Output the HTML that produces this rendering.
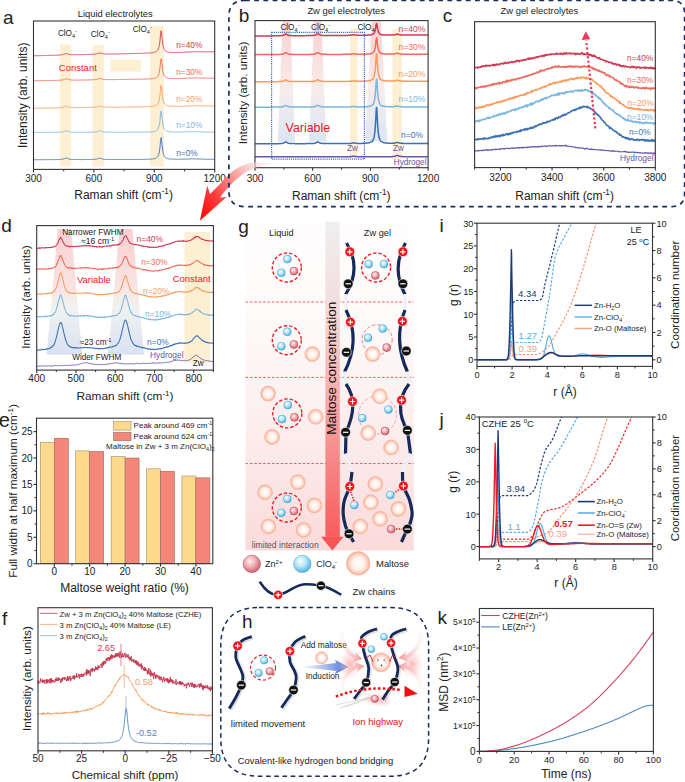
<!DOCTYPE html><html><head><meta charset="utf-8"><style>html,body{margin:0;padding:0;background:#fff;}svg{display:block;}text{font-family:"Liberation Sans",sans-serif;}</style></head><body><svg width="685" height="782" viewBox="0 0 685 782" font-family='"Liberation Sans", sans-serif'><defs><linearGradient id="bandB" x1="0" y1="0" x2="0" y2="1"><stop offset="0" stop-color="#fbd0d0"/><stop offset="0.55" stop-color="#f7ecea"/><stop offset="1" stop-color="#dde6f3"/></linearGradient><linearGradient id="bigar" gradientUnits="userSpaceOnUse" x1="272" y1="162" x2="205" y2="215"><stop offset="0" stop-color="#fde4e4" stop-opacity="0.3"/><stop offset="0.35" stop-color="#f9b8b8"/><stop offset="0.75" stop-color="#ff4040"/><stop offset="1" stop-color="#ff1010"/></linearGradient><linearGradient id="bandD" x1="0" y1="0" x2="0" y2="1"><stop offset="0" stop-color="#fbcfd0"/><stop offset="0.45" stop-color="#f9e3e2"/><stop offset="0.62" stop-color="#f1f2f0"/><stop offset="1" stop-color="#d9e2f2"/></linearGradient><radialGradient id="gB" cx="0.4" cy="0.35" r="0.7"><stop offset="0" stop-color="#ffffff"/><stop offset="0.45" stop-color="#b4e6f8"/><stop offset="1" stop-color="#44a8dc"/></radialGradient><radialGradient id="gR" cx="0.4" cy="0.35" r="0.7"><stop offset="0" stop-color="#fff0f0"/><stop offset="0.45" stop-color="#eeb0b6"/><stop offset="1" stop-color="#cc5866"/></radialGradient><radialGradient id="gM" cx="0.5" cy="0.5" r="0.5"><stop offset="0" stop-color="#ffffff"/><stop offset="0.55" stop-color="#fff0ea"/><stop offset="0.85" stop-color="#fcc6b2"/><stop offset="1" stop-color="#f6ac92"/></radialGradient><linearGradient id="gbg" x1="0" y1="0" x2="0" y2="1"><stop offset="0" stop-color="#fffdfd"/><stop offset="0.3" stop-color="#fefafa"/><stop offset="0.5" stop-color="#fdf3f3"/><stop offset="0.72" stop-color="#fce9e9"/><stop offset="1" stop-color="#fbdada"/></linearGradient><linearGradient id="garr" x1="0" y1="0" x2="0" y2="1"><stop offset="0" stop-color="#efefef"/><stop offset="0.25" stop-color="#f3dede"/><stop offset="0.5" stop-color="#f7b4b4"/><stop offset="1" stop-color="#f85c5c"/></linearGradient><linearGradient id="gblue" x1="0" y1="0" x2="1" y2="0"><stop offset="0" stop-color="#c8d8f4" stop-opacity="0.4"/><stop offset="1" stop-color="#3a68d0"/></linearGradient><radialGradient id="gglow" cx="0.5" cy="0.5" r="0.5"><stop offset="0" stop-color="#f8b0b0" stop-opacity="0.9"/><stop offset="1" stop-color="#fde0e0" stop-opacity="0"/></radialGradient><linearGradient id="gpkL" x1="0" y1="0" x2="1" y2="0"><stop offset="0" stop-color="#fbd4d4" stop-opacity="0"/><stop offset="1" stop-color="#f49494"/></linearGradient><linearGradient id="gpkR" x1="1" y1="0" x2="0" y2="0"><stop offset="0" stop-color="#fbd4d4" stop-opacity="0"/><stop offset="1" stop-color="#f49494"/></linearGradient><clipPath id="clipI"><rect x="477.0" y="223.2" width="175.5" height="143.2"/></clipPath><clipPath id="clipJ"><rect x="479.4" y="417.0" width="173.30000000000007" height="141.89999999999998"/></clipPath></defs><rect x="60" y="44.5" width="11.2" height="122" fill="#fdf0d2" stroke="none" stroke-width="1"/>
<rect x="92.6" y="45" width="11.2" height="121.5" fill="#fdf0d2" stroke="none" stroke-width="1"/>
<rect x="150" y="26" width="14" height="140.5" fill="#fdf0d2" stroke="none" stroke-width="1"/>
<rect x="110.4" y="60" width="30.6" height="11.6" fill="#fdf0d2" stroke="none" stroke-width="1"/>
<path d="M33.5,55.8 L33.9,55.8 L34.2,55.8 L34.6,55.8 L35.0,55.8 L35.3,55.7 L35.7,55.7 L36.0,55.7 L36.4,55.7 L36.8,55.7 L37.1,55.7 L37.5,55.7 L37.9,55.7 L38.2,55.7 L38.6,55.7 L38.9,55.7 L39.3,55.7 L39.7,55.6 L40.0,55.6 L40.4,55.6 L40.8,55.6 L41.1,55.6 L41.5,55.6 L41.9,55.6 L42.2,55.6 L42.6,55.6 L42.9,55.6 L43.3,55.6 L43.7,55.6 L44.0,55.5 L44.4,55.5 L44.8,55.5 L45.1,55.5 L45.5,55.5 L45.8,55.5 L46.2,55.5 L46.6,55.5 L46.9,55.5 L47.3,55.5 L47.7,55.5 L48.0,55.4 L48.4,55.4 L48.8,55.4 L49.1,55.4 L49.5,55.4 L49.8,55.4 L50.2,55.4 L50.6,55.4 L50.9,55.4 L51.3,55.4 L51.7,55.3 L52.0,55.3 L52.4,55.3 L52.7,55.3 L53.1,55.3 L53.5,55.3 L53.8,55.3 L54.2,55.3 L54.6,55.3 L54.9,55.2 L55.3,55.2 L55.7,55.2 L56.0,55.2 L56.4,55.2 L56.7,55.2 L57.1,55.2 L57.5,55.1 L57.8,55.1 L58.2,55.1 L58.6,55.1 L58.9,55.1 L59.3,55.0 L59.6,55.0 L60.0,55.0 L60.4,55.0 L60.7,54.9 L61.1,54.9 L61.5,54.8 L61.8,54.8 L62.2,54.7 L62.6,54.6 L62.9,54.6 L63.3,54.5 L63.6,54.3 L64.0,54.2 L64.4,54.1 L64.7,53.9 L65.1,53.7 L65.5,53.6 L65.8,53.5 L66.2,53.5 L66.5,53.5 L66.9,53.6 L67.3,53.7 L67.6,53.9 L68.0,54.0 L68.4,54.2 L68.7,54.3 L69.1,54.4 L69.4,54.4 L69.8,54.5 L70.2,54.6 L70.5,54.6 L70.9,54.6 L71.3,54.7 L71.6,54.7 L72.0,54.7 L72.4,54.7 L72.7,54.7 L73.1,54.7 L73.4,54.7 L73.8,54.7 L74.2,54.8 L74.5,54.8 L74.9,54.8 L75.3,54.8 L75.6,54.8 L76.0,54.8 L76.3,54.7 L76.7,54.7 L77.1,54.7 L77.4,54.7 L77.8,54.7 L78.2,54.7 L78.5,54.7 L78.9,54.7 L79.3,54.7 L79.6,54.7 L80.0,54.7 L80.3,54.7 L80.7,54.7 L81.1,54.7 L81.4,54.7 L81.8,54.7 L82.2,54.7 L82.5,54.6 L82.9,54.6 L83.2,54.6 L83.6,54.6 L84.0,54.6 L84.3,54.6 L84.7,54.6 L85.1,54.6 L85.4,54.6 L85.8,54.6 L86.2,54.6 L86.5,54.6 L86.9,54.5 L87.2,54.5 L87.6,54.5 L88.0,54.5 L88.3,54.5 L88.7,54.5 L89.1,54.5 L89.4,54.5 L89.8,54.5 L90.1,54.4 L90.5,54.4 L90.9,54.4 L91.2,54.4 L91.6,54.4 L92.0,54.4 L92.3,54.3 L92.7,54.3 L93.1,54.3 L93.4,54.3 L93.8,54.2 L94.1,54.2 L94.5,54.2 L94.9,54.1 L95.2,54.1 L95.6,54.0 L96.0,54.0 L96.3,53.9 L96.7,53.8 L97.0,53.7 L97.4,53.6 L97.8,53.4 L98.1,53.3 L98.5,53.2 L98.9,53.0 L99.2,53.0 L99.6,52.9 L100.0,53.0 L100.3,53.0 L100.7,53.2 L101.0,53.3 L101.4,53.4 L101.8,53.5 L102.1,53.6 L102.5,53.7 L102.9,53.8 L103.2,53.8 L103.6,53.9 L103.9,53.9 L104.3,53.9 L104.7,54.0 L105.0,54.0 L105.4,54.0 L105.8,54.0 L106.1,54.0 L106.5,54.0 L106.9,54.0 L107.2,54.0 L107.6,54.0 L107.9,54.0 L108.3,54.0 L108.7,54.0 L109.0,54.0 L109.4,54.0 L109.8,54.0 L110.1,54.0 L110.5,54.0 L110.8,54.0 L111.2,54.0 L111.6,54.0 L111.9,54.0 L112.3,54.0 L112.7,54.0 L113.0,54.0 L113.4,54.0 L113.8,54.0 L114.1,54.0 L114.5,54.0 L114.8,53.9 L115.2,53.9 L115.6,53.9 L115.9,53.9 L116.3,53.9 L116.7,53.9 L117.0,53.9 L117.4,53.9 L117.7,53.9 L118.1,53.9 L118.5,53.9 L118.8,53.9 L119.2,53.9 L119.6,53.9 L119.9,53.8 L120.3,53.8 L120.7,53.8 L121.0,53.8 L121.4,53.8 L121.7,53.8 L122.1,53.8 L122.5,53.8 L122.8,53.8 L123.2,53.8 L123.6,53.8 L123.9,53.8 L124.3,53.8 L124.6,53.7 L125.0,53.7 L125.4,53.7 L125.7,53.7 L126.1,53.7 L126.5,53.7 L126.8,53.7 L127.2,53.7 L127.5,53.7 L127.9,53.7 L128.3,53.7 L128.6,53.7 L129.0,53.6 L129.4,53.6 L129.7,53.6 L130.1,53.6 L130.5,53.6 L130.8,53.6 L131.2,53.6 L131.5,53.6 L131.9,53.6 L132.3,53.6 L132.6,53.6 L133.0,53.5 L133.4,53.5 L133.7,53.5 L134.1,53.5 L134.4,53.5 L134.8,53.5 L135.2,53.5 L135.5,53.5 L135.9,53.5 L136.3,53.5 L136.6,53.5 L137.0,53.4 L137.4,53.4 L137.7,53.4 L138.1,53.4 L138.4,53.4 L138.8,53.4 L139.2,53.4 L139.5,53.4 L139.9,53.4 L140.3,53.3 L140.6,53.3 L141.0,53.3 L141.3,53.3 L141.7,53.3 L142.1,53.3 L142.4,53.3 L142.8,53.3 L143.2,53.3 L143.5,53.2 L143.9,53.2 L144.3,53.2 L144.6,53.2 L145.0,53.2 L145.3,53.2 L145.7,53.2 L146.1,53.1 L146.4,53.1 L146.8,53.1 L147.2,53.1 L147.5,53.1 L147.9,53.1 L148.2,53.0 L148.6,53.0 L149.0,53.0 L149.3,53.0 L149.7,52.9 L150.1,52.9 L150.4,52.9 L150.8,52.9 L151.2,52.8 L151.5,52.8 L151.9,52.7 L152.2,52.7 L152.6,52.7 L153.0,52.6 L153.3,52.5 L153.7,52.5 L154.1,52.4 L154.4,52.3 L154.8,52.2 L155.1,52.1 L155.5,52.0 L155.9,51.8 L156.2,51.6 L156.6,51.4 L157.0,51.1 L157.3,50.7 L157.7,50.2 L158.1,49.6 L158.4,48.8 L158.8,47.8 L159.1,46.3 L159.5,44.3 L159.9,41.5 L160.2,37.9 L160.6,33.9 L161.0,30.9 L161.3,30.9 L161.7,33.7 L162.0,37.7 L162.4,41.3 L162.8,44.1 L163.1,46.1 L163.5,47.6 L163.9,48.7 L164.2,49.5 L164.6,50.1 L165.0,50.5 L165.3,50.9 L165.7,51.1 L166.0,51.4 L166.4,51.6 L166.8,51.7 L167.1,51.8 L167.5,51.9 L167.9,52.0 L168.2,52.1 L168.6,52.1 L168.9,52.2 L169.3,52.2 L169.7,52.3 L170.0,52.3 L170.4,52.3 L170.8,52.4 L171.1,52.4 L171.5,52.4 L171.9,52.4 L172.2,52.4 L172.6,52.4 L172.9,52.4 L173.3,52.4 L173.7,52.4 L174.0,52.4 L174.4,52.4 L174.8,52.4 L175.1,52.4 L175.5,52.4 L175.8,52.4 L176.2,52.4 L176.6,52.4 L176.9,52.4 L177.3,52.4 L177.7,52.4 L178.0,52.4 L178.4,52.4 L178.8,52.4 L179.1,52.4 L179.5,52.4 L179.8,52.4 L180.2,52.4 L180.6,52.3 L180.9,52.3 L181.3,52.3 L181.7,52.3 L182.0,52.3 L182.4,52.3 L182.7,52.3 L183.1,52.2 L183.5,52.2 L183.8,52.2 L184.2,52.2 L184.6,52.2 L184.9,52.1 L185.3,52.1 L185.6,52.1 L186.0,52.1 L186.4,52.1 L186.7,52.0 L187.1,52.0 L187.5,52.0 L187.8,52.0 L188.2,52.0 L188.6,51.9 L188.9,51.9 L189.3,51.9 L189.6,51.9 L190.0,51.9 L190.4,51.9 L190.7,51.8 L191.1,51.8 L191.5,51.8 L191.8,51.8 L192.2,51.8 L192.5,51.8 L192.9,51.8 L193.3,51.7 L193.6,51.7 L194.0,51.7 L194.4,51.7 L194.7,51.7 L195.1,51.7 L195.5,51.7 L195.8,51.7 L196.2,51.7 L196.5,51.7 L196.9,51.7 L197.3,51.7 L197.6,51.7 L198.0,51.7 L198.4,51.7 L198.7,51.7 L199.1,51.7 L199.4,51.7 L199.8,51.7 L200.2,51.7 L200.5,51.7 L200.9,51.7 L201.3,51.7 L201.6,51.7 L202.0,51.7 L202.4,51.7 L202.7,51.7 L203.1,51.7 L203.4,51.8 L203.8,51.8 L204.2,51.8 L204.5,51.8 L204.9,51.8 L205.3,51.8 L205.6,51.8 L206.0,51.8 L206.3,51.8 L206.7,51.8 L207.1,51.8 L207.4,51.8 L207.8,51.8 L208.2,51.8 L208.5,51.8 L208.9,51.8 L209.3,51.8 L209.6,51.8 L210.0,51.8 L210.3,51.8 L210.7,51.8 L211.1,51.8 L211.4,51.8 L211.8,51.8 L212.2,51.8 L212.5,51.8 L212.9,51.8 L213.2,51.8 L213.6,51.8 L214.0,51.8 L214.3,51.8 L214.7,51.8" stroke="#d03a55" stroke-width="0.9" fill="none" stroke-linejoin="round"/>
<path d="M33.5,80.8 L33.9,80.8 L34.2,80.8 L34.6,80.8 L35.0,80.8 L35.3,80.8 L35.7,80.8 L36.0,80.7 L36.4,80.7 L36.8,80.7 L37.1,80.7 L37.5,80.7 L37.9,80.7 L38.2,80.7 L38.6,80.7 L38.9,80.7 L39.3,80.7 L39.7,80.7 L40.0,80.7 L40.4,80.7 L40.8,80.7 L41.1,80.7 L41.5,80.7 L41.9,80.7 L42.2,80.7 L42.6,80.6 L42.9,80.6 L43.3,80.6 L43.7,80.6 L44.0,80.6 L44.4,80.6 L44.8,80.6 L45.1,80.6 L45.5,80.6 L45.8,80.6 L46.2,80.6 L46.6,80.6 L46.9,80.6 L47.3,80.6 L47.7,80.6 L48.0,80.6 L48.4,80.6 L48.8,80.5 L49.1,80.5 L49.5,80.5 L49.8,80.5 L50.2,80.5 L50.6,80.5 L50.9,80.5 L51.3,80.5 L51.7,80.5 L52.0,80.5 L52.4,80.5 L52.7,80.5 L53.1,80.5 L53.5,80.5 L53.8,80.4 L54.2,80.4 L54.6,80.4 L54.9,80.4 L55.3,80.4 L55.7,80.4 L56.0,80.4 L56.4,80.4 L56.7,80.4 L57.1,80.3 L57.5,80.3 L57.8,80.3 L58.2,80.3 L58.6,80.3 L58.9,80.3 L59.3,80.2 L59.6,80.2 L60.0,80.2 L60.4,80.2 L60.7,80.1 L61.1,80.1 L61.5,80.1 L61.8,80.0 L62.2,79.9 L62.6,79.9 L62.9,79.8 L63.3,79.7 L63.6,79.6 L64.0,79.4 L64.4,79.3 L64.7,79.1 L65.1,79.0 L65.5,78.8 L65.8,78.7 L66.2,78.7 L66.5,78.8 L66.9,78.9 L67.3,79.0 L67.6,79.2 L68.0,79.3 L68.4,79.4 L68.7,79.5 L69.1,79.6 L69.4,79.7 L69.8,79.8 L70.2,79.8 L70.5,79.9 L70.9,79.9 L71.3,80.0 L71.6,80.0 L72.0,80.0 L72.4,80.0 L72.7,80.0 L73.1,80.0 L73.4,80.1 L73.8,80.1 L74.2,80.1 L74.5,80.1 L74.9,80.1 L75.3,80.1 L75.6,80.1 L76.0,80.1 L76.3,80.1 L76.7,80.1 L77.1,80.1 L77.4,80.1 L77.8,80.1 L78.2,80.1 L78.5,80.1 L78.9,80.1 L79.3,80.1 L79.6,80.1 L80.0,80.1 L80.3,80.1 L80.7,80.1 L81.1,80.0 L81.4,80.0 L81.8,80.0 L82.2,80.0 L82.5,80.0 L82.9,80.0 L83.2,80.0 L83.6,80.0 L84.0,80.0 L84.3,80.0 L84.7,80.0 L85.1,80.0 L85.4,80.0 L85.8,80.0 L86.2,80.0 L86.5,80.0 L86.9,80.0 L87.2,79.9 L87.6,79.9 L88.0,79.9 L88.3,79.9 L88.7,79.9 L89.1,79.9 L89.4,79.9 L89.8,79.9 L90.1,79.9 L90.5,79.9 L90.9,79.9 L91.2,79.8 L91.6,79.8 L92.0,79.8 L92.3,79.8 L92.7,79.8 L93.1,79.8 L93.4,79.7 L93.8,79.7 L94.1,79.7 L94.5,79.6 L94.9,79.6 L95.2,79.6 L95.6,79.5 L96.0,79.4 L96.3,79.4 L96.7,79.3 L97.0,79.2 L97.4,79.1 L97.8,78.9 L98.1,78.8 L98.5,78.7 L98.9,78.5 L99.2,78.5 L99.6,78.4 L100.0,78.5 L100.3,78.6 L100.7,78.7 L101.0,78.8 L101.4,78.9 L101.8,79.0 L102.1,79.1 L102.5,79.2 L102.9,79.3 L103.2,79.4 L103.6,79.4 L103.9,79.4 L104.3,79.5 L104.7,79.5 L105.0,79.5 L105.4,79.5 L105.8,79.6 L106.1,79.6 L106.5,79.6 L106.9,79.6 L107.2,79.6 L107.6,79.6 L107.9,79.6 L108.3,79.6 L108.7,79.6 L109.0,79.6 L109.4,79.6 L109.8,79.6 L110.1,79.6 L110.5,79.6 L110.8,79.6 L111.2,79.6 L111.6,79.6 L111.9,79.6 L112.3,79.6 L112.7,79.6 L113.0,79.6 L113.4,79.6 L113.8,79.6 L114.1,79.6 L114.5,79.6 L114.8,79.6 L115.2,79.6 L115.6,79.6 L115.9,79.6 L116.3,79.6 L116.7,79.6 L117.0,79.6 L117.4,79.5 L117.7,79.5 L118.1,79.5 L118.5,79.5 L118.8,79.5 L119.2,79.5 L119.6,79.5 L119.9,79.5 L120.3,79.5 L120.7,79.5 L121.0,79.5 L121.4,79.5 L121.7,79.5 L122.1,79.5 L122.5,79.5 L122.8,79.5 L123.2,79.5 L123.6,79.5 L123.9,79.5 L124.3,79.5 L124.6,79.5 L125.0,79.4 L125.4,79.4 L125.7,79.4 L126.1,79.4 L126.5,79.4 L126.8,79.4 L127.2,79.4 L127.5,79.4 L127.9,79.4 L128.3,79.4 L128.6,79.4 L129.0,79.4 L129.4,79.4 L129.7,79.4 L130.1,79.4 L130.5,79.4 L130.8,79.4 L131.2,79.3 L131.5,79.3 L131.9,79.3 L132.3,79.3 L132.6,79.3 L133.0,79.3 L133.4,79.3 L133.7,79.3 L134.1,79.3 L134.4,79.3 L134.8,79.3 L135.2,79.3 L135.5,79.3 L135.9,79.3 L136.3,79.3 L136.6,79.3 L137.0,79.2 L137.4,79.2 L137.7,79.2 L138.1,79.2 L138.4,79.2 L138.8,79.2 L139.2,79.2 L139.5,79.2 L139.9,79.2 L140.3,79.2 L140.6,79.2 L141.0,79.2 L141.3,79.2 L141.7,79.1 L142.1,79.1 L142.4,79.1 L142.8,79.1 L143.2,79.1 L143.5,79.1 L143.9,79.1 L144.3,79.1 L144.6,79.1 L145.0,79.1 L145.3,79.1 L145.7,79.0 L146.1,79.0 L146.4,79.0 L146.8,79.0 L147.2,79.0 L147.5,79.0 L147.9,79.0 L148.2,78.9 L148.6,78.9 L149.0,78.9 L149.3,78.9 L149.7,78.9 L150.1,78.8 L150.4,78.8 L150.8,78.8 L151.2,78.8 L151.5,78.7 L151.9,78.7 L152.2,78.7 L152.6,78.6 L153.0,78.6 L153.3,78.5 L153.7,78.5 L154.1,78.4 L154.4,78.3 L154.8,78.2 L155.1,78.1 L155.5,78.0 L155.9,77.9 L156.2,77.7 L156.6,77.5 L157.0,77.2 L157.3,76.9 L157.7,76.4 L158.1,75.9 L158.4,75.2 L158.8,74.2 L159.1,72.9 L159.5,71.0 L159.9,68.5 L160.2,65.2 L160.6,61.6 L161.0,58.9 L161.3,58.8 L161.7,61.4 L162.0,65.0 L162.4,68.3 L162.8,70.9 L163.1,72.8 L163.5,74.1 L163.9,75.1 L164.2,75.8 L164.6,76.3 L165.0,76.7 L165.3,77.1 L165.7,77.3 L166.0,77.5 L166.4,77.7 L166.8,77.8 L167.1,77.9 L167.5,78.0 L167.9,78.1 L168.2,78.2 L168.6,78.2 L168.9,78.3 L169.3,78.3 L169.7,78.4 L170.0,78.4 L170.4,78.4 L170.8,78.4 L171.1,78.5 L171.5,78.5 L171.9,78.5 L172.2,78.5 L172.6,78.5 L172.9,78.5 L173.3,78.5 L173.7,78.5 L174.0,78.6 L174.4,78.6 L174.8,78.6 L175.1,78.6 L175.5,78.6 L175.8,78.6 L176.2,78.6 L176.6,78.6 L176.9,78.6 L177.3,78.6 L177.7,78.5 L178.0,78.5 L178.4,78.5 L178.8,78.5 L179.1,78.5 L179.5,78.5 L179.8,78.5 L180.2,78.5 L180.6,78.5 L180.9,78.5 L181.3,78.5 L181.7,78.5 L182.0,78.4 L182.4,78.4 L182.7,78.4 L183.1,78.4 L183.5,78.4 L183.8,78.4 L184.2,78.4 L184.6,78.3 L184.9,78.3 L185.3,78.3 L185.6,78.3 L186.0,78.3 L186.4,78.3 L186.7,78.2 L187.1,78.2 L187.5,78.2 L187.8,78.2 L188.2,78.2 L188.6,78.1 L188.9,78.1 L189.3,78.1 L189.6,78.1 L190.0,78.1 L190.4,78.1 L190.7,78.1 L191.1,78.0 L191.5,78.0 L191.8,78.0 L192.2,78.0 L192.5,78.0 L192.9,78.0 L193.3,78.0 L193.6,78.0 L194.0,78.0 L194.4,78.0 L194.7,78.0 L195.1,78.0 L195.5,77.9 L195.8,77.9 L196.2,77.9 L196.5,77.9 L196.9,77.9 L197.3,77.9 L197.6,78.0 L198.0,78.0 L198.4,78.0 L198.7,78.0 L199.1,78.0 L199.4,78.0 L199.8,78.0 L200.2,78.0 L200.5,78.0 L200.9,78.0 L201.3,78.0 L201.6,78.0 L202.0,78.0 L202.4,78.0 L202.7,78.1 L203.1,78.1 L203.4,78.1 L203.8,78.1 L204.2,78.1 L204.5,78.1 L204.9,78.1 L205.3,78.1 L205.6,78.1 L206.0,78.1 L206.3,78.1 L206.7,78.1 L207.1,78.1 L207.4,78.1 L207.8,78.2 L208.2,78.2 L208.5,78.2 L208.9,78.2 L209.3,78.2 L209.6,78.2 L210.0,78.2 L210.3,78.2 L210.7,78.2 L211.1,78.2 L211.4,78.2 L211.8,78.2 L212.2,78.2 L212.5,78.2 L212.9,78.2 L213.2,78.2 L213.6,78.2 L214.0,78.2 L214.3,78.2 L214.7,78.2" stroke="#ee6a5a" stroke-width="0.9" fill="none" stroke-linejoin="round"/>
<path d="M33.5,108.3 L33.9,108.3 L34.2,108.3 L34.6,108.3 L35.0,108.3 L35.3,108.3 L35.7,108.3 L36.0,108.3 L36.4,108.2 L36.8,108.2 L37.1,108.2 L37.5,108.2 L37.9,108.2 L38.2,108.2 L38.6,108.2 L38.9,108.2 L39.3,108.2 L39.7,108.2 L40.0,108.2 L40.4,108.2 L40.8,108.2 L41.1,108.2 L41.5,108.2 L41.9,108.2 L42.2,108.2 L42.6,108.2 L42.9,108.2 L43.3,108.2 L43.7,108.1 L44.0,108.1 L44.4,108.1 L44.8,108.1 L45.1,108.1 L45.5,108.1 L45.8,108.1 L46.2,108.1 L46.6,108.1 L46.9,108.1 L47.3,108.1 L47.7,108.1 L48.0,108.1 L48.4,108.1 L48.8,108.1 L49.1,108.1 L49.5,108.1 L49.8,108.1 L50.2,108.0 L50.6,108.0 L50.9,108.0 L51.3,108.0 L51.7,108.0 L52.0,108.0 L52.4,108.0 L52.7,108.0 L53.1,108.0 L53.5,108.0 L53.8,108.0 L54.2,108.0 L54.6,108.0 L54.9,107.9 L55.3,107.9 L55.7,107.9 L56.0,107.9 L56.4,107.9 L56.7,107.9 L57.1,107.9 L57.5,107.9 L57.8,107.9 L58.2,107.8 L58.6,107.8 L58.9,107.8 L59.3,107.8 L59.6,107.8 L60.0,107.7 L60.4,107.7 L60.7,107.7 L61.1,107.6 L61.5,107.6 L61.8,107.5 L62.2,107.5 L62.6,107.4 L62.9,107.3 L63.3,107.2 L63.6,107.1 L64.0,107.0 L64.4,106.8 L64.7,106.7 L65.1,106.5 L65.5,106.4 L65.8,106.3 L66.2,106.3 L66.5,106.3 L66.9,106.4 L67.3,106.6 L67.6,106.7 L68.0,106.9 L68.4,107.0 L68.7,107.1 L69.1,107.2 L69.4,107.3 L69.8,107.3 L70.2,107.4 L70.5,107.4 L70.9,107.5 L71.3,107.5 L71.6,107.5 L72.0,107.6 L72.4,107.6 L72.7,107.6 L73.1,107.6 L73.4,107.6 L73.8,107.6 L74.2,107.6 L74.5,107.6 L74.9,107.6 L75.3,107.6 L75.6,107.6 L76.0,107.7 L76.3,107.7 L76.7,107.7 L77.1,107.7 L77.4,107.7 L77.8,107.6 L78.2,107.6 L78.5,107.6 L78.9,107.6 L79.3,107.6 L79.6,107.6 L80.0,107.6 L80.3,107.6 L80.7,107.6 L81.1,107.6 L81.4,107.6 L81.8,107.6 L82.2,107.6 L82.5,107.6 L82.9,107.6 L83.2,107.6 L83.6,107.6 L84.0,107.6 L84.3,107.6 L84.7,107.6 L85.1,107.6 L85.4,107.6 L85.8,107.6 L86.2,107.6 L86.5,107.6 L86.9,107.5 L87.2,107.5 L87.6,107.5 L88.0,107.5 L88.3,107.5 L88.7,107.5 L89.1,107.5 L89.4,107.5 L89.8,107.5 L90.1,107.5 L90.5,107.5 L90.9,107.4 L91.2,107.4 L91.6,107.4 L92.0,107.4 L92.3,107.4 L92.7,107.4 L93.1,107.4 L93.4,107.3 L93.8,107.3 L94.1,107.3 L94.5,107.2 L94.9,107.2 L95.2,107.2 L95.6,107.1 L96.0,107.0 L96.3,107.0 L96.7,106.9 L97.0,106.8 L97.4,106.7 L97.8,106.6 L98.1,106.4 L98.5,106.3 L98.9,106.2 L99.2,106.1 L99.6,106.0 L100.0,106.1 L100.3,106.2 L100.7,106.3 L101.0,106.4 L101.4,106.5 L101.8,106.7 L102.1,106.8 L102.5,106.8 L102.9,106.9 L103.2,107.0 L103.6,107.0 L103.9,107.1 L104.3,107.1 L104.7,107.1 L105.0,107.1 L105.4,107.2 L105.8,107.2 L106.1,107.2 L106.5,107.2 L106.9,107.2 L107.2,107.2 L107.6,107.2 L107.9,107.2 L108.3,107.2 L108.7,107.2 L109.0,107.2 L109.4,107.2 L109.8,107.2 L110.1,107.2 L110.5,107.2 L110.8,107.2 L111.2,107.2 L111.6,107.2 L111.9,107.2 L112.3,107.2 L112.7,107.2 L113.0,107.2 L113.4,107.2 L113.8,107.2 L114.1,107.2 L114.5,107.2 L114.8,107.2 L115.2,107.2 L115.6,107.2 L115.9,107.2 L116.3,107.2 L116.7,107.2 L117.0,107.2 L117.4,107.2 L117.7,107.2 L118.1,107.2 L118.5,107.2 L118.8,107.2 L119.2,107.2 L119.6,107.2 L119.9,107.2 L120.3,107.2 L120.7,107.2 L121.0,107.1 L121.4,107.1 L121.7,107.1 L122.1,107.1 L122.5,107.1 L122.8,107.1 L123.2,107.1 L123.6,107.1 L123.9,107.1 L124.3,107.1 L124.6,107.1 L125.0,107.1 L125.4,107.1 L125.7,107.1 L126.1,107.1 L126.5,107.1 L126.8,107.1 L127.2,107.1 L127.5,107.1 L127.9,107.1 L128.3,107.1 L128.6,107.0 L129.0,107.0 L129.4,107.0 L129.7,107.0 L130.1,107.0 L130.5,107.0 L130.8,107.0 L131.2,107.0 L131.5,107.0 L131.9,107.0 L132.3,107.0 L132.6,107.0 L133.0,107.0 L133.4,107.0 L133.7,107.0 L134.1,107.0 L134.4,107.0 L134.8,107.0 L135.2,106.9 L135.5,106.9 L135.9,106.9 L136.3,106.9 L136.6,106.9 L137.0,106.9 L137.4,106.9 L137.7,106.9 L138.1,106.9 L138.4,106.9 L138.8,106.9 L139.2,106.9 L139.5,106.9 L139.9,106.9 L140.3,106.9 L140.6,106.8 L141.0,106.8 L141.3,106.8 L141.7,106.8 L142.1,106.8 L142.4,106.8 L142.8,106.8 L143.2,106.8 L143.5,106.8 L143.9,106.8 L144.3,106.8 L144.6,106.8 L145.0,106.7 L145.3,106.7 L145.7,106.7 L146.1,106.7 L146.4,106.7 L146.8,106.7 L147.2,106.7 L147.5,106.7 L147.9,106.6 L148.2,106.6 L148.6,106.6 L149.0,106.6 L149.3,106.6 L149.7,106.5 L150.1,106.5 L150.4,106.5 L150.8,106.5 L151.2,106.4 L151.5,106.4 L151.9,106.4 L152.2,106.3 L152.6,106.3 L153.0,106.2 L153.3,106.2 L153.7,106.1 L154.1,106.1 L154.4,106.0 L154.8,105.9 L155.1,105.8 L155.5,105.6 L155.9,105.5 L156.2,105.3 L156.6,105.1 L157.0,104.8 L157.3,104.5 L157.7,104.0 L158.1,103.5 L158.4,102.7 L158.8,101.7 L159.1,100.3 L159.5,98.3 L159.9,95.7 L160.2,92.2 L160.6,88.4 L161.0,85.6 L161.3,85.6 L161.7,88.3 L162.0,92.1 L162.4,95.5 L162.8,98.2 L163.1,100.2 L163.5,101.6 L163.9,102.6 L164.2,103.3 L164.6,103.9 L165.0,104.4 L165.3,104.7 L165.7,105.0 L166.0,105.2 L166.4,105.4 L166.8,105.5 L167.1,105.6 L167.5,105.7 L167.9,105.8 L168.2,105.9 L168.6,105.9 L168.9,106.0 L169.3,106.0 L169.7,106.1 L170.0,106.1 L170.4,106.1 L170.8,106.2 L171.1,106.2 L171.5,106.2 L171.9,106.2 L172.2,106.2 L172.6,106.2 L172.9,106.3 L173.3,106.3 L173.7,106.3 L174.0,106.3 L174.4,106.3 L174.8,106.3 L175.1,106.3 L175.5,106.3 L175.8,106.3 L176.2,106.3 L176.6,106.3 L176.9,106.3 L177.3,106.3 L177.7,106.3 L178.0,106.3 L178.4,106.3 L178.8,106.3 L179.1,106.3 L179.5,106.2 L179.8,106.2 L180.2,106.2 L180.6,106.2 L180.9,106.2 L181.3,106.2 L181.7,106.2 L182.0,106.2 L182.4,106.2 L182.7,106.2 L183.1,106.1 L183.5,106.1 L183.8,106.1 L184.2,106.1 L184.6,106.1 L184.9,106.1 L185.3,106.1 L185.6,106.0 L186.0,106.0 L186.4,106.0 L186.7,106.0 L187.1,106.0 L187.5,106.0 L187.8,105.9 L188.2,105.9 L188.6,105.9 L188.9,105.9 L189.3,105.9 L189.6,105.9 L190.0,105.8 L190.4,105.8 L190.7,105.8 L191.1,105.8 L191.5,105.8 L191.8,105.8 L192.2,105.8 L192.5,105.8 L192.9,105.7 L193.3,105.7 L193.6,105.7 L194.0,105.7 L194.4,105.7 L194.7,105.7 L195.1,105.7 L195.5,105.7 L195.8,105.7 L196.2,105.7 L196.5,105.7 L196.9,105.7 L197.3,105.7 L197.6,105.7 L198.0,105.7 L198.4,105.7 L198.7,105.7 L199.1,105.7 L199.4,105.8 L199.8,105.8 L200.2,105.8 L200.5,105.8 L200.9,105.8 L201.3,105.8 L201.6,105.8 L202.0,105.8 L202.4,105.8 L202.7,105.8 L203.1,105.8 L203.4,105.8 L203.8,105.9 L204.2,105.9 L204.5,105.9 L204.9,105.9 L205.3,105.9 L205.6,105.9 L206.0,105.9 L206.3,105.9 L206.7,105.9 L207.1,105.9 L207.4,105.9 L207.8,105.9 L208.2,105.9 L208.5,105.9 L208.9,106.0 L209.3,106.0 L209.6,106.0 L210.0,106.0 L210.3,106.0 L210.7,106.0 L211.1,106.0 L211.4,106.0 L211.8,106.0 L212.2,106.0 L212.5,106.0 L212.9,106.0 L213.2,106.0 L213.6,106.0 L214.0,106.0 L214.3,106.0 L214.7,106.0" stroke="#f89c5e" stroke-width="0.9" fill="none" stroke-linejoin="round"/>
<path d="M33.5,132.4 L33.9,132.4 L34.2,132.4 L34.6,132.4 L35.0,132.4 L35.3,132.4 L35.7,132.4 L36.0,132.4 L36.4,132.4 L36.8,132.4 L37.1,132.4 L37.5,132.4 L37.9,132.4 L38.2,132.4 L38.6,132.4 L38.9,132.4 L39.3,132.4 L39.7,132.4 L40.0,132.4 L40.4,132.4 L40.8,132.4 L41.1,132.4 L41.5,132.4 L41.9,132.4 L42.2,132.4 L42.6,132.4 L42.9,132.4 L43.3,132.4 L43.7,132.4 L44.0,132.4 L44.4,132.4 L44.8,132.4 L45.1,132.4 L45.5,132.4 L45.8,132.4 L46.2,132.4 L46.6,132.4 L46.9,132.4 L47.3,132.4 L47.7,132.4 L48.0,132.3 L48.4,132.3 L48.8,132.3 L49.1,132.3 L49.5,132.3 L49.8,132.3 L50.2,132.3 L50.6,132.3 L50.9,132.3 L51.3,132.3 L51.7,132.3 L52.0,132.3 L52.4,132.3 L52.7,132.3 L53.1,132.3 L53.5,132.3 L53.8,132.3 L54.2,132.3 L54.6,132.3 L54.9,132.3 L55.3,132.3 L55.7,132.3 L56.0,132.3 L56.4,132.3 L56.7,132.3 L57.1,132.3 L57.5,132.2 L57.8,132.2 L58.2,132.2 L58.6,132.2 L58.9,132.2 L59.3,132.2 L59.6,132.2 L60.0,132.1 L60.4,132.1 L60.7,132.1 L61.1,132.1 L61.5,132.0 L61.8,132.0 L62.2,131.9 L62.6,131.9 L62.9,131.8 L63.3,131.7 L63.6,131.6 L64.0,131.4 L64.4,131.3 L64.7,131.2 L65.1,131.0 L65.5,130.9 L65.8,130.8 L66.2,130.8 L66.5,130.8 L66.9,130.9 L67.3,131.0 L67.6,131.2 L68.0,131.4 L68.4,131.5 L68.7,131.6 L69.1,131.7 L69.4,131.8 L69.8,131.9 L70.2,131.9 L70.5,132.0 L70.9,132.0 L71.3,132.1 L71.6,132.1 L72.0,132.1 L72.4,132.1 L72.7,132.2 L73.1,132.2 L73.4,132.2 L73.8,132.2 L74.2,132.2 L74.5,132.2 L74.9,132.2 L75.3,132.2 L75.6,132.2 L76.0,132.2 L76.3,132.2 L76.7,132.3 L77.1,132.3 L77.4,132.3 L77.8,132.3 L78.2,132.3 L78.5,132.3 L78.9,132.3 L79.3,132.3 L79.6,132.3 L80.0,132.3 L80.3,132.3 L80.7,132.3 L81.1,132.3 L81.4,132.3 L81.8,132.3 L82.2,132.3 L82.5,132.3 L82.9,132.3 L83.2,132.3 L83.6,132.3 L84.0,132.3 L84.3,132.3 L84.7,132.3 L85.1,132.3 L85.4,132.3 L85.8,132.3 L86.2,132.3 L86.5,132.3 L86.9,132.3 L87.2,132.3 L87.6,132.3 L88.0,132.3 L88.3,132.3 L88.7,132.2 L89.1,132.2 L89.4,132.2 L89.8,132.2 L90.1,132.2 L90.5,132.2 L90.9,132.2 L91.2,132.2 L91.6,132.2 L92.0,132.2 L92.3,132.2 L92.7,132.2 L93.1,132.1 L93.4,132.1 L93.8,132.1 L94.1,132.1 L94.5,132.1 L94.9,132.0 L95.2,132.0 L95.6,131.9 L96.0,131.9 L96.3,131.8 L96.7,131.7 L97.0,131.6 L97.4,131.5 L97.8,131.4 L98.1,131.3 L98.5,131.1 L98.9,131.0 L99.2,130.9 L99.6,130.9 L100.0,130.9 L100.3,131.0 L100.7,131.2 L101.0,131.3 L101.4,131.4 L101.8,131.6 L102.1,131.7 L102.5,131.7 L102.9,131.8 L103.2,131.9 L103.6,131.9 L103.9,132.0 L104.3,132.0 L104.7,132.0 L105.0,132.1 L105.4,132.1 L105.8,132.1 L106.1,132.1 L106.5,132.2 L106.9,132.2 L107.2,132.2 L107.6,132.2 L107.9,132.2 L108.3,132.2 L108.7,132.2 L109.0,132.2 L109.4,132.2 L109.8,132.2 L110.1,132.2 L110.5,132.2 L110.8,132.2 L111.2,132.2 L111.6,132.2 L111.9,132.2 L112.3,132.2 L112.7,132.2 L113.0,132.2 L113.4,132.3 L113.8,132.3 L114.1,132.3 L114.5,132.3 L114.8,132.3 L115.2,132.3 L115.6,132.3 L115.9,132.3 L116.3,132.3 L116.7,132.3 L117.0,132.3 L117.4,132.3 L117.7,132.3 L118.1,132.3 L118.5,132.3 L118.8,132.3 L119.2,132.3 L119.6,132.3 L119.9,132.3 L120.3,132.3 L120.7,132.3 L121.0,132.3 L121.4,132.3 L121.7,132.3 L122.1,132.3 L122.5,132.3 L122.8,132.3 L123.2,132.3 L123.6,132.3 L123.9,132.3 L124.3,132.3 L124.6,132.3 L125.0,132.3 L125.4,132.3 L125.7,132.3 L126.1,132.3 L126.5,132.3 L126.8,132.3 L127.2,132.3 L127.5,132.3 L127.9,132.3 L128.3,132.2 L128.6,132.2 L129.0,132.2 L129.4,132.2 L129.7,132.2 L130.1,132.2 L130.5,132.2 L130.8,132.2 L131.2,132.2 L131.5,132.2 L131.9,132.2 L132.3,132.2 L132.6,132.2 L133.0,132.2 L133.4,132.2 L133.7,132.2 L134.1,132.2 L134.4,132.2 L134.8,132.2 L135.2,132.2 L135.5,132.2 L135.9,132.2 L136.3,132.2 L136.6,132.2 L137.0,132.2 L137.4,132.2 L137.7,132.2 L138.1,132.2 L138.4,132.2 L138.8,132.2 L139.2,132.2 L139.5,132.2 L139.9,132.2 L140.3,132.2 L140.6,132.2 L141.0,132.2 L141.3,132.2 L141.7,132.2 L142.1,132.2 L142.4,132.2 L142.8,132.2 L143.2,132.2 L143.5,132.2 L143.9,132.2 L144.3,132.1 L144.6,132.1 L145.0,132.1 L145.3,132.1 L145.7,132.1 L146.1,132.1 L146.4,132.1 L146.8,132.1 L147.2,132.1 L147.5,132.1 L147.9,132.1 L148.2,132.1 L148.6,132.0 L149.0,132.0 L149.3,132.0 L149.7,132.0 L150.1,132.0 L150.4,132.0 L150.8,131.9 L151.2,131.9 L151.5,131.9 L151.9,131.8 L152.2,131.8 L152.6,131.8 L153.0,131.7 L153.3,131.7 L153.7,131.6 L154.1,131.6 L154.4,131.5 L154.8,131.4 L155.1,131.3 L155.5,131.2 L155.9,131.0 L156.2,130.8 L156.6,130.6 L157.0,130.4 L157.3,130.0 L157.7,129.6 L158.1,129.0 L158.4,128.3 L158.8,127.2 L159.1,125.9 L159.5,123.9 L159.9,121.3 L160.2,117.9 L160.6,114.1 L161.0,111.3 L161.3,111.2 L161.7,114.0 L162.0,117.7 L162.4,121.2 L162.8,123.9 L163.1,125.8 L163.5,127.2 L163.9,128.2 L164.2,129.0 L164.6,129.6 L165.0,130.0 L165.3,130.3 L165.7,130.6 L166.0,130.8 L166.4,131.0 L166.8,131.1 L167.1,131.3 L167.5,131.4 L167.9,131.5 L168.2,131.5 L168.6,131.6 L168.9,131.7 L169.3,131.7 L169.7,131.8 L170.0,131.8 L170.4,131.8 L170.8,131.9 L171.1,131.9 L171.5,131.9 L171.9,131.9 L172.2,131.9 L172.6,132.0 L172.9,132.0 L173.3,132.0 L173.7,132.0 L174.0,132.0 L174.4,132.0 L174.8,132.0 L175.1,132.0 L175.5,132.0 L175.8,132.0 L176.2,132.0 L176.6,132.0 L176.9,132.0 L177.3,132.0 L177.7,132.1 L178.0,132.0 L178.4,132.0 L178.8,132.0 L179.1,132.0 L179.5,132.0 L179.8,132.0 L180.2,132.0 L180.6,132.0 L180.9,132.0 L181.3,132.0 L181.7,132.0 L182.0,132.0 L182.4,132.0 L182.7,132.0 L183.1,132.0 L183.5,132.0 L183.8,132.0 L184.2,131.9 L184.6,131.9 L184.9,131.9 L185.3,131.9 L185.6,131.9 L186.0,131.9 L186.4,131.9 L186.7,131.9 L187.1,131.8 L187.5,131.8 L187.8,131.8 L188.2,131.8 L188.6,131.8 L188.9,131.8 L189.3,131.8 L189.6,131.8 L190.0,131.8 L190.4,131.7 L190.7,131.7 L191.1,131.7 L191.5,131.7 L191.8,131.7 L192.2,131.7 L192.5,131.7 L192.9,131.7 L193.3,131.7 L193.6,131.7 L194.0,131.7 L194.4,131.7 L194.7,131.7 L195.1,131.7 L195.5,131.7 L195.8,131.7 L196.2,131.7 L196.5,131.7 L196.9,131.7 L197.3,131.7 L197.6,131.7 L198.0,131.7 L198.4,131.7 L198.7,131.8 L199.1,131.8 L199.4,131.8 L199.8,131.8 L200.2,131.8 L200.5,131.8 L200.9,131.8 L201.3,131.8 L201.6,131.9 L202.0,131.9 L202.4,131.9 L202.7,131.9 L203.1,131.9 L203.4,131.9 L203.8,131.9 L204.2,131.9 L204.5,132.0 L204.9,132.0 L205.3,132.0 L205.6,132.0 L206.0,132.0 L206.3,132.0 L206.7,132.0 L207.1,132.0 L207.4,132.1 L207.8,132.1 L208.2,132.1 L208.5,132.1 L208.9,132.1 L209.3,132.1 L209.6,132.1 L210.0,132.1 L210.3,132.1 L210.7,132.1 L211.1,132.1 L211.4,132.1 L211.8,132.1 L212.2,132.1 L212.5,132.1 L212.9,132.1 L213.2,132.2 L213.6,132.2 L214.0,132.2 L214.3,132.2 L214.7,132.2" stroke="#7ab6de" stroke-width="0.9" fill="none" stroke-linejoin="round"/>
<path d="M33.5,159.7 L33.9,159.7 L34.2,159.7 L34.6,159.7 L35.0,159.7 L35.3,159.7 L35.7,159.7 L36.0,159.7 L36.4,159.7 L36.8,159.7 L37.1,159.7 L37.5,159.7 L37.9,159.7 L38.2,159.7 L38.6,159.7 L38.9,159.7 L39.3,159.7 L39.7,159.7 L40.0,159.7 L40.4,159.7 L40.8,159.7 L41.1,159.7 L41.5,159.7 L41.9,159.7 L42.2,159.7 L42.6,159.7 L42.9,159.7 L43.3,159.7 L43.7,159.7 L44.0,159.7 L44.4,159.7 L44.8,159.7 L45.1,159.7 L45.5,159.7 L45.8,159.7 L46.2,159.6 L46.6,159.6 L46.9,159.6 L47.3,159.6 L47.7,159.6 L48.0,159.6 L48.4,159.6 L48.8,159.6 L49.1,159.6 L49.5,159.6 L49.8,159.6 L50.2,159.6 L50.6,159.6 L50.9,159.6 L51.3,159.6 L51.7,159.6 L52.0,159.6 L52.4,159.6 L52.7,159.6 L53.1,159.6 L53.5,159.6 L53.8,159.6 L54.2,159.6 L54.6,159.6 L54.9,159.6 L55.3,159.6 L55.7,159.6 L56.0,159.6 L56.4,159.6 L56.7,159.6 L57.1,159.5 L57.5,159.5 L57.8,159.5 L58.2,159.5 L58.6,159.5 L58.9,159.5 L59.3,159.5 L59.6,159.5 L60.0,159.4 L60.4,159.4 L60.7,159.4 L61.1,159.3 L61.5,159.3 L61.8,159.3 L62.2,159.2 L62.6,159.1 L62.9,159.1 L63.3,159.0 L63.6,158.9 L64.0,158.7 L64.4,158.6 L64.7,158.4 L65.1,158.3 L65.5,158.1 L65.8,158.1 L66.2,158.0 L66.5,158.1 L66.9,158.2 L67.3,158.3 L67.6,158.5 L68.0,158.6 L68.4,158.8 L68.7,158.9 L69.1,159.0 L69.4,159.1 L69.8,159.1 L70.2,159.2 L70.5,159.3 L70.9,159.3 L71.3,159.3 L71.6,159.4 L72.0,159.4 L72.4,159.4 L72.7,159.4 L73.1,159.4 L73.4,159.5 L73.8,159.5 L74.2,159.5 L74.5,159.5 L74.9,159.5 L75.3,159.5 L75.6,159.5 L76.0,159.5 L76.3,159.5 L76.7,159.5 L77.1,159.5 L77.4,159.5 L77.8,159.5 L78.2,159.5 L78.5,159.5 L78.9,159.5 L79.3,159.5 L79.6,159.5 L80.0,159.5 L80.3,159.5 L80.7,159.6 L81.1,159.6 L81.4,159.6 L81.8,159.6 L82.2,159.6 L82.5,159.6 L82.9,159.6 L83.2,159.6 L83.6,159.5 L84.0,159.5 L84.3,159.5 L84.7,159.5 L85.1,159.5 L85.4,159.5 L85.8,159.5 L86.2,159.5 L86.5,159.5 L86.9,159.5 L87.2,159.5 L87.6,159.5 L88.0,159.5 L88.3,159.5 L88.7,159.5 L89.1,159.5 L89.4,159.5 L89.8,159.5 L90.1,159.5 L90.5,159.5 L90.9,159.5 L91.2,159.5 L91.6,159.5 L92.0,159.5 L92.3,159.4 L92.7,159.4 L93.1,159.4 L93.4,159.4 L93.8,159.4 L94.1,159.3 L94.5,159.3 L94.9,159.3 L95.2,159.2 L95.6,159.2 L96.0,159.1 L96.3,159.1 L96.7,159.0 L97.0,158.9 L97.4,158.8 L97.8,158.7 L98.1,158.5 L98.5,158.4 L98.9,158.3 L99.2,158.2 L99.6,158.2 L100.0,158.2 L100.3,158.3 L100.7,158.4 L101.0,158.6 L101.4,158.7 L101.8,158.8 L102.1,158.9 L102.5,159.0 L102.9,159.1 L103.2,159.1 L103.6,159.2 L103.9,159.2 L104.3,159.3 L104.7,159.3 L105.0,159.3 L105.4,159.4 L105.8,159.4 L106.1,159.4 L106.5,159.4 L106.9,159.4 L107.2,159.4 L107.6,159.4 L107.9,159.5 L108.3,159.5 L108.7,159.5 L109.0,159.5 L109.4,159.5 L109.8,159.5 L110.1,159.5 L110.5,159.5 L110.8,159.5 L111.2,159.5 L111.6,159.5 L111.9,159.5 L112.3,159.5 L112.7,159.5 L113.0,159.5 L113.4,159.5 L113.8,159.5 L114.1,159.5 L114.5,159.5 L114.8,159.5 L115.2,159.5 L115.6,159.5 L115.9,159.5 L116.3,159.5 L116.7,159.5 L117.0,159.5 L117.4,159.5 L117.7,159.5 L118.1,159.5 L118.5,159.5 L118.8,159.5 L119.2,159.5 L119.6,159.5 L119.9,159.5 L120.3,159.5 L120.7,159.5 L121.0,159.5 L121.4,159.5 L121.7,159.5 L122.1,159.5 L122.5,159.5 L122.8,159.5 L123.2,159.5 L123.6,159.5 L123.9,159.5 L124.3,159.5 L124.6,159.5 L125.0,159.5 L125.4,159.5 L125.7,159.5 L126.1,159.5 L126.5,159.5 L126.8,159.5 L127.2,159.5 L127.5,159.5 L127.9,159.5 L128.3,159.5 L128.6,159.5 L129.0,159.5 L129.4,159.5 L129.7,159.5 L130.1,159.5 L130.5,159.5 L130.8,159.5 L131.2,159.5 L131.5,159.5 L131.9,159.5 L132.3,159.5 L132.6,159.5 L133.0,159.5 L133.4,159.5 L133.7,159.5 L134.1,159.5 L134.4,159.5 L134.8,159.5 L135.2,159.5 L135.5,159.5 L135.9,159.5 L136.3,159.5 L136.6,159.5 L137.0,159.5 L137.4,159.5 L137.7,159.5 L138.1,159.4 L138.4,159.4 L138.8,159.4 L139.2,159.4 L139.5,159.4 L139.9,159.4 L140.3,159.4 L140.6,159.4 L141.0,159.4 L141.3,159.4 L141.7,159.4 L142.1,159.4 L142.4,159.4 L142.8,159.4 L143.2,159.4 L143.5,159.4 L143.9,159.4 L144.3,159.4 L144.6,159.4 L145.0,159.4 L145.3,159.4 L145.7,159.4 L146.1,159.3 L146.4,159.3 L146.8,159.3 L147.2,159.3 L147.5,159.3 L147.9,159.3 L148.2,159.3 L148.6,159.3 L149.0,159.3 L149.3,159.2 L149.7,159.2 L150.1,159.2 L150.4,159.2 L150.8,159.2 L151.2,159.1 L151.5,159.1 L151.9,159.1 L152.2,159.0 L152.6,159.0 L153.0,158.9 L153.3,158.9 L153.7,158.8 L154.1,158.8 L154.4,158.7 L154.8,158.6 L155.1,158.5 L155.5,158.4 L155.9,158.2 L156.2,158.0 L156.6,157.8 L157.0,157.5 L157.3,157.2 L157.7,156.7 L158.1,156.1 L158.4,155.3 L158.8,154.3 L159.1,152.9 L159.5,150.9 L159.9,148.1 L160.2,144.6 L160.6,140.6 L161.0,137.7 L161.3,137.7 L161.7,140.5 L162.0,144.4 L162.4,148.0 L162.8,150.8 L163.1,152.8 L163.5,154.2 L163.9,155.3 L164.2,156.1 L164.6,156.7 L165.0,157.1 L165.3,157.5 L165.7,157.8 L166.0,158.0 L166.4,158.2 L166.8,158.3 L167.1,158.5 L167.5,158.6 L167.9,158.7 L168.2,158.7 L168.6,158.8 L168.9,158.9 L169.3,158.9 L169.7,159.0 L170.0,159.0 L170.4,159.0 L170.8,159.1 L171.1,159.1 L171.5,159.1 L171.9,159.1 L172.2,159.2 L172.6,159.2 L172.9,159.2 L173.3,159.2 L173.7,159.2 L174.0,159.2 L174.4,159.2 L174.8,159.2 L175.1,159.2 L175.5,159.2 L175.8,159.3 L176.2,159.3 L176.6,159.3 L176.9,159.3 L177.3,159.3 L177.7,159.3 L178.0,159.3 L178.4,159.3 L178.8,159.3 L179.1,159.3 L179.5,159.3 L179.8,159.3 L180.2,159.2 L180.6,159.2 L180.9,159.2 L181.3,159.2 L181.7,159.2 L182.0,159.2 L182.4,159.2 L182.7,159.2 L183.1,159.2 L183.5,159.2 L183.8,159.2 L184.2,159.2 L184.6,159.1 L184.9,159.1 L185.3,159.1 L185.6,159.1 L186.0,159.1 L186.4,159.1 L186.7,159.1 L187.1,159.1 L187.5,159.0 L187.8,159.0 L188.2,159.0 L188.6,159.0 L188.9,159.0 L189.3,159.0 L189.6,159.0 L190.0,159.0 L190.4,159.0 L190.7,158.9 L191.1,158.9 L191.5,158.9 L191.8,158.9 L192.2,158.9 L192.5,158.9 L192.9,158.9 L193.3,158.9 L193.6,158.9 L194.0,158.9 L194.4,158.9 L194.7,158.9 L195.1,158.9 L195.5,158.9 L195.8,158.9 L196.2,158.9 L196.5,158.9 L196.9,158.9 L197.3,158.9 L197.6,158.9 L198.0,158.9 L198.4,159.0 L198.7,159.0 L199.1,159.0 L199.4,159.0 L199.8,159.0 L200.2,159.0 L200.5,159.0 L200.9,159.0 L201.3,159.0 L201.6,159.1 L202.0,159.1 L202.4,159.1 L202.7,159.1 L203.1,159.1 L203.4,159.1 L203.8,159.1 L204.2,159.2 L204.5,159.2 L204.9,159.2 L205.3,159.2 L205.6,159.2 L206.0,159.2 L206.3,159.2 L206.7,159.2 L207.1,159.2 L207.4,159.3 L207.8,159.3 L208.2,159.3 L208.5,159.3 L208.9,159.3 L209.3,159.3 L209.6,159.3 L210.0,159.3 L210.3,159.3 L210.7,159.3 L211.1,159.3 L211.4,159.3 L211.8,159.3 L212.2,159.3 L212.5,159.3 L212.9,159.4 L213.2,159.4 L213.6,159.4 L214.0,159.4 L214.3,159.4 L214.7,159.4" stroke="#3a70b4" stroke-width="0.9" fill="none" stroke-linejoin="round"/>
<rect x="33.5" y="21.0" width="181.2" height="148.4" fill="none" stroke="#333" stroke-width="1.1"/>
<line x1="33.5" y1="169.4" x2="33.5" y2="172.4" stroke="#333" stroke-width="1.1"/>
<text x="33.5" y="182" font-size="10" text-anchor="middle" fill="#222" font-weight="normal">300</text>
<line x1="93.9" y1="169.4" x2="93.9" y2="172.4" stroke="#333" stroke-width="1.1"/>
<text x="93.9" y="182" font-size="10" text-anchor="middle" fill="#222" font-weight="normal">600</text>
<line x1="154.3" y1="169.4" x2="154.3" y2="172.4" stroke="#333" stroke-width="1.1"/>
<text x="154.3" y="182" font-size="10" text-anchor="middle" fill="#222" font-weight="normal">900</text>
<line x1="214.7" y1="169.4" x2="214.7" y2="172.4" stroke="#333" stroke-width="1.1"/>
<text x="214.7" y="182" font-size="10" text-anchor="middle" fill="#222" font-weight="normal">1200</text>
<line x1="63.7" y1="169.4" x2="63.7" y2="171.4" stroke="#333" stroke-width="1"/>
<line x1="124.1" y1="169.4" x2="124.1" y2="171.4" stroke="#333" stroke-width="1"/>
<line x1="184.5" y1="169.4" x2="184.5" y2="171.4" stroke="#333" stroke-width="1"/>
<text x="2.9" y="23.6" font-size="19" text-anchor="start" fill="#222" font-weight="normal">a</text>
<text x="115.2" y="16.6" font-size="9.4" text-anchor="middle" fill="#222" font-weight="normal">Liquid electrolytes</text>
<text x="57.9" y="36.2" font-size="8.2" text-anchor="start" fill="#222" font-weight="normal">ClO<tspan font-size="5.6" baseline-shift="-1.80">4</tspan><tspan font-size="5.6" baseline-shift="3.12">-</tspan></text>
<text x="90.7" y="36.8" font-size="8.2" text-anchor="start" fill="#222" font-weight="normal">ClO<tspan font-size="5.6" baseline-shift="-1.80">4</tspan><tspan font-size="5.6" baseline-shift="3.12">-</tspan></text>
<text x="132.7" y="32.4" font-size="8.2" text-anchor="start" fill="#222" font-weight="normal">ClO<tspan font-size="5.6" baseline-shift="-1.80">4</tspan><tspan font-size="5.6" baseline-shift="3.12">-</tspan></text>
<text x="58.8" y="71.4" font-size="9.5" text-anchor="start" fill="#f0141e" font-weight="normal">Constant</text>
<text x="176.2" y="48" font-size="8.3" text-anchor="start" fill="#d03a55" font-weight="normal">n=40%</text>
<text x="176.2" y="74.6" font-size="8.3" text-anchor="start" fill="#ee6a5a" font-weight="normal">n=30%</text>
<text x="176.2" y="101.8" font-size="8.3" text-anchor="start" fill="#f89c5e" font-weight="normal">n=20%</text>
<text x="176.2" y="128" font-size="8.3" text-anchor="start" fill="#7ab6de" font-weight="normal">n=10%</text>
<text x="176.2" y="156.4" font-size="8.3" text-anchor="start" fill="#3a70b4" font-weight="normal">n=0%</text>
<text x="123.6" y="198.8" font-size="12" text-anchor="middle" fill="#222" font-weight="normal">Raman shift (cm<tspan font-size="8.2" baseline-shift="4.56">-1</tspan>)</text>
<text x="27.0" y="95.3" font-size="12" text-anchor="middle" fill="#222" font-weight="normal" transform="rotate(-90 27.0 95.3)">Intensity (arb. units)</text>
<path d="M282.59999999999997,21.5 L290.2,21.5 L295.09999999999997,141.6 L277.7,141.6 Z" stroke="none" stroke-width="1" fill="url(#bandB)"/>
<path d="M314.09999999999997,21.5 L321.3,21.5 L326.4,141.6 L309.0,141.6 Z" stroke="none" stroke-width="1" fill="url(#bandB)"/>
<path d="M371.7,21.5 L380.7,21.5 L387.4,141.6 L365.0,141.6 Z" stroke="none" stroke-width="1" fill="url(#bandB)"/>
<rect x="350" y="29" width="7.6" height="130" fill="#fdf0d2" stroke="none" stroke-width="1"/>
<rect x="392.4" y="29" width="9.3" height="130" fill="#fdf0d2" stroke="none" stroke-width="1"/>
<path d="M255.0,36.0 L255.3,36.0 L255.6,36.0 L255.9,36.0 L256.2,36.0 L256.4,36.0 L256.7,36.0 L257.0,36.0 L257.3,36.0 L257.6,36.0 L257.9,36.0 L258.2,36.0 L258.5,36.0 L258.8,36.0 L259.0,36.0 L259.3,36.0 L259.6,36.0 L259.9,36.0 L260.2,36.0 L260.5,36.0 L260.8,36.0 L261.1,36.0 L261.4,36.0 L261.6,35.9 L261.9,35.9 L262.2,35.9 L262.5,35.9 L262.8,35.9 L263.1,35.9 L263.4,35.9 L263.7,35.9 L264.0,35.9 L264.2,35.9 L264.5,35.9 L264.8,35.9 L265.1,35.9 L265.4,35.9 L265.7,35.9 L266.0,35.9 L266.3,35.9 L266.6,35.9 L266.8,35.9 L267.1,35.9 L267.4,35.9 L267.7,35.9 L268.0,35.9 L268.3,35.9 L268.6,35.9 L268.9,35.9 L269.2,35.9 L269.4,35.9 L269.7,35.9 L270.0,35.9 L270.3,35.9 L270.6,35.9 L270.9,35.9 L271.2,35.9 L271.5,35.9 L271.8,35.9 L272.0,35.9 L272.3,35.9 L272.6,35.9 L272.9,35.9 L273.2,35.9 L273.5,35.9 L273.8,35.8 L274.1,35.8 L274.4,35.8 L274.7,35.8 L274.9,35.8 L275.2,35.8 L275.5,35.8 L275.8,35.8 L276.1,35.8 L276.4,35.8 L276.7,35.8 L277.0,35.8 L277.3,35.8 L277.5,35.8 L277.8,35.8 L278.1,35.8 L278.4,35.8 L278.7,35.8 L279.0,35.7 L279.3,35.7 L279.6,35.7 L279.9,35.7 L280.1,35.7 L280.4,35.7 L280.7,35.7 L281.0,35.6 L281.3,35.6 L281.6,35.6 L281.9,35.5 L282.2,35.5 L282.5,35.4 L282.7,35.4 L283.0,35.3 L283.3,35.2 L283.6,35.1 L283.9,35.0 L284.2,34.8 L284.5,34.7 L284.8,34.5 L285.1,34.3 L285.3,34.1 L285.6,34.0 L285.9,34.0 L286.2,34.1 L286.5,34.3 L286.8,34.5 L287.1,34.7 L287.4,34.8 L287.7,35.0 L287.9,35.1 L288.2,35.2 L288.5,35.3 L288.8,35.4 L289.1,35.4 L289.4,35.5 L289.7,35.5 L290.0,35.5 L290.3,35.6 L290.5,35.6 L290.8,35.6 L291.1,35.6 L291.4,35.6 L291.7,35.6 L292.0,35.6 L292.3,35.7 L292.6,35.7 L292.9,35.7 L293.1,35.7 L293.4,35.7 L293.7,35.7 L294.0,35.7 L294.3,35.7 L294.6,35.7 L294.9,35.7 L295.2,35.7 L295.5,35.7 L295.7,35.7 L296.0,35.7 L296.3,35.7 L296.6,35.7 L296.9,35.7 L297.2,35.7 L297.5,35.7 L297.8,35.7 L298.1,35.7 L298.3,35.7 L298.6,35.7 L298.9,35.7 L299.2,35.7 L299.5,35.7 L299.8,35.7 L300.1,35.7 L300.4,35.7 L300.7,35.7 L300.9,35.7 L301.2,35.7 L301.5,35.7 L301.8,35.7 L302.1,35.7 L302.4,35.7 L302.7,35.7 L303.0,35.7 L303.3,35.7 L303.5,35.7 L303.8,35.7 L304.1,35.7 L304.4,35.7 L304.7,35.7 L305.0,35.7 L305.3,35.7 L305.6,35.7 L305.9,35.7 L306.1,35.6 L306.4,35.6 L306.7,35.6 L307.0,35.6 L307.3,35.6 L307.6,35.6 L307.9,35.6 L308.2,35.6 L308.5,35.6 L308.8,35.6 L309.0,35.6 L309.3,35.6 L309.6,35.6 L309.9,35.6 L310.2,35.6 L310.5,35.6 L310.8,35.6 L311.1,35.5 L311.4,35.5 L311.6,35.5 L311.9,35.5 L312.2,35.5 L312.5,35.5 L312.8,35.5 L313.1,35.4 L313.4,35.4 L313.7,35.4 L314.0,35.3 L314.2,35.3 L314.5,35.2 L314.8,35.2 L315.1,35.1 L315.4,35.0 L315.7,34.9 L316.0,34.7 L316.3,34.6 L316.6,34.4 L316.8,34.2 L317.1,34.0 L317.4,33.9 L317.7,33.8 L318.0,33.9 L318.3,34.0 L318.6,34.2 L318.9,34.4 L319.2,34.6 L319.4,34.7 L319.7,34.9 L320.0,35.0 L320.3,35.1 L320.6,35.1 L320.9,35.2 L321.2,35.2 L321.5,35.3 L321.8,35.3 L322.0,35.4 L322.3,35.4 L322.6,35.4 L322.9,35.4 L323.2,35.4 L323.5,35.4 L323.8,35.5 L324.1,35.5 L324.4,35.5 L324.6,35.5 L324.9,35.5 L325.2,35.5 L325.5,35.5 L325.8,35.5 L326.1,35.5 L326.4,35.5 L326.7,35.5 L327.0,35.5 L327.2,35.5 L327.5,35.5 L327.8,35.5 L328.1,35.5 L328.4,35.5 L328.7,35.5 L329.0,35.5 L329.3,35.5 L329.6,35.5 L329.8,35.5 L330.1,35.5 L330.4,35.5 L330.7,35.5 L331.0,35.5 L331.3,35.5 L331.6,35.5 L331.9,35.5 L332.2,35.5 L332.4,35.5 L332.7,35.5 L333.0,35.5 L333.3,35.5 L333.6,35.5 L333.9,35.5 L334.2,35.5 L334.5,35.5 L334.8,35.5 L335.0,35.5 L335.3,35.5 L335.6,35.5 L335.9,35.5 L336.2,35.5 L336.5,35.5 L336.8,35.5 L337.1,35.5 L337.4,35.5 L337.6,35.5 L337.9,35.5 L338.2,35.5 L338.5,35.5 L338.8,35.5 L339.1,35.5 L339.4,35.5 L339.7,35.5 L340.0,35.5 L340.2,35.5 L340.5,35.5 L340.8,35.5 L341.1,35.5 L341.4,35.5 L341.7,35.5 L342.0,35.5 L342.3,35.5 L342.6,35.5 L342.9,35.4 L343.1,35.4 L343.4,35.4 L343.7,35.4 L344.0,35.4 L344.3,35.4 L344.6,35.4 L344.9,35.4 L345.2,35.4 L345.5,35.4 L345.7,35.4 L346.0,35.4 L346.3,35.4 L346.6,35.4 L346.9,35.4 L347.2,35.4 L347.5,35.4 L347.8,35.4 L348.1,35.4 L348.3,35.4 L348.6,35.3 L348.9,35.3 L349.2,35.3 L349.5,35.3 L349.8,35.3 L350.1,35.3 L350.4,35.3 L350.7,35.2 L350.9,35.2 L351.2,35.2 L351.5,35.1 L351.8,35.1 L352.1,35.0 L352.4,34.9 L352.7,34.9 L353.0,34.8 L353.3,34.8 L353.5,34.8 L353.8,34.8 L354.1,34.8 L354.4,34.9 L354.7,35.0 L355.0,35.0 L355.3,35.1 L355.6,35.1 L355.9,35.1 L356.1,35.2 L356.4,35.2 L356.7,35.2 L357.0,35.2 L357.3,35.2 L357.6,35.2 L357.9,35.3 L358.2,35.3 L358.5,35.3 L358.7,35.3 L359.0,35.3 L359.3,35.3 L359.6,35.3 L359.9,35.3 L360.2,35.3 L360.5,35.3 L360.8,35.3 L361.1,35.3 L361.3,35.3 L361.6,35.3 L361.9,35.3 L362.2,35.3 L362.5,35.3 L362.8,35.3 L363.1,35.3 L363.4,35.3 L363.7,35.3 L363.9,35.2 L364.2,35.2 L364.5,35.2 L364.8,35.2 L365.1,35.2 L365.4,35.2 L365.7,35.2 L366.0,35.2 L366.3,35.2 L366.5,35.2 L366.8,35.2 L367.1,35.2 L367.4,35.1 L367.7,35.1 L368.0,35.1 L368.3,35.1 L368.6,35.1 L368.9,35.1 L369.1,35.0 L369.4,35.0 L369.7,35.0 L370.0,35.0 L370.3,34.9 L370.6,34.9 L370.9,34.8 L371.2,34.8 L371.5,34.7 L371.7,34.7 L372.0,34.6 L372.3,34.5 L372.6,34.4 L372.9,34.2 L373.2,34.1 L373.5,33.8 L373.8,33.6 L374.1,33.2 L374.3,32.8 L374.6,32.2 L374.9,31.3 L375.2,30.3 L375.5,28.8 L375.8,27.1 L376.1,25.2 L376.4,23.8 L376.7,23.6 L377.0,24.7 L377.2,26.6 L377.5,28.4 L377.8,29.9 L378.1,31.1 L378.4,31.9 L378.7,32.6 L379.0,33.1 L379.3,33.5 L379.6,33.7 L379.8,34.0 L380.1,34.1 L380.4,34.3 L380.7,34.4 L381.0,34.5 L381.3,34.6 L381.6,34.7 L381.9,34.7 L382.2,34.8 L382.4,34.8 L382.7,34.8 L383.0,34.9 L383.3,34.9 L383.6,34.9 L383.9,34.9 L384.2,35.0 L384.5,35.0 L384.8,35.0 L385.0,35.0 L385.3,35.0 L385.6,35.0 L385.9,35.0 L386.2,35.0 L386.5,35.0 L386.8,35.1 L387.1,35.1 L387.4,35.1 L387.6,35.1 L387.9,35.1 L388.2,35.1 L388.5,35.1 L388.8,35.1 L389.1,35.1 L389.4,35.1 L389.7,35.1 L390.0,35.1 L390.2,35.1 L390.5,35.1 L390.8,35.1 L391.1,35.0 L391.4,35.0 L391.7,35.0 L392.0,35.0 L392.3,35.0 L392.6,35.0 L392.8,35.0 L393.1,35.0 L393.4,34.9 L393.7,34.9 L394.0,34.9 L394.3,34.9 L394.6,34.8 L394.9,34.8 L395.2,34.7 L395.4,34.6 L395.7,34.5 L396.0,34.5 L396.3,34.4 L396.6,34.3 L396.9,34.2 L397.2,34.1 L397.5,34.1 L397.8,34.2 L398.0,34.3 L398.3,34.4 L398.6,34.4 L398.9,34.5 L399.2,34.6 L399.5,34.7 L399.8,34.8 L400.1,34.8 L400.4,34.8 L400.6,34.9 L400.9,34.9 L401.2,34.9 L401.5,35.0 L401.8,35.0 L402.1,35.0 L402.4,35.0 L402.7,35.0 L403.0,35.0 L403.2,35.0 L403.5,35.0 L403.8,35.0 L404.1,35.0 L404.4,35.0 L404.7,35.0 L405.0,35.1 L405.3,35.1 L405.6,35.1 L405.8,35.1 L406.1,35.1 L406.4,35.1 L406.7,35.1 L407.0,35.1 L407.3,35.1 L407.6,35.1 L407.9,35.1 L408.2,35.1 L408.4,35.1 L408.7,35.1 L409.0,35.1 L409.3,35.1 L409.6,35.1 L409.9,35.1 L410.2,35.1 L410.5,35.1 L410.8,35.1 L411.1,35.1 L411.3,35.1 L411.6,35.1 L411.9,35.1 L412.2,35.1 L412.5,35.1 L412.8,35.1 L413.1,35.1 L413.4,35.1 L413.7,35.1 L413.9,35.1 L414.2,35.1 L414.5,35.1 L414.8,35.1 L415.1,35.1 L415.4,35.1 L415.7,35.0 L416.0,35.0 L416.3,35.0 L416.5,35.0 L416.8,35.0 L417.1,35.0 L417.4,35.0 L417.7,35.0 L418.0,35.0 L418.3,35.0 L418.6,35.0 L418.9,35.0 L419.1,35.0 L419.4,35.0 L419.7,35.0 L420.0,35.0 L420.3,35.0 L420.6,35.0 L420.9,35.0 L421.2,35.0 L421.5,35.0 L421.7,35.0 L422.0,35.0 L422.3,35.0 L422.6,35.0 L422.9,35.0 L423.2,35.0 L423.5,35.0 L423.8,35.0 L424.1,35.0 L424.3,35.0 L424.6,35.0 L424.9,35.0 L425.2,35.0 L425.5,35.0 L425.8,35.0 L426.1,35.0 L426.4,35.0 L426.7,35.0 L426.9,35.0 L427.2,35.0 L427.5,35.0 L427.8,35.0 L428.1,35.0" stroke="#d03a55" stroke-width="1.5" fill="none" stroke-linejoin="round"/>
<path d="M255.0,54.6 L255.3,54.6 L255.6,54.6 L255.9,54.6 L256.2,54.6 L256.4,54.6 L256.7,54.6 L257.0,54.6 L257.3,54.6 L257.6,54.6 L257.9,54.6 L258.2,54.6 L258.5,54.6 L258.8,54.6 L259.0,54.6 L259.3,54.6 L259.6,54.6 L259.9,54.6 L260.2,54.6 L260.5,54.6 L260.8,54.6 L261.1,54.6 L261.4,54.6 L261.6,54.6 L261.9,54.6 L262.2,54.6 L262.5,54.6 L262.8,54.6 L263.1,54.6 L263.4,54.6 L263.7,54.6 L264.0,54.6 L264.2,54.6 L264.5,54.6 L264.8,54.6 L265.1,54.6 L265.4,54.6 L265.7,54.6 L266.0,54.6 L266.3,54.6 L266.6,54.6 L266.8,54.6 L267.1,54.6 L267.4,54.6 L267.7,54.5 L268.0,54.5 L268.3,54.5 L268.6,54.5 L268.9,54.5 L269.2,54.5 L269.4,54.5 L269.7,54.5 L270.0,54.5 L270.3,54.5 L270.6,54.5 L270.9,54.5 L271.2,54.5 L271.5,54.5 L271.8,54.5 L272.0,54.5 L272.3,54.5 L272.6,54.5 L272.9,54.5 L273.2,54.5 L273.5,54.5 L273.8,54.5 L274.1,54.5 L274.4,54.5 L274.7,54.5 L274.9,54.5 L275.2,54.5 L275.5,54.5 L275.8,54.5 L276.1,54.5 L276.4,54.5 L276.7,54.5 L277.0,54.5 L277.3,54.5 L277.5,54.5 L277.8,54.5 L278.1,54.5 L278.4,54.4 L278.7,54.4 L279.0,54.4 L279.3,54.4 L279.6,54.4 L279.9,54.4 L280.1,54.4 L280.4,54.4 L280.7,54.3 L281.0,54.3 L281.3,54.3 L281.6,54.3 L281.9,54.2 L282.2,54.2 L282.5,54.1 L282.7,54.1 L283.0,54.0 L283.3,53.9 L283.6,53.8 L283.9,53.7 L284.2,53.5 L284.5,53.4 L284.8,53.2 L285.1,53.0 L285.3,52.8 L285.6,52.7 L285.9,52.7 L286.2,52.8 L286.5,53.0 L286.8,53.2 L287.1,53.4 L287.4,53.5 L287.7,53.7 L287.9,53.8 L288.2,53.9 L288.5,54.0 L288.8,54.1 L289.1,54.1 L289.4,54.2 L289.7,54.2 L290.0,54.2 L290.3,54.3 L290.5,54.3 L290.8,54.3 L291.1,54.3 L291.4,54.3 L291.7,54.4 L292.0,54.4 L292.3,54.4 L292.6,54.4 L292.9,54.4 L293.1,54.4 L293.4,54.4 L293.7,54.4 L294.0,54.4 L294.3,54.4 L294.6,54.4 L294.9,54.4 L295.2,54.4 L295.5,54.4 L295.7,54.4 L296.0,54.4 L296.3,54.4 L296.6,54.4 L296.9,54.4 L297.2,54.4 L297.5,54.4 L297.8,54.4 L298.1,54.4 L298.3,54.4 L298.6,54.4 L298.9,54.4 L299.2,54.4 L299.5,54.4 L299.8,54.4 L300.1,54.4 L300.4,54.4 L300.7,54.4 L300.9,54.4 L301.2,54.4 L301.5,54.4 L301.8,54.4 L302.1,54.4 L302.4,54.4 L302.7,54.4 L303.0,54.4 L303.3,54.4 L303.5,54.4 L303.8,54.4 L304.1,54.4 L304.4,54.4 L304.7,54.4 L305.0,54.4 L305.3,54.4 L305.6,54.4 L305.9,54.4 L306.1,54.4 L306.4,54.4 L306.7,54.4 L307.0,54.4 L307.3,54.4 L307.6,54.4 L307.9,54.4 L308.2,54.4 L308.5,54.4 L308.8,54.4 L309.0,54.4 L309.3,54.4 L309.6,54.4 L309.9,54.4 L310.2,54.4 L310.5,54.4 L310.8,54.3 L311.1,54.3 L311.4,54.3 L311.6,54.3 L311.9,54.3 L312.2,54.3 L312.5,54.3 L312.8,54.3 L313.1,54.2 L313.4,54.2 L313.7,54.2 L314.0,54.1 L314.2,54.1 L314.5,54.0 L314.8,54.0 L315.1,53.9 L315.4,53.8 L315.7,53.7 L316.0,53.5 L316.3,53.4 L316.6,53.2 L316.8,53.0 L317.1,52.8 L317.4,52.7 L317.7,52.6 L318.0,52.7 L318.3,52.8 L318.6,53.0 L318.9,53.2 L319.2,53.4 L319.4,53.5 L319.7,53.7 L320.0,53.8 L320.3,53.9 L320.6,54.0 L320.9,54.0 L321.2,54.1 L321.5,54.1 L321.8,54.2 L322.0,54.2 L322.3,54.2 L322.6,54.2 L322.9,54.2 L323.2,54.3 L323.5,54.3 L323.8,54.3 L324.1,54.3 L324.4,54.3 L324.6,54.3 L324.9,54.3 L325.2,54.3 L325.5,54.3 L325.8,54.3 L326.1,54.3 L326.4,54.4 L326.7,54.4 L327.0,54.4 L327.2,54.4 L327.5,54.4 L327.8,54.4 L328.1,54.4 L328.4,54.4 L328.7,54.4 L329.0,54.4 L329.3,54.4 L329.6,54.4 L329.8,54.4 L330.1,54.4 L330.4,54.4 L330.7,54.4 L331.0,54.4 L331.3,54.4 L331.6,54.4 L331.9,54.4 L332.2,54.4 L332.4,54.4 L332.7,54.4 L333.0,54.4 L333.3,54.4 L333.6,54.4 L333.9,54.4 L334.2,54.4 L334.5,54.4 L334.8,54.4 L335.0,54.4 L335.3,54.4 L335.6,54.4 L335.9,54.4 L336.2,54.4 L336.5,54.4 L336.8,54.4 L337.1,54.4 L337.4,54.4 L337.6,54.4 L337.9,54.4 L338.2,54.4 L338.5,54.4 L338.8,54.4 L339.1,54.4 L339.4,54.4 L339.7,54.4 L340.0,54.4 L340.2,54.4 L340.5,54.4 L340.8,54.4 L341.1,54.4 L341.4,54.4 L341.7,54.4 L342.0,54.4 L342.3,54.4 L342.6,54.3 L342.9,54.3 L343.1,54.3 L343.4,54.3 L343.7,54.3 L344.0,54.3 L344.3,54.3 L344.6,54.3 L344.9,54.3 L345.2,54.3 L345.5,54.3 L345.7,54.3 L346.0,54.3 L346.3,54.3 L346.6,54.3 L346.9,54.3 L347.2,54.3 L347.5,54.3 L347.8,54.3 L348.1,54.3 L348.3,54.3 L348.6,54.3 L348.9,54.3 L349.2,54.2 L349.5,54.2 L349.8,54.2 L350.1,54.2 L350.4,54.2 L350.7,54.1 L350.9,54.1 L351.2,54.1 L351.5,54.0 L351.8,54.0 L352.1,53.9 L352.4,53.9 L352.7,53.8 L353.0,53.8 L353.3,53.7 L353.5,53.7 L353.8,53.7 L354.1,53.8 L354.4,53.8 L354.7,53.9 L355.0,53.9 L355.3,54.0 L355.6,54.0 L355.9,54.1 L356.1,54.1 L356.4,54.1 L356.7,54.1 L357.0,54.2 L357.3,54.2 L357.6,54.2 L357.9,54.2 L358.2,54.2 L358.5,54.2 L358.7,54.2 L359.0,54.2 L359.3,54.2 L359.6,54.2 L359.9,54.2 L360.2,54.2 L360.5,54.2 L360.8,54.2 L361.1,54.2 L361.3,54.2 L361.6,54.2 L361.9,54.2 L362.2,54.2 L362.5,54.2 L362.8,54.2 L363.1,54.2 L363.4,54.2 L363.7,54.2 L363.9,54.2 L364.2,54.2 L364.5,54.2 L364.8,54.2 L365.1,54.2 L365.4,54.1 L365.7,54.1 L366.0,54.1 L366.3,54.1 L366.5,54.1 L366.8,54.1 L367.1,54.1 L367.4,54.1 L367.7,54.0 L368.0,54.0 L368.3,54.0 L368.6,54.0 L368.9,54.0 L369.1,53.9 L369.4,53.9 L369.7,53.9 L370.0,53.8 L370.3,53.8 L370.6,53.7 L370.9,53.7 L371.2,53.6 L371.5,53.5 L371.7,53.4 L372.0,53.3 L372.3,53.2 L372.6,53.0 L372.9,52.8 L373.2,52.6 L373.5,52.3 L373.8,51.9 L374.1,51.4 L374.3,50.8 L374.6,49.9 L374.9,48.8 L375.2,47.3 L375.5,45.3 L375.8,42.8 L376.1,40.2 L376.4,38.2 L376.7,37.9 L377.0,39.5 L377.2,42.1 L377.5,44.7 L377.8,46.8 L378.1,48.4 L378.4,49.6 L378.7,50.6 L379.0,51.2 L379.3,51.8 L379.6,52.2 L379.8,52.5 L380.1,52.7 L380.4,52.9 L380.7,53.1 L381.0,53.2 L381.3,53.4 L381.6,53.5 L381.9,53.5 L382.2,53.6 L382.4,53.7 L382.7,53.7 L383.0,53.8 L383.3,53.8 L383.6,53.8 L383.9,53.9 L384.2,53.9 L384.5,53.9 L384.8,54.0 L385.0,54.0 L385.3,54.0 L385.6,54.0 L385.9,54.0 L386.2,54.0 L386.5,54.0 L386.8,54.1 L387.1,54.1 L387.4,54.1 L387.6,54.1 L387.9,54.1 L388.2,54.1 L388.5,54.1 L388.8,54.1 L389.1,54.1 L389.4,54.1 L389.7,54.1 L390.0,54.1 L390.2,54.1 L390.5,54.1 L390.8,54.1 L391.1,54.1 L391.4,54.1 L391.7,54.1 L392.0,54.1 L392.3,54.1 L392.6,54.1 L392.8,54.0 L393.1,54.0 L393.4,54.0 L393.7,54.0 L394.0,54.0 L394.3,53.9 L394.6,53.9 L394.9,53.8 L395.2,53.8 L395.4,53.7 L395.7,53.6 L396.0,53.5 L396.3,53.4 L396.6,53.3 L396.9,53.3 L397.2,53.2 L397.5,53.2 L397.8,53.3 L398.0,53.3 L398.3,53.4 L398.6,53.5 L398.9,53.6 L399.2,53.7 L399.5,53.8 L399.8,53.8 L400.1,53.9 L400.4,53.9 L400.6,54.0 L400.9,54.0 L401.2,54.0 L401.5,54.0 L401.8,54.1 L402.1,54.1 L402.4,54.1 L402.7,54.1 L403.0,54.1 L403.2,54.1 L403.5,54.1 L403.8,54.1 L404.1,54.2 L404.4,54.2 L404.7,54.2 L405.0,54.2 L405.3,54.2 L405.6,54.2 L405.8,54.2 L406.1,54.2 L406.4,54.2 L406.7,54.2 L407.0,54.2 L407.3,54.2 L407.6,54.2 L407.9,54.2 L408.2,54.2 L408.4,54.2 L408.7,54.2 L409.0,54.2 L409.3,54.2 L409.6,54.2 L409.9,54.2 L410.2,54.2 L410.5,54.2 L410.8,54.2 L411.1,54.2 L411.3,54.2 L411.6,54.2 L411.9,54.2 L412.2,54.2 L412.5,54.2 L412.8,54.2 L413.1,54.2 L413.4,54.2 L413.7,54.2 L413.9,54.2 L414.2,54.2 L414.5,54.2 L414.8,54.2 L415.1,54.2 L415.4,54.2 L415.7,54.2 L416.0,54.2 L416.3,54.2 L416.5,54.2 L416.8,54.2 L417.1,54.2 L417.4,54.2 L417.7,54.2 L418.0,54.2 L418.3,54.2 L418.6,54.2 L418.9,54.2 L419.1,54.2 L419.4,54.2 L419.7,54.2 L420.0,54.2 L420.3,54.2 L420.6,54.2 L420.9,54.2 L421.2,54.2 L421.5,54.2 L421.7,54.2 L422.0,54.2 L422.3,54.2 L422.6,54.2 L422.9,54.2 L423.2,54.2 L423.5,54.2 L423.8,54.2 L424.1,54.2 L424.3,54.2 L424.6,54.2 L424.9,54.2 L425.2,54.2 L425.5,54.2 L425.8,54.2 L426.1,54.2 L426.4,54.2 L426.7,54.2 L426.9,54.2 L427.2,54.2 L427.5,54.2 L427.8,54.2 L428.1,54.2" stroke="#ee6a5a" stroke-width="1.5" fill="none" stroke-linejoin="round"/>
<path d="M255.0,81.8 L255.3,81.8 L255.6,81.8 L255.9,81.8 L256.2,81.8 L256.4,81.8 L256.7,81.8 L257.0,81.8 L257.3,81.8 L257.6,81.8 L257.9,81.8 L258.2,81.8 L258.5,81.8 L258.8,81.8 L259.0,81.8 L259.3,81.8 L259.6,81.8 L259.9,81.8 L260.2,81.8 L260.5,81.8 L260.8,81.8 L261.1,81.8 L261.4,81.8 L261.6,81.8 L261.9,81.8 L262.2,81.8 L262.5,81.8 L262.8,81.8 L263.1,81.8 L263.4,81.8 L263.7,81.8 L264.0,81.8 L264.2,81.8 L264.5,81.7 L264.8,81.7 L265.1,81.7 L265.4,81.7 L265.7,81.7 L266.0,81.7 L266.3,81.7 L266.6,81.7 L266.8,81.7 L267.1,81.7 L267.4,81.7 L267.7,81.7 L268.0,81.7 L268.3,81.7 L268.6,81.7 L268.9,81.7 L269.2,81.7 L269.4,81.7 L269.7,81.7 L270.0,81.7 L270.3,81.7 L270.6,81.7 L270.9,81.7 L271.2,81.7 L271.5,81.7 L271.8,81.7 L272.0,81.7 L272.3,81.7 L272.6,81.7 L272.9,81.7 L273.2,81.7 L273.5,81.7 L273.8,81.7 L274.1,81.7 L274.4,81.7 L274.7,81.7 L274.9,81.7 L275.2,81.7 L275.5,81.7 L275.8,81.7 L276.1,81.7 L276.4,81.7 L276.7,81.7 L277.0,81.6 L277.3,81.6 L277.5,81.6 L277.8,81.6 L278.1,81.6 L278.4,81.6 L278.7,81.6 L279.0,81.6 L279.3,81.6 L279.6,81.6 L279.9,81.6 L280.1,81.5 L280.4,81.5 L280.7,81.5 L281.0,81.5 L281.3,81.5 L281.6,81.4 L281.9,81.4 L282.2,81.4 L282.5,81.3 L282.7,81.3 L283.0,81.2 L283.3,81.1 L283.6,81.0 L283.9,80.9 L284.2,80.7 L284.5,80.5 L284.8,80.3 L285.1,80.2 L285.3,80.0 L285.6,79.9 L285.9,79.9 L286.2,80.0 L286.5,80.1 L286.8,80.3 L287.1,80.5 L287.4,80.7 L287.7,80.9 L287.9,81.0 L288.2,81.1 L288.5,81.2 L288.8,81.2 L289.1,81.3 L289.4,81.3 L289.7,81.4 L290.0,81.4 L290.3,81.4 L290.5,81.5 L290.8,81.5 L291.1,81.5 L291.4,81.5 L291.7,81.5 L292.0,81.5 L292.3,81.5 L292.6,81.5 L292.9,81.6 L293.1,81.6 L293.4,81.6 L293.7,81.6 L294.0,81.6 L294.3,81.6 L294.6,81.6 L294.9,81.6 L295.2,81.6 L295.5,81.6 L295.7,81.6 L296.0,81.6 L296.3,81.6 L296.6,81.6 L296.9,81.6 L297.2,81.6 L297.5,81.6 L297.8,81.6 L298.1,81.6 L298.3,81.6 L298.6,81.6 L298.9,81.6 L299.2,81.6 L299.5,81.6 L299.8,81.6 L300.1,81.6 L300.4,81.6 L300.7,81.6 L300.9,81.6 L301.2,81.6 L301.5,81.6 L301.8,81.6 L302.1,81.6 L302.4,81.6 L302.7,81.6 L303.0,81.6 L303.3,81.6 L303.5,81.6 L303.8,81.6 L304.1,81.6 L304.4,81.6 L304.7,81.6 L305.0,81.6 L305.3,81.6 L305.6,81.6 L305.9,81.6 L306.1,81.6 L306.4,81.6 L306.7,81.6 L307.0,81.6 L307.3,81.5 L307.6,81.5 L307.9,81.5 L308.2,81.5 L308.5,81.5 L308.8,81.5 L309.0,81.5 L309.3,81.5 L309.6,81.5 L309.9,81.5 L310.2,81.5 L310.5,81.5 L310.8,81.5 L311.1,81.5 L311.4,81.5 L311.6,81.4 L311.9,81.4 L312.2,81.4 L312.5,81.4 L312.8,81.4 L313.1,81.4 L313.4,81.3 L313.7,81.3 L314.0,81.3 L314.2,81.2 L314.5,81.2 L314.8,81.1 L315.1,81.0 L315.4,80.9 L315.7,80.8 L316.0,80.7 L316.3,80.5 L316.6,80.3 L316.8,80.1 L317.1,79.9 L317.4,79.8 L317.7,79.8 L318.0,79.8 L318.3,79.9 L318.6,80.1 L318.9,80.3 L319.2,80.5 L319.4,80.7 L319.7,80.8 L320.0,80.9 L320.3,81.0 L320.6,81.1 L320.9,81.1 L321.2,81.2 L321.5,81.2 L321.8,81.3 L322.0,81.3 L322.3,81.3 L322.6,81.3 L322.9,81.4 L323.2,81.4 L323.5,81.4 L323.8,81.4 L324.1,81.4 L324.4,81.4 L324.6,81.4 L324.9,81.4 L325.2,81.4 L325.5,81.5 L325.8,81.5 L326.1,81.5 L326.4,81.5 L326.7,81.5 L327.0,81.5 L327.2,81.5 L327.5,81.5 L327.8,81.5 L328.1,81.5 L328.4,81.5 L328.7,81.5 L329.0,81.5 L329.3,81.5 L329.6,81.5 L329.8,81.5 L330.1,81.5 L330.4,81.5 L330.7,81.5 L331.0,81.5 L331.3,81.5 L331.6,81.5 L331.9,81.5 L332.2,81.5 L332.4,81.5 L332.7,81.5 L333.0,81.5 L333.3,81.5 L333.6,81.5 L333.9,81.5 L334.2,81.5 L334.5,81.5 L334.8,81.5 L335.0,81.5 L335.3,81.5 L335.6,81.5 L335.9,81.5 L336.2,81.5 L336.5,81.5 L336.8,81.5 L337.1,81.5 L337.4,81.5 L337.6,81.5 L337.9,81.5 L338.2,81.5 L338.5,81.5 L338.8,81.5 L339.1,81.5 L339.4,81.5 L339.7,81.5 L340.0,81.5 L340.2,81.5 L340.5,81.4 L340.8,81.4 L341.1,81.4 L341.4,81.4 L341.7,81.4 L342.0,81.4 L342.3,81.4 L342.6,81.4 L342.9,81.4 L343.1,81.4 L343.4,81.4 L343.7,81.4 L344.0,81.4 L344.3,81.4 L344.6,81.4 L344.9,81.4 L345.2,81.4 L345.5,81.4 L345.7,81.4 L346.0,81.4 L346.3,81.4 L346.6,81.4 L346.9,81.4 L347.2,81.4 L347.5,81.4 L347.8,81.4 L348.1,81.4 L348.3,81.3 L348.6,81.3 L348.9,81.3 L349.2,81.3 L349.5,81.3 L349.8,81.3 L350.1,81.3 L350.4,81.2 L350.7,81.2 L350.9,81.2 L351.2,81.1 L351.5,81.1 L351.8,81.1 L352.1,81.0 L352.4,80.9 L352.7,80.9 L353.0,80.8 L353.3,80.8 L353.5,80.8 L353.8,80.8 L354.1,80.8 L354.4,80.9 L354.7,80.9 L355.0,81.0 L355.3,81.0 L355.6,81.1 L355.9,81.1 L356.1,81.1 L356.4,81.2 L356.7,81.2 L357.0,81.2 L357.3,81.2 L357.6,81.2 L357.9,81.2 L358.2,81.2 L358.5,81.2 L358.7,81.2 L359.0,81.2 L359.3,81.2 L359.6,81.2 L359.9,81.2 L360.2,81.2 L360.5,81.2 L360.8,81.2 L361.1,81.2 L361.3,81.2 L361.6,81.2 L361.9,81.2 L362.2,81.2 L362.5,81.2 L362.8,81.2 L363.1,81.2 L363.4,81.2 L363.7,81.2 L363.9,81.2 L364.2,81.2 L364.5,81.1 L364.8,81.1 L365.1,81.1 L365.4,81.1 L365.7,81.1 L366.0,81.1 L366.3,81.0 L366.5,81.0 L366.8,81.0 L367.1,81.0 L367.4,81.0 L367.7,80.9 L368.0,80.9 L368.3,80.9 L368.6,80.8 L368.9,80.8 L369.1,80.7 L369.4,80.7 L369.7,80.6 L370.0,80.5 L370.3,80.5 L370.6,80.4 L370.9,80.3 L371.2,80.2 L371.5,80.0 L371.7,79.9 L372.0,79.7 L372.3,79.5 L372.6,79.2 L372.9,78.9 L373.2,78.4 L373.5,77.9 L373.8,77.3 L374.1,76.5 L374.3,75.4 L374.6,74.0 L374.9,72.1 L375.2,69.5 L375.5,66.2 L375.8,62.0 L376.1,57.5 L376.4,54.2 L376.7,53.8 L377.0,56.5 L377.2,60.8 L377.5,65.1 L377.8,68.7 L378.1,71.5 L378.4,73.5 L378.7,75.0 L379.0,76.2 L379.3,77.1 L379.6,77.8 L379.8,78.3 L380.1,78.7 L380.4,79.1 L380.7,79.4 L381.0,79.6 L381.3,79.8 L381.6,79.9 L381.9,80.1 L382.2,80.2 L382.4,80.3 L382.7,80.4 L383.0,80.5 L383.3,80.5 L383.6,80.6 L383.9,80.7 L384.2,80.7 L384.5,80.7 L384.8,80.8 L385.0,80.8 L385.3,80.8 L385.6,80.9 L385.9,80.9 L386.2,80.9 L386.5,80.9 L386.8,81.0 L387.1,81.0 L387.4,81.0 L387.6,81.0 L387.9,81.0 L388.2,81.0 L388.5,81.0 L388.8,81.0 L389.1,81.0 L389.4,81.1 L389.7,81.1 L390.0,81.1 L390.2,81.1 L390.5,81.1 L390.8,81.1 L391.1,81.1 L391.4,81.1 L391.7,81.1 L392.0,81.1 L392.3,81.0 L392.6,81.0 L392.8,81.0 L393.1,81.0 L393.4,81.0 L393.7,81.0 L394.0,80.9 L394.3,80.9 L394.6,80.9 L394.9,80.8 L395.2,80.8 L395.4,80.7 L395.7,80.6 L396.0,80.5 L396.3,80.4 L396.6,80.3 L396.9,80.3 L397.2,80.2 L397.5,80.2 L397.8,80.3 L398.0,80.3 L398.3,80.4 L398.6,80.5 L398.9,80.6 L399.2,80.7 L399.5,80.8 L399.8,80.8 L400.1,80.9 L400.4,80.9 L400.6,81.0 L400.9,81.0 L401.2,81.0 L401.5,81.1 L401.8,81.1 L402.1,81.1 L402.4,81.1 L402.7,81.1 L403.0,81.1 L403.2,81.1 L403.5,81.1 L403.8,81.2 L404.1,81.2 L404.4,81.2 L404.7,81.2 L405.0,81.2 L405.3,81.2 L405.6,81.2 L405.8,81.2 L406.1,81.2 L406.4,81.2 L406.7,81.2 L407.0,81.2 L407.3,81.2 L407.6,81.2 L407.9,81.2 L408.2,81.2 L408.4,81.2 L408.7,81.2 L409.0,81.2 L409.3,81.2 L409.6,81.2 L409.9,81.2 L410.2,81.2 L410.5,81.2 L410.8,81.2 L411.1,81.2 L411.3,81.2 L411.6,81.2 L411.9,81.2 L412.2,81.2 L412.5,81.2 L412.8,81.2 L413.1,81.2 L413.4,81.2 L413.7,81.2 L413.9,81.2 L414.2,81.2 L414.5,81.2 L414.8,81.2 L415.1,81.2 L415.4,81.2 L415.7,81.2 L416.0,81.2 L416.3,81.2 L416.5,81.2 L416.8,81.2 L417.1,81.2 L417.4,81.2 L417.7,81.2 L418.0,81.2 L418.3,81.2 L418.6,81.2 L418.9,81.2 L419.1,81.2 L419.4,81.2 L419.7,81.2 L420.0,81.2 L420.3,81.2 L420.6,81.2 L420.9,81.2 L421.2,81.2 L421.5,81.2 L421.7,81.2 L422.0,81.2 L422.3,81.2 L422.6,81.2 L422.9,81.2 L423.2,81.2 L423.5,81.2 L423.8,81.2 L424.1,81.2 L424.3,81.2 L424.6,81.2 L424.9,81.2 L425.2,81.2 L425.5,81.2 L425.8,81.2 L426.1,81.2 L426.4,81.2 L426.7,81.2 L426.9,81.2 L427.2,81.2 L427.5,81.2 L427.8,81.2 L428.1,81.2" stroke="#f89c5e" stroke-width="1.5" fill="none" stroke-linejoin="round"/>
<path d="M255.0,107.2 L255.3,107.2 L255.6,107.2 L255.9,107.2 L256.2,107.2 L256.4,107.2 L256.7,107.2 L257.0,107.2 L257.3,107.2 L257.6,107.2 L257.9,107.2 L258.2,107.2 L258.5,107.2 L258.8,107.2 L259.0,107.2 L259.3,107.2 L259.6,107.2 L259.9,107.2 L260.2,107.2 L260.5,107.2 L260.8,107.2 L261.1,107.2 L261.4,107.2 L261.6,107.2 L261.9,107.2 L262.2,107.2 L262.5,107.2 L262.8,107.2 L263.1,107.2 L263.4,107.2 L263.7,107.2 L264.0,107.2 L264.2,107.2 L264.5,107.2 L264.8,107.2 L265.1,107.2 L265.4,107.2 L265.7,107.2 L266.0,107.2 L266.3,107.2 L266.6,107.2 L266.8,107.2 L267.1,107.2 L267.4,107.2 L267.7,107.2 L268.0,107.2 L268.3,107.2 L268.6,107.2 L268.9,107.2 L269.2,107.2 L269.4,107.2 L269.7,107.2 L270.0,107.2 L270.3,107.2 L270.6,107.2 L270.9,107.2 L271.2,107.1 L271.5,107.1 L271.8,107.1 L272.0,107.1 L272.3,107.1 L272.6,107.1 L272.9,107.1 L273.2,107.1 L273.5,107.1 L273.8,107.1 L274.1,107.1 L274.4,107.1 L274.7,107.1 L274.9,107.1 L275.2,107.1 L275.5,107.1 L275.8,107.1 L276.1,107.1 L276.4,107.1 L276.7,107.1 L277.0,107.1 L277.3,107.1 L277.5,107.1 L277.8,107.1 L278.1,107.1 L278.4,107.1 L278.7,107.1 L279.0,107.1 L279.3,107.0 L279.6,107.0 L279.9,107.0 L280.1,107.0 L280.4,107.0 L280.7,107.0 L281.0,107.0 L281.3,106.9 L281.6,106.9 L281.9,106.9 L282.2,106.8 L282.5,106.8 L282.7,106.7 L283.0,106.6 L283.3,106.6 L283.6,106.5 L283.9,106.3 L284.2,106.2 L284.5,106.0 L284.8,105.8 L285.1,105.6 L285.3,105.5 L285.6,105.4 L285.9,105.4 L286.2,105.5 L286.5,105.6 L286.8,105.8 L287.1,106.0 L287.4,106.2 L287.7,106.3 L287.9,106.5 L288.2,106.6 L288.5,106.6 L288.8,106.7 L289.1,106.8 L289.4,106.8 L289.7,106.9 L290.0,106.9 L290.3,106.9 L290.5,106.9 L290.8,107.0 L291.1,107.0 L291.4,107.0 L291.7,107.0 L292.0,107.0 L292.3,107.0 L292.6,107.0 L292.9,107.0 L293.1,107.0 L293.4,107.1 L293.7,107.1 L294.0,107.1 L294.3,107.1 L294.6,107.1 L294.9,107.1 L295.2,107.1 L295.5,107.1 L295.7,107.1 L296.0,107.1 L296.3,107.1 L296.6,107.1 L296.9,107.1 L297.2,107.1 L297.5,107.1 L297.8,107.1 L298.1,107.1 L298.3,107.1 L298.6,107.1 L298.9,107.1 L299.2,107.1 L299.5,107.1 L299.8,107.1 L300.1,107.1 L300.4,107.1 L300.7,107.1 L300.9,107.1 L301.2,107.1 L301.5,107.1 L301.8,107.1 L302.1,107.1 L302.4,107.1 L302.7,107.1 L303.0,107.1 L303.3,107.1 L303.5,107.1 L303.8,107.1 L304.1,107.1 L304.4,107.1 L304.7,107.1 L305.0,107.1 L305.3,107.1 L305.6,107.1 L305.9,107.1 L306.1,107.1 L306.4,107.1 L306.7,107.1 L307.0,107.1 L307.3,107.1 L307.6,107.1 L307.9,107.1 L308.2,107.1 L308.5,107.1 L308.8,107.1 L309.0,107.0 L309.3,107.0 L309.6,107.0 L309.9,107.0 L310.2,107.0 L310.5,107.0 L310.8,107.0 L311.1,107.0 L311.4,107.0 L311.6,107.0 L311.9,107.0 L312.2,107.0 L312.5,106.9 L312.8,106.9 L313.1,106.9 L313.4,106.9 L313.7,106.8 L314.0,106.8 L314.2,106.8 L314.5,106.7 L314.8,106.6 L315.1,106.6 L315.4,106.5 L315.7,106.3 L316.0,106.2 L316.3,106.0 L316.6,105.9 L316.8,105.7 L317.1,105.5 L317.4,105.4 L317.7,105.3 L318.0,105.4 L318.3,105.5 L318.6,105.7 L318.9,105.9 L319.2,106.1 L319.4,106.2 L319.7,106.3 L320.0,106.5 L320.3,106.6 L320.6,106.6 L320.9,106.7 L321.2,106.7 L321.5,106.8 L321.8,106.8 L322.0,106.9 L322.3,106.9 L322.6,106.9 L322.9,106.9 L323.2,106.9 L323.5,107.0 L323.8,107.0 L324.1,107.0 L324.4,107.0 L324.6,107.0 L324.9,107.0 L325.2,107.0 L325.5,107.0 L325.8,107.0 L326.1,107.0 L326.4,107.0 L326.7,107.0 L327.0,107.0 L327.2,107.0 L327.5,107.0 L327.8,107.0 L328.1,107.0 L328.4,107.0 L328.7,107.0 L329.0,107.0 L329.3,107.1 L329.6,107.1 L329.8,107.1 L330.1,107.1 L330.4,107.1 L330.7,107.1 L331.0,107.1 L331.3,107.1 L331.6,107.1 L331.9,107.1 L332.2,107.1 L332.4,107.1 L332.7,107.1 L333.0,107.1 L333.3,107.1 L333.6,107.1 L333.9,107.1 L334.2,107.1 L334.5,107.1 L334.8,107.1 L335.0,107.1 L335.3,107.1 L335.6,107.1 L335.9,107.1 L336.2,107.1 L336.5,107.1 L336.8,107.1 L337.1,107.1 L337.4,107.1 L337.6,107.1 L337.9,107.1 L338.2,107.1 L338.5,107.1 L338.8,107.1 L339.1,107.1 L339.4,107.1 L339.7,107.0 L340.0,107.0 L340.2,107.0 L340.5,107.0 L340.8,107.0 L341.1,107.0 L341.4,107.0 L341.7,107.0 L342.0,107.0 L342.3,107.0 L342.6,107.0 L342.9,107.0 L343.1,107.0 L343.4,107.0 L343.7,107.0 L344.0,107.0 L344.3,107.0 L344.6,107.0 L344.9,107.0 L345.2,107.0 L345.5,107.0 L345.7,107.0 L346.0,107.0 L346.3,107.0 L346.6,107.0 L346.9,107.0 L347.2,107.0 L347.5,107.0 L347.8,107.0 L348.1,107.0 L348.3,107.0 L348.6,107.0 L348.9,106.9 L349.2,106.9 L349.5,106.9 L349.8,106.9 L350.1,106.9 L350.4,106.9 L350.7,106.8 L350.9,106.8 L351.2,106.8 L351.5,106.7 L351.8,106.7 L352.1,106.6 L352.4,106.6 L352.7,106.5 L353.0,106.5 L353.3,106.4 L353.5,106.4 L353.8,106.4 L354.1,106.5 L354.4,106.5 L354.7,106.6 L355.0,106.6 L355.3,106.7 L355.6,106.7 L355.9,106.8 L356.1,106.8 L356.4,106.8 L356.7,106.8 L357.0,106.8 L357.3,106.9 L357.6,106.9 L357.9,106.9 L358.2,106.9 L358.5,106.9 L358.7,106.9 L359.0,106.9 L359.3,106.9 L359.6,106.9 L359.9,106.9 L360.2,106.9 L360.5,106.9 L360.8,106.9 L361.1,106.9 L361.3,106.9 L361.6,106.9 L361.9,106.9 L362.2,106.9 L362.5,106.9 L362.8,106.8 L363.1,106.8 L363.4,106.8 L363.7,106.8 L363.9,106.8 L364.2,106.8 L364.5,106.8 L364.8,106.8 L365.1,106.8 L365.4,106.8 L365.7,106.7 L366.0,106.7 L366.3,106.7 L366.5,106.7 L366.8,106.7 L367.1,106.6 L367.4,106.6 L367.7,106.6 L368.0,106.5 L368.3,106.5 L368.6,106.5 L368.9,106.4 L369.1,106.4 L369.4,106.3 L369.7,106.3 L370.0,106.2 L370.3,106.1 L370.6,106.0 L370.9,105.9 L371.2,105.8 L371.5,105.7 L371.7,105.5 L372.0,105.3 L372.3,105.1 L372.6,104.8 L372.9,104.5 L373.2,104.1 L373.5,103.6 L373.8,102.9 L374.1,102.1 L374.3,101.0 L374.6,99.5 L374.9,97.6 L375.2,95.0 L375.5,91.6 L375.8,87.4 L376.1,82.9 L376.4,79.5 L376.7,79.1 L377.0,81.8 L377.2,86.2 L377.5,90.6 L377.8,94.2 L378.1,97.0 L378.4,99.1 L378.7,100.6 L379.0,101.8 L379.3,102.7 L379.6,103.4 L379.8,103.9 L380.1,104.4 L380.4,104.7 L380.7,105.0 L381.0,105.3 L381.3,105.5 L381.6,105.6 L381.9,105.8 L382.2,105.9 L382.4,106.0 L382.7,106.1 L383.0,106.2 L383.3,106.2 L383.6,106.3 L383.9,106.3 L384.2,106.4 L384.5,106.4 L384.8,106.5 L385.0,106.5 L385.3,106.5 L385.6,106.6 L385.9,106.6 L386.2,106.6 L386.5,106.6 L386.8,106.7 L387.1,106.7 L387.4,106.7 L387.6,106.7 L387.9,106.7 L388.2,106.7 L388.5,106.7 L388.8,106.7 L389.1,106.8 L389.4,106.8 L389.7,106.8 L390.0,106.8 L390.2,106.8 L390.5,106.8 L390.8,106.8 L391.1,106.8 L391.4,106.8 L391.7,106.8 L392.0,106.8 L392.3,106.8 L392.6,106.8 L392.8,106.7 L393.1,106.7 L393.4,106.7 L393.7,106.7 L394.0,106.7 L394.3,106.6 L394.6,106.6 L394.9,106.5 L395.2,106.5 L395.4,106.4 L395.7,106.3 L396.0,106.3 L396.3,106.2 L396.6,106.1 L396.9,106.0 L397.2,106.0 L397.5,106.0 L397.8,106.0 L398.0,106.1 L398.3,106.2 L398.6,106.3 L398.9,106.4 L399.2,106.4 L399.5,106.5 L399.8,106.6 L400.1,106.6 L400.4,106.7 L400.6,106.7 L400.9,106.7 L401.2,106.8 L401.5,106.8 L401.8,106.8 L402.1,106.8 L402.4,106.8 L402.7,106.9 L403.0,106.9 L403.2,106.9 L403.5,106.9 L403.8,106.9 L404.1,106.9 L404.4,106.9 L404.7,106.9 L405.0,106.9 L405.3,106.9 L405.6,106.9 L405.8,106.9 L406.1,106.9 L406.4,106.9 L406.7,106.9 L407.0,106.9 L407.3,106.9 L407.6,106.9 L407.9,107.0 L408.2,107.0 L408.4,107.0 L408.7,107.0 L409.0,107.0 L409.3,107.0 L409.6,107.0 L409.9,107.0 L410.2,107.0 L410.5,107.0 L410.8,107.0 L411.1,107.0 L411.3,107.0 L411.6,107.0 L411.9,107.0 L412.2,107.0 L412.5,107.0 L412.8,107.0 L413.1,107.0 L413.4,107.0 L413.7,107.0 L413.9,107.0 L414.2,107.0 L414.5,107.0 L414.8,107.0 L415.1,107.0 L415.4,107.0 L415.7,107.0 L416.0,107.0 L416.3,107.0 L416.5,107.0 L416.8,107.0 L417.1,107.0 L417.4,107.0 L417.7,107.0 L418.0,107.0 L418.3,107.0 L418.6,107.0 L418.9,107.0 L419.1,107.0 L419.4,107.0 L419.7,107.0 L420.0,107.0 L420.3,107.0 L420.6,107.0 L420.9,107.0 L421.2,107.0 L421.5,107.0 L421.7,107.0 L422.0,107.0 L422.3,107.0 L422.6,107.0 L422.9,107.0 L423.2,107.0 L423.5,107.0 L423.8,107.0 L424.1,107.0 L424.3,107.0 L424.6,107.0 L424.9,107.0 L425.2,107.0 L425.5,107.0 L425.8,107.0 L426.1,107.0 L426.4,107.0 L426.7,107.0 L426.9,107.0 L427.2,107.0 L427.5,107.0 L427.8,107.0 L428.1,107.0" stroke="#7ab6de" stroke-width="1.5" fill="none" stroke-linejoin="round"/>
<path d="M255.0,143.8 L255.3,143.8 L255.6,143.8 L255.9,143.8 L256.2,143.8 L256.4,143.8 L256.7,143.8 L257.0,143.8 L257.3,143.8 L257.6,143.8 L257.9,143.8 L258.2,143.8 L258.5,143.8 L258.8,143.8 L259.0,143.8 L259.3,143.8 L259.6,143.8 L259.9,143.8 L260.2,143.8 L260.5,143.8 L260.8,143.8 L261.1,143.8 L261.4,143.8 L261.6,143.8 L261.9,143.8 L262.2,143.8 L262.5,143.8 L262.8,143.8 L263.1,143.8 L263.4,143.8 L263.7,143.8 L264.0,143.8 L264.2,143.8 L264.5,143.8 L264.8,143.8 L265.1,143.8 L265.4,143.8 L265.7,143.8 L266.0,143.8 L266.3,143.8 L266.6,143.8 L266.8,143.8 L267.1,143.8 L267.4,143.8 L267.7,143.8 L268.0,143.8 L268.3,143.8 L268.6,143.8 L268.9,143.8 L269.2,143.7 L269.4,143.7 L269.7,143.7 L270.0,143.7 L270.3,143.7 L270.6,143.7 L270.9,143.7 L271.2,143.7 L271.5,143.7 L271.8,143.7 L272.0,143.7 L272.3,143.7 L272.6,143.7 L272.9,143.7 L273.2,143.7 L273.5,143.7 L273.8,143.7 L274.1,143.7 L274.4,143.7 L274.7,143.7 L274.9,143.7 L275.2,143.7 L275.5,143.7 L275.8,143.7 L276.1,143.7 L276.4,143.7 L276.7,143.7 L277.0,143.7 L277.3,143.7 L277.5,143.7 L277.8,143.7 L278.1,143.7 L278.4,143.7 L278.7,143.6 L279.0,143.6 L279.3,143.6 L279.6,143.6 L279.9,143.6 L280.1,143.6 L280.4,143.6 L280.7,143.6 L281.0,143.5 L281.3,143.5 L281.6,143.5 L281.9,143.4 L282.2,143.4 L282.5,143.4 L282.7,143.3 L283.0,143.2 L283.3,143.1 L283.6,143.0 L283.9,142.9 L284.2,142.8 L284.5,142.6 L284.8,142.4 L285.1,142.2 L285.3,142.0 L285.6,141.9 L285.9,141.9 L286.2,142.0 L286.5,142.2 L286.8,142.4 L287.1,142.6 L287.4,142.8 L287.7,142.9 L287.9,143.0 L288.2,143.1 L288.5,143.2 L288.8,143.3 L289.1,143.3 L289.4,143.4 L289.7,143.4 L290.0,143.5 L290.3,143.5 L290.5,143.5 L290.8,143.5 L291.1,143.6 L291.4,143.6 L291.7,143.6 L292.0,143.6 L292.3,143.6 L292.6,143.6 L292.9,143.6 L293.1,143.6 L293.4,143.6 L293.7,143.6 L294.0,143.6 L294.3,143.6 L294.6,143.6 L294.9,143.6 L295.2,143.7 L295.5,143.7 L295.7,143.7 L296.0,143.7 L296.3,143.7 L296.6,143.7 L296.9,143.7 L297.2,143.7 L297.5,143.7 L297.8,143.7 L298.1,143.7 L298.3,143.7 L298.6,143.7 L298.9,143.7 L299.2,143.7 L299.5,143.7 L299.8,143.7 L300.1,143.7 L300.4,143.7 L300.7,143.7 L300.9,143.7 L301.2,143.7 L301.5,143.7 L301.8,143.7 L302.1,143.7 L302.4,143.7 L302.7,143.7 L303.0,143.7 L303.3,143.7 L303.5,143.7 L303.8,143.7 L304.1,143.7 L304.4,143.7 L304.7,143.7 L305.0,143.7 L305.3,143.7 L305.6,143.7 L305.9,143.6 L306.1,143.6 L306.4,143.6 L306.7,143.6 L307.0,143.6 L307.3,143.6 L307.6,143.6 L307.9,143.6 L308.2,143.6 L308.5,143.6 L308.8,143.6 L309.0,143.6 L309.3,143.6 L309.6,143.6 L309.9,143.6 L310.2,143.6 L310.5,143.6 L310.8,143.6 L311.1,143.6 L311.4,143.6 L311.6,143.5 L311.9,143.5 L312.2,143.5 L312.5,143.5 L312.8,143.5 L313.1,143.5 L313.4,143.4 L313.7,143.4 L314.0,143.4 L314.2,143.3 L314.5,143.3 L314.8,143.2 L315.1,143.1 L315.4,143.0 L315.7,142.9 L316.0,142.8 L316.3,142.6 L316.6,142.4 L316.8,142.2 L317.1,142.0 L317.4,141.9 L317.7,141.9 L318.0,141.9 L318.3,142.1 L318.6,142.2 L318.9,142.4 L319.2,142.6 L319.4,142.8 L319.7,142.9 L320.0,143.0 L320.3,143.1 L320.6,143.2 L320.9,143.3 L321.2,143.3 L321.5,143.3 L321.8,143.4 L322.0,143.4 L322.3,143.4 L322.6,143.5 L322.9,143.5 L323.2,143.5 L323.5,143.5 L323.8,143.5 L324.1,143.5 L324.4,143.5 L324.6,143.5 L324.9,143.6 L325.2,143.6 L325.5,143.6 L325.8,143.6 L326.1,143.6 L326.4,143.6 L326.7,143.6 L327.0,143.6 L327.2,143.6 L327.5,143.6 L327.8,143.6 L328.1,143.6 L328.4,143.6 L328.7,143.6 L329.0,143.6 L329.3,143.6 L329.6,143.6 L329.8,143.6 L330.1,143.6 L330.4,143.6 L330.7,143.6 L331.0,143.6 L331.3,143.6 L331.6,143.6 L331.9,143.6 L332.2,143.6 L332.4,143.6 L332.7,143.6 L333.0,143.6 L333.3,143.6 L333.6,143.6 L333.9,143.6 L334.2,143.6 L334.5,143.6 L334.8,143.6 L335.0,143.6 L335.3,143.6 L335.6,143.6 L335.9,143.6 L336.2,143.6 L336.5,143.6 L336.8,143.6 L337.1,143.6 L337.4,143.6 L337.6,143.6 L337.9,143.6 L338.2,143.6 L338.5,143.6 L338.8,143.6 L339.1,143.6 L339.4,143.6 L339.7,143.6 L340.0,143.6 L340.2,143.6 L340.5,143.6 L340.8,143.6 L341.1,143.6 L341.4,143.6 L341.7,143.6 L342.0,143.6 L342.3,143.6 L342.6,143.6 L342.9,143.6 L343.1,143.6 L343.4,143.6 L343.7,143.6 L344.0,143.6 L344.3,143.6 L344.6,143.6 L344.9,143.6 L345.2,143.6 L345.5,143.6 L345.7,143.5 L346.0,143.5 L346.3,143.5 L346.6,143.5 L346.9,143.5 L347.2,143.5 L347.5,143.5 L347.8,143.5 L348.1,143.5 L348.3,143.5 L348.6,143.5 L348.9,143.5 L349.2,143.5 L349.5,143.4 L349.8,143.4 L350.1,143.4 L350.4,143.4 L350.7,143.4 L350.9,143.3 L351.2,143.3 L351.5,143.3 L351.8,143.2 L352.1,143.1 L352.4,143.1 L352.7,143.0 L353.0,143.0 L353.3,142.9 L353.5,142.9 L353.8,142.9 L354.1,143.0 L354.4,143.0 L354.7,143.1 L355.0,143.1 L355.3,143.2 L355.6,143.2 L355.9,143.3 L356.1,143.3 L356.4,143.3 L356.7,143.3 L357.0,143.4 L357.3,143.4 L357.6,143.4 L357.9,143.4 L358.2,143.4 L358.5,143.4 L358.7,143.4 L359.0,143.4 L359.3,143.4 L359.6,143.4 L359.9,143.4 L360.2,143.4 L360.5,143.4 L360.8,143.4 L361.1,143.4 L361.3,143.4 L361.6,143.4 L361.9,143.4 L362.2,143.3 L362.5,143.3 L362.8,143.3 L363.1,143.3 L363.4,143.3 L363.7,143.3 L363.9,143.3 L364.2,143.3 L364.5,143.3 L364.8,143.2 L365.1,143.2 L365.4,143.2 L365.7,143.2 L366.0,143.2 L366.3,143.1 L366.5,143.1 L366.8,143.1 L367.1,143.0 L367.4,143.0 L367.7,143.0 L368.0,142.9 L368.3,142.9 L368.6,142.8 L368.9,142.8 L369.1,142.7 L369.4,142.7 L369.7,142.6 L370.0,142.5 L370.3,142.4 L370.6,142.3 L370.9,142.1 L371.2,142.0 L371.5,141.8 L371.7,141.6 L372.0,141.4 L372.3,141.1 L372.6,140.7 L372.9,140.3 L373.2,139.7 L373.5,139.1 L373.8,138.2 L374.1,137.2 L374.3,135.8 L374.6,133.9 L374.9,131.4 L375.2,128.1 L375.5,123.7 L375.8,118.2 L376.1,112.4 L376.4,108.1 L376.7,107.5 L377.0,111.0 L377.2,116.6 L377.5,122.3 L377.8,127.0 L378.1,130.6 L378.4,133.3 L378.7,135.3 L379.0,136.8 L379.3,138.0 L379.6,138.9 L379.8,139.6 L380.1,140.1 L380.4,140.6 L380.7,141.0 L381.0,141.3 L381.3,141.5 L381.6,141.7 L381.9,141.9 L382.2,142.1 L382.4,142.2 L382.7,142.3 L383.0,142.4 L383.3,142.5 L383.6,142.6 L383.9,142.7 L384.2,142.7 L384.5,142.8 L384.8,142.8 L385.0,142.9 L385.3,142.9 L385.6,143.0 L385.9,143.0 L386.2,143.0 L386.5,143.1 L386.8,143.1 L387.1,143.1 L387.4,143.1 L387.6,143.1 L387.9,143.2 L388.2,143.2 L388.5,143.2 L388.8,143.2 L389.1,143.2 L389.4,143.2 L389.7,143.2 L390.0,143.2 L390.2,143.2 L390.5,143.2 L390.8,143.2 L391.1,143.2 L391.4,143.2 L391.7,143.2 L392.0,143.2 L392.3,143.2 L392.6,143.2 L392.8,143.2 L393.1,143.2 L393.4,143.2 L393.7,143.2 L394.0,143.1 L394.3,143.1 L394.6,143.1 L394.9,143.0 L395.2,143.0 L395.4,142.9 L395.7,142.8 L396.0,142.7 L396.3,142.6 L396.6,142.6 L396.9,142.5 L397.2,142.4 L397.5,142.4 L397.8,142.5 L398.0,142.6 L398.3,142.7 L398.6,142.8 L398.9,142.9 L399.2,142.9 L399.5,143.0 L399.8,143.1 L400.1,143.1 L400.4,143.2 L400.6,143.2 L400.9,143.2 L401.2,143.3 L401.5,143.3 L401.8,143.3 L402.1,143.3 L402.4,143.3 L402.7,143.4 L403.0,143.4 L403.2,143.4 L403.5,143.4 L403.8,143.4 L404.1,143.4 L404.4,143.4 L404.7,143.4 L405.0,143.4 L405.3,143.4 L405.6,143.4 L405.8,143.4 L406.1,143.4 L406.4,143.4 L406.7,143.4 L407.0,143.4 L407.3,143.4 L407.6,143.4 L407.9,143.5 L408.2,143.5 L408.4,143.5 L408.7,143.5 L409.0,143.5 L409.3,143.5 L409.6,143.5 L409.9,143.5 L410.2,143.5 L410.5,143.5 L410.8,143.5 L411.1,143.5 L411.3,143.5 L411.6,143.5 L411.9,143.5 L412.2,143.5 L412.5,143.5 L412.8,143.5 L413.1,143.5 L413.4,143.5 L413.7,143.5 L413.9,143.5 L414.2,143.5 L414.5,143.5 L414.8,143.5 L415.1,143.5 L415.4,143.5 L415.7,143.5 L416.0,143.5 L416.3,143.5 L416.5,143.5 L416.8,143.5 L417.1,143.5 L417.4,143.5 L417.7,143.5 L418.0,143.5 L418.3,143.5 L418.6,143.5 L418.9,143.5 L419.1,143.5 L419.4,143.5 L419.7,143.5 L420.0,143.5 L420.3,143.5 L420.6,143.5 L420.9,143.5 L421.2,143.5 L421.5,143.5 L421.7,143.5 L422.0,143.5 L422.3,143.5 L422.6,143.5 L422.9,143.5 L423.2,143.5 L423.5,143.5 L423.8,143.5 L424.1,143.5 L424.3,143.5 L424.6,143.5 L424.9,143.5 L425.2,143.5 L425.5,143.5 L425.8,143.5 L426.1,143.5 L426.4,143.5 L426.7,143.5 L426.9,143.5 L427.2,143.5 L427.5,143.5 L427.8,143.5 L428.1,143.5" stroke="#3a70b4" stroke-width="1.5" fill="none" stroke-linejoin="round"/>
<path d="M255.0,156.8 L255.3,156.8 L255.6,156.8 L255.9,156.8 L256.2,156.8 L256.4,156.8 L256.7,156.8 L257.0,156.8 L257.3,156.8 L257.6,156.8 L257.9,156.8 L258.2,156.8 L258.5,156.8 L258.8,156.8 L259.0,156.8 L259.3,156.8 L259.6,156.8 L259.9,156.8 L260.2,156.8 L260.5,156.8 L260.8,156.8 L261.1,156.8 L261.4,156.8 L261.6,156.8 L261.9,156.8 L262.2,156.8 L262.5,156.8 L262.8,156.8 L263.1,156.8 L263.4,156.8 L263.7,156.8 L264.0,156.8 L264.2,156.8 L264.5,156.8 L264.8,156.8 L265.1,156.8 L265.4,156.8 L265.7,156.8 L266.0,156.8 L266.3,156.8 L266.6,156.8 L266.8,156.8 L267.1,156.8 L267.4,156.8 L267.7,156.8 L268.0,156.8 L268.3,156.8 L268.6,156.8 L268.9,156.8 L269.2,156.8 L269.4,156.8 L269.7,156.8 L270.0,156.8 L270.3,156.8 L270.6,156.8 L270.9,156.8 L271.2,156.8 L271.5,156.8 L271.8,156.8 L272.0,156.8 L272.3,156.8 L272.6,156.8 L272.9,156.8 L273.2,156.8 L273.5,156.8 L273.8,156.8 L274.1,156.8 L274.4,156.8 L274.7,156.8 L274.9,156.8 L275.2,156.8 L275.5,156.8 L275.8,156.8 L276.1,156.8 L276.4,156.8 L276.7,156.8 L277.0,156.8 L277.3,156.8 L277.5,156.8 L277.8,156.8 L278.1,156.8 L278.4,156.8 L278.7,156.8 L279.0,156.8 L279.3,156.8 L279.6,156.8 L279.9,156.8 L280.1,156.8 L280.4,156.8 L280.7,156.8 L281.0,156.8 L281.3,156.8 L281.6,156.8 L281.9,156.8 L282.2,156.8 L282.5,156.8 L282.7,156.8 L283.0,156.8 L283.3,156.8 L283.6,156.8 L283.9,156.8 L284.2,156.8 L284.5,156.8 L284.8,156.8 L285.1,156.8 L285.3,156.8 L285.6,156.8 L285.9,156.8 L286.2,156.8 L286.5,156.8 L286.8,156.8 L287.1,156.8 L287.4,156.8 L287.7,156.8 L287.9,156.8 L288.2,156.8 L288.5,156.8 L288.8,156.8 L289.1,156.8 L289.4,156.8 L289.7,156.8 L290.0,156.8 L290.3,156.8 L290.5,156.8 L290.8,156.8 L291.1,156.8 L291.4,156.8 L291.7,156.8 L292.0,156.8 L292.3,156.8 L292.6,156.8 L292.9,156.8 L293.1,156.8 L293.4,156.8 L293.7,156.8 L294.0,156.8 L294.3,156.8 L294.6,156.8 L294.9,156.8 L295.2,156.8 L295.5,156.8 L295.7,156.8 L296.0,156.8 L296.3,156.8 L296.6,156.8 L296.9,156.8 L297.2,156.8 L297.5,156.8 L297.8,156.8 L298.1,156.8 L298.3,156.8 L298.6,156.8 L298.9,156.8 L299.2,156.8 L299.5,156.8 L299.8,156.8 L300.1,156.8 L300.4,156.8 L300.7,156.8 L300.9,156.8 L301.2,156.8 L301.5,156.8 L301.8,156.8 L302.1,156.8 L302.4,156.8 L302.7,156.8 L303.0,156.8 L303.3,156.8 L303.5,156.8 L303.8,156.8 L304.1,156.8 L304.4,156.8 L304.7,156.8 L305.0,156.8 L305.3,156.8 L305.6,156.8 L305.9,156.8 L306.1,156.8 L306.4,156.8 L306.7,156.8 L307.0,156.8 L307.3,156.8 L307.6,156.8 L307.9,156.8 L308.2,156.8 L308.5,156.8 L308.8,156.8 L309.0,156.8 L309.3,156.8 L309.6,156.8 L309.9,156.8 L310.2,156.8 L310.5,156.8 L310.8,156.8 L311.1,156.8 L311.4,156.8 L311.6,156.8 L311.9,156.8 L312.2,156.8 L312.5,156.8 L312.8,156.8 L313.1,156.8 L313.4,156.8 L313.7,156.8 L314.0,156.8 L314.2,156.8 L314.5,156.8 L314.8,156.8 L315.1,156.8 L315.4,156.8 L315.7,156.8 L316.0,156.8 L316.3,156.8 L316.6,156.8 L316.8,156.8 L317.1,156.8 L317.4,156.8 L317.7,156.8 L318.0,156.8 L318.3,156.8 L318.6,156.8 L318.9,156.8 L319.2,156.8 L319.4,156.8 L319.7,156.8 L320.0,156.8 L320.3,156.8 L320.6,156.8 L320.9,156.8 L321.2,156.8 L321.5,156.8 L321.8,156.8 L322.0,156.8 L322.3,156.8 L322.6,156.8 L322.9,156.8 L323.2,156.8 L323.5,156.8 L323.8,156.8 L324.1,156.8 L324.4,156.8 L324.6,156.8 L324.9,156.8 L325.2,156.8 L325.5,156.8 L325.8,156.8 L326.1,156.8 L326.4,156.8 L326.7,156.8 L327.0,156.8 L327.2,156.8 L327.5,156.8 L327.8,156.8 L328.1,156.8 L328.4,156.8 L328.7,156.8 L329.0,156.8 L329.3,156.8 L329.6,156.8 L329.8,156.8 L330.1,156.8 L330.4,156.8 L330.7,156.8 L331.0,156.8 L331.3,156.8 L331.6,156.8 L331.9,156.8 L332.2,156.8 L332.4,156.8 L332.7,156.8 L333.0,156.8 L333.3,156.8 L333.6,156.8 L333.9,156.8 L334.2,156.8 L334.5,156.8 L334.8,156.8 L335.0,156.8 L335.3,156.8 L335.6,156.8 L335.9,156.8 L336.2,156.8 L336.5,156.8 L336.8,156.8 L337.1,156.8 L337.4,156.8 L337.6,156.8 L337.9,156.8 L338.2,156.8 L338.5,156.8 L338.8,156.8 L339.1,156.8 L339.4,156.8 L339.7,156.8 L340.0,156.8 L340.2,156.8 L340.5,156.8 L340.8,156.8 L341.1,156.8 L341.4,156.8 L341.7,156.8 L342.0,156.8 L342.3,156.8 L342.6,156.8 L342.9,156.8 L343.1,156.8 L343.4,156.8 L343.7,156.8 L344.0,156.8 L344.3,156.8 L344.6,156.8 L344.9,156.8 L345.2,156.8 L345.5,156.8 L345.7,156.8 L346.0,156.8 L346.3,156.8 L346.6,156.8 L346.9,156.8 L347.2,156.7 L347.5,156.7 L347.8,156.7 L348.1,156.7 L348.3,156.7 L348.6,156.7 L348.9,156.7 L349.2,156.7 L349.5,156.7 L349.8,156.7 L350.1,156.7 L350.4,156.6 L350.7,156.6 L350.9,156.6 L351.2,156.5 L351.5,156.5 L351.8,156.5 L352.1,156.4 L352.4,156.3 L352.7,156.3 L353.0,156.2 L353.3,156.2 L353.5,156.2 L353.8,156.2 L354.1,156.3 L354.4,156.3 L354.7,156.4 L355.0,156.4 L355.3,156.5 L355.6,156.5 L355.9,156.6 L356.1,156.6 L356.4,156.6 L356.7,156.6 L357.0,156.7 L357.3,156.7 L357.6,156.7 L357.9,156.7 L358.2,156.7 L358.5,156.7 L358.7,156.7 L359.0,156.7 L359.3,156.7 L359.6,156.7 L359.9,156.7 L360.2,156.8 L360.5,156.8 L360.8,156.8 L361.1,156.8 L361.3,156.8 L361.6,156.8 L361.9,156.8 L362.2,156.8 L362.5,156.8 L362.8,156.8 L363.1,156.8 L363.4,156.8 L363.7,156.8 L363.9,156.8 L364.2,156.8 L364.5,156.8 L364.8,156.8 L365.1,156.8 L365.4,156.8 L365.7,156.8 L366.0,156.8 L366.3,156.8 L366.5,156.8 L366.8,156.8 L367.1,156.8 L367.4,156.8 L367.7,156.8 L368.0,156.8 L368.3,156.8 L368.6,156.8 L368.9,156.8 L369.1,156.8 L369.4,156.8 L369.7,156.8 L370.0,156.8 L370.3,156.8 L370.6,156.8 L370.9,156.8 L371.2,156.8 L371.5,156.8 L371.7,156.8 L372.0,156.8 L372.3,156.8 L372.6,156.8 L372.9,156.8 L373.2,156.8 L373.5,156.8 L373.8,156.8 L374.1,156.8 L374.3,156.8 L374.6,156.8 L374.9,156.8 L375.2,156.8 L375.5,156.8 L375.8,156.8 L376.1,156.8 L376.4,156.8 L376.7,156.8 L377.0,156.8 L377.2,156.8 L377.5,156.8 L377.8,156.8 L378.1,156.8 L378.4,156.8 L378.7,156.8 L379.0,156.8 L379.3,156.8 L379.6,156.8 L379.8,156.8 L380.1,156.8 L380.4,156.8 L380.7,156.8 L381.0,156.8 L381.3,156.8 L381.6,156.8 L381.9,156.8 L382.2,156.8 L382.4,156.8 L382.7,156.8 L383.0,156.8 L383.3,156.8 L383.6,156.8 L383.9,156.8 L384.2,156.8 L384.5,156.8 L384.8,156.8 L385.0,156.8 L385.3,156.8 L385.6,156.8 L385.9,156.8 L386.2,156.8 L386.5,156.8 L386.8,156.8 L387.1,156.8 L387.4,156.7 L387.6,156.7 L387.9,156.7 L388.2,156.7 L388.5,156.7 L388.8,156.7 L389.1,156.7 L389.4,156.7 L389.7,156.7 L390.0,156.7 L390.2,156.7 L390.5,156.7 L390.8,156.7 L391.1,156.7 L391.4,156.7 L391.7,156.7 L392.0,156.6 L392.3,156.6 L392.6,156.6 L392.8,156.6 L393.1,156.6 L393.4,156.5 L393.7,156.5 L394.0,156.4 L394.3,156.4 L394.6,156.3 L394.9,156.3 L395.2,156.2 L395.4,156.1 L395.7,156.0 L396.0,155.8 L396.3,155.7 L396.6,155.6 L396.9,155.5 L397.2,155.4 L397.5,155.4 L397.8,155.5 L398.0,155.6 L398.3,155.7 L398.6,155.8 L398.9,156.0 L399.2,156.1 L399.5,156.2 L399.8,156.3 L400.1,156.3 L400.4,156.4 L400.6,156.4 L400.9,156.5 L401.2,156.5 L401.5,156.6 L401.8,156.6 L402.1,156.6 L402.4,156.6 L402.7,156.6 L403.0,156.7 L403.2,156.7 L403.5,156.7 L403.8,156.7 L404.1,156.7 L404.4,156.7 L404.7,156.7 L405.0,156.7 L405.3,156.7 L405.6,156.7 L405.8,156.7 L406.1,156.7 L406.4,156.7 L406.7,156.7 L407.0,156.7 L407.3,156.7 L407.6,156.8 L407.9,156.8 L408.2,156.8 L408.4,156.8 L408.7,156.8 L409.0,156.8 L409.3,156.8 L409.6,156.8 L409.9,156.8 L410.2,156.8 L410.5,156.8 L410.8,156.8 L411.1,156.8 L411.3,156.8 L411.6,156.8 L411.9,156.8 L412.2,156.8 L412.5,156.8 L412.8,156.8 L413.1,156.8 L413.4,156.8 L413.7,156.8 L413.9,156.8 L414.2,156.8 L414.5,156.8 L414.8,156.8 L415.1,156.8 L415.4,156.8 L415.7,156.8 L416.0,156.8 L416.3,156.8 L416.5,156.8 L416.8,156.8 L417.1,156.8 L417.4,156.8 L417.7,156.8 L418.0,156.8 L418.3,156.8 L418.6,156.8 L418.9,156.8 L419.1,156.8 L419.4,156.8 L419.7,156.8 L420.0,156.8 L420.3,156.8 L420.6,156.8 L420.9,156.8 L421.2,156.8 L421.5,156.8 L421.7,156.8 L422.0,156.8 L422.3,156.8 L422.6,156.8 L422.9,156.8 L423.2,156.8 L423.5,156.8 L423.8,156.8 L424.1,156.8 L424.3,156.8 L424.6,156.8 L424.9,156.8 L425.2,156.8 L425.5,156.8 L425.8,156.8 L426.1,156.8 L426.4,156.8 L426.7,156.8 L426.9,156.8 L427.2,156.8 L427.5,156.8 L427.8,156.8 L428.1,156.8" stroke="#6a54aa" stroke-width="1.5" fill="none" stroke-linejoin="round"/>
<rect x="271.6" y="32.4" width="92.8" height="126.8" fill="none" stroke="#2f5fd8" stroke-width="1.2" stroke-dasharray="1.1 1"/>
<rect x="255.0" y="20.6" width="173.10000000000002" height="147.1" fill="none" stroke="#333" stroke-width="1.1"/>
<line x1="255.0" y1="167.7" x2="255.0" y2="170.7" stroke="#333" stroke-width="1.1"/>
<text x="255.0" y="181.5" font-size="10" text-anchor="middle" fill="#222" font-weight="normal">300</text>
<line x1="312.7" y1="167.7" x2="312.7" y2="170.7" stroke="#333" stroke-width="1.1"/>
<text x="312.7" y="181.5" font-size="10" text-anchor="middle" fill="#222" font-weight="normal">600</text>
<line x1="370.40000000000003" y1="167.7" x2="370.40000000000003" y2="170.7" stroke="#333" stroke-width="1.1"/>
<text x="370.40000000000003" y="181.5" font-size="10" text-anchor="middle" fill="#222" font-weight="normal">900</text>
<line x1="428.1" y1="167.7" x2="428.1" y2="170.7" stroke="#333" stroke-width="1.1"/>
<text x="428.1" y="181.5" font-size="10" text-anchor="middle" fill="#222" font-weight="normal">1200</text>
<line x1="283.85" y1="167.7" x2="283.85" y2="169.7" stroke="#333" stroke-width="1"/>
<line x1="341.55" y1="167.7" x2="341.55" y2="169.7" stroke="#333" stroke-width="1"/>
<line x1="399.25" y1="167.7" x2="399.25" y2="169.7" stroke="#333" stroke-width="1"/>
<text x="238.7" y="21.9" font-size="19" text-anchor="start" fill="#222" font-weight="normal">b</text>
<text x="346.2" y="14" font-size="9.4" text-anchor="middle" fill="#222" font-weight="normal">Zw gel electrolytes</text>
<text x="280.4" y="29.8" font-size="8.2" text-anchor="start" fill="#222" font-weight="normal">ClO<tspan font-size="5.6" baseline-shift="-1.80">4</tspan><tspan font-size="5.6" baseline-shift="3.12">-</tspan></text>
<text x="311" y="29.8" font-size="8.2" text-anchor="start" fill="#222" font-weight="normal">ClO<tspan font-size="5.6" baseline-shift="-1.80">4</tspan><tspan font-size="5.6" baseline-shift="3.12">-</tspan></text>
<text x="357.4" y="29.8" font-size="8.2" text-anchor="start" fill="#222" font-weight="normal">ClO<tspan font-size="5.6" baseline-shift="-1.80">4</tspan><tspan font-size="5.6" baseline-shift="3.12">-</tspan></text>
<text x="425.3" y="32" font-size="8.5" text-anchor="end" fill="#d03a55" font-weight="normal">n=40%</text>
<text x="425.3" y="49.6" font-size="8.5" text-anchor="end" fill="#ee6a5a" font-weight="normal">n=30%</text>
<text x="425.3" y="77" font-size="8.5" text-anchor="end" fill="#f89c5e" font-weight="normal">n=20%</text>
<text x="425.3" y="102.4" font-size="8.5" text-anchor="end" fill="#7ab6de" font-weight="normal">n=10%</text>
<text x="423.0" y="137.7" font-size="8.5" text-anchor="end" fill="#3a70b4" font-weight="normal">n=0%</text>
<text x="426.5" y="164.5" font-size="8.2" text-anchor="end" fill="#6a54aa" font-weight="normal">Hydrogel</text>
<text x="347" y="151" font-size="8.2" text-anchor="start" fill="#6a54aa" font-weight="normal">Zw</text>
<text x="392.9" y="151" font-size="8.2" text-anchor="start" fill="#6a54aa" font-weight="normal">Zw</text>
<text x="285.6" y="132" font-size="12.4" text-anchor="start" fill="#f0141e" font-weight="normal">Variable</text>
<text x="341.3" y="199.8" font-size="12" text-anchor="middle" fill="#222" font-weight="normal">Raman shift (cm<tspan font-size="8.2" baseline-shift="4.56">-1</tspan>)</text>
<text x="246.6" y="93" font-size="11.7" text-anchor="middle" fill="#222" font-weight="normal" transform="rotate(-90 246.6 93)">Intensity (arb. units)</text>
<path d="M474.6,68.0 L475.0,68.1 L475.5,67.7 L475.9,67.4 L476.3,67.5 L476.8,67.2 L477.2,67.6 L477.6,68.1 L478.1,67.2 L478.5,67.1 L478.9,67.6 L479.3,67.4 L479.8,67.2 L480.2,66.7 L480.6,67.1 L481.1,67.3 L481.5,66.3 L481.9,66.7 L482.4,65.9 L482.8,66.1 L483.2,65.8 L483.7,66.5 L484.1,66.0 L484.5,66.6 L485.0,66.5 L485.4,66.2 L485.8,65.1 L486.2,65.9 L486.7,66.1 L487.1,66.1 L487.5,65.3 L488.0,65.7 L488.4,65.4 L488.8,65.4 L489.3,66.2 L489.7,65.3 L490.1,65.6 L490.6,65.9 L491.0,65.2 L491.4,65.3 L491.9,65.3 L492.3,65.3 L492.7,64.6 L493.1,65.1 L493.6,65.6 L494.0,64.3 L494.4,65.3 L494.9,64.9 L495.3,64.5 L495.7,65.6 L496.2,64.9 L496.6,64.0 L497.0,64.5 L497.5,64.7 L497.9,64.2 L498.3,64.6 L498.8,64.2 L499.2,64.4 L499.6,64.7 L500.0,63.7 L500.5,64.0 L500.9,63.6 L501.3,63.8 L501.8,63.2 L502.2,63.4 L502.6,63.5 L503.1,63.9 L503.5,63.9 L503.9,62.8 L504.4,62.9 L504.8,63.5 L505.2,62.2 L505.7,62.9 L506.1,63.0 L506.5,63.5 L506.9,63.2 L507.4,62.6 L507.8,62.5 L508.2,62.5 L508.7,63.3 L509.1,62.3 L509.5,62.3 L510.0,62.5 L510.4,62.2 L510.8,62.1 L511.3,61.6 L511.7,62.1 L512.1,61.8 L512.6,62.5 L513.0,62.2 L513.4,61.8 L513.8,62.0 L514.3,61.5 L514.7,62.0 L515.1,61.5 L515.6,61.7 L516.0,60.8 L516.4,61.4 L516.9,60.5 L517.3,60.2 L517.7,60.9 L518.2,60.6 L518.6,61.0 L519.0,61.9 L519.5,60.4 L519.9,60.4 L520.3,60.7 L520.7,60.8 L521.2,60.4 L521.6,60.3 L522.0,60.7 L522.5,60.5 L522.9,59.7 L523.3,60.1 L523.8,60.1 L524.2,59.5 L524.6,60.0 L525.1,59.4 L525.5,60.2 L525.9,59.7 L526.4,59.6 L526.8,59.2 L527.2,59.3 L527.6,58.4 L528.1,58.7 L528.5,59.3 L528.9,58.1 L529.4,59.3 L529.8,58.0 L530.2,59.1 L530.7,58.3 L531.1,58.9 L531.5,58.5 L532.0,57.7 L532.4,58.8 L532.8,58.8 L533.3,58.0 L533.7,57.8 L534.1,57.8 L534.5,57.3 L535.0,58.1 L535.4,57.3 L535.8,57.4 L536.3,57.0 L536.7,57.0 L537.1,56.6 L537.6,57.6 L538.0,56.9 L538.4,57.3 L538.9,56.8 L539.3,56.3 L539.7,56.4 L540.2,56.2 L540.6,56.4 L541.0,56.1 L541.4,56.0 L541.9,55.5 L542.3,55.6 L542.7,56.6 L543.2,55.5 L543.6,55.2 L544.0,55.8 L544.5,56.2 L544.9,54.8 L545.3,55.3 L545.8,55.0 L546.2,54.4 L546.6,55.4 L547.1,55.0 L547.5,55.0 L547.9,54.5 L548.3,55.0 L548.8,54.5 L549.2,54.6 L549.6,54.1 L550.1,54.0 L550.5,55.0 L550.9,54.2 L551.4,54.5 L551.8,54.2 L552.2,54.0 L552.7,53.9 L553.1,54.4 L553.5,53.9 L554.0,53.9 L554.4,54.0 L554.8,54.4 L555.2,54.2 L555.7,54.0 L556.1,53.5 L556.5,53.1 L557.0,54.2 L557.4,54.1 L557.8,53.6 L558.3,53.9 L558.7,54.0 L559.1,54.0 L559.6,54.0 L560.0,53.4 L560.4,54.3 L560.9,53.0 L561.3,54.0 L561.7,53.8 L562.1,54.0 L562.6,54.4 L563.0,54.3 L563.4,53.1 L563.9,52.9 L564.3,54.0 L564.7,53.2 L565.2,53.6 L565.6,54.0 L566.0,52.9 L566.5,52.7 L566.9,53.8 L567.3,53.7 L567.8,53.5 L568.2,53.7 L568.6,53.3 L569.0,53.0 L569.5,53.6 L569.9,53.3 L570.3,53.0 L570.8,53.9 L571.2,53.7 L571.6,53.9 L572.1,53.3 L572.5,53.5 L572.9,53.3 L573.4,53.4 L573.8,53.9 L574.2,53.4 L574.7,54.0 L575.1,54.0 L575.5,54.7 L575.9,53.2 L576.4,54.3 L576.8,53.8 L577.2,53.9 L577.7,53.3 L578.1,53.7 L578.5,54.3 L579.0,53.9 L579.4,54.0 L579.8,53.9 L580.3,54.5 L580.7,54.0 L581.1,53.0 L581.6,53.7 L582.0,53.2 L582.4,52.6 L582.8,53.9 L583.3,54.7 L583.7,54.2 L584.1,53.6 L584.6,53.8 L585.0,54.7 L585.4,54.3 L585.9,54.3 L586.3,54.3 L586.7,54.4 L587.2,54.8 L587.6,54.7 L588.0,54.6 L588.5,54.1 L588.9,54.9 L589.3,54.5 L589.7,55.4 L590.2,54.4 L590.6,55.0 L591.0,55.2 L591.5,54.7 L591.9,56.2 L592.3,56.3 L592.8,55.5 L593.2,56.2 L593.6,56.2 L594.1,55.0 L594.5,56.4 L594.9,56.5 L595.4,56.7 L595.8,56.3 L596.2,56.9 L596.6,57.1 L597.1,57.9 L597.5,57.7 L597.9,57.7 L598.4,58.5 L598.8,57.8 L599.2,58.0 L599.7,57.6 L600.1,59.3 L600.5,59.2 L601.0,59.4 L601.4,59.5 L601.8,59.4 L602.3,59.6 L602.7,59.6 L603.1,59.8 L603.5,60.1 L604.0,60.9 L604.4,60.7 L604.8,60.6 L605.3,60.5 L605.7,60.7 L606.1,61.9 L606.6,61.5 L607.0,61.5 L607.4,61.5 L607.9,61.3 L608.3,61.9 L608.7,62.5 L609.2,62.1 L609.6,62.3 L610.0,62.5 L610.4,62.8 L610.9,62.1 L611.3,62.9 L611.7,62.7 L612.2,63.6 L612.6,63.0 L613.0,63.7 L613.5,64.2 L613.9,63.5 L614.3,63.5 L614.8,64.0 L615.2,64.0 L615.6,63.7 L616.1,64.5 L616.5,65.3 L616.9,64.4 L617.3,64.5 L617.8,64.2 L618.2,65.0 L618.6,64.4 L619.1,64.6 L619.5,65.8 L619.9,64.9 L620.4,65.9 L620.8,66.2 L621.2,65.7 L621.7,66.0 L622.1,66.7 L622.5,65.8 L623.0,65.7 L623.4,65.5 L623.8,66.2 L624.2,66.9 L624.7,66.8 L625.1,66.0 L625.5,66.1 L626.0,66.4 L626.4,66.8 L626.8,66.6 L627.3,66.9 L627.7,67.0 L628.1,66.7 L628.6,66.9 L629.0,67.1 L629.4,67.0 L629.9,67.3 L630.3,67.9 L630.7,67.4 L631.1,67.1 L631.6,66.4 L632.0,67.3 L632.4,66.3 L632.9,66.6 L633.3,67.6 L633.7,67.6 L634.2,67.2 L634.6,66.6 L635.0,67.2 L635.5,67.1 L635.9,67.7 L636.3,68.4 L636.8,67.5 L637.2,67.1 L637.6,67.0 L638.0,67.5 L638.5,67.5 L638.9,67.0 L639.3,67.6 L639.8,67.1 L640.2,68.1 L640.6,68.1 L641.1,68.2 L641.5,67.5 L641.9,67.9 L642.4,67.7 L642.8,67.6 L643.2,67.6 L643.7,67.2 L644.1,67.1 L644.5,68.2 L644.9,67.7 L645.4,67.9 L645.8,68.3 L646.2,67.1 L646.7,67.5 L647.1,68.0 L647.5,68.1 L648.0,67.7 L648.4,68.4 L648.8,68.0 L649.3,67.4 L649.7,67.5 L650.1,68.3 L650.6,68.2 L651.0,67.1 L651.4,68.6 L651.8,68.2 L652.3,68.6 L652.7,67.8 L653.1,67.9 L653.6,67.5 L654.0,69.1 L654.4,67.9 L654.9,68.7 L655.3,67.7" stroke="#d03a55" stroke-width="1.5" fill="none" stroke-linejoin="round"/>
<path d="M474.6,88.6 L475.0,87.7 L475.5,88.2 L475.9,88.7 L476.3,87.6 L476.8,88.6 L477.2,88.1 L477.6,87.4 L478.1,87.6 L478.5,87.5 L478.9,87.6 L479.3,87.3 L479.8,87.1 L480.2,87.2 L480.6,86.8 L481.1,86.6 L481.5,87.1 L481.9,87.4 L482.4,86.2 L482.8,86.8 L483.2,86.5 L483.7,86.2 L484.1,87.0 L484.5,86.2 L485.0,87.1 L485.4,85.9 L485.8,86.4 L486.2,86.0 L486.7,85.7 L487.1,86.2 L487.5,85.8 L488.0,86.0 L488.4,85.6 L488.8,85.1 L489.3,85.4 L489.7,85.4 L490.1,85.7 L490.6,84.8 L491.0,85.1 L491.4,84.2 L491.9,85.2 L492.3,84.3 L492.7,83.9 L493.1,84.6 L493.6,85.0 L494.0,83.7 L494.4,83.8 L494.9,83.9 L495.3,83.6 L495.7,84.2 L496.2,83.6 L496.6,83.5 L497.0,84.0 L497.5,83.3 L497.9,83.7 L498.3,83.0 L498.8,82.8 L499.2,82.4 L499.6,84.0 L500.0,82.9 L500.5,83.0 L500.9,82.8 L501.3,82.8 L501.8,82.7 L502.2,83.4 L502.6,82.0 L503.1,81.6 L503.5,81.8 L503.9,81.5 L504.4,82.4 L504.8,82.3 L505.2,81.4 L505.7,81.1 L506.1,81.5 L506.5,82.1 L506.9,80.1 L507.4,81.5 L507.8,80.7 L508.2,81.6 L508.7,80.5 L509.1,80.8 L509.5,80.1 L510.0,80.2 L510.4,81.2 L510.8,80.8 L511.3,80.2 L511.7,79.9 L512.1,79.3 L512.6,79.9 L513.0,79.9 L513.4,79.8 L513.8,79.7 L514.3,79.1 L514.7,79.5 L515.1,79.4 L515.6,79.9 L516.0,80.0 L516.4,79.0 L516.9,78.6 L517.3,78.8 L517.7,78.5 L518.2,78.3 L518.6,78.5 L519.0,78.0 L519.5,78.6 L519.9,78.2 L520.3,78.2 L520.7,77.9 L521.2,77.6 L521.6,77.4 L522.0,77.6 L522.5,77.3 L522.9,77.6 L523.3,77.3 L523.8,76.6 L524.2,77.1 L524.6,76.4 L525.1,76.6 L525.5,76.6 L525.9,75.7 L526.4,76.5 L526.8,76.4 L527.2,76.1 L527.6,75.8 L528.1,75.7 L528.5,75.3 L528.9,75.5 L529.4,75.2 L529.8,75.3 L530.2,74.6 L530.7,75.1 L531.1,74.9 L531.5,74.6 L532.0,74.3 L532.4,74.6 L532.8,73.4 L533.3,74.2 L533.7,74.0 L534.1,73.8 L534.5,73.7 L535.0,73.1 L535.4,73.1 L535.8,73.3 L536.3,73.1 L536.7,72.8 L537.1,71.9 L537.6,72.6 L538.0,72.7 L538.4,72.5 L538.9,72.0 L539.3,71.0 L539.7,72.0 L540.2,71.3 L540.6,70.1 L541.0,71.3 L541.4,70.3 L541.9,70.2 L542.3,70.3 L542.7,71.0 L543.2,70.1 L543.6,70.3 L544.0,70.8 L544.5,70.6 L544.9,69.7 L545.3,69.5 L545.8,68.9 L546.2,69.0 L546.6,69.3 L547.1,69.2 L547.5,68.9 L547.9,69.2 L548.3,68.3 L548.8,68.5 L549.2,68.7 L549.6,68.5 L550.1,68.6 L550.5,68.2 L550.9,67.8 L551.4,68.0 L551.8,67.3 L552.2,66.9 L552.7,67.8 L553.1,67.4 L553.5,67.5 L554.0,66.5 L554.4,67.0 L554.8,66.8 L555.2,66.7 L555.7,66.0 L556.1,66.8 L556.5,67.3 L557.0,67.0 L557.4,66.5 L557.8,66.7 L558.3,67.0 L558.7,65.4 L559.1,66.6 L559.6,66.9 L560.0,66.9 L560.4,67.4 L560.9,67.1 L561.3,66.7 L561.7,66.7 L562.1,67.0 L562.6,66.4 L563.0,66.6 L563.4,67.0 L563.9,67.5 L564.3,66.5 L564.7,66.6 L565.2,66.7 L565.6,67.2 L566.0,66.6 L566.5,67.3 L566.9,66.2 L567.3,66.5 L567.8,66.5 L568.2,67.0 L568.6,67.1 L569.0,65.9 L569.5,66.2 L569.9,66.8 L570.3,66.3 L570.8,65.9 L571.2,67.1 L571.6,66.8 L572.1,66.8 L572.5,66.4 L572.9,67.1 L573.4,66.5 L573.8,67.1 L574.2,66.2 L574.7,66.2 L575.1,66.7 L575.5,66.3 L575.9,66.9 L576.4,66.7 L576.8,66.2 L577.2,66.6 L577.7,66.4 L578.1,67.0 L578.5,66.3 L579.0,66.4 L579.4,67.1 L579.8,67.6 L580.3,67.5 L580.7,66.6 L581.1,66.7 L581.6,67.3 L582.0,66.5 L582.4,66.2 L582.8,66.7 L583.3,66.8 L583.7,66.2 L584.1,65.9 L584.6,66.0 L585.0,66.9 L585.4,66.3 L585.9,66.6 L586.3,66.7 L586.7,67.0 L587.2,66.6 L587.6,67.0 L588.0,66.4 L588.5,66.7 L588.9,66.5 L589.3,67.6 L589.7,67.1 L590.2,66.9 L590.6,67.2 L591.0,67.4 L591.5,67.9 L591.9,67.0 L592.3,67.4 L592.8,67.8 L593.2,69.3 L593.6,68.8 L594.1,68.4 L594.5,69.0 L594.9,69.8 L595.4,68.9 L595.8,69.0 L596.2,69.9 L596.6,69.8 L597.1,70.1 L597.5,69.7 L597.9,71.0 L598.4,71.1 L598.8,70.8 L599.2,71.1 L599.7,70.1 L600.1,71.5 L600.5,71.4 L601.0,71.9 L601.4,72.2 L601.8,72.0 L602.3,71.6 L602.7,72.8 L603.1,72.5 L603.5,72.9 L604.0,73.0 L604.4,73.4 L604.8,72.7 L605.3,74.6 L605.7,74.4 L606.1,75.0 L606.6,75.6 L607.0,75.0 L607.4,74.4 L607.9,75.0 L608.3,75.1 L608.7,75.6 L609.2,76.1 L609.6,75.4 L610.0,76.7 L610.4,76.1 L610.9,77.1 L611.3,77.1 L611.7,77.2 L612.2,77.6 L612.6,77.6 L613.0,77.7 L613.5,77.5 L613.9,78.5 L614.3,79.6 L614.8,79.9 L615.2,79.9 L615.6,79.9 L616.1,79.5 L616.5,80.8 L616.9,80.4 L617.3,80.7 L617.8,80.8 L618.2,81.3 L618.6,81.4 L619.1,81.8 L619.5,81.7 L619.9,82.3 L620.4,83.8 L620.8,83.0 L621.2,83.2 L621.7,83.9 L622.1,84.2 L622.5,83.7 L623.0,84.3 L623.4,85.1 L623.8,85.1 L624.2,85.2 L624.7,86.1 L625.1,85.3 L625.5,85.9 L626.0,85.8 L626.4,86.9 L626.8,85.5 L627.3,86.2 L627.7,86.4 L628.1,87.1 L628.6,87.1 L629.0,87.6 L629.4,86.3 L629.9,87.4 L630.3,87.0 L630.7,86.8 L631.1,87.4 L631.6,86.8 L632.0,86.3 L632.4,87.1 L632.9,86.7 L633.3,87.1 L633.7,87.6 L634.2,87.6 L634.6,88.2 L635.0,87.5 L635.5,86.9 L635.9,87.3 L636.3,87.3 L636.8,87.2 L637.2,87.9 L637.6,87.5 L638.0,86.9 L638.5,88.2 L638.9,87.8 L639.3,88.1 L639.8,88.0 L640.2,88.3 L640.6,88.0 L641.1,88.6 L641.5,88.2 L641.9,88.3 L642.4,88.3 L642.8,87.5 L643.2,88.1 L643.7,88.1 L644.1,88.3 L644.5,87.6 L644.9,89.0 L645.4,88.3 L645.8,87.7 L646.2,87.5 L646.7,88.2 L647.1,88.3 L647.5,88.0 L648.0,88.4 L648.4,88.1 L648.8,88.6 L649.3,88.1 L649.7,88.4 L650.1,88.9 L650.6,89.6 L651.0,88.0 L651.4,88.3 L651.8,88.1 L652.3,88.8 L652.7,88.0 L653.1,88.3 L653.6,88.5 L654.0,88.1 L654.4,88.1 L654.9,88.3 L655.3,87.6" stroke="#ee6a5a" stroke-width="1.5" fill="none" stroke-linejoin="round"/>
<path d="M474.6,108.0 L475.0,108.4 L475.5,108.5 L475.9,108.3 L476.3,107.5 L476.8,107.9 L477.2,108.4 L477.6,108.2 L478.1,107.8 L478.5,107.3 L478.9,107.9 L479.3,107.2 L479.8,106.8 L480.2,106.9 L480.6,107.8 L481.1,107.1 L481.5,107.4 L481.9,106.6 L482.4,107.1 L482.8,106.3 L483.2,106.4 L483.7,107.4 L484.1,106.5 L484.5,105.9 L485.0,105.9 L485.4,106.0 L485.8,106.3 L486.2,105.4 L486.7,104.7 L487.1,105.3 L487.5,105.3 L488.0,105.2 L488.4,105.6 L488.8,105.0 L489.3,105.1 L489.7,104.2 L490.1,104.9 L490.6,105.4 L491.0,104.6 L491.4,104.3 L491.9,104.1 L492.3,104.7 L492.7,103.4 L493.1,103.6 L493.6,103.8 L494.0,103.8 L494.4,103.1 L494.9,103.3 L495.3,103.0 L495.7,103.0 L496.2,102.8 L496.6,102.2 L497.0,102.6 L497.5,102.9 L497.9,101.9 L498.3,102.1 L498.8,102.4 L499.2,101.5 L499.6,101.9 L500.0,101.2 L500.5,102.1 L500.9,102.5 L501.3,102.2 L501.8,101.1 L502.2,101.4 L502.6,101.0 L503.1,100.9 L503.5,101.4 L503.9,100.0 L504.4,100.9 L504.8,100.3 L505.2,100.8 L505.7,100.1 L506.1,99.6 L506.5,99.9 L506.9,100.0 L507.4,99.5 L507.8,99.6 L508.2,99.0 L508.7,98.2 L509.1,99.4 L509.5,99.2 L510.0,98.8 L510.4,98.6 L510.8,99.0 L511.3,98.1 L511.7,97.9 L512.1,98.0 L512.6,98.5 L513.0,97.2 L513.4,98.2 L513.8,97.3 L514.3,96.9 L514.7,97.9 L515.1,97.1 L515.6,96.4 L516.0,96.7 L516.4,97.2 L516.9,97.2 L517.3,96.3 L517.7,96.5 L518.2,96.5 L518.6,95.8 L519.0,96.1 L519.5,95.8 L519.9,95.4 L520.3,95.3 L520.7,95.4 L521.2,95.3 L521.6,94.9 L522.0,94.8 L522.5,95.4 L522.9,94.8 L523.3,95.0 L523.8,95.0 L524.2,94.6 L524.6,95.2 L525.1,93.6 L525.5,94.2 L525.9,93.6 L526.4,94.4 L526.8,94.2 L527.2,92.4 L527.6,92.7 L528.1,93.2 L528.5,93.1 L528.9,93.0 L529.4,92.4 L529.8,92.5 L530.2,92.4 L530.7,91.9 L531.1,92.3 L531.5,90.6 L532.0,91.8 L532.4,90.9 L532.8,91.6 L533.3,90.9 L533.7,90.4 L534.1,90.8 L534.5,90.1 L535.0,89.9 L535.4,89.4 L535.8,90.0 L536.3,90.0 L536.7,90.1 L537.1,89.4 L537.6,89.8 L538.0,89.1 L538.4,88.9 L538.9,89.0 L539.3,89.1 L539.7,88.3 L540.2,88.2 L540.6,88.0 L541.0,88.0 L541.4,87.4 L541.9,88.1 L542.3,87.2 L542.7,87.5 L543.2,86.7 L543.6,87.1 L544.0,86.9 L544.5,86.4 L544.9,87.3 L545.3,86.4 L545.8,86.9 L546.2,86.4 L546.6,85.5 L547.1,85.5 L547.5,85.7 L547.9,85.3 L548.3,85.2 L548.8,84.9 L549.2,84.0 L549.6,84.6 L550.1,83.6 L550.5,84.6 L550.9,83.9 L551.4,83.8 L551.8,83.9 L552.2,84.0 L552.7,83.1 L553.1,82.8 L553.5,83.0 L554.0,82.4 L554.4,82.7 L554.8,83.8 L555.2,82.4 L555.7,83.1 L556.1,82.1 L556.5,82.7 L557.0,82.3 L557.4,82.3 L557.8,82.5 L558.3,82.9 L558.7,82.1 L559.1,81.9 L559.6,81.3 L560.0,81.9 L560.4,81.5 L560.9,81.9 L561.3,81.4 L561.7,82.1 L562.1,80.3 L562.6,81.0 L563.0,81.4 L563.4,80.8 L563.9,80.5 L564.3,80.6 L564.7,80.0 L565.2,80.6 L565.6,81.5 L566.0,80.9 L566.5,79.8 L566.9,79.8 L567.3,79.9 L567.8,80.4 L568.2,79.5 L568.6,79.5 L569.0,80.1 L569.5,80.0 L569.9,79.3 L570.3,78.9 L570.8,78.6 L571.2,78.9 L571.6,78.2 L572.1,79.4 L572.5,78.7 L572.9,79.1 L573.4,79.7 L573.8,79.3 L574.2,78.2 L574.7,79.0 L575.1,79.0 L575.5,78.1 L575.9,78.0 L576.4,78.3 L576.8,77.5 L577.2,78.9 L577.7,77.1 L578.1,77.6 L578.5,77.9 L579.0,77.9 L579.4,78.0 L579.8,78.0 L580.3,77.7 L580.7,78.3 L581.1,76.8 L581.6,77.7 L582.0,77.4 L582.4,77.7 L582.8,77.8 L583.3,77.2 L583.7,77.3 L584.1,78.0 L584.6,77.8 L585.0,77.3 L585.4,78.5 L585.9,78.7 L586.3,77.0 L586.7,77.9 L587.2,79.0 L587.6,78.3 L588.0,78.1 L588.5,78.1 L588.9,78.1 L589.3,78.4 L589.7,78.4 L590.2,79.2 L590.6,78.9 L591.0,79.1 L591.5,79.0 L591.9,79.7 L592.3,79.6 L592.8,80.2 L593.2,81.1 L593.6,81.0 L594.1,81.4 L594.5,81.7 L594.9,81.8 L595.4,82.1 L595.8,82.4 L596.2,83.2 L596.6,82.7 L597.1,84.2 L597.5,83.9 L597.9,84.0 L598.4,84.5 L598.8,84.8 L599.2,85.5 L599.7,85.5 L600.1,86.8 L600.5,86.3 L601.0,86.0 L601.4,87.1 L601.8,87.0 L602.3,88.2 L602.7,89.1 L603.1,89.4 L603.5,88.9 L604.0,89.5 L604.4,91.1 L604.8,90.8 L605.3,91.1 L605.7,92.0 L606.1,93.0 L606.6,92.9 L607.0,92.7 L607.4,93.2 L607.9,93.7 L608.3,93.5 L608.7,93.7 L609.2,94.5 L609.6,94.4 L610.0,95.2 L610.4,95.6 L610.9,96.9 L611.3,95.8 L611.7,96.4 L612.2,96.7 L612.6,97.3 L613.0,97.9 L613.5,97.5 L613.9,97.6 L614.3,97.6 L614.8,98.3 L615.2,99.3 L615.6,99.4 L616.1,99.2 L616.5,99.9 L616.9,100.4 L617.3,101.0 L617.8,100.8 L618.2,101.3 L618.6,101.0 L619.1,101.6 L619.5,103.2 L619.9,101.8 L620.4,103.0 L620.8,103.6 L621.2,103.6 L621.7,103.8 L622.1,104.4 L622.5,104.7 L623.0,105.0 L623.4,104.5 L623.8,105.5 L624.2,105.5 L624.7,105.9 L625.1,106.5 L625.5,106.9 L626.0,107.2 L626.4,106.8 L626.8,107.6 L627.3,107.9 L627.7,108.1 L628.1,108.3 L628.6,107.7 L629.0,107.8 L629.4,108.4 L629.9,107.4 L630.3,108.2 L630.7,108.0 L631.1,108.1 L631.6,107.5 L632.0,108.0 L632.4,108.4 L632.9,108.9 L633.3,109.0 L633.7,108.6 L634.2,108.6 L634.6,108.4 L635.0,109.0 L635.5,108.7 L635.9,109.2 L636.3,109.8 L636.8,109.0 L637.2,108.4 L637.6,108.7 L638.0,108.5 L638.5,108.7 L638.9,109.9 L639.3,109.4 L639.8,108.7 L640.2,109.7 L640.6,110.0 L641.1,109.3 L641.5,109.2 L641.9,109.4 L642.4,109.7 L642.8,109.9 L643.2,110.2 L643.7,110.3 L644.1,110.3 L644.5,110.4 L644.9,110.1 L645.4,109.2 L645.8,109.8 L646.2,110.0 L646.7,109.8 L647.1,110.4 L647.5,109.8 L648.0,109.6 L648.4,110.7 L648.8,110.3 L649.3,110.2 L649.7,110.5 L650.1,110.6 L650.6,110.3 L651.0,109.0 L651.4,109.8 L651.8,110.0 L652.3,109.7 L652.7,110.3 L653.1,110.7 L653.6,110.0 L654.0,109.7 L654.4,111.1 L654.9,110.0 L655.3,109.6" stroke="#f89c5e" stroke-width="1.5" fill="none" stroke-linejoin="round"/>
<path d="M474.6,121.8 L475.0,121.8 L475.5,121.1 L475.9,121.7 L476.3,121.0 L476.8,120.7 L477.2,121.1 L477.6,121.2 L478.1,120.5 L478.5,120.8 L478.9,120.5 L479.3,121.7 L479.8,120.0 L480.2,120.8 L480.6,120.0 L481.1,119.9 L481.5,120.1 L481.9,120.1 L482.4,120.1 L482.8,119.6 L483.2,119.0 L483.7,119.0 L484.1,119.3 L484.5,119.2 L485.0,119.5 L485.4,118.9 L485.8,119.1 L486.2,119.1 L486.7,118.4 L487.1,117.5 L487.5,117.6 L488.0,117.3 L488.4,118.6 L488.8,117.3 L489.3,118.1 L489.7,117.7 L490.1,118.1 L490.6,117.7 L491.0,117.0 L491.4,116.9 L491.9,116.9 L492.3,116.8 L492.7,116.3 L493.1,116.4 L493.6,117.0 L494.0,115.4 L494.4,116.2 L494.9,115.5 L495.3,115.9 L495.7,116.1 L496.2,115.5 L496.6,115.8 L497.0,114.6 L497.5,115.7 L497.9,114.8 L498.3,115.2 L498.8,114.9 L499.2,113.5 L499.6,114.2 L500.0,114.5 L500.5,114.9 L500.9,114.2 L501.3,114.1 L501.8,113.2 L502.2,114.4 L502.6,114.4 L503.1,113.5 L503.5,113.2 L503.9,112.5 L504.4,113.4 L504.8,114.1 L505.2,113.1 L505.7,113.2 L506.1,112.8 L506.5,111.9 L506.9,112.8 L507.4,111.6 L507.8,111.9 L508.2,112.0 L508.7,112.1 L509.1,111.8 L509.5,111.6 L510.0,111.0 L510.4,110.6 L510.8,111.1 L511.3,110.6 L511.7,110.2 L512.1,110.0 L512.6,110.3 L513.0,109.5 L513.4,109.6 L513.8,109.3 L514.3,110.0 L514.7,110.0 L515.1,110.6 L515.6,108.8 L516.0,109.1 L516.4,109.6 L516.9,109.0 L517.3,108.8 L517.7,109.6 L518.2,108.5 L518.6,108.0 L519.0,107.8 L519.5,108.4 L519.9,108.2 L520.3,107.4 L520.7,107.4 L521.2,107.9 L521.6,107.8 L522.0,107.1 L522.5,107.5 L522.9,107.4 L523.3,106.2 L523.8,106.7 L524.2,106.9 L524.6,106.3 L525.1,105.4 L525.5,106.1 L525.9,106.4 L526.4,106.6 L526.8,104.8 L527.2,106.8 L527.6,104.9 L528.1,105.7 L528.5,105.6 L528.9,105.4 L529.4,104.8 L529.8,104.1 L530.2,104.7 L530.7,103.9 L531.1,102.9 L531.5,105.2 L532.0,104.0 L532.4,104.4 L532.8,103.0 L533.3,103.9 L533.7,103.7 L534.1,103.6 L534.5,102.7 L535.0,102.0 L535.4,102.2 L535.8,101.2 L536.3,101.2 L536.7,101.8 L537.1,101.2 L537.6,101.4 L538.0,101.2 L538.4,101.9 L538.9,101.5 L539.3,100.7 L539.7,101.1 L540.2,100.0 L540.6,100.0 L541.0,100.4 L541.4,99.3 L541.9,99.5 L542.3,98.9 L542.7,99.4 L543.2,99.9 L543.6,98.6 L544.0,98.9 L544.5,98.2 L544.9,97.9 L545.3,97.7 L545.8,98.8 L546.2,99.0 L546.6,98.0 L547.1,97.3 L547.5,97.8 L547.9,97.2 L548.3,97.5 L548.8,97.1 L549.2,97.0 L549.6,97.0 L550.1,96.3 L550.5,96.2 L550.9,95.5 L551.4,95.9 L551.8,95.3 L552.2,95.7 L552.7,95.2 L553.1,95.6 L553.5,95.6 L554.0,94.6 L554.4,94.8 L554.8,94.6 L555.2,95.2 L555.7,95.5 L556.1,95.0 L556.5,94.4 L557.0,95.1 L557.4,93.6 L557.8,94.8 L558.3,93.8 L558.7,92.7 L559.1,95.1 L559.6,94.5 L560.0,93.2 L560.4,93.7 L560.9,93.4 L561.3,93.5 L561.7,92.7 L562.1,92.9 L562.6,93.4 L563.0,93.2 L563.4,93.5 L563.9,92.9 L564.3,93.9 L564.7,92.4 L565.2,92.7 L565.6,91.7 L566.0,91.9 L566.5,93.0 L566.9,91.8 L567.3,92.4 L567.8,92.1 L568.2,91.5 L568.6,91.8 L569.0,91.6 L569.5,91.5 L569.9,92.0 L570.3,91.9 L570.8,91.3 L571.2,91.0 L571.6,91.5 L572.1,91.3 L572.5,91.7 L572.9,92.3 L573.4,91.5 L573.8,91.0 L574.2,90.9 L574.7,90.5 L575.1,90.4 L575.5,90.3 L575.9,90.5 L576.4,90.4 L576.8,90.9 L577.2,90.3 L577.7,90.4 L578.1,89.9 L578.5,91.1 L579.0,90.6 L579.4,91.1 L579.8,90.6 L580.3,90.9 L580.7,90.1 L581.1,90.5 L581.6,91.3 L582.0,89.5 L582.4,90.6 L582.8,90.8 L583.3,90.2 L583.7,90.4 L584.1,90.6 L584.6,89.7 L585.0,90.2 L585.4,89.6 L585.9,89.7 L586.3,89.8 L586.7,90.1 L587.2,90.3 L587.6,90.6 L588.0,89.8 L588.5,91.5 L588.9,91.3 L589.3,91.3 L589.7,91.0 L590.2,91.3 L590.6,91.8 L591.0,92.0 L591.5,91.3 L591.9,92.7 L592.3,93.9 L592.8,92.0 L593.2,93.7 L593.6,93.7 L594.1,93.8 L594.5,94.8 L594.9,94.0 L595.4,94.9 L595.8,95.9 L596.2,95.5 L596.6,95.8 L597.1,96.4 L597.5,96.6 L597.9,97.9 L598.4,97.1 L598.8,98.4 L599.2,97.8 L599.7,99.1 L600.1,99.2 L600.5,98.5 L601.0,100.1 L601.4,100.0 L601.8,100.7 L602.3,102.1 L602.7,101.3 L603.1,101.7 L603.5,103.3 L604.0,103.1 L604.4,104.2 L604.8,104.1 L605.3,103.9 L605.7,104.7 L606.1,105.7 L606.6,106.0 L607.0,106.0 L607.4,106.4 L607.9,106.7 L608.3,106.9 L608.7,108.4 L609.2,107.9 L609.6,107.7 L610.0,108.4 L610.4,109.3 L610.9,109.6 L611.3,109.5 L611.7,109.6 L612.2,110.2 L612.6,109.7 L613.0,110.2 L613.5,111.5 L613.9,111.2 L614.3,111.9 L614.8,112.6 L615.2,112.7 L615.6,112.7 L616.1,114.0 L616.5,113.7 L616.9,113.5 L617.3,114.4 L617.8,114.6 L618.2,114.3 L618.6,115.1 L619.1,115.3 L619.5,114.8 L619.9,116.0 L620.4,116.2 L620.8,116.5 L621.2,116.2 L621.7,117.1 L622.1,117.6 L622.5,117.9 L623.0,117.6 L623.4,118.7 L623.8,118.1 L624.2,118.9 L624.7,119.8 L625.1,119.1 L625.5,119.4 L626.0,120.4 L626.4,119.9 L626.8,120.1 L627.3,120.5 L627.7,121.0 L628.1,119.7 L628.6,120.4 L629.0,120.4 L629.4,120.5 L629.9,120.7 L630.3,120.7 L630.7,121.3 L631.1,120.9 L631.6,121.4 L632.0,121.6 L632.4,121.1 L632.9,121.6 L633.3,122.3 L633.7,121.8 L634.2,121.4 L634.6,121.7 L635.0,121.4 L635.5,122.0 L635.9,122.3 L636.3,121.6 L636.8,122.0 L637.2,122.6 L637.6,121.9 L638.0,122.3 L638.5,121.8 L638.9,121.9 L639.3,122.1 L639.8,123.4 L640.2,122.3 L640.6,122.3 L641.1,122.3 L641.5,122.5 L641.9,122.9 L642.4,122.8 L642.8,123.6 L643.2,122.9 L643.7,123.4 L644.1,123.0 L644.5,123.1 L644.9,122.2 L645.4,122.9 L645.8,122.9 L646.2,122.9 L646.7,122.0 L647.1,123.4 L647.5,122.9 L648.0,122.9 L648.4,123.0 L648.8,123.0 L649.3,123.3 L649.7,122.6 L650.1,122.8 L650.6,123.3 L651.0,123.3 L651.4,123.1 L651.8,123.0 L652.3,122.9 L652.7,123.2 L653.1,123.8 L653.6,122.8 L654.0,124.0 L654.4,123.7 L654.9,123.1 L655.3,123.7" stroke="#7ab6de" stroke-width="1.5" fill="none" stroke-linejoin="round"/>
<path d="M474.6,139.3 L475.0,139.2 L475.5,139.3 L475.9,139.7 L476.3,139.7 L476.8,139.5 L477.2,139.7 L477.6,138.7 L478.1,139.8 L478.5,138.9 L478.9,139.2 L479.3,139.2 L479.8,138.8 L480.2,138.7 L480.6,138.8 L481.1,139.2 L481.5,139.4 L481.9,139.3 L482.4,138.5 L482.8,138.6 L483.2,138.4 L483.7,139.0 L484.1,137.8 L484.5,139.2 L485.0,138.4 L485.4,138.2 L485.8,138.6 L486.2,138.8 L486.7,138.5 L487.1,138.7 L487.5,138.2 L488.0,138.6 L488.4,138.6 L488.8,137.9 L489.3,138.5 L489.7,137.9 L490.1,137.8 L490.6,137.2 L491.0,137.4 L491.4,137.8 L491.9,136.8 L492.3,137.6 L492.7,137.4 L493.1,137.3 L493.6,136.1 L494.0,136.9 L494.4,137.2 L494.9,136.5 L495.3,136.8 L495.7,135.6 L496.2,136.9 L496.6,136.2 L497.0,136.8 L497.5,135.5 L497.9,136.5 L498.3,136.0 L498.8,136.4 L499.2,135.5 L499.6,135.6 L500.0,136.8 L500.5,135.3 L500.9,135.3 L501.3,135.4 L501.8,134.9 L502.2,135.8 L502.6,136.0 L503.1,134.8 L503.5,134.2 L503.9,135.4 L504.4,135.3 L504.8,135.1 L505.2,135.1 L505.7,134.1 L506.1,134.3 L506.5,133.7 L506.9,133.6 L507.4,134.6 L507.8,133.7 L508.2,134.9 L508.7,133.9 L509.1,133.4 L509.5,134.0 L510.0,134.3 L510.4,133.6 L510.8,132.8 L511.3,133.4 L511.7,133.7 L512.1,132.8 L512.6,132.5 L513.0,133.2 L513.4,132.7 L513.8,132.1 L514.3,132.3 L514.7,132.0 L515.1,132.4 L515.6,132.2 L516.0,132.5 L516.4,132.2 L516.9,131.1 L517.3,131.9 L517.7,132.0 L518.2,131.7 L518.6,131.8 L519.0,131.0 L519.5,130.7 L519.9,131.5 L520.3,130.5 L520.7,129.8 L521.2,131.2 L521.6,130.3 L522.0,130.3 L522.5,129.7 L522.9,129.7 L523.3,129.6 L523.8,129.9 L524.2,130.1 L524.6,128.7 L525.1,130.0 L525.5,129.0 L525.9,128.9 L526.4,129.6 L526.8,129.1 L527.2,128.3 L527.6,129.7 L528.1,128.4 L528.5,128.7 L528.9,128.6 L529.4,129.0 L529.8,128.0 L530.2,128.5 L530.7,127.6 L531.1,128.3 L531.5,127.3 L532.0,127.3 L532.4,128.2 L532.8,127.4 L533.3,127.1 L533.7,127.9 L534.1,126.9 L534.5,126.3 L535.0,126.8 L535.4,125.8 L535.8,126.7 L536.3,126.5 L536.7,125.6 L537.1,125.4 L537.6,125.6 L538.0,125.4 L538.4,124.8 L538.9,125.3 L539.3,124.0 L539.7,124.5 L540.2,124.4 L540.6,124.3 L541.0,124.4 L541.4,123.5 L541.9,124.2 L542.3,123.7 L542.7,123.3 L543.2,122.8 L543.6,122.7 L544.0,123.2 L544.5,122.5 L544.9,122.8 L545.3,123.1 L545.8,122.9 L546.2,122.9 L546.6,121.9 L547.1,121.4 L547.5,122.2 L547.9,121.7 L548.3,121.9 L548.8,121.2 L549.2,121.6 L549.6,121.3 L550.1,121.0 L550.5,120.8 L550.9,120.5 L551.4,120.3 L551.8,120.1 L552.2,120.3 L552.7,119.5 L553.1,120.3 L553.5,119.3 L554.0,119.6 L554.4,119.0 L554.8,118.7 L555.2,119.6 L555.7,118.4 L556.1,117.7 L556.5,117.8 L557.0,117.8 L557.4,118.8 L557.8,117.7 L558.3,117.9 L558.7,116.9 L559.1,117.3 L559.6,117.3 L560.0,117.6 L560.4,116.3 L560.9,116.8 L561.3,116.5 L561.7,115.7 L562.1,116.0 L562.6,115.7 L563.0,114.5 L563.4,115.7 L563.9,115.4 L564.3,114.8 L564.7,114.2 L565.2,115.2 L565.6,114.5 L566.0,114.6 L566.5,114.5 L566.9,113.4 L567.3,113.8 L567.8,113.1 L568.2,113.0 L568.6,112.7 L569.0,112.5 L569.5,112.8 L569.9,112.1 L570.3,111.8 L570.8,111.5 L571.2,111.6 L571.6,110.8 L572.1,110.7 L572.5,110.7 L572.9,110.3 L573.4,110.2 L573.8,109.8 L574.2,110.8 L574.7,110.3 L575.1,109.7 L575.5,109.2 L575.9,110.1 L576.4,109.0 L576.8,108.7 L577.2,108.7 L577.7,108.5 L578.1,108.8 L578.5,108.0 L579.0,108.8 L579.4,107.4 L579.8,107.9 L580.3,107.1 L580.7,108.2 L581.1,107.1 L581.6,107.2 L582.0,107.5 L582.4,107.6 L582.8,106.5 L583.3,106.8 L583.7,106.2 L584.1,106.9 L584.6,106.8 L585.0,106.6 L585.4,106.5 L585.9,106.7 L586.3,106.6 L586.7,107.2 L587.2,107.8 L587.6,106.3 L588.0,107.3 L588.5,107.3 L588.9,107.9 L589.3,107.5 L589.7,108.1 L590.2,107.9 L590.6,109.0 L591.0,109.0 L591.5,109.1 L591.9,109.7 L592.3,109.7 L592.8,109.5 L593.2,110.8 L593.6,111.0 L594.1,111.2 L594.5,112.1 L594.9,112.6 L595.4,112.0 L595.8,112.6 L596.2,114.0 L596.6,114.4 L597.1,113.9 L597.5,114.1 L597.9,114.8 L598.4,115.4 L598.8,115.3 L599.2,116.5 L599.7,116.4 L600.1,116.9 L600.5,118.4 L601.0,118.1 L601.4,118.9 L601.8,119.7 L602.3,120.3 L602.7,120.2 L603.1,120.9 L603.5,121.0 L604.0,122.6 L604.4,122.6 L604.8,122.3 L605.3,123.2 L605.7,124.0 L606.1,124.3 L606.6,125.4 L607.0,125.6 L607.4,125.2 L607.9,125.8 L608.3,125.7 L608.7,126.8 L609.2,127.1 L609.6,128.6 L610.0,127.8 L610.4,127.2 L610.9,128.2 L611.3,128.8 L611.7,128.5 L612.2,129.0 L612.6,129.5 L613.0,130.1 L613.5,130.2 L613.9,130.2 L614.3,131.2 L614.8,130.9 L615.2,131.2 L615.6,131.2 L616.1,131.7 L616.5,132.7 L616.9,132.0 L617.3,133.0 L617.8,133.6 L618.2,133.4 L618.6,134.0 L619.1,133.7 L619.5,135.1 L619.9,135.3 L620.4,135.2 L620.8,134.6 L621.2,135.2 L621.7,136.3 L622.1,136.9 L622.5,136.5 L623.0,137.2 L623.4,136.6 L623.8,137.0 L624.2,137.3 L624.7,137.7 L625.1,137.1 L625.5,138.3 L626.0,138.7 L626.4,137.7 L626.8,137.8 L627.3,138.7 L627.7,138.4 L628.1,137.7 L628.6,139.2 L629.0,139.0 L629.4,138.8 L629.9,140.0 L630.3,139.2 L630.7,138.8 L631.1,139.2 L631.6,138.8 L632.0,138.9 L632.4,139.5 L632.9,139.1 L633.3,139.2 L633.7,140.2 L634.2,139.9 L634.6,139.9 L635.0,139.8 L635.5,139.8 L635.9,140.3 L636.3,139.7 L636.8,140.5 L637.2,139.3 L637.6,139.7 L638.0,139.2 L638.5,139.7 L638.9,140.1 L639.3,140.6 L639.8,139.6 L640.2,140.0 L640.6,139.8 L641.1,139.7 L641.5,139.5 L641.9,140.1 L642.4,139.3 L642.8,140.2 L643.2,140.2 L643.7,139.9 L644.1,139.7 L644.5,139.6 L644.9,141.1 L645.4,139.7 L645.8,141.0 L646.2,140.6 L646.7,140.2 L647.1,139.8 L647.5,140.8 L648.0,141.1 L648.4,140.0 L648.8,140.3 L649.3,140.9 L649.7,140.6 L650.1,141.3 L650.6,140.2 L651.0,140.7 L651.4,139.9 L651.8,141.4 L652.3,140.1 L652.7,139.5 L653.1,140.4 L653.6,140.4 L654.0,141.4 L654.4,140.3 L654.9,140.5 L655.3,140.8" stroke="#3a70b4" stroke-width="1.5" fill="none" stroke-linejoin="round"/>
<path d="M474.6,151.4 L475.0,150.9 L475.5,151.2 L475.9,151.0 L476.3,150.8 L476.8,150.8 L477.2,150.8 L477.6,150.5 L478.1,151.0 L478.5,150.3 L478.9,150.9 L479.3,150.8 L479.8,150.6 L480.2,150.3 L480.6,150.4 L481.1,150.6 L481.5,150.6 L481.9,150.5 L482.4,150.6 L482.8,150.2 L483.2,150.4 L483.7,149.9 L484.1,150.4 L484.5,150.2 L485.0,150.1 L485.4,150.4 L485.8,150.3 L486.2,149.4 L486.7,150.0 L487.1,149.6 L487.5,150.2 L488.0,150.6 L488.4,149.8 L488.8,149.9 L489.3,149.8 L489.7,149.9 L490.1,149.9 L490.6,150.1 L491.0,149.5 L491.4,150.1 L491.9,149.4 L492.3,149.7 L492.7,149.9 L493.1,149.7 L493.6,149.3 L494.0,149.3 L494.4,149.3 L494.9,149.4 L495.3,149.7 L495.7,149.0 L496.2,149.4 L496.6,149.4 L497.0,149.4 L497.5,149.3 L497.9,149.6 L498.3,149.3 L498.8,149.3 L499.2,149.2 L499.6,149.5 L500.0,148.6 L500.5,149.3 L500.9,148.9 L501.3,148.9 L501.8,148.7 L502.2,148.4 L502.6,148.8 L503.1,148.7 L503.5,148.9 L503.9,148.4 L504.4,149.1 L504.8,148.8 L505.2,148.6 L505.7,148.5 L506.1,148.4 L506.5,148.3 L506.9,148.4 L507.4,148.5 L507.8,148.5 L508.2,148.1 L508.7,148.4 L509.1,148.2 L509.5,148.4 L510.0,148.8 L510.4,148.5 L510.8,148.2 L511.3,147.9 L511.7,147.9 L512.1,147.8 L512.6,148.4 L513.0,148.0 L513.4,148.2 L513.8,148.0 L514.3,148.1 L514.7,148.4 L515.1,147.9 L515.6,147.9 L516.0,147.8 L516.4,148.2 L516.9,147.7 L517.3,147.6 L517.7,147.5 L518.2,147.5 L518.6,147.9 L519.0,148.4 L519.5,147.5 L519.9,148.0 L520.3,147.8 L520.7,147.4 L521.2,147.6 L521.6,147.6 L522.0,147.4 L522.5,148.1 L522.9,147.1 L523.3,147.6 L523.8,147.6 L524.2,147.3 L524.6,147.5 L525.1,147.7 L525.5,147.4 L525.9,147.5 L526.4,147.5 L526.8,146.8 L527.2,147.7 L527.6,147.8 L528.1,147.5 L528.5,147.5 L528.9,146.8 L529.4,147.1 L529.8,146.9 L530.2,147.0 L530.7,147.3 L531.1,146.8 L531.5,147.0 L532.0,146.5 L532.4,146.9 L532.8,147.0 L533.3,146.7 L533.7,146.7 L534.1,147.3 L534.5,146.5 L535.0,146.5 L535.4,146.6 L535.8,147.0 L536.3,147.2 L536.7,146.8 L537.1,146.5 L537.6,146.5 L538.0,146.9 L538.4,146.3 L538.9,146.9 L539.3,146.9 L539.7,146.5 L540.2,146.6 L540.6,146.6 L541.0,146.8 L541.4,146.1 L541.9,146.6 L542.3,146.2 L542.7,146.1 L543.2,146.3 L543.6,146.2 L544.0,146.0 L544.5,145.8 L544.9,145.9 L545.3,146.5 L545.8,146.6 L546.2,146.3 L546.6,146.4 L547.1,145.9 L547.5,146.0 L547.9,146.1 L548.3,145.7 L548.8,145.7 L549.2,146.0 L549.6,145.9 L550.1,145.7 L550.5,146.0 L550.9,145.8 L551.4,146.1 L551.8,145.9 L552.2,145.8 L552.7,145.9 L553.1,145.8 L553.5,145.6 L554.0,145.7 L554.4,146.0 L554.8,145.9 L555.2,146.1 L555.7,145.3 L556.1,145.7 L556.5,145.6 L557.0,145.8 L557.4,145.6 L557.8,145.6 L558.3,145.9 L558.7,145.8 L559.1,145.4 L559.6,146.0 L560.0,146.0 L560.4,145.6 L560.9,145.9 L561.3,145.5 L561.7,146.0 L562.1,145.7 L562.6,145.5 L563.0,145.7 L563.4,145.6 L563.9,145.8 L564.3,145.9 L564.7,145.9 L565.2,145.7 L565.6,145.0 L566.0,146.0 L566.5,145.5 L566.9,146.1 L567.3,146.4 L567.8,146.2 L568.2,146.1 L568.6,146.2 L569.0,146.3 L569.5,146.2 L569.9,146.3 L570.3,146.2 L570.8,146.8 L571.2,146.6 L571.6,146.9 L572.1,146.6 L572.5,146.8 L572.9,146.8 L573.4,147.0 L573.8,147.2 L574.2,147.1 L574.7,146.9 L575.1,147.0 L575.5,147.7 L575.9,147.2 L576.4,147.3 L576.8,147.8 L577.2,147.8 L577.7,147.7 L578.1,147.6 L578.5,148.3 L579.0,147.9 L579.4,148.0 L579.8,147.9 L580.3,147.6 L580.7,147.7 L581.1,148.2 L581.6,148.3 L582.0,148.2 L582.4,148.0 L582.8,148.0 L583.3,148.3 L583.7,148.1 L584.1,148.7 L584.6,148.8 L585.0,149.3 L585.4,148.9 L585.9,148.5 L586.3,148.5 L586.7,147.9 L587.2,148.7 L587.6,148.8 L588.0,149.1 L588.5,149.1 L588.9,149.1 L589.3,149.1 L589.7,149.2 L590.2,149.5 L590.6,148.9 L591.0,149.1 L591.5,148.9 L591.9,149.7 L592.3,149.6 L592.8,149.6 L593.2,149.1 L593.6,149.5 L594.1,149.4 L594.5,149.5 L594.9,149.5 L595.4,149.7 L595.8,149.6 L596.2,149.9 L596.6,149.8 L597.1,149.7 L597.5,149.8 L597.9,149.7 L598.4,150.1 L598.8,149.9 L599.2,150.0 L599.7,149.9 L600.1,149.7 L600.5,150.3 L601.0,149.9 L601.4,150.3 L601.8,150.3 L602.3,149.8 L602.7,150.0 L603.1,150.2 L603.5,150.1 L604.0,150.1 L604.4,150.6 L604.8,150.4 L605.3,150.6 L605.7,150.4 L606.1,150.6 L606.6,150.4 L607.0,150.6 L607.4,150.8 L607.9,150.7 L608.3,150.6 L608.7,150.5 L609.2,150.8 L609.6,150.9 L610.0,150.8 L610.4,150.7 L610.9,151.0 L611.3,151.6 L611.7,150.9 L612.2,151.1 L612.6,151.1 L613.0,150.4 L613.5,151.1 L613.9,150.9 L614.3,151.5 L614.8,151.1 L615.2,151.0 L615.6,151.2 L616.1,151.3 L616.5,151.2 L616.9,151.3 L617.3,151.0 L617.8,151.3 L618.2,151.6 L618.6,151.9 L619.1,151.6 L619.5,151.6 L619.9,151.8 L620.4,151.8 L620.8,152.0 L621.2,151.9 L621.7,151.6 L622.1,151.7 L622.5,151.7 L623.0,151.8 L623.4,151.8 L623.8,151.6 L624.2,151.3 L624.7,151.7 L625.1,151.4 L625.5,151.9 L626.0,151.9 L626.4,151.5 L626.8,152.1 L627.3,152.2 L627.7,152.0 L628.1,152.5 L628.6,152.5 L629.0,151.8 L629.4,152.4 L629.9,152.3 L630.3,152.3 L630.7,152.4 L631.1,152.1 L631.6,152.1 L632.0,152.1 L632.4,152.1 L632.9,152.3 L633.3,152.0 L633.7,152.1 L634.2,152.6 L634.6,152.4 L635.0,152.6 L635.5,152.0 L635.9,152.3 L636.3,152.4 L636.8,152.6 L637.2,152.4 L637.6,152.8 L638.0,152.6 L638.5,152.6 L638.9,152.7 L639.3,152.9 L639.8,152.6 L640.2,153.0 L640.6,152.9 L641.1,152.8 L641.5,152.8 L641.9,153.0 L642.4,153.1 L642.8,153.1 L643.2,153.0 L643.7,153.1 L644.1,153.0 L644.5,153.3 L644.9,153.0 L645.4,152.5 L645.8,153.3 L646.2,153.1 L646.7,152.8 L647.1,153.0 L647.5,152.9 L648.0,153.6 L648.4,153.3 L648.8,152.8 L649.3,153.3 L649.7,153.1 L650.1,153.7 L650.6,153.0 L651.0,152.7 L651.4,153.3 L651.8,153.2 L652.3,153.2 L652.7,152.8 L653.1,153.4 L653.6,153.8 L654.0,152.9 L654.4,153.7 L654.9,153.2 L655.3,154.0" stroke="#6a54aa" stroke-width="1.1" fill="none" stroke-linejoin="round"/>
<rect x="474.6" y="21.7" width="180.69999999999993" height="145.9" fill="none" stroke="#333" stroke-width="1.1"/>
<line x1="500.4142857142857" y1="167.6" x2="500.4142857142857" y2="170.6" stroke="#333" stroke-width="1.1"/>
<text x="500.4142857142857" y="181.2" font-size="10" text-anchor="middle" fill="#222" font-weight="normal">3200</text>
<line x1="552.0428571428571" y1="167.6" x2="552.0428571428571" y2="170.6" stroke="#333" stroke-width="1.1"/>
<text x="552.0428571428571" y="181.2" font-size="10" text-anchor="middle" fill="#222" font-weight="normal">3400</text>
<line x1="603.6714285714286" y1="167.6" x2="603.6714285714286" y2="170.6" stroke="#333" stroke-width="1.1"/>
<text x="603.6714285714286" y="181.2" font-size="10" text-anchor="middle" fill="#222" font-weight="normal">3600</text>
<line x1="655.3" y1="167.6" x2="655.3" y2="170.6" stroke="#333" stroke-width="1.1"/>
<text x="655.3" y="181.2" font-size="10" text-anchor="middle" fill="#222" font-weight="normal">3800</text>
<line x1="474.6" y1="167.6" x2="474.6" y2="169.6" stroke="#333" stroke-width="1"/>
<line x1="526.2285714285714" y1="167.6" x2="526.2285714285714" y2="169.6" stroke="#333" stroke-width="1"/>
<line x1="577.8571428571429" y1="167.6" x2="577.8571428571429" y2="169.6" stroke="#333" stroke-width="1"/>
<line x1="629.4857142857143" y1="167.6" x2="629.4857142857143" y2="169.6" stroke="#333" stroke-width="1"/>
<text x="442.7" y="21.7" font-size="19" text-anchor="start" fill="#222" font-weight="normal">c</text>
<text x="539.4" y="14.1" font-size="9.4" text-anchor="middle" fill="#222" font-weight="normal">Zw gel electrolytes</text>
<text x="627" y="61.3" font-size="8.4" text-anchor="start" fill="#d03a55" font-weight="normal">n=40%</text>
<text x="627" y="83.3" font-size="8.4" text-anchor="start" fill="#ee6a5a" font-weight="normal">n=30%</text>
<text x="627.4" y="105.8" font-size="8.4" text-anchor="start" fill="#f89c5e" font-weight="normal">n=20%</text>
<text x="627" y="120.2" font-size="8.4" text-anchor="start" fill="#7ab6de" font-weight="normal">n=10%</text>
<text x="628.9" y="134.6" font-size="8.4" text-anchor="start" fill="#3a70b4" font-weight="normal">n=0%</text>
<text x="620" y="161" font-size="8.4" text-anchor="start" fill="#6a54aa" font-weight="normal">Hydrogel</text>
<text x="564.6" y="199.8" font-size="12" text-anchor="middle" fill="#222" font-weight="normal">Raman shift (cm<tspan font-size="8.2" baseline-shift="4.56">-1</tspan>)</text>
<line x1="595.3" y1="128.4" x2="586.2" y2="40.5" stroke="#ec3a5c" stroke-width="2.2" stroke-dasharray="2.2 2.2"/>
<path d="M585.7,31.3 L581.6,40 L590.4,39.3 Z" stroke="none" stroke-width="1" fill="#ec3a5c"/>
<path d="M272,164 C255,159 236,164 222,182 L210,194 L207.2,185.8 L199.9,220.8 L226.5,197 L219.9,197.4 C228,187 241,172 256,167.5 C262,166 268,165 272,164.6 Z" stroke="none" stroke-width="1" fill="url(#bigar)"/>
<path d="M245,0.4 L671.4,0.4 Q684.6,0.4 684.6,13.6 L684.6,193.4 Q684.6,206.6 671.4,206.6 L245,206.6 Q228.9,206.6 228.9,190.6 L228.9,16.4 Q228.9,0.4 245,0.4 Z" stroke="#1a2b5c" stroke-width="1.7" fill="none" stroke-dasharray="4.8 4.4"/>
<path d="M57.800000000000004,229 L71.0,229 L82.2,354.7 L46.60000000000001,354.7 Z" stroke="none" stroke-width="1" fill="url(#bandD)"/>
<path d="M119.6,229 L132.4,229 L144.0,354.7 L108.0,354.7 Z" stroke="none" stroke-width="1" fill="url(#bandD)"/>
<rect x="184.5" y="232" width="25.6" height="131" fill="#fdf0d2" stroke="none" stroke-width="1"/>
<path d="M36.7,248.3 L37.1,248.2 L37.5,248.4 L38.0,248.3 L38.4,248.0 L38.8,248.3 L39.2,248.0 L39.7,247.7 L40.1,248.5 L40.5,248.0 L40.9,247.9 L41.3,248.1 L41.8,247.6 L42.2,247.7 L42.6,247.8 L43.0,247.8 L43.4,247.9 L43.9,248.1 L44.3,247.8 L44.7,247.9 L45.1,247.9 L45.6,247.5 L46.0,247.8 L46.4,247.5 L46.8,247.9 L47.2,247.8 L47.7,247.7 L48.1,247.3 L48.5,247.6 L48.9,247.4 L49.4,247.7 L49.8,247.5 L50.2,247.3 L50.6,247.6 L51.0,247.5 L51.5,247.2 L51.9,247.5 L52.3,247.1 L52.7,247.1 L53.1,247.1 L53.6,246.8 L54.0,246.7 L54.4,246.6 L54.8,246.8 L55.3,246.6 L55.7,245.9 L56.1,245.9 L56.5,245.0 L56.9,244.5 L57.4,243.9 L57.8,243.0 L58.2,242.6 L58.6,241.1 L59.1,239.8 L59.5,239.5 L59.9,238.4 L60.3,237.9 L60.7,237.2 L61.2,238.3 L61.6,238.8 L62.0,239.6 L62.4,240.6 L62.8,241.7 L63.3,242.2 L63.7,243.2 L64.1,243.6 L64.5,244.3 L65.0,245.1 L65.4,245.4 L65.8,245.4 L66.2,246.0 L66.6,246.1 L67.1,246.1 L67.5,246.4 L67.9,246.3 L68.3,246.1 L68.8,246.3 L69.2,246.9 L69.6,246.2 L70.0,246.6 L70.4,246.7 L70.9,246.7 L71.3,246.3 L71.7,246.5 L72.1,246.6 L72.5,246.8 L73.0,246.4 L73.4,246.3 L73.8,246.8 L74.2,246.8 L74.7,246.6 L75.1,246.4 L75.5,246.6 L75.9,246.5 L76.3,246.6 L76.8,246.1 L77.2,246.4 L77.6,246.3 L78.0,246.1 L78.5,246.3 L78.9,246.2 L79.3,246.1 L79.7,246.2 L80.1,245.8 L80.6,246.0 L81.0,246.1 L81.4,246.0 L81.8,246.1 L82.2,245.6 L82.7,245.5 L83.1,245.8 L83.5,245.8 L83.9,246.2 L84.4,245.8 L84.8,245.4 L85.2,245.8 L85.6,245.4 L86.0,245.2 L86.5,246.1 L86.9,245.6 L87.3,245.7 L87.7,245.7 L88.1,246.0 L88.6,245.7 L89.0,245.9 L89.4,245.5 L89.8,245.4 L90.3,246.1 L90.7,246.2 L91.1,246.0 L91.5,246.0 L91.9,246.0 L92.4,245.9 L92.8,246.5 L93.2,246.3 L93.6,246.4 L94.1,246.4 L94.5,246.6 L94.9,246.6 L95.3,246.7 L95.7,246.3 L96.2,246.7 L96.6,247.1 L97.0,246.6 L97.4,246.7 L97.8,246.9 L98.3,247.0 L98.7,246.9 L99.1,246.4 L99.5,246.9 L100.0,246.5 L100.4,246.6 L100.8,246.9 L101.2,246.7 L101.6,246.9 L102.1,247.4 L102.5,246.8 L102.9,246.8 L103.3,246.4 L103.8,246.4 L104.2,246.3 L104.6,246.3 L105.0,246.2 L105.4,246.2 L105.9,246.3 L106.3,246.0 L106.7,245.9 L107.1,245.8 L107.5,246.2 L108.0,246.0 L108.4,246.2 L108.8,246.1 L109.2,245.8 L109.7,245.9 L110.1,245.4 L110.5,246.2 L110.9,245.9 L111.3,245.5 L111.8,245.2 L112.2,245.5 L112.6,245.0 L113.0,245.1 L113.5,245.4 L113.9,245.2 L114.3,245.0 L114.7,245.3 L115.1,244.8 L115.6,245.0 L116.0,244.8 L116.4,244.7 L116.8,244.9 L117.2,244.5 L117.7,245.1 L118.1,244.4 L118.5,244.9 L118.9,244.1 L119.4,244.3 L119.8,243.7 L120.2,243.4 L120.6,243.4 L121.0,243.1 L121.5,242.2 L121.9,242.1 L122.3,241.0 L122.7,240.4 L123.2,239.5 L123.6,238.7 L124.0,237.2 L124.4,237.2 L124.8,236.3 L125.3,235.8 L125.7,235.7 L126.1,235.9 L126.5,236.6 L126.9,237.8 L127.4,238.5 L127.8,239.2 L128.2,240.2 L128.6,241.4 L129.1,241.7 L129.5,242.2 L129.9,243.1 L130.3,243.3 L130.7,243.5 L131.2,243.6 L131.6,243.6 L132.0,243.8 L132.4,244.1 L132.9,244.2 L133.3,244.4 L133.7,244.6 L134.1,244.6 L134.5,244.6 L135.0,244.4 L135.4,244.2 L135.8,244.6 L136.2,244.6 L136.6,244.7 L137.1,244.9 L137.5,244.7 L137.9,244.8 L138.3,245.1 L138.8,245.2 L139.2,245.1 L139.6,245.4 L140.0,245.4 L140.4,245.2 L140.9,245.6 L141.3,246.0 L141.7,245.6 L142.1,246.0 L142.6,246.2 L143.0,246.3 L143.4,245.8 L143.8,246.6 L144.2,246.2 L144.7,246.2 L145.1,246.3 L145.5,246.6 L145.9,246.5 L146.3,246.6 L146.8,246.9 L147.2,246.6 L147.6,246.6 L148.0,247.1 L148.5,247.1 L148.9,247.2 L149.3,246.8 L149.7,247.4 L150.1,247.3 L150.6,247.6 L151.0,247.0 L151.4,247.3 L151.8,247.2 L152.3,247.0 L152.7,247.2 L153.1,247.6 L153.5,247.2 L153.9,247.2 L154.4,247.5 L154.8,247.5 L155.2,247.5 L155.6,247.1 L156.0,247.2 L156.5,247.4 L156.9,247.0 L157.3,246.9 L157.7,247.2 L158.2,247.3 L158.6,246.6 L159.0,246.2 L159.4,246.4 L159.8,246.4 L160.3,246.5 L160.7,246.6 L161.1,246.3 L161.5,246.1 L162.0,246.2 L162.4,245.8 L162.8,245.9 L163.2,245.6 L163.6,246.3 L164.1,245.7 L164.5,245.2 L164.9,245.1 L165.3,245.1 L165.7,244.7 L166.2,244.8 L166.6,244.6 L167.0,244.9 L167.4,244.5 L167.9,244.2 L168.3,244.0 L168.7,243.9 L169.1,244.0 L169.5,243.8 L170.0,244.0 L170.4,243.4 L170.8,243.6 L171.2,243.3 L171.6,243.1 L172.1,242.5 L172.5,242.5 L172.9,242.8 L173.3,242.8 L173.8,242.3 L174.2,242.3 L174.6,241.9 L175.0,241.8 L175.4,241.6 L175.9,241.8 L176.3,241.5 L176.7,241.3 L177.1,241.2 L177.6,241.3 L178.0,241.2 L178.4,240.9 L178.8,241.4 L179.2,241.1 L179.7,241.0 L180.1,241.3 L180.5,241.2 L180.9,241.0 L181.3,241.2 L181.8,240.8 L182.2,240.9 L182.6,240.6 L183.0,241.4 L183.5,240.7 L183.9,241.3 L184.3,241.0 L184.7,241.0 L185.1,241.2 L185.6,241.3 L186.0,241.3 L186.4,241.5 L186.8,241.2 L187.3,241.3 L187.7,240.9 L188.1,241.1 L188.5,240.9 L188.9,240.6 L189.4,240.6 L189.8,240.5 L190.2,240.4 L190.6,240.3 L191.0,239.9 L191.5,239.6 L191.9,239.7 L192.3,238.9 L192.7,238.9 L193.2,239.1 L193.6,237.8 L194.0,237.9 L194.4,237.9 L194.8,237.0 L195.3,237.7 L195.7,236.3 L196.1,236.9 L196.5,236.8 L197.0,236.6 L197.4,236.4 L197.8,236.7 L198.2,236.6 L198.6,237.2 L199.1,237.1 L199.5,237.5 L199.9,238.1 L200.3,238.0 L200.7,238.4 L201.2,238.8 L201.6,238.7 L202.0,239.5 L202.4,239.5 L202.9,239.3 L203.3,239.7 L203.7,239.7 L204.1,239.9 L204.5,240.1 L205.0,240.1 L205.4,240.5 L205.8,240.2 L206.2,240.7 L206.7,240.5 L207.1,240.8 L207.5,240.5 L207.9,240.5 L208.3,240.4 L208.8,240.9 L209.2,241.0 L209.6,241.2 L210.0,241.1 L210.4,240.9 L210.9,240.8 L211.3,240.9 L211.7,240.8 L212.1,241.2 L212.6,241.1 L213.0,240.7 L213.4,240.7" stroke="#d03a55" stroke-width="1.05" fill="none" stroke-linejoin="round"/>
<path d="M36.7,269.5 L37.1,269.2 L37.5,269.1 L38.0,269.4 L38.4,269.1 L38.8,269.1 L39.2,269.0 L39.7,268.7 L40.1,269.3 L40.5,268.8 L40.9,268.9 L41.3,268.9 L41.8,269.2 L42.2,269.0 L42.6,269.0 L43.0,268.6 L43.4,269.0 L43.9,268.6 L44.3,269.0 L44.7,269.0 L45.1,268.9 L45.6,269.3 L46.0,269.0 L46.4,269.0 L46.8,268.9 L47.2,268.8 L47.7,269.0 L48.1,269.0 L48.5,268.4 L48.9,268.9 L49.4,268.8 L49.8,268.8 L50.2,268.7 L50.6,268.2 L51.0,268.2 L51.5,268.8 L51.9,268.4 L52.3,268.0 L52.7,268.2 L53.1,268.0 L53.6,267.5 L54.0,267.2 L54.4,267.1 L54.8,267.2 L55.3,266.8 L55.7,266.3 L56.1,265.8 L56.5,265.2 L56.9,263.7 L57.4,263.1 L57.8,261.9 L58.2,260.6 L58.6,259.5 L59.1,258.4 L59.5,257.2 L59.9,256.1 L60.3,255.7 L60.7,256.1 L61.2,255.8 L61.6,256.3 L62.0,257.8 L62.4,259.0 L62.8,260.2 L63.3,261.1 L63.7,262.7 L64.1,263.3 L64.5,264.2 L65.0,265.1 L65.4,265.8 L65.8,266.5 L66.2,266.9 L66.6,267.1 L67.1,267.6 L67.5,267.6 L67.9,267.9 L68.3,267.5 L68.8,267.6 L69.2,268.2 L69.6,267.7 L70.0,268.0 L70.4,268.1 L70.9,268.1 L71.3,268.1 L71.7,268.5 L72.1,267.7 L72.5,268.4 L73.0,268.8 L73.4,268.3 L73.8,268.3 L74.2,268.4 L74.7,268.7 L75.1,268.0 L75.5,268.3 L75.9,268.2 L76.3,268.4 L76.8,268.3 L77.2,268.3 L77.6,268.1 L78.0,268.2 L78.5,268.0 L78.9,268.0 L79.3,268.0 L79.7,268.0 L80.1,267.7 L80.6,268.3 L81.0,267.9 L81.4,267.6 L81.8,268.1 L82.2,267.7 L82.7,267.9 L83.1,267.8 L83.5,267.8 L83.9,267.7 L84.4,267.6 L84.8,267.7 L85.2,268.1 L85.6,267.2 L86.0,267.7 L86.5,267.7 L86.9,267.4 L87.3,267.4 L87.7,268.2 L88.1,267.6 L88.6,268.2 L89.0,267.9 L89.4,267.9 L89.8,268.0 L90.3,268.1 L90.7,268.3 L91.1,268.2 L91.5,268.2 L91.9,268.3 L92.4,268.6 L92.8,268.6 L93.2,268.2 L93.6,268.4 L94.1,268.7 L94.5,268.5 L94.9,268.6 L95.3,268.6 L95.7,268.8 L96.2,269.0 L96.6,269.2 L97.0,269.0 L97.4,269.5 L97.8,269.1 L98.3,269.8 L98.7,269.4 L99.1,269.3 L99.5,269.1 L100.0,268.6 L100.4,269.1 L100.8,269.2 L101.2,269.6 L101.6,268.9 L102.1,269.6 L102.5,269.1 L102.9,269.2 L103.3,268.5 L103.8,269.1 L104.2,268.9 L104.6,269.1 L105.0,268.9 L105.4,268.6 L105.9,269.0 L106.3,268.9 L106.7,268.8 L107.1,268.9 L107.5,268.9 L108.0,268.6 L108.4,268.2 L108.8,268.1 L109.2,268.7 L109.7,268.5 L110.1,268.3 L110.5,268.1 L110.9,268.2 L111.3,268.1 L111.8,268.0 L112.2,267.9 L112.6,268.5 L113.0,268.0 L113.5,267.7 L113.9,267.5 L114.3,267.6 L114.7,267.9 L115.1,267.8 L115.6,267.6 L116.0,267.6 L116.4,267.4 L116.8,267.2 L117.2,267.6 L117.7,267.3 L118.1,267.6 L118.5,266.8 L118.9,266.7 L119.4,266.7 L119.8,266.2 L120.2,265.6 L120.6,265.2 L121.0,264.9 L121.5,264.3 L121.9,263.4 L122.3,262.7 L122.7,261.8 L123.2,260.5 L123.6,259.4 L124.0,258.3 L124.4,257.5 L124.8,256.9 L125.3,256.4 L125.7,256.5 L126.1,256.7 L126.5,257.2 L126.9,258.3 L127.4,259.7 L127.8,260.7 L128.2,262.0 L128.6,262.7 L129.1,263.7 L129.5,264.6 L129.9,265.2 L130.3,265.4 L130.7,265.9 L131.2,266.3 L131.6,266.4 L132.0,266.9 L132.4,267.2 L132.9,267.1 L133.3,267.7 L133.7,267.3 L134.1,267.5 L134.5,267.6 L135.0,267.5 L135.4,267.9 L135.8,267.9 L136.2,268.3 L136.6,268.1 L137.1,268.2 L137.5,268.1 L137.9,267.9 L138.3,268.3 L138.8,268.2 L139.2,268.7 L139.6,268.6 L140.0,269.0 L140.4,268.9 L140.9,269.0 L141.3,269.0 L141.7,269.1 L142.1,269.3 L142.6,269.4 L143.0,269.1 L143.4,269.5 L143.8,270.1 L144.2,269.6 L144.7,269.6 L145.1,269.6 L145.5,269.5 L145.9,270.2 L146.3,270.0 L146.8,270.2 L147.2,270.6 L147.6,270.8 L148.0,270.2 L148.5,270.7 L148.9,270.6 L149.3,270.7 L149.7,270.7 L150.1,270.7 L150.6,271.1 L151.0,270.9 L151.4,270.9 L151.8,271.1 L152.3,271.1 L152.7,271.0 L153.1,271.0 L153.5,271.3 L153.9,271.1 L154.4,270.9 L154.8,270.8 L155.2,270.9 L155.6,270.7 L156.0,270.9 L156.5,270.9 L156.9,270.4 L157.3,270.8 L157.7,270.9 L158.2,270.7 L158.6,270.4 L159.0,270.8 L159.4,270.3 L159.8,270.1 L160.3,270.1 L160.7,270.2 L161.1,270.3 L161.5,270.3 L162.0,270.0 L162.4,269.6 L162.8,269.6 L163.2,269.4 L163.6,269.5 L164.1,269.0 L164.5,269.3 L164.9,269.3 L165.3,269.0 L165.7,269.1 L166.2,268.6 L166.6,268.4 L167.0,268.5 L167.4,268.7 L167.9,268.6 L168.3,268.1 L168.7,268.4 L169.1,267.9 L169.5,268.2 L170.0,267.8 L170.4,267.5 L170.8,267.6 L171.2,267.1 L171.6,266.9 L172.1,266.6 L172.5,266.9 L172.9,266.6 L173.3,266.5 L173.8,266.3 L174.2,266.5 L174.6,266.0 L175.0,265.8 L175.4,266.1 L175.9,266.0 L176.3,265.7 L176.7,265.1 L177.1,265.3 L177.6,265.5 L178.0,265.3 L178.4,265.6 L178.8,264.9 L179.2,265.4 L179.7,265.1 L180.1,265.5 L180.5,265.2 L180.9,265.5 L181.3,265.1 L181.8,265.0 L182.2,265.1 L182.6,265.2 L183.0,265.2 L183.5,265.7 L183.9,265.7 L184.3,265.5 L184.7,265.3 L185.1,265.5 L185.6,265.3 L186.0,265.8 L186.4,265.5 L186.8,265.5 L187.3,265.3 L187.7,264.9 L188.1,265.1 L188.5,264.9 L188.9,265.1 L189.4,265.0 L189.8,264.6 L190.2,264.6 L190.6,264.8 L191.0,264.1 L191.5,263.9 L191.9,263.8 L192.3,263.4 L192.7,263.2 L193.2,263.1 L193.6,263.0 L194.0,261.9 L194.4,261.9 L194.8,261.6 L195.3,261.2 L195.7,260.9 L196.1,260.7 L196.5,260.8 L197.0,260.5 L197.4,260.6 L197.8,260.8 L198.2,261.0 L198.6,261.2 L199.1,261.8 L199.5,261.9 L199.9,262.3 L200.3,262.6 L200.7,262.7 L201.2,263.0 L201.6,263.2 L202.0,263.8 L202.4,263.8 L202.9,263.9 L203.3,264.4 L203.7,264.6 L204.1,264.3 L204.5,265.2 L205.0,264.9 L205.4,265.0 L205.8,265.3 L206.2,265.2 L206.7,265.1 L207.1,265.8 L207.5,265.2 L207.9,265.4 L208.3,265.7 L208.8,265.3 L209.2,265.6 L209.6,265.7 L210.0,266.2 L210.4,265.5 L210.9,265.7 L211.3,265.9 L211.7,265.8 L212.1,265.5 L212.6,265.9 L213.0,265.8 L213.4,265.9" stroke="#ee6a5a" stroke-width="1.05" fill="none" stroke-linejoin="round"/>
<path d="M36.7,294.3 L37.1,294.2 L37.5,294.1 L38.0,294.0 L38.4,293.7 L38.8,293.9 L39.2,294.0 L39.7,293.8 L40.1,293.9 L40.5,293.7 L40.9,294.2 L41.3,294.4 L41.8,293.8 L42.2,293.9 L42.6,293.8 L43.0,294.1 L43.4,293.9 L43.9,293.8 L44.3,293.7 L44.7,293.8 L45.1,293.5 L45.6,293.8 L46.0,293.5 L46.4,293.7 L46.8,293.6 L47.2,293.8 L47.7,293.5 L48.1,293.7 L48.5,293.2 L48.9,293.5 L49.4,293.3 L49.8,293.3 L50.2,293.2 L50.6,293.3 L51.0,292.6 L51.5,293.0 L51.9,292.5 L52.3,293.0 L52.7,292.1 L53.1,292.1 L53.6,291.7 L54.0,292.0 L54.4,291.0 L54.8,290.7 L55.3,289.9 L55.7,288.8 L56.1,288.1 L56.5,287.2 L56.9,285.6 L57.4,284.3 L57.8,282.3 L58.2,280.6 L58.6,278.6 L59.1,277.0 L59.5,275.7 L59.9,274.1 L60.3,273.3 L60.7,272.9 L61.2,273.3 L61.6,274.8 L62.0,275.7 L62.4,277.4 L62.8,279.4 L63.3,281.2 L63.7,283.5 L64.1,284.2 L64.5,286.3 L65.0,287.6 L65.4,288.3 L65.8,289.3 L66.2,290.3 L66.6,291.2 L67.1,291.1 L67.5,291.4 L67.9,292.2 L68.3,292.6 L68.8,292.4 L69.2,292.1 L69.6,293.1 L70.0,292.8 L70.4,293.2 L70.9,293.0 L71.3,293.0 L71.7,293.0 L72.1,293.5 L72.5,293.5 L73.0,292.8 L73.4,293.1 L73.8,293.7 L74.2,293.2 L74.7,293.0 L75.1,293.3 L75.5,293.3 L75.9,293.3 L76.3,293.2 L76.8,293.3 L77.2,293.2 L77.6,293.4 L78.0,293.1 L78.5,293.2 L78.9,293.2 L79.3,293.5 L79.7,293.3 L80.1,293.2 L80.6,293.3 L81.0,293.2 L81.4,293.4 L81.8,293.2 L82.2,293.5 L82.7,293.3 L83.1,293.0 L83.5,292.9 L83.9,293.2 L84.4,293.1 L84.8,292.9 L85.2,292.6 L85.6,292.5 L86.0,293.0 L86.5,293.1 L86.9,293.2 L87.3,292.7 L87.7,293.3 L88.1,292.9 L88.6,293.2 L89.0,293.2 L89.4,293.0 L89.8,293.1 L90.3,292.9 L90.7,293.2 L91.1,293.1 L91.5,293.6 L91.9,293.6 L92.4,293.9 L92.8,293.8 L93.2,293.7 L93.6,294.0 L94.1,293.9 L94.5,294.2 L94.9,294.2 L95.3,294.0 L95.7,294.3 L96.2,294.3 L96.6,294.3 L97.0,294.6 L97.4,294.9 L97.8,294.4 L98.3,294.5 L98.7,294.1 L99.1,294.6 L99.5,294.5 L100.0,294.2 L100.4,294.7 L100.8,294.8 L101.2,294.5 L101.6,294.5 L102.1,294.4 L102.5,294.8 L102.9,294.2 L103.3,294.5 L103.8,294.9 L104.2,294.5 L104.6,294.5 L105.0,294.4 L105.4,294.1 L105.9,294.3 L106.3,294.3 L106.7,294.0 L107.1,294.2 L107.5,294.4 L108.0,294.3 L108.4,293.6 L108.8,293.7 L109.2,293.5 L109.7,294.1 L110.1,293.9 L110.5,293.9 L110.9,293.5 L111.3,293.3 L111.8,293.6 L112.2,293.5 L112.6,293.2 L113.0,293.4 L113.5,293.4 L113.9,293.3 L114.3,292.9 L114.7,292.6 L115.1,293.0 L115.6,293.0 L116.0,292.8 L116.4,292.6 L116.8,292.5 L117.2,292.6 L117.7,292.3 L118.1,292.1 L118.5,291.6 L118.9,291.4 L119.4,291.1 L119.8,290.4 L120.2,289.7 L120.6,289.1 L121.0,288.5 L121.5,287.2 L121.9,286.3 L122.3,284.6 L122.7,283.0 L123.2,281.2 L123.6,279.8 L124.0,278.7 L124.4,277.2 L124.8,276.3 L125.3,275.8 L125.7,275.7 L126.1,276.2 L126.5,277.3 L126.9,278.8 L127.4,280.3 L127.8,281.9 L128.2,283.4 L128.6,284.7 L129.1,286.2 L129.5,287.2 L129.9,288.7 L130.3,289.0 L130.7,290.1 L131.2,291.3 L131.6,291.2 L132.0,291.5 L132.4,292.1 L132.9,292.6 L133.3,292.5 L133.7,292.9 L134.1,292.9 L134.5,293.0 L135.0,293.9 L135.4,293.3 L135.8,293.3 L136.2,293.4 L136.6,293.7 L137.1,293.8 L137.5,294.0 L137.9,294.0 L138.3,293.7 L138.8,294.3 L139.2,294.2 L139.6,294.3 L140.0,294.1 L140.4,294.4 L140.9,294.5 L141.3,294.7 L141.7,294.5 L142.1,295.0 L142.6,295.1 L143.0,294.9 L143.4,295.1 L143.8,295.2 L144.2,295.7 L144.7,295.0 L145.1,295.6 L145.5,295.4 L145.9,295.8 L146.3,296.1 L146.8,295.9 L147.2,296.2 L147.6,296.0 L148.0,296.7 L148.5,296.6 L148.9,296.7 L149.3,296.3 L149.7,296.4 L150.1,296.9 L150.6,296.7 L151.0,296.7 L151.4,296.9 L151.8,296.6 L152.3,297.1 L152.7,297.0 L153.1,297.1 L153.5,296.9 L153.9,297.1 L154.4,296.9 L154.8,297.2 L155.2,297.3 L155.6,297.2 L156.0,297.1 L156.5,297.1 L156.9,296.3 L157.3,297.0 L157.7,296.8 L158.2,296.8 L158.6,296.6 L159.0,296.3 L159.4,296.5 L159.8,296.6 L160.3,296.7 L160.7,296.2 L161.1,296.1 L161.5,296.5 L162.0,295.9 L162.4,296.4 L162.8,295.9 L163.2,295.6 L163.6,295.9 L164.1,296.0 L164.5,295.2 L164.9,295.7 L165.3,295.2 L165.7,295.5 L166.2,295.0 L166.6,294.6 L167.0,294.9 L167.4,294.9 L167.9,295.0 L168.3,294.8 L168.7,294.5 L169.1,294.2 L169.5,294.0 L170.0,293.9 L170.4,293.6 L170.8,293.6 L171.2,293.0 L171.6,293.4 L172.1,293.2 L172.5,293.7 L172.9,293.1 L173.3,292.7 L173.8,292.8 L174.2,292.2 L174.6,292.3 L175.0,291.8 L175.4,292.5 L175.9,292.2 L176.3,291.7 L176.7,291.8 L177.1,292.0 L177.6,291.8 L178.0,291.7 L178.4,291.4 L178.8,291.4 L179.2,291.6 L179.7,291.8 L180.1,291.4 L180.5,291.4 L180.9,291.9 L181.3,291.5 L181.8,291.9 L182.2,291.8 L182.6,292.0 L183.0,292.2 L183.5,292.0 L183.9,292.1 L184.3,291.7 L184.7,291.8 L185.1,292.1 L185.6,292.3 L186.0,292.3 L186.4,292.5 L186.8,292.0 L187.3,291.9 L187.7,292.1 L188.1,291.8 L188.5,291.7 L188.9,291.4 L189.4,291.7 L189.8,291.2 L190.2,291.4 L190.6,290.8 L191.0,291.2 L191.5,290.5 L191.9,290.7 L192.3,289.9 L192.7,289.9 L193.2,290.0 L193.6,289.3 L194.0,289.1 L194.4,288.7 L194.8,288.0 L195.3,288.3 L195.7,288.0 L196.1,287.5 L196.5,287.8 L197.0,287.4 L197.4,287.4 L197.8,287.8 L198.2,287.8 L198.6,288.7 L199.1,288.2 L199.5,289.0 L199.9,289.4 L200.3,289.0 L200.7,289.4 L201.2,290.2 L201.6,290.2 L202.0,290.6 L202.4,291.0 L202.9,290.8 L203.3,290.9 L203.7,290.7 L204.1,291.4 L204.5,291.3 L205.0,291.7 L205.4,291.8 L205.8,291.5 L206.2,292.3 L206.7,292.2 L207.1,292.2 L207.5,291.9 L207.9,292.1 L208.3,292.1 L208.8,292.2 L209.2,292.1 L209.6,292.4 L210.0,292.4 L210.4,292.5 L210.9,292.3 L211.3,292.7 L211.7,292.5 L212.1,291.9 L212.6,292.4 L213.0,292.5 L213.4,292.8" stroke="#f89c5e" stroke-width="1.05" fill="none" stroke-linejoin="round"/>
<path d="M36.7,316.7 L37.1,316.7 L37.5,316.6 L38.0,316.9 L38.4,316.6 L38.8,316.6 L39.2,316.5 L39.7,316.8 L40.1,316.6 L40.5,316.3 L40.9,316.8 L41.3,316.5 L41.8,316.7 L42.2,316.7 L42.6,316.8 L43.0,316.8 L43.4,316.4 L43.9,316.5 L44.3,316.2 L44.7,316.8 L45.1,316.5 L45.6,316.7 L46.0,316.3 L46.4,315.9 L46.8,316.7 L47.2,316.3 L47.7,316.3 L48.1,316.2 L48.5,316.3 L48.9,316.2 L49.4,315.7 L49.8,316.2 L50.2,315.8 L50.6,315.7 L51.0,316.1 L51.5,315.8 L51.9,315.3 L52.3,314.8 L52.7,315.1 L53.1,314.9 L53.6,314.4 L54.0,313.7 L54.4,313.3 L54.8,312.6 L55.3,312.2 L55.7,311.4 L56.1,310.3 L56.5,308.7 L56.9,307.5 L57.4,306.0 L57.8,304.1 L58.2,302.4 L58.6,301.1 L59.1,299.0 L59.5,297.6 L59.9,296.1 L60.3,295.5 L60.7,294.9 L61.2,295.7 L61.6,296.9 L62.0,298.4 L62.4,299.8 L62.8,301.5 L63.3,303.1 L63.7,304.7 L64.1,306.4 L64.5,308.1 L65.0,309.2 L65.4,310.7 L65.8,311.3 L66.2,312.0 L66.6,312.8 L67.1,313.3 L67.5,313.8 L67.9,314.7 L68.3,314.7 L68.8,315.0 L69.2,315.4 L69.6,315.6 L70.0,315.3 L70.4,315.9 L70.9,315.7 L71.3,315.7 L71.7,315.9 L72.1,315.5 L72.5,315.7 L73.0,315.9 L73.4,316.1 L73.8,315.9 L74.2,316.0 L74.7,316.2 L75.1,316.4 L75.5,316.2 L75.9,316.3 L76.3,316.0 L76.8,316.0 L77.2,316.1 L77.6,316.0 L78.0,315.9 L78.5,316.4 L78.9,316.0 L79.3,315.8 L79.7,316.1 L80.1,316.4 L80.6,315.9 L81.0,316.2 L81.4,315.8 L81.8,315.7 L82.2,315.7 L82.7,315.8 L83.1,316.2 L83.5,315.5 L83.9,316.1 L84.4,315.5 L84.8,315.7 L85.2,315.9 L85.6,315.8 L86.0,315.8 L86.5,315.4 L86.9,315.8 L87.3,315.5 L87.7,316.4 L88.1,315.8 L88.6,315.9 L89.0,315.7 L89.4,315.9 L89.8,315.7 L90.3,316.3 L90.7,316.1 L91.1,316.3 L91.5,316.1 L91.9,316.3 L92.4,316.7 L92.8,316.3 L93.2,316.2 L93.6,316.8 L94.1,316.5 L94.5,316.7 L94.9,317.1 L95.3,316.8 L95.7,317.2 L96.2,316.9 L96.6,317.5 L97.0,317.5 L97.4,317.1 L97.8,317.2 L98.3,317.1 L98.7,317.4 L99.1,317.6 L99.5,317.1 L100.0,317.6 L100.4,317.1 L100.8,317.2 L101.2,317.0 L101.6,317.8 L102.1,317.4 L102.5,317.4 L102.9,317.2 L103.3,317.5 L103.8,316.8 L104.2,317.2 L104.6,317.6 L105.0,317.0 L105.4,317.1 L105.9,317.2 L106.3,316.8 L106.7,316.9 L107.1,317.1 L107.5,316.8 L108.0,316.8 L108.4,316.6 L108.8,316.7 L109.2,316.6 L109.7,316.8 L110.1,316.6 L110.5,316.3 L110.9,315.8 L111.3,316.4 L111.8,316.4 L112.2,315.9 L112.6,315.6 L113.0,315.7 L113.5,316.1 L113.9,315.6 L114.3,315.6 L114.7,315.7 L115.1,315.8 L115.6,315.5 L116.0,315.3 L116.4,315.1 L116.8,315.4 L117.2,315.1 L117.7,314.6 L118.1,314.0 L118.5,313.8 L118.9,313.6 L119.4,312.8 L119.8,312.5 L120.2,311.6 L120.6,310.6 L121.0,309.6 L121.5,308.3 L121.9,306.5 L122.3,305.0 L122.7,303.9 L123.2,301.4 L123.6,299.9 L124.0,298.6 L124.4,296.9 L124.8,295.8 L125.3,295.2 L125.7,295.6 L126.1,296.3 L126.5,297.5 L126.9,298.6 L127.4,300.5 L127.8,301.7 L128.2,303.8 L128.6,305.3 L129.1,307.0 L129.5,308.6 L129.9,309.9 L130.3,310.6 L130.7,312.0 L131.2,312.4 L131.6,313.0 L132.0,313.7 L132.4,313.9 L132.9,314.6 L133.3,314.9 L133.7,315.1 L134.1,315.5 L134.5,315.5 L135.0,315.7 L135.4,315.5 L135.8,316.0 L136.2,315.9 L136.6,316.1 L137.1,316.3 L137.5,316.5 L137.9,316.2 L138.3,316.3 L138.8,316.7 L139.2,317.0 L139.6,317.1 L140.0,317.3 L140.4,317.5 L140.9,317.4 L141.3,317.4 L141.7,317.3 L142.1,317.4 L142.6,317.6 L143.0,317.9 L143.4,318.0 L143.8,318.1 L144.2,318.1 L144.7,318.4 L145.1,318.4 L145.5,318.6 L145.9,318.7 L146.3,318.6 L146.8,318.6 L147.2,319.0 L147.6,319.1 L148.0,319.0 L148.5,319.0 L148.9,319.7 L149.3,319.1 L149.7,319.3 L150.1,319.5 L150.6,319.2 L151.0,319.6 L151.4,320.0 L151.8,319.8 L152.3,319.8 L152.7,319.8 L153.1,319.8 L153.5,320.0 L153.9,319.7 L154.4,319.7 L154.8,319.8 L155.2,320.0 L155.6,319.8 L156.0,319.9 L156.5,319.3 L156.9,319.9 L157.3,320.1 L157.7,319.9 L158.2,319.5 L158.6,319.3 L159.0,319.5 L159.4,319.1 L159.8,319.4 L160.3,319.1 L160.7,319.3 L161.1,319.3 L161.5,318.5 L162.0,318.9 L162.4,318.6 L162.8,318.3 L163.2,318.4 L163.6,318.4 L164.1,318.6 L164.5,317.9 L164.9,318.4 L165.3,318.5 L165.7,318.0 L166.2,317.9 L166.6,317.7 L167.0,317.3 L167.4,317.6 L167.9,317.4 L168.3,317.4 L168.7,317.7 L169.1,317.1 L169.5,316.9 L170.0,317.0 L170.4,316.3 L170.8,316.2 L171.2,316.2 L171.6,316.0 L172.1,316.1 L172.5,315.8 L172.9,316.1 L173.3,315.9 L173.8,315.6 L174.2,315.2 L174.6,315.3 L175.0,315.2 L175.4,314.6 L175.9,314.8 L176.3,314.8 L176.7,314.6 L177.1,314.8 L177.6,314.7 L178.0,314.2 L178.4,314.4 L178.8,314.1 L179.2,314.4 L179.7,314.1 L180.1,314.5 L180.5,314.4 L180.9,314.6 L181.3,314.3 L181.8,314.1 L182.2,314.8 L182.6,314.4 L183.0,314.8 L183.5,314.6 L183.9,314.7 L184.3,315.0 L184.7,314.7 L185.1,314.9 L185.6,314.3 L186.0,314.8 L186.4,314.5 L186.8,314.5 L187.3,314.5 L187.7,314.5 L188.1,314.7 L188.5,313.9 L188.9,314.2 L189.4,313.9 L189.8,314.1 L190.2,313.6 L190.6,313.6 L191.0,313.2 L191.5,313.3 L191.9,313.1 L192.3,312.5 L192.7,312.3 L193.2,311.6 L193.6,311.6 L194.0,311.4 L194.4,310.7 L194.8,310.7 L195.3,309.6 L195.7,309.4 L196.1,309.3 L196.5,309.3 L197.0,309.4 L197.4,309.4 L197.8,309.6 L198.2,310.0 L198.6,310.0 L199.1,310.2 L199.5,310.6 L199.9,311.7 L200.3,311.1 L200.7,311.9 L201.2,312.6 L201.6,312.7 L202.0,312.7 L202.4,313.1 L202.9,313.5 L203.3,313.8 L203.7,313.5 L204.1,314.1 L204.5,314.1 L205.0,314.4 L205.4,314.6 L205.8,314.3 L206.2,314.2 L206.7,314.7 L207.1,315.1 L207.5,314.9 L207.9,314.9 L208.3,315.4 L208.8,314.7 L209.2,315.2 L209.6,314.9 L210.0,315.1 L210.4,315.1 L210.9,315.5 L211.3,315.0 L211.7,315.1 L212.1,314.9 L212.6,315.4 L213.0,315.2 L213.4,315.4" stroke="#7ab6de" stroke-width="1.05" fill="none" stroke-linejoin="round"/>
<path d="M36.7,349.9 L37.1,350.0 L37.5,350.3 L38.0,350.0 L38.4,350.1 L38.8,350.1 L39.2,349.9 L39.7,349.6 L40.1,350.1 L40.5,349.9 L40.9,350.0 L41.3,349.3 L41.8,349.3 L42.2,349.2 L42.6,349.4 L43.0,349.8 L43.4,349.7 L43.9,349.5 L44.3,349.5 L44.7,349.6 L45.1,349.3 L45.6,349.4 L46.0,349.2 L46.4,348.7 L46.8,349.0 L47.2,349.3 L47.7,348.8 L48.1,348.8 L48.5,348.6 L48.9,348.5 L49.4,348.7 L49.8,348.3 L50.2,348.0 L50.6,347.3 L51.0,347.6 L51.5,347.1 L51.9,346.8 L52.3,347.0 L52.7,346.5 L53.1,345.4 L53.6,345.4 L54.0,344.6 L54.4,343.4 L54.8,342.7 L55.3,341.1 L55.7,339.8 L56.1,338.3 L56.5,336.8 L56.9,335.5 L57.4,333.1 L57.8,331.3 L58.2,329.4 L58.6,327.8 L59.1,325.9 L59.5,324.7 L59.9,323.2 L60.3,322.4 L60.7,322.4 L61.2,322.9 L61.6,323.5 L62.0,325.0 L62.4,326.9 L62.8,328.2 L63.3,330.2 L63.7,332.3 L64.1,333.8 L64.5,335.5 L65.0,337.1 L65.4,339.0 L65.8,340.4 L66.2,341.4 L66.6,342.5 L67.1,343.7 L67.5,344.4 L67.9,344.6 L68.3,345.5 L68.8,345.9 L69.2,346.5 L69.6,346.6 L70.0,346.7 L70.4,347.0 L70.9,346.8 L71.3,347.4 L71.7,347.4 L72.1,347.7 L72.5,347.4 L73.0,347.6 L73.4,347.6 L73.8,347.6 L74.2,348.0 L74.7,347.8 L75.1,348.0 L75.5,347.7 L75.9,348.0 L76.3,347.6 L76.8,347.9 L77.2,347.8 L77.6,348.1 L78.0,348.0 L78.5,347.9 L78.9,348.1 L79.3,347.9 L79.7,348.0 L80.1,348.0 L80.6,347.8 L81.0,347.7 L81.4,347.8 L81.8,347.6 L82.2,347.8 L82.7,347.9 L83.1,347.8 L83.5,347.5 L83.9,347.3 L84.4,347.5 L84.8,347.5 L85.2,347.7 L85.6,347.4 L86.0,347.4 L86.5,347.6 L86.9,347.4 L87.3,347.5 L87.7,347.9 L88.1,347.9 L88.6,347.7 L89.0,347.7 L89.4,347.4 L89.8,347.8 L90.3,347.7 L90.7,347.8 L91.1,347.7 L91.5,347.9 L91.9,347.9 L92.4,348.1 L92.8,348.4 L93.2,348.2 L93.6,347.9 L94.1,348.1 L94.5,348.0 L94.9,348.2 L95.3,348.6 L95.7,348.6 L96.2,348.4 L96.6,348.6 L97.0,348.5 L97.4,348.3 L97.8,348.4 L98.3,348.5 L98.7,349.0 L99.1,348.4 L99.5,349.0 L100.0,349.0 L100.4,348.7 L100.8,348.7 L101.2,348.5 L101.6,348.6 L102.1,348.7 L102.5,348.5 L102.9,348.7 L103.3,348.7 L103.8,348.5 L104.2,348.4 L104.6,348.3 L105.0,348.3 L105.4,347.9 L105.9,348.2 L106.3,348.1 L106.7,347.7 L107.1,348.3 L107.5,347.6 L108.0,347.5 L108.4,347.7 L108.8,347.1 L109.2,347.3 L109.7,347.0 L110.1,347.0 L110.5,347.1 L110.9,347.1 L111.3,347.2 L111.8,347.0 L112.2,347.0 L112.6,346.8 L113.0,346.4 L113.5,346.6 L113.9,346.2 L114.3,346.0 L114.7,346.3 L115.1,345.9 L115.6,345.6 L116.0,345.5 L116.4,345.2 L116.8,344.4 L117.2,344.2 L117.7,343.5 L118.1,343.2 L118.5,342.4 L118.9,342.0 L119.4,340.9 L119.8,339.5 L120.2,338.5 L120.6,336.9 L121.0,335.6 L121.5,334.0 L121.9,332.2 L122.3,329.8 L122.7,328.3 L123.2,326.5 L123.6,324.7 L124.0,323.2 L124.4,321.3 L124.8,320.8 L125.3,320.0 L125.7,320.2 L126.1,320.8 L126.5,321.9 L126.9,323.0 L127.4,324.8 L127.8,326.3 L128.2,328.2 L128.6,330.5 L129.1,332.2 L129.5,333.7 L129.9,335.5 L130.3,337.1 L130.7,338.8 L131.2,339.9 L131.6,340.9 L132.0,341.2 L132.4,342.4 L132.9,343.2 L133.3,343.7 L133.7,344.2 L134.1,344.4 L134.5,345.2 L135.0,345.4 L135.4,345.3 L135.8,345.3 L136.2,346.2 L136.6,345.8 L137.1,346.3 L137.5,346.6 L137.9,346.1 L138.3,346.5 L138.8,346.5 L139.2,346.8 L139.6,346.9 L140.0,347.4 L140.4,347.2 L140.9,347.2 L141.3,347.5 L141.7,347.3 L142.1,347.4 L142.6,348.1 L143.0,347.5 L143.4,347.7 L143.8,347.9 L144.2,347.8 L144.7,347.7 L145.1,348.5 L145.5,348.2 L145.9,348.3 L146.3,348.4 L146.8,348.4 L147.2,348.5 L147.6,348.8 L148.0,349.4 L148.5,349.1 L148.9,349.2 L149.3,348.8 L149.7,349.1 L150.1,349.0 L150.6,349.4 L151.0,349.3 L151.4,349.4 L151.8,349.4 L152.3,349.3 L152.7,349.1 L153.1,349.6 L153.5,349.2 L153.9,349.2 L154.4,349.4 L154.8,349.3 L155.2,349.5 L155.6,349.6 L156.0,349.4 L156.5,349.4 L156.9,349.3 L157.3,349.4 L157.7,348.8 L158.2,349.2 L158.6,348.8 L159.0,348.7 L159.4,348.9 L159.8,348.7 L160.3,348.8 L160.7,348.9 L161.1,348.0 L161.5,348.4 L162.0,348.7 L162.4,348.4 L162.8,348.4 L163.2,348.0 L163.6,347.6 L164.1,347.5 L164.5,347.8 L164.9,347.7 L165.3,347.2 L165.7,347.2 L166.2,347.2 L166.6,346.6 L167.0,346.8 L167.4,347.1 L167.9,347.1 L168.3,346.5 L168.7,346.8 L169.1,346.1 L169.5,345.9 L170.0,345.4 L170.4,346.0 L170.8,345.5 L171.2,346.0 L171.6,345.4 L172.1,345.2 L172.5,344.6 L172.9,345.1 L173.3,344.6 L173.8,344.5 L174.2,343.9 L174.6,344.4 L175.0,344.3 L175.4,343.8 L175.9,343.8 L176.3,343.8 L176.7,343.8 L177.1,343.5 L177.6,343.8 L178.0,343.3 L178.4,343.1 L178.8,343.1 L179.2,342.6 L179.7,343.0 L180.1,343.4 L180.5,343.2 L180.9,343.0 L181.3,343.2 L181.8,342.7 L182.2,343.1 L182.6,343.3 L183.0,343.4 L183.5,343.0 L183.9,343.4 L184.3,343.6 L184.7,343.1 L185.1,343.3 L185.6,342.8 L186.0,342.7 L186.4,343.2 L186.8,343.0 L187.3,342.9 L187.7,342.6 L188.1,342.6 L188.5,342.7 L188.9,342.7 L189.4,342.1 L189.8,341.6 L190.2,342.0 L190.6,341.6 L191.0,341.4 L191.5,340.9 L191.9,341.1 L192.3,340.2 L192.7,339.9 L193.2,338.9 L193.6,338.7 L194.0,338.2 L194.4,337.8 L194.8,337.4 L195.3,336.7 L195.7,336.8 L196.1,335.9 L196.5,335.8 L197.0,335.9 L197.4,335.7 L197.8,336.2 L198.2,336.6 L198.6,336.7 L199.1,337.7 L199.5,337.7 L199.9,338.3 L200.3,338.5 L200.7,338.7 L201.2,339.4 L201.6,339.8 L202.0,340.2 L202.4,340.8 L202.9,340.3 L203.3,340.9 L203.7,340.9 L204.1,341.9 L204.5,341.6 L205.0,341.8 L205.4,341.8 L205.8,342.4 L206.2,342.2 L206.7,342.4 L207.1,342.0 L207.5,342.8 L207.9,342.7 L208.3,342.8 L208.8,343.0 L209.2,342.8 L209.6,342.8 L210.0,343.1 L210.4,343.0 L210.9,342.9 L211.3,343.0 L211.7,342.9 L212.1,343.2 L212.6,343.3 L213.0,343.1 L213.4,343.5" stroke="#3a70b4" stroke-width="1.05" fill="none" stroke-linejoin="round"/>
<path d="M36.7,365.9 L37.1,366.1 L37.5,366.5 L38.0,366.1 L38.4,365.8 L38.8,366.4 L39.2,366.2 L39.7,365.9 L40.1,366.3 L40.5,365.9 L40.9,365.8 L41.3,366.0 L41.8,366.0 L42.2,365.8 L42.6,366.0 L43.0,365.8 L43.4,366.0 L43.9,366.0 L44.3,366.1 L44.7,365.9 L45.1,365.7 L45.6,365.7 L46.0,365.9 L46.4,366.2 L46.8,366.1 L47.2,365.8 L47.7,366.1 L48.1,365.7 L48.5,366.1 L48.9,365.8 L49.4,366.0 L49.8,366.0 L50.2,365.8 L50.6,365.9 L51.0,365.6 L51.5,365.8 L51.9,366.0 L52.3,366.6 L52.7,365.9 L53.1,365.8 L53.6,365.6 L54.0,366.0 L54.4,365.4 L54.8,365.6 L55.3,365.8 L55.7,365.5 L56.1,366.0 L56.5,365.9 L56.9,365.6 L57.4,365.5 L57.8,365.4 L58.2,365.4 L58.6,365.7 L59.1,365.7 L59.5,365.7 L59.9,365.6 L60.3,365.5 L60.7,365.6 L61.2,365.3 L61.6,365.6 L62.0,365.8 L62.4,365.8 L62.8,365.4 L63.3,365.4 L63.7,365.8 L64.1,365.8 L64.5,365.2 L65.0,365.4 L65.4,365.5 L65.8,365.7 L66.2,365.3 L66.6,365.5 L67.1,365.3 L67.5,365.9 L67.9,365.5 L68.3,365.3 L68.8,365.3 L69.2,365.6 L69.6,365.5 L70.0,365.1 L70.4,365.4 L70.9,365.0 L71.3,365.1 L71.7,365.0 L72.1,365.0 L72.5,365.1 L73.0,365.0 L73.4,365.3 L73.8,365.3 L74.2,365.1 L74.7,364.9 L75.1,365.2 L75.5,364.6 L75.9,364.6 L76.3,365.0 L76.8,365.0 L77.2,365.0 L77.6,364.7 L78.0,364.4 L78.5,364.4 L78.9,364.5 L79.3,364.2 L79.7,364.1 L80.1,363.8 L80.6,363.7 L81.0,364.0 L81.4,363.8 L81.8,363.4 L82.2,363.3 L82.7,363.3 L83.1,363.4 L83.5,363.0 L83.9,363.1 L84.4,362.6 L84.8,362.7 L85.2,363.0 L85.6,363.1 L86.0,362.7 L86.5,362.8 L86.9,363.1 L87.3,362.9 L87.7,362.9 L88.1,363.2 L88.6,363.2 L89.0,363.5 L89.4,363.5 L89.8,363.3 L90.3,363.5 L90.7,363.6 L91.1,363.5 L91.5,363.6 L91.9,364.1 L92.4,363.7 L92.8,364.3 L93.2,364.2 L93.6,364.2 L94.1,364.4 L94.5,364.4 L94.9,364.6 L95.3,364.3 L95.7,364.4 L96.2,364.4 L96.6,364.9 L97.0,364.7 L97.4,364.3 L97.8,364.5 L98.3,364.4 L98.7,364.5 L99.1,364.6 L99.5,365.0 L100.0,364.2 L100.4,364.7 L100.8,364.6 L101.2,364.4 L101.6,364.5 L102.1,364.4 L102.5,364.5 L102.9,364.6 L103.3,364.1 L103.8,364.7 L104.2,364.3 L104.6,364.7 L105.0,364.4 L105.4,364.5 L105.9,364.4 L106.3,364.4 L106.7,364.2 L107.1,363.9 L107.5,364.2 L108.0,364.1 L108.4,364.3 L108.8,363.5 L109.2,363.8 L109.7,363.9 L110.1,363.4 L110.5,363.5 L110.9,363.9 L111.3,363.7 L111.8,363.2 L112.2,363.6 L112.6,363.4 L113.0,363.3 L113.5,363.2 L113.9,363.1 L114.3,362.8 L114.7,362.9 L115.1,363.1 L115.6,363.0 L116.0,363.3 L116.4,362.9 L116.8,362.5 L117.2,363.0 L117.7,363.1 L118.1,363.2 L118.5,363.2 L118.9,363.0 L119.4,363.5 L119.8,363.2 L120.2,363.5 L120.6,363.3 L121.0,363.2 L121.5,363.8 L121.9,363.1 L122.3,363.4 L122.7,363.7 L123.2,363.6 L123.6,363.9 L124.0,363.7 L124.4,363.7 L124.8,364.2 L125.3,363.7 L125.7,363.8 L126.1,363.6 L126.5,363.7 L126.9,363.9 L127.4,363.9 L127.8,363.8 L128.2,363.7 L128.6,363.9 L129.1,363.5 L129.5,363.7 L129.9,363.7 L130.3,363.6 L130.7,363.8 L131.2,363.6 L131.6,363.6 L132.0,364.1 L132.4,363.9 L132.9,363.9 L133.3,363.7 L133.7,363.9 L134.1,363.8 L134.5,363.9 L135.0,364.1 L135.4,363.6 L135.8,363.7 L136.2,363.6 L136.6,362.9 L137.1,363.3 L137.5,363.6 L137.9,363.7 L138.3,363.4 L138.8,363.8 L139.2,363.8 L139.6,363.4 L140.0,363.8 L140.4,363.9 L140.9,363.6 L141.3,363.3 L141.7,363.8 L142.1,363.4 L142.6,363.4 L143.0,363.5 L143.4,363.3 L143.8,363.6 L144.2,363.6 L144.7,363.6 L145.1,363.5 L145.5,363.2 L145.9,363.3 L146.3,363.5 L146.8,363.3 L147.2,363.9 L147.6,363.3 L148.0,363.2 L148.5,363.5 L148.9,363.4 L149.3,363.3 L149.7,363.2 L150.1,363.3 L150.6,363.4 L151.0,363.4 L151.4,363.1 L151.8,363.3 L152.3,363.3 L152.7,363.3 L153.1,362.5 L153.5,363.0 L153.9,363.0 L154.4,363.1 L154.8,363.1 L155.2,363.3 L155.6,363.2 L156.0,363.0 L156.5,363.1 L156.9,363.4 L157.3,362.9 L157.7,363.1 L158.2,363.3 L158.6,363.1 L159.0,362.6 L159.4,363.0 L159.8,362.9 L160.3,362.9 L160.7,363.1 L161.1,363.0 L161.5,362.8 L162.0,363.0 L162.4,362.9 L162.8,362.8 L163.2,362.8 L163.6,362.8 L164.1,362.6 L164.5,362.6 L164.9,362.6 L165.3,362.4 L165.7,362.3 L166.2,362.7 L166.6,362.4 L167.0,362.3 L167.4,362.3 L167.9,362.2 L168.3,362.1 L168.7,362.1 L169.1,361.8 L169.5,362.0 L170.0,361.6 L170.4,361.9 L170.8,361.2 L171.2,361.2 L171.6,361.5 L172.1,361.2 L172.5,361.0 L172.9,361.1 L173.3,360.7 L173.8,360.8 L174.2,360.2 L174.6,360.5 L175.0,360.4 L175.4,360.5 L175.9,360.5 L176.3,360.1 L176.7,360.6 L177.1,360.1 L177.6,359.8 L178.0,359.7 L178.4,360.5 L178.8,360.2 L179.2,360.1 L179.7,360.1 L180.1,360.0 L180.5,360.5 L180.9,360.3 L181.3,360.7 L181.8,360.4 L182.2,360.0 L182.6,360.6 L183.0,360.4 L183.5,360.5 L183.9,360.9 L184.3,360.5 L184.7,360.8 L185.1,360.6 L185.6,360.5 L186.0,360.7 L186.4,360.4 L186.8,360.7 L187.3,360.6 L187.7,360.4 L188.1,360.4 L188.5,360.3 L188.9,360.0 L189.4,360.0 L189.8,359.6 L190.2,359.6 L190.6,359.0 L191.0,359.0 L191.5,358.7 L191.9,358.2 L192.3,357.9 L192.7,357.5 L193.2,357.3 L193.6,356.6 L194.0,356.4 L194.4,356.3 L194.8,355.7 L195.3,355.1 L195.7,355.2 L196.1,355.3 L196.5,355.1 L197.0,355.5 L197.4,355.7 L197.8,356.0 L198.2,356.2 L198.6,356.5 L199.1,357.0 L199.5,357.4 L199.9,357.9 L200.3,358.2 L200.7,358.4 L201.2,358.8 L201.6,359.1 L202.0,358.9 L202.4,359.3 L202.9,359.5 L203.3,359.8 L203.7,359.9 L204.1,360.1 L204.5,360.1 L205.0,360.5 L205.4,360.5 L205.8,360.2 L206.2,360.6 L206.7,360.5 L207.1,361.1 L207.5,360.7 L207.9,360.8 L208.3,360.9 L208.8,360.9 L209.2,361.0 L209.6,361.3 L210.0,361.1 L210.4,361.3 L210.9,361.3 L211.3,360.9 L211.7,361.5 L212.1,361.3 L212.6,361.4 L213.0,361.0 L213.4,361.4" stroke="#6a54aa" stroke-width="0.9" fill="none" stroke-linejoin="round"/>
<rect x="36.7" y="225.6" width="176.7" height="144.50000000000003" fill="none" stroke="#333" stroke-width="1.1"/>
<line x1="36.7" y1="370.1" x2="36.7" y2="373.1" stroke="#333" stroke-width="1.1"/>
<text x="36.7" y="382.2" font-size="10" text-anchor="middle" fill="#222" font-weight="normal">400</text>
<line x1="75.96666666666667" y1="370.1" x2="75.96666666666667" y2="373.1" stroke="#333" stroke-width="1.1"/>
<text x="75.96666666666667" y="382.2" font-size="10" text-anchor="middle" fill="#222" font-weight="normal">500</text>
<line x1="115.23333333333333" y1="370.1" x2="115.23333333333333" y2="373.1" stroke="#333" stroke-width="1.1"/>
<text x="115.23333333333333" y="382.2" font-size="10" text-anchor="middle" fill="#222" font-weight="normal">600</text>
<line x1="154.5" y1="370.1" x2="154.5" y2="373.1" stroke="#333" stroke-width="1.1"/>
<text x="154.5" y="382.2" font-size="10" text-anchor="middle" fill="#222" font-weight="normal">700</text>
<line x1="193.76666666666665" y1="370.1" x2="193.76666666666665" y2="373.1" stroke="#333" stroke-width="1.1"/>
<text x="193.76666666666665" y="382.2" font-size="10" text-anchor="middle" fill="#222" font-weight="normal">800</text>
<line x1="56.333333333333336" y1="370.1" x2="56.333333333333336" y2="372.1" stroke="#333" stroke-width="1"/>
<line x1="95.6" y1="370.1" x2="95.6" y2="372.1" stroke="#333" stroke-width="1"/>
<line x1="134.86666666666667" y1="370.1" x2="134.86666666666667" y2="372.1" stroke="#333" stroke-width="1"/>
<line x1="174.13333333333333" y1="370.1" x2="174.13333333333333" y2="372.1" stroke="#333" stroke-width="1"/>
<line x1="213.39999999999998" y1="370.1" x2="213.39999999999998" y2="372.1" stroke="#333" stroke-width="1"/>
<text x="1.2" y="232.2" font-size="19" text-anchor="start" fill="#222" font-weight="normal">d</text>
<text x="62.2" y="234.6" font-size="8.2" text-anchor="start" fill="#222" font-weight="normal">Narrower FWHM</text>
<text x="81.2" y="244" font-size="8.5" text-anchor="start" fill="#222" font-weight="normal">≈16 cm<tspan font-size="5.8" baseline-shift="3.23">-1</tspan></text>
<text x="77" y="283" font-size="9.4" text-anchor="start" fill="#f0141e" font-weight="normal">Variable</text>
<text x="172.7" y="282.4" font-size="9.5" text-anchor="start" fill="#f0141e" font-weight="normal">Constant</text>
<text x="79.7" y="344.7" font-size="8.2" text-anchor="start" fill="#222" font-weight="normal">≈23 cm<tspan font-size="5.6" baseline-shift="3.12">-1</tspan></text>
<text x="72.2" y="360.4" font-size="8.2" text-anchor="start" fill="#222" font-weight="normal">Wider FWHM</text>
<text x="136.6" y="241.8" font-size="8.4" text-anchor="start" fill="#d03a55" font-weight="normal">n=40%</text>
<text x="141.2" y="265" font-size="8.4" text-anchor="start" fill="#ee6a5a" font-weight="normal">n=30%</text>
<text x="143" y="294.2" font-size="8.4" text-anchor="start" fill="#f89c5e" font-weight="normal">n=20%</text>
<text x="145" y="316.6" font-size="8.4" text-anchor="start" fill="#7ab6de" font-weight="normal">n=10%</text>
<text x="147.1" y="344.7" font-size="8.4" text-anchor="start" fill="#3a70b4" font-weight="normal">n=0%</text>
<text x="150" y="357.8" font-size="8.4" text-anchor="start" fill="#6a54aa" font-weight="normal">Hydrogel</text>
<text x="192.7" y="365.7" font-size="8.2" text-anchor="start" fill="#222" font-weight="normal">Zw</text>
<text x="125.0" y="400.4" font-size="11.8" text-anchor="middle" fill="#222" font-weight="normal">Raman shift (cm<tspan font-size="8.0" baseline-shift="4.48">-1</tspan>)</text>
<text x="30.0" y="297" font-size="11.8" text-anchor="middle" fill="#222" font-weight="normal" transform="rotate(-90 30.0 297)">Intensity (arb. units)</text>
<rect x="40.3" y="442.16800000000006" width="14" height="121.53199999999998" fill="#fdd98c" stroke="#8a7a5a" stroke-width="0.5"/>
<rect x="54.3" y="438.20500000000004" width="14" height="125.495" fill="#f4877a" stroke="#8a5a50" stroke-width="0.5"/>
<rect x="75.69999999999999" y="450.88660000000004" width="14" height="112.8134" fill="#fdd98c" stroke="#8a7a5a" stroke-width="0.5"/>
<rect x="89.69999999999999" y="451.4150000000001" width="14" height="112.28499999999997" fill="#f4877a" stroke="#8a5a50" stroke-width="0.5"/>
<rect x="111.1" y="456.43480000000005" width="14" height="107.2652" fill="#fdd98c" stroke="#8a7a5a" stroke-width="0.5"/>
<rect x="125.1" y="458.02000000000004" width="14" height="105.68" fill="#f4877a" stroke="#8a5a50" stroke-width="0.5"/>
<rect x="146.5" y="468.85220000000004" width="14" height="94.8478" fill="#fdd98c" stroke="#8a7a5a" stroke-width="0.5"/>
<rect x="160.5" y="471.23" width="14" height="92.47000000000003" fill="#f4877a" stroke="#8a5a50" stroke-width="0.5"/>
<rect x="181.89999999999998" y="475.98560000000003" width="14" height="87.71440000000001" fill="#fdd98c" stroke="#8a7a5a" stroke-width="0.5"/>
<rect x="195.89999999999998" y="477.83500000000004" width="14" height="85.86500000000001" fill="#f4877a" stroke="#8a5a50" stroke-width="0.5"/>
<rect x="36.5" y="418.2" width="176.3" height="145.50000000000006" fill="none" stroke="#333" stroke-width="1.1"/>
<line x1="33.5" y1="563.7" x2="36.5" y2="563.7" stroke="#333" stroke-width="1.1"/>
<text x="32.6" y="567.3000000000001" font-size="10" text-anchor="end" fill="#222" font-weight="normal">0</text>
<line x1="33.5" y1="537.2800000000001" x2="36.5" y2="537.2800000000001" stroke="#333" stroke-width="1.1"/>
<text x="32.6" y="540.8800000000001" font-size="10" text-anchor="end" fill="#222" font-weight="normal">5</text>
<line x1="33.5" y1="510.86000000000007" x2="36.5" y2="510.86000000000007" stroke="#333" stroke-width="1.1"/>
<text x="32.6" y="514.46" font-size="10" text-anchor="end" fill="#222" font-weight="normal">10</text>
<line x1="33.5" y1="484.44000000000005" x2="36.5" y2="484.44000000000005" stroke="#333" stroke-width="1.1"/>
<text x="32.6" y="488.0400000000001" font-size="10" text-anchor="end" fill="#222" font-weight="normal">15</text>
<line x1="33.5" y1="458.02000000000004" x2="36.5" y2="458.02000000000004" stroke="#333" stroke-width="1.1"/>
<text x="32.6" y="461.62000000000006" font-size="10" text-anchor="end" fill="#222" font-weight="normal">20</text>
<line x1="33.5" y1="431.6" x2="36.5" y2="431.6" stroke="#333" stroke-width="1.1"/>
<text x="32.6" y="435.20000000000005" font-size="10" text-anchor="end" fill="#222" font-weight="normal">25</text>
<line x1="34.5" y1="550.49" x2="36.5" y2="550.49" stroke="#333" stroke-width="1"/>
<line x1="34.5" y1="524.07" x2="36.5" y2="524.07" stroke="#333" stroke-width="1"/>
<line x1="34.5" y1="497.65000000000003" x2="36.5" y2="497.65000000000003" stroke="#333" stroke-width="1"/>
<line x1="34.5" y1="471.23" x2="36.5" y2="471.23" stroke="#333" stroke-width="1"/>
<line x1="34.5" y1="444.81000000000006" x2="36.5" y2="444.81000000000006" stroke="#333" stroke-width="1"/>
<line x1="54.3" y1="563.7" x2="54.3" y2="566.7" stroke="#333" stroke-width="1.1"/>
<text x="54.3" y="574.6" font-size="10" text-anchor="middle" fill="#222" font-weight="normal">0</text>
<line x1="89.69999999999999" y1="563.7" x2="89.69999999999999" y2="566.7" stroke="#333" stroke-width="1.1"/>
<text x="89.69999999999999" y="574.6" font-size="10" text-anchor="middle" fill="#222" font-weight="normal">10</text>
<line x1="125.1" y1="563.7" x2="125.1" y2="566.7" stroke="#333" stroke-width="1.1"/>
<text x="125.1" y="574.6" font-size="10" text-anchor="middle" fill="#222" font-weight="normal">20</text>
<line x1="160.5" y1="563.7" x2="160.5" y2="566.7" stroke="#333" stroke-width="1.1"/>
<text x="160.5" y="574.6" font-size="10" text-anchor="middle" fill="#222" font-weight="normal">30</text>
<line x1="195.89999999999998" y1="563.7" x2="195.89999999999998" y2="566.7" stroke="#333" stroke-width="1.1"/>
<text x="195.89999999999998" y="574.6" font-size="10" text-anchor="middle" fill="#222" font-weight="normal">40</text>
<line x1="72.0" y1="563.7" x2="72.0" y2="565.7" stroke="#333" stroke-width="1"/>
<line x1="107.4" y1="563.7" x2="107.4" y2="565.7" stroke="#333" stroke-width="1"/>
<line x1="142.8" y1="563.7" x2="142.8" y2="565.7" stroke="#333" stroke-width="1"/>
<line x1="178.2" y1="563.7" x2="178.2" y2="565.7" stroke="#333" stroke-width="1"/>
<rect x="113.5" y="421.7" width="17.5" height="8.4" fill="#fdd98c" stroke="#8a7a5a" stroke-width="0.5"/>
<rect x="113.5" y="432.4" width="17.5" height="8.3" fill="#f4877a" stroke="#8a5a50" stroke-width="0.5"/>
<text x="133.6" y="428.4" font-size="8" text-anchor="start" fill="#222" font-weight="normal">Peak around 469 cm<tspan font-size="5.4" baseline-shift="3.04">-1</tspan></text>
<text x="133.6" y="439.2" font-size="8" text-anchor="start" fill="#222" font-weight="normal">Peak around 624 cm<tspan font-size="5.4" baseline-shift="3.04">-1</tspan></text>
<text x="106.1" y="448.5" font-size="8" text-anchor="start" fill="#222" font-weight="normal">Maltose in Zw + 3 m Zn(ClO<tspan font-size="5.4" baseline-shift="-1.76">4</tspan>)<tspan font-size="5.4" baseline-shift="-1.76">2</tspan></text>
<text x="-1.2" y="426.8" font-size="20" text-anchor="start" fill="#222" font-weight="normal">e</text>
<text x="124.5" y="591.8" font-size="12" text-anchor="middle" fill="#222" font-weight="normal">Maltose weight ratio (%)</text>
<text x="17.4" y="491" font-size="11.8" text-anchor="middle" fill="#222" font-weight="normal" transform="rotate(-90 17.4 491)">Full width at half maximum (cm<tspan font-size="8.0" baseline-shift="4.48">-1</tspan>)</text>
<path d="M38.0,681.8 L38.2,680.4 L38.5,684.2 L38.7,683.0 L39.0,681.7 L39.2,682.2 L39.5,682.4 L39.7,682.4 L40.0,682.3 L40.2,682.7 L40.5,678.4 L40.7,679.1 L41.0,680.8 L41.2,680.6 L41.5,681.3 L41.7,681.7 L42.0,682.0 L42.2,680.2 L42.5,679.5 L42.7,682.8 L43.0,681.6 L43.2,680.5 L43.5,681.7 L43.7,679.9 L44.0,682.0 L44.2,683.4 L44.5,681.9 L44.7,680.1 L45.0,679.6 L45.2,681.4 L45.5,681.3 L45.7,680.5 L46.0,681.4 L46.2,684.0 L46.5,682.7 L46.7,679.1 L47.0,679.7 L47.2,682.8 L47.5,679.6 L47.7,682.2 L48.0,683.1 L48.2,680.9 L48.5,680.3 L48.7,680.9 L49.0,679.7 L49.2,680.4 L49.5,679.0 L49.7,683.1 L50.0,680.9 L50.2,680.5 L50.5,681.1 L50.7,678.5 L51.0,683.3 L51.2,678.0 L51.5,679.3 L51.7,681.3 L52.0,679.8 L52.2,680.9 L52.5,682.4 L52.7,680.0 L53.0,681.3 L53.2,680.2 L53.5,680.8 L53.7,681.4 L54.0,681.4 L54.2,682.3 L54.5,681.5 L54.7,682.3 L55.0,681.3 L55.2,679.0 L55.5,681.2 L55.7,680.5 L56.0,678.0 L56.2,677.5 L56.5,680.0 L56.7,681.0 L57.0,679.0 L57.2,680.8 L57.5,680.0 L57.7,679.3 L58.0,680.0 L58.2,677.2 L58.5,680.8 L58.7,678.4 L59.0,678.0 L59.2,678.9 L59.5,678.4 L59.7,680.0 L60.0,678.8 L60.2,680.7 L60.5,680.6 L60.7,682.7 L61.0,681.1 L61.2,682.3 L61.5,679.1 L61.7,680.3 L62.0,678.0 L62.2,681.3 L62.5,680.5 L62.7,677.4 L62.9,678.5 L63.2,677.8 L63.4,678.2 L63.7,679.2 L63.9,678.8 L64.2,677.4 L64.4,679.1 L64.7,680.0 L64.9,677.7 L65.2,678.6 L65.4,679.1 L65.7,678.3 L65.9,677.5 L66.2,679.6 L66.4,681.0 L66.7,679.4 L66.9,679.6 L67.2,680.9 L67.4,680.5 L67.7,676.0 L67.9,679.3 L68.2,680.6 L68.4,677.5 L68.7,680.2 L68.9,678.9 L69.2,678.0 L69.4,678.9 L69.7,676.3 L69.9,676.5 L70.2,675.9 L70.4,681.2 L70.7,680.0 L70.9,680.3 L71.2,678.1 L71.4,679.1 L71.7,679.2 L71.9,679.1 L72.2,678.8 L72.4,676.5 L72.7,677.6 L72.9,677.2 L73.2,675.8 L73.4,676.3 L73.7,678.0 L73.9,679.0 L74.2,675.2 L74.4,679.6 L74.7,679.2 L74.9,676.7 L75.2,676.1 L75.4,677.2 L75.7,677.5 L75.9,676.7 L76.2,675.7 L76.4,676.9 L76.7,673.2 L76.9,677.0 L77.2,677.6 L77.4,676.6 L77.7,676.9 L77.9,677.2 L78.2,676.4 L78.4,676.5 L78.7,674.8 L78.9,673.8 L79.2,674.5 L79.4,678.7 L79.7,678.4 L79.9,674.4 L80.2,674.5 L80.4,674.3 L80.7,675.8 L80.9,676.9 L81.2,675.5 L81.4,674.4 L81.7,673.4 L81.9,676.8 L82.2,675.2 L82.4,674.9 L82.7,675.5 L82.9,676.4 L83.2,674.1 L83.4,676.4 L83.7,676.5 L83.9,673.9 L84.2,675.0 L84.4,673.5 L84.7,673.1 L84.9,672.6 L85.2,672.4 L85.4,673.6 L85.7,673.8 L85.9,674.4 L86.2,673.5 L86.4,670.1 L86.7,675.5 L86.9,669.2 L87.2,673.1 L87.4,671.7 L87.7,672.4 L87.9,674.1 L88.1,670.3 L88.4,673.5 L88.6,672.2 L88.9,670.2 L89.1,671.0 L89.4,672.9 L89.6,671.7 L89.9,671.1 L90.1,676.2 L90.4,670.2 L90.6,669.4 L90.9,669.7 L91.1,670.1 L91.4,669.1 L91.6,671.0 L91.9,668.2 L92.1,672.2 L92.4,669.9 L92.6,668.1 L92.9,668.1 L93.1,669.6 L93.4,670.4 L93.6,669.5 L93.9,670.4 L94.1,669.2 L94.4,669.3 L94.6,671.5 L94.9,668.8 L95.1,669.5 L95.4,669.5 L95.6,666.5 L95.9,669.4 L96.1,669.6 L96.4,667.0 L96.6,667.7 L96.9,669.6 L97.1,669.6 L97.4,667.6 L97.6,667.6 L97.9,670.1 L98.1,665.2 L98.4,668.2 L98.6,668.1 L98.9,666.8 L99.1,667.4 L99.4,666.7 L99.6,666.6 L99.9,667.8 L100.1,665.3 L100.4,665.4 L100.6,664.3 L100.9,664.6 L101.1,664.6 L101.4,663.4 L101.6,664.8 L101.9,667.9 L102.1,667.1 L102.4,664.0 L102.6,662.6 L102.9,665.9 L103.1,661.7 L103.4,664.8 L103.6,665.0 L103.9,661.0 L104.1,664.4 L104.4,662.5 L104.6,661.8 L104.9,661.2 L105.1,662.3 L105.4,661.4 L105.6,663.4 L105.9,662.6 L106.1,658.9 L106.4,660.4 L106.6,660.2 L106.9,657.8 L107.1,659.4 L107.4,660.9 L107.6,659.7 L107.9,657.5 L108.1,659.0 L108.4,658.8 L108.6,657.3 L108.9,658.0 L109.1,661.1 L109.4,660.5 L109.6,657.2 L109.9,657.7 L110.1,659.7 L110.4,656.6 L110.6,658.2 L110.9,655.2 L111.1,659.1 L111.4,655.4 L111.6,654.5 L111.9,654.4 L112.1,658.8 L112.4,657.3 L112.6,655.3 L112.8,657.1 L113.1,656.9 L113.3,655.8 L113.6,655.7 L113.8,656.8 L114.1,657.9 L114.3,656.0 L114.6,657.4 L114.8,655.0 L115.1,655.3 L115.3,654.3 L115.6,656.9 L115.8,655.0 L116.1,653.2 L116.3,656.2 L116.6,654.7 L116.8,656.8 L117.1,653.2 L117.3,655.7 L117.6,653.7 L117.8,653.2 L118.1,653.7 L118.3,656.5 L118.6,656.2 L118.8,653.2 L119.1,652.6 L119.3,654.7 L119.6,654.7 L119.8,658.0 L120.1,651.3 L120.3,652.6 L120.6,654.6 L120.8,654.7 L121.1,654.7 L121.3,655.3 L121.6,657.7 L121.8,653.7 L122.1,653.4 L122.3,653.1 L122.6,656.9 L122.8,655.9 L123.1,655.7 L123.3,656.9 L123.6,655.4 L123.8,657.1 L124.1,655.1 L124.3,653.2 L124.6,654.6 L124.8,653.8 L125.1,652.9 L125.3,655.9 L125.6,657.5 L125.8,657.6 L126.1,655.7 L126.3,655.2 L126.6,654.5 L126.8,656.1 L127.1,657.1 L127.3,655.7 L127.6,657.0 L127.8,657.2 L128.1,654.2 L128.3,658.4 L128.6,657.0 L128.8,657.2 L129.1,656.7 L129.3,660.2 L129.6,660.1 L129.8,660.4 L130.1,657.1 L130.3,657.3 L130.6,660.1 L130.8,657.5 L131.1,658.2 L131.3,656.1 L131.6,661.5 L131.8,661.0 L132.1,659.7 L132.3,659.9 L132.6,659.8 L132.8,659.7 L133.1,661.6 L133.3,659.6 L133.6,662.2 L133.8,659.6 L134.1,659.7 L134.3,662.8 L134.6,662.1 L134.8,661.6 L135.1,661.3 L135.3,660.4 L135.6,663.0 L135.8,661.2 L136.1,664.1 L136.3,660.4 L136.6,661.7 L136.8,664.8 L137.1,663.6 L137.3,663.1 L137.6,661.8 L137.8,665.4 L138.0,661.6 L138.3,664.2 L138.5,663.3 L138.8,664.9 L139.0,666.6 L139.3,664.6 L139.5,665.9 L139.8,666.0 L140.0,663.7 L140.3,664.7 L140.5,666.0 L140.8,666.3 L141.0,667.7 L141.3,663.4 L141.5,668.6 L141.8,669.5 L142.0,668.4 L142.3,665.5 L142.5,667.2 L142.8,667.7 L143.0,668.6 L143.3,668.6 L143.5,669.5 L143.8,667.9 L144.0,670.8 L144.3,667.1 L144.5,668.4 L144.8,670.8 L145.0,667.5 L145.3,670.5 L145.5,668.6 L145.8,669.5 L146.0,668.7 L146.3,669.3 L146.5,670.7 L146.8,671.0 L147.0,670.0 L147.3,674.3 L147.5,672.8 L147.8,670.5 L148.0,672.7 L148.3,673.6 L148.5,673.5 L148.8,668.0 L149.0,671.0 L149.3,674.3 L149.5,674.7 L149.8,673.0 L150.0,672.8 L150.3,669.7 L150.5,672.9 L150.8,676.6 L151.0,671.4 L151.3,671.8 L151.5,674.5 L151.8,674.2 L152.0,675.6 L152.3,673.3 L152.5,675.3 L152.8,675.5 L153.0,673.1 L153.3,674.6 L153.5,678.9 L153.8,676.6 L154.0,676.1 L154.3,672.0 L154.5,674.2 L154.8,675.5 L155.0,675.9 L155.3,674.6 L155.5,678.8 L155.8,675.5 L156.0,675.7 L156.3,677.7 L156.5,674.8 L156.8,675.6 L157.0,676.3 L157.3,677.1 L157.5,676.9 L157.8,675.0 L158.0,676.5 L158.3,678.4 L158.5,677.9 L158.8,678.4 L159.0,678.9 L159.3,675.9 L159.5,678.7 L159.8,679.9 L160.0,680.4 L160.3,678.6 L160.5,679.1 L160.8,676.6 L161.0,676.5 L161.3,678.6 L161.5,677.4 L161.8,680.0 L162.0,678.8 L162.3,680.2 L162.5,682.2 L162.7,679.6 L163.0,679.5 L163.2,679.4 L163.5,679.8 L163.7,676.9 L164.0,677.1 L164.2,680.0 L164.5,682.1 L164.7,679.8 L165.0,679.3 L165.2,678.8 L165.5,679.7 L165.7,680.4 L166.0,678.3 L166.2,681.1 L166.5,680.8 L166.7,679.7 L167.0,679.2 L167.2,681.1 L167.5,678.1 L167.7,682.5 L168.0,680.9 L168.2,679.0 L168.5,683.2 L168.7,682.3 L169.0,680.8 L169.2,683.2 L169.5,679.8 L169.7,681.8 L170.0,681.7 L170.2,676.9 L170.5,681.9 L170.7,681.3 L171.0,681.3 L171.2,679.0 L171.5,682.1 L171.7,680.2 L172.0,680.7 L172.2,680.6 L172.5,679.8 L172.7,683.7 L173.0,680.5 L173.2,680.5 L173.5,681.7 L173.7,682.1 L174.0,683.4 L174.2,682.7 L174.5,682.2 L174.7,681.8 L175.0,682.7 L175.2,683.8 L175.5,683.5 L175.7,682.2 L176.0,679.3 L176.2,684.9 L176.5,684.5 L176.7,683.1 L177.0,683.8 L177.2,682.6 L177.5,681.8 L177.7,682.1 L178.0,682.5 L178.2,682.9 L178.5,682.1 L178.7,683.1 L179.0,683.7 L179.2,682.6 L179.5,684.0 L179.7,681.0 L180.0,685.1 L180.2,683.1 L180.5,682.9 L180.7,681.3 L181.0,683.8 L181.2,682.3 L181.5,684.9 L181.7,683.4 L182.0,684.6 L182.2,683.4 L182.5,681.8 L182.7,684.0 L183.0,683.2 L183.2,683.9 L183.5,683.6 L183.7,684.0 L184.0,685.4 L184.2,686.3 L184.5,684.6 L184.7,685.5 L185.0,684.7 L185.2,684.9 L185.5,685.6 L185.7,685.7 L186.0,684.8 L186.2,683.5 L186.5,688.3 L186.7,685.1 L187.0,684.6 L187.2,684.2 L187.5,684.9 L187.7,684.8 L187.9,683.7 L188.2,682.5 L188.4,684.8 L188.7,682.8 L188.9,684.6 L189.2,685.8 L189.4,686.6 L189.7,687.1 L189.9,685.1 L190.2,684.3 L190.4,683.5 L190.7,684.1 L190.9,684.7 L191.2,682.6 L191.4,685.7 L191.7,685.1 L191.9,687.0 L192.2,685.2 L192.4,682.8 L192.7,685.2 L192.9,685.0 L193.2,684.1 L193.4,685.9 L193.7,687.2 L193.9,684.3 L194.2,687.7 L194.4,684.7 L194.7,687.5 L194.9,684.4 L195.2,686.2 L195.4,686.1 L195.7,684.3 L195.9,687.3 L196.2,686.5 L196.4,687.0 L196.7,686.5 L196.9,686.7 L197.2,686.1 L197.4,686.8 L197.7,685.2 L197.9,685.8 L198.2,685.5 L198.4,684.1 L198.7,685.2 L198.9,685.7 L199.2,686.6 L199.4,687.7 L199.7,684.5 L199.9,685.9 L200.2,683.3 L200.4,686.7 L200.7,686.7 L200.9,684.3 L201.2,683.5 L201.4,686.9 L201.7,686.9 L201.9,685.6 L202.2,685.8 L202.4,689.1 L202.7,685.9 L202.9,685.3 L203.2,690.2 L203.4,688.9 L203.7,685.7 L203.9,688.1 L204.2,685.9 L204.4,687.3 L204.7,687.7 L204.9,686.0 L205.2,688.4 L205.4,686.9 L205.7,685.5 L205.9,685.8 L206.2,687.7 L206.4,687.0 L206.7,687.4 L206.9,688.2 L207.2,687.5 L207.4,685.2 L207.7,688.6 L207.9,688.8 L208.2,688.8 L208.4,689.1 L208.7,688.2 L208.9,686.6 L209.2,689.6 L209.4,688.0 L209.7,689.5 L209.9,689.7 L210.2,688.5 L210.4,691.2 L210.7,689.5 L210.9,686.6 L211.2,689.2 L211.4,687.9 L211.7,687.5 L211.9,688.8 L212.2,689.9 L212.4,688.8" stroke="#c8304c" stroke-width="0.85" fill="none" stroke-linejoin="round"/>
<path d="M38.0,713.1 L38.2,713.2 L38.5,714.3 L38.7,714.2 L39.0,714.0 L39.2,713.7 L39.5,714.0 L39.7,713.6 L40.0,713.6 L40.2,713.4 L40.5,713.9 L40.7,713.6 L41.0,714.2 L41.2,714.1 L41.5,713.4 L41.7,714.6 L42.0,713.2 L42.2,713.9 L42.5,714.2 L42.7,714.3 L43.0,712.7 L43.2,714.2 L43.5,714.3 L43.7,714.4 L44.0,712.7 L44.2,713.4 L44.5,713.7 L44.7,713.5 L45.0,714.3 L45.2,713.4 L45.5,714.2 L45.7,713.9 L46.0,713.0 L46.2,713.2 L46.5,713.4 L46.7,713.7 L47.0,714.1 L47.2,713.5 L47.5,714.0 L47.7,712.9 L48.0,712.2 L48.2,713.4 L48.5,713.8 L48.7,713.4 L49.0,713.1 L49.2,713.8 L49.5,714.4 L49.7,713.5 L50.0,713.2 L50.2,713.2 L50.5,714.4 L50.7,713.5 L51.0,713.8 L51.2,714.1 L51.5,714.0 L51.7,713.1 L52.0,713.9 L52.2,713.9 L52.5,713.7 L52.7,713.9 L53.0,713.2 L53.2,713.4 L53.5,713.2 L53.7,713.8 L54.0,713.1 L54.2,713.6 L54.5,712.9 L54.7,713.3 L55.0,713.2 L55.2,713.3 L55.5,713.4 L55.7,713.3 L56.0,713.2 L56.2,712.4 L56.5,713.8 L56.7,713.0 L57.0,713.2 L57.2,712.9 L57.5,713.7 L57.7,712.9 L58.0,713.5 L58.2,713.8 L58.5,714.0 L58.7,713.7 L59.0,713.5 L59.2,712.7 L59.5,713.8 L59.7,713.7 L60.0,713.5 L60.2,713.5 L60.5,713.2 L60.7,712.9 L61.0,713.6 L61.2,713.7 L61.5,712.6 L61.7,713.5 L62.0,713.2 L62.2,713.4 L62.5,713.1 L62.7,713.5 L62.9,713.5 L63.2,713.4 L63.4,712.3 L63.7,713.3 L63.9,713.0 L64.2,712.4 L64.4,713.2 L64.7,712.3 L64.9,713.3 L65.2,713.6 L65.4,712.6 L65.7,713.2 L65.9,713.0 L66.2,713.1 L66.4,712.2 L66.7,713.0 L66.9,712.8 L67.2,713.0 L67.4,712.7 L67.7,713.2 L67.9,712.8 L68.2,712.9 L68.4,713.2 L68.7,712.7 L68.9,713.0 L69.2,712.7 L69.4,712.8 L69.7,712.3 L69.9,712.8 L70.2,713.0 L70.4,712.4 L70.7,712.8 L70.9,712.6 L71.2,711.9 L71.4,712.5 L71.7,712.9 L71.9,712.1 L72.2,711.5 L72.4,712.4 L72.7,712.0 L72.9,713.1 L73.2,712.2 L73.4,712.2 L73.7,711.9 L73.9,712.2 L74.2,711.8 L74.4,711.6 L74.7,712.0 L74.9,711.6 L75.2,712.5 L75.4,711.4 L75.7,711.9 L75.9,711.6 L76.2,711.2 L76.4,712.5 L76.7,710.8 L76.9,712.4 L77.2,711.1 L77.4,711.7 L77.7,712.6 L77.9,710.7 L78.2,711.0 L78.4,712.1 L78.7,711.6 L78.9,711.2 L79.2,711.4 L79.4,711.0 L79.7,711.4 L79.9,712.0 L80.2,711.1 L80.4,711.3 L80.7,711.7 L80.9,712.0 L81.2,710.9 L81.4,711.2 L81.7,710.8 L81.9,710.7 L82.2,710.8 L82.4,710.6 L82.7,710.1 L82.9,709.9 L83.2,710.4 L83.4,710.8 L83.7,711.2 L83.9,710.4 L84.2,710.5 L84.4,710.8 L84.7,710.8 L84.9,710.3 L85.2,710.3 L85.4,711.1 L85.7,710.1 L85.9,709.9 L86.2,709.4 L86.4,710.2 L86.7,709.9 L86.9,710.8 L87.2,709.7 L87.4,710.2 L87.7,710.1 L87.9,710.4 L88.1,709.0 L88.4,710.2 L88.6,709.5 L88.9,709.3 L89.1,709.2 L89.4,709.1 L89.6,709.0 L89.9,708.1 L90.1,709.2 L90.4,709.0 L90.6,708.4 L90.9,708.8 L91.1,709.7 L91.4,708.8 L91.6,708.4 L91.9,709.2 L92.1,708.0 L92.4,708.2 L92.6,707.9 L92.9,708.0 L93.1,708.3 L93.4,708.1 L93.6,707.5 L93.9,707.6 L94.1,707.6 L94.4,707.3 L94.6,707.3 L94.9,706.9 L95.1,706.8 L95.4,707.0 L95.6,706.5 L95.9,707.0 L96.1,706.6 L96.4,706.1 L96.6,706.1 L96.9,706.1 L97.1,706.1 L97.4,706.1 L97.6,705.8 L97.9,705.4 L98.1,706.2 L98.4,705.9 L98.6,705.4 L98.9,705.6 L99.1,705.2 L99.4,704.7 L99.6,704.7 L99.9,705.7 L100.1,704.8 L100.4,704.7 L100.6,703.9 L100.9,704.1 L101.1,704.7 L101.4,703.7 L101.6,703.8 L101.9,703.7 L102.1,703.2 L102.4,703.4 L102.6,702.6 L102.9,702.5 L103.1,701.8 L103.4,703.0 L103.6,701.8 L103.9,701.5 L104.1,701.8 L104.4,700.8 L104.6,700.8 L104.9,700.2 L105.1,700.3 L105.4,699.8 L105.6,700.0 L105.9,699.4 L106.1,699.0 L106.4,698.8 L106.6,698.6 L106.9,698.2 L107.1,698.5 L107.4,698.1 L107.6,697.6 L107.9,696.7 L108.1,697.1 L108.4,696.0 L108.6,696.3 L108.9,696.0 L109.1,695.3 L109.4,694.9 L109.6,694.6 L109.9,695.5 L110.1,694.1 L110.4,693.8 L110.6,693.9 L110.9,693.3 L111.1,693.2 L111.4,691.8 L111.6,691.5 L111.9,693.0 L112.1,691.1 L112.4,690.6 L112.6,690.4 L112.8,690.3 L113.1,689.0 L113.3,689.2 L113.6,688.6 L113.8,688.5 L114.1,687.9 L114.3,687.1 L114.6,686.5 L114.8,685.4 L115.1,686.4 L115.3,684.9 L115.6,685.0 L115.8,685.4 L116.1,684.1 L116.3,684.1 L116.6,683.3 L116.8,683.2 L117.1,682.5 L117.3,681.8 L117.6,682.2 L117.8,681.1 L118.1,680.2 L118.3,680.2 L118.6,680.2 L118.8,679.1 L119.1,679.5 L119.3,679.1 L119.6,679.4 L119.8,677.8 L120.1,678.1 L120.3,676.7 L120.6,677.0 L120.8,676.9 L121.1,676.8 L121.3,676.3 L121.6,676.1 L121.8,675.6 L122.1,675.5 L122.3,675.6 L122.6,675.6 L122.8,675.5 L123.1,675.5 L123.3,675.5 L123.6,674.2 L123.8,674.7 L124.1,674.8 L124.3,674.6 L124.6,675.4 L124.8,675.3 L125.1,675.0 L125.3,675.2 L125.6,675.8 L125.8,675.3 L126.1,675.4 L126.3,676.1 L126.6,676.2 L126.8,676.8 L127.1,676.6 L127.3,677.0 L127.6,676.7 L127.8,676.9 L128.1,677.6 L128.3,676.8 L128.6,678.4 L128.8,679.0 L129.1,679.0 L129.3,679.2 L129.6,680.2 L129.8,680.1 L130.1,681.0 L130.3,681.9 L130.6,681.7 L130.8,682.2 L131.1,682.4 L131.3,682.8 L131.6,683.2 L131.8,683.6 L132.1,684.5 L132.3,683.8 L132.6,684.8 L132.8,685.6 L133.1,685.4 L133.3,686.2 L133.6,686.4 L133.8,687.3 L134.1,688.0 L134.3,688.7 L134.6,688.7 L134.8,688.6 L135.1,689.5 L135.3,690.0 L135.6,690.8 L135.8,689.7 L136.1,691.2 L136.3,690.7 L136.6,692.2 L136.8,692.4 L137.1,692.9 L137.3,693.4 L137.6,693.6 L137.8,693.5 L138.0,694.3 L138.3,695.1 L138.5,694.8 L138.8,695.3 L139.0,695.1 L139.3,696.4 L139.5,696.1 L139.8,696.3 L140.0,696.8 L140.3,696.9 L140.5,697.5 L140.8,698.4 L141.0,698.5 L141.3,699.1 L141.5,699.4 L141.8,698.7 L142.0,699.6 L142.3,700.3 L142.5,700.9 L142.8,699.6 L143.0,699.8 L143.3,700.9 L143.5,700.8 L143.8,700.8 L144.0,701.6 L144.3,701.3 L144.5,700.9 L144.8,702.1 L145.0,702.4 L145.3,702.8 L145.5,703.2 L145.8,703.1 L146.0,703.1 L146.3,703.1 L146.5,702.9 L146.8,703.6 L147.0,704.4 L147.3,704.5 L147.5,705.2 L147.8,704.5 L148.0,703.9 L148.3,705.2 L148.5,705.5 L148.8,704.7 L149.0,704.7 L149.3,705.6 L149.5,706.0 L149.8,705.4 L150.0,705.9 L150.3,705.8 L150.5,705.8 L150.8,705.9 L151.0,706.6 L151.3,706.6 L151.5,706.6 L151.8,705.9 L152.0,707.9 L152.3,706.8 L152.5,707.3 L152.8,707.0 L153.0,707.8 L153.3,707.1 L153.5,707.9 L153.8,707.9 L154.0,708.5 L154.3,707.7 L154.5,708.0 L154.8,708.3 L155.0,709.4 L155.3,708.0 L155.5,708.8 L155.8,708.5 L156.0,709.0 L156.3,709.3 L156.5,709.2 L156.8,709.3 L157.0,709.4 L157.3,709.1 L157.5,709.4 L157.8,708.8 L158.0,709.5 L158.3,709.4 L158.5,709.7 L158.8,710.2 L159.0,710.1 L159.3,710.2 L159.5,710.6 L159.8,709.2 L160.0,710.5 L160.3,710.3 L160.5,710.4 L160.8,709.9 L161.0,710.8 L161.3,711.1 L161.5,711.1 L161.8,710.7 L162.0,711.1 L162.3,711.3 L162.5,711.7 L162.7,711.5 L163.0,711.1 L163.2,711.2 L163.5,711.3 L163.7,711.3 L164.0,711.1 L164.2,711.7 L164.5,711.1 L164.7,711.1 L165.0,711.7 L165.2,711.3 L165.5,711.5 L165.7,710.8 L166.0,712.1 L166.2,711.8 L166.5,711.8 L166.7,712.1 L167.0,712.0 L167.2,711.7 L167.5,712.9 L167.7,711.9 L168.0,712.5 L168.2,713.0 L168.5,712.0 L168.7,712.3 L169.0,712.0 L169.2,712.8 L169.5,712.2 L169.7,712.0 L170.0,713.0 L170.2,712.9 L170.5,712.2 L170.7,713.1 L171.0,712.7 L171.2,713.8 L171.5,713.4 L171.7,712.5 L172.0,712.7 L172.2,712.4 L172.5,712.9 L172.7,712.9 L173.0,713.2 L173.2,713.0 L173.5,712.4 L173.7,712.7 L174.0,713.7 L174.2,713.6 L174.5,713.1 L174.7,713.1 L175.0,713.1 L175.2,713.2 L175.5,712.5 L175.7,713.7 L176.0,713.0 L176.2,713.4 L176.5,712.3 L176.7,713.5 L177.0,714.0 L177.2,712.5 L177.5,714.1 L177.7,713.7 L178.0,713.2 L178.2,712.9 L178.5,714.1 L178.7,713.7 L179.0,713.9 L179.2,713.6 L179.5,713.4 L179.7,714.1 L180.0,713.4 L180.2,714.2 L180.5,713.1 L180.7,713.4 L181.0,713.2 L181.2,714.4 L181.5,713.2 L181.7,713.4 L182.0,714.2 L182.2,714.1 L182.5,714.9 L182.7,714.8 L183.0,714.3 L183.2,714.4 L183.5,713.3 L183.7,713.7 L184.0,714.0 L184.2,714.1 L184.5,713.6 L184.7,713.8 L185.0,713.8 L185.2,714.7 L185.5,714.4 L185.7,714.1 L186.0,714.2 L186.2,714.4 L186.5,714.0 L186.7,714.2 L187.0,713.6 L187.2,714.7 L187.5,714.8 L187.7,714.6 L187.9,714.7 L188.2,714.6 L188.4,715.4 L188.7,714.6 L188.9,713.9 L189.2,714.1 L189.4,714.9 L189.7,715.0 L189.9,714.9 L190.2,715.0 L190.4,714.7 L190.7,714.0 L190.9,714.3 L191.2,713.9 L191.4,714.5 L191.7,714.1 L191.9,714.8 L192.2,714.7 L192.4,713.9 L192.7,715.1 L192.9,715.1 L193.2,714.2 L193.4,714.9 L193.7,715.1 L193.9,714.7 L194.2,715.2 L194.4,714.9 L194.7,715.3 L194.9,715.0 L195.2,714.8 L195.4,715.1 L195.7,715.3 L195.9,715.1 L196.2,714.8 L196.4,714.6 L196.7,714.8 L196.9,714.8 L197.2,715.1 L197.4,715.1 L197.7,715.0 L197.9,715.1 L198.2,715.1 L198.4,715.8 L198.7,715.6 L198.9,714.9 L199.2,715.3 L199.4,715.0 L199.7,715.1 L199.9,715.0 L200.2,714.9 L200.4,714.6 L200.7,714.1 L200.9,715.3 L201.2,715.7 L201.4,714.8 L201.7,715.5 L201.9,715.1 L202.2,715.4 L202.4,714.9 L202.7,715.2 L202.9,715.2 L203.2,714.3 L203.4,715.4 L203.7,715.3 L203.9,714.3 L204.2,715.6 L204.4,715.3 L204.7,715.5 L204.9,715.5 L205.2,715.2 L205.4,714.9 L205.7,715.2 L205.9,715.2 L206.2,716.4 L206.4,716.2 L206.7,715.2 L206.9,715.3 L207.2,715.6 L207.4,715.7 L207.7,715.2 L207.9,715.1 L208.2,716.3 L208.4,716.0 L208.7,714.8 L208.9,714.8 L209.2,715.2 L209.4,715.6 L209.7,715.8 L209.9,715.4 L210.2,714.9 L210.4,715.7 L210.7,715.9 L210.9,715.6 L211.2,715.4 L211.4,715.9 L211.7,715.6 L211.9,715.2 L212.2,715.7 L212.4,715.1" stroke="#f89c5e" stroke-width="0.9" fill="none" stroke-linejoin="round"/>
<path d="M38.0,743.3 L38.2,743.2 L38.5,743.0 L38.7,743.2 L39.0,743.3 L39.2,742.8 L39.5,743.1 L39.7,743.4 L40.0,742.9 L40.2,743.1 L40.5,743.0 L40.7,743.2 L41.0,742.8 L41.2,742.9 L41.5,743.1 L41.7,743.2 L42.0,743.2 L42.2,743.2 L42.5,743.3 L42.7,743.3 L43.0,743.3 L43.2,743.0 L43.5,743.2 L43.7,743.6 L44.0,743.5 L44.2,743.3 L44.5,743.3 L44.7,743.3 L45.0,743.1 L45.2,743.5 L45.5,743.1 L45.7,743.2 L46.0,743.5 L46.2,742.9 L46.5,743.2 L46.7,742.9 L47.0,743.1 L47.2,743.2 L47.5,743.1 L47.7,743.2 L48.0,743.1 L48.2,743.2 L48.5,743.0 L48.7,743.1 L49.0,743.0 L49.2,743.3 L49.5,743.0 L49.7,743.3 L50.0,743.1 L50.2,743.2 L50.5,743.4 L50.7,743.2 L51.0,742.9 L51.2,743.3 L51.5,742.8 L51.7,743.2 L52.0,743.1 L52.2,743.0 L52.5,743.2 L52.7,743.2 L53.0,743.5 L53.2,743.1 L53.5,743.5 L53.7,743.4 L54.0,743.1 L54.2,743.1 L54.5,743.4 L54.7,743.2 L55.0,743.2 L55.2,743.2 L55.5,743.0 L55.7,743.2 L56.0,743.1 L56.2,743.0 L56.5,743.2 L56.7,743.5 L57.0,743.5 L57.2,743.2 L57.5,743.2 L57.7,743.3 L58.0,743.4 L58.2,743.3 L58.5,743.2 L58.7,743.2 L59.0,743.4 L59.2,743.6 L59.5,743.1 L59.7,742.9 L60.0,743.3 L60.2,743.2 L60.5,743.2 L60.7,743.4 L61.0,743.2 L61.2,743.0 L61.5,742.9 L61.7,743.2 L62.0,743.1 L62.2,743.3 L62.5,743.0 L62.7,743.2 L62.9,743.0 L63.2,743.2 L63.4,743.2 L63.7,743.3 L63.9,743.4 L64.2,743.2 L64.4,743.1 L64.7,743.5 L64.9,743.3 L65.2,743.3 L65.4,743.3 L65.7,743.5 L65.9,743.4 L66.2,743.3 L66.4,743.4 L66.7,743.1 L66.9,743.2 L67.2,743.2 L67.4,743.3 L67.7,743.2 L67.9,743.3 L68.2,743.2 L68.4,743.2 L68.7,743.0 L68.9,743.4 L69.2,743.3 L69.4,743.1 L69.7,743.3 L69.9,743.3 L70.2,743.3 L70.4,743.0 L70.7,743.1 L70.9,743.2 L71.2,743.5 L71.4,743.1 L71.7,743.2 L71.9,743.1 L72.2,743.2 L72.4,743.3 L72.7,742.9 L72.9,742.8 L73.2,743.4 L73.4,743.3 L73.7,743.2 L73.9,743.4 L74.2,743.4 L74.4,742.9 L74.7,743.2 L74.9,743.4 L75.2,743.2 L75.4,743.2 L75.7,743.4 L75.9,743.2 L76.2,743.1 L76.4,743.1 L76.7,743.1 L76.9,743.3 L77.2,743.0 L77.4,743.4 L77.7,743.0 L77.9,743.3 L78.2,743.0 L78.4,743.2 L78.7,743.4 L78.9,743.4 L79.2,743.4 L79.4,743.2 L79.7,743.3 L79.9,743.3 L80.2,743.3 L80.4,743.2 L80.7,743.4 L80.9,743.3 L81.2,743.4 L81.4,743.3 L81.7,743.3 L81.9,743.1 L82.2,743.2 L82.4,743.1 L82.7,743.2 L82.9,743.2 L83.2,743.4 L83.4,743.1 L83.7,743.7 L83.9,743.2 L84.2,743.4 L84.4,743.4 L84.7,742.9 L84.9,743.2 L85.2,743.5 L85.4,742.9 L85.7,743.4 L85.9,743.1 L86.2,743.2 L86.4,743.3 L86.7,743.0 L86.9,743.3 L87.2,743.1 L87.4,743.1 L87.7,743.3 L87.9,743.8 L88.1,743.3 L88.4,743.3 L88.6,743.2 L88.9,743.1 L89.1,743.3 L89.4,743.4 L89.6,743.2 L89.9,743.3 L90.1,743.2 L90.4,743.6 L90.6,743.0 L90.9,743.3 L91.1,743.3 L91.4,743.2 L91.6,743.0 L91.9,743.0 L92.1,743.2 L92.4,743.2 L92.6,743.0 L92.9,743.0 L93.1,743.3 L93.4,743.3 L93.6,743.1 L93.9,743.1 L94.1,743.1 L94.4,743.5 L94.6,743.2 L94.9,743.2 L95.1,743.3 L95.4,743.5 L95.6,743.3 L95.9,742.9 L96.1,743.1 L96.4,743.1 L96.6,743.1 L96.9,743.0 L97.1,743.1 L97.4,743.0 L97.6,743.2 L97.9,743.1 L98.1,742.9 L98.4,742.9 L98.6,743.0 L98.9,743.2 L99.1,743.2 L99.4,743.1 L99.6,742.6 L99.9,743.0 L100.1,743.0 L100.4,743.0 L100.6,742.9 L100.9,743.0 L101.1,743.0 L101.4,743.5 L101.6,743.1 L101.9,743.0 L102.1,743.0 L102.4,743.0 L102.6,743.0 L102.9,742.9 L103.1,743.0 L103.4,743.1 L103.6,743.1 L103.9,743.0 L104.1,743.2 L104.4,743.0 L104.6,742.8 L104.9,742.7 L105.1,742.8 L105.4,742.9 L105.6,743.0 L105.9,743.0 L106.1,742.8 L106.4,742.7 L106.6,743.0 L106.9,743.0 L107.1,742.7 L107.4,742.9 L107.6,743.0 L107.9,742.8 L108.1,742.7 L108.4,742.4 L108.6,742.9 L108.9,742.8 L109.1,742.7 L109.4,742.6 L109.6,742.5 L109.9,742.6 L110.1,742.6 L110.4,742.7 L110.6,742.4 L110.9,742.7 L111.1,742.5 L111.4,742.6 L111.6,742.3 L111.9,742.5 L112.1,742.6 L112.4,742.4 L112.6,742.1 L112.8,742.2 L113.1,742.3 L113.3,742.0 L113.6,741.9 L113.8,742.1 L114.1,741.9 L114.3,742.1 L114.6,741.8 L114.8,741.6 L115.1,741.7 L115.3,742.0 L115.6,741.6 L115.8,741.7 L116.1,741.6 L116.3,741.4 L116.6,741.6 L116.8,741.4 L117.1,741.3 L117.3,740.9 L117.6,740.7 L117.8,740.5 L118.1,740.7 L118.3,740.6 L118.6,740.6 L118.8,740.5 L119.1,740.1 L119.3,739.9 L119.6,739.8 L119.8,739.7 L120.1,739.1 L120.3,739.0 L120.6,738.5 L120.8,738.1 L121.1,737.9 L121.3,737.2 L121.6,736.6 L121.8,736.3 L122.1,735.5 L122.3,734.7 L122.6,733.8 L122.8,732.9 L123.1,731.6 L123.3,730.4 L123.6,728.8 L123.8,727.2 L124.1,725.2 L124.3,722.9 L124.6,720.3 L124.8,717.7 L125.1,715.0 L125.3,713.0 L125.6,710.4 L125.8,709.0 L126.1,708.5 L126.3,708.5 L126.6,709.8 L126.8,711.9 L127.1,714.2 L127.3,716.8 L127.6,719.6 L127.8,722.4 L128.1,724.6 L128.3,726.5 L128.6,728.4 L128.8,729.7 L129.1,731.5 L129.3,732.6 L129.6,733.5 L129.8,734.6 L130.1,735.3 L130.3,736.0 L130.6,736.5 L130.8,737.1 L131.1,737.6 L131.3,738.2 L131.6,738.6 L131.8,738.9 L132.1,739.1 L132.3,739.4 L132.6,740.0 L132.8,739.6 L133.1,740.3 L133.3,740.4 L133.6,740.5 L133.8,740.6 L134.1,740.8 L134.3,740.8 L134.6,740.9 L134.8,741.2 L135.1,741.0 L135.3,741.5 L135.6,741.6 L135.8,741.1 L136.1,741.4 L136.3,741.8 L136.6,741.8 L136.8,741.9 L137.1,742.0 L137.3,742.1 L137.6,742.2 L137.8,742.4 L138.0,742.2 L138.3,742.3 L138.5,742.0 L138.8,742.3 L139.0,742.2 L139.3,742.6 L139.5,742.8 L139.8,742.5 L140.0,742.3 L140.3,742.5 L140.5,742.6 L140.8,742.6 L141.0,742.8 L141.3,742.8 L141.5,742.3 L141.8,742.9 L142.0,742.7 L142.3,742.7 L142.5,743.0 L142.8,742.8 L143.0,742.6 L143.3,742.7 L143.5,742.9 L143.8,743.0 L144.0,743.1 L144.3,742.9 L144.5,742.9 L144.8,743.2 L145.0,742.9 L145.3,743.2 L145.5,743.1 L145.8,743.1 L146.0,743.0 L146.3,743.1 L146.5,743.0 L146.8,743.0 L147.0,743.1 L147.3,743.0 L147.5,743.2 L147.8,743.2 L148.0,743.1 L148.3,743.1 L148.5,743.1 L148.8,743.5 L149.0,743.2 L149.3,743.1 L149.5,743.2 L149.8,743.3 L150.0,743.2 L150.3,743.2 L150.5,743.2 L150.8,743.3 L151.0,743.3 L151.3,743.4 L151.5,743.1 L151.8,743.1 L152.0,742.9 L152.3,743.4 L152.5,743.5 L152.8,743.5 L153.0,743.4 L153.3,743.5 L153.5,743.4 L153.8,743.4 L154.0,743.1 L154.3,743.3 L154.5,743.3 L154.8,743.5 L155.0,743.7 L155.3,743.3 L155.5,743.5 L155.8,743.5 L156.0,743.3 L156.3,743.2 L156.5,743.3 L156.8,743.2 L157.0,743.4 L157.3,743.4 L157.5,743.4 L157.8,743.4 L158.0,743.5 L158.3,743.3 L158.5,743.6 L158.8,743.2 L159.0,743.5 L159.3,743.6 L159.5,743.4 L159.8,743.3 L160.0,743.6 L160.3,743.4 L160.5,743.6 L160.8,743.6 L161.0,743.5 L161.3,743.5 L161.5,743.7 L161.8,743.6 L162.0,743.4 L162.3,743.6 L162.5,743.6 L162.7,743.6 L163.0,743.6 L163.2,743.5 L163.5,743.5 L163.7,743.4 L164.0,743.4 L164.2,743.7 L164.5,743.5 L164.7,743.6 L165.0,743.4 L165.2,743.6 L165.5,743.5 L165.7,744.0 L166.0,743.4 L166.2,743.5 L166.5,743.7 L166.7,743.8 L167.0,743.3 L167.2,743.7 L167.5,743.8 L167.7,743.4 L168.0,743.7 L168.2,743.6 L168.5,743.5 L168.7,743.6 L169.0,743.6 L169.2,743.4 L169.5,744.0 L169.7,743.6 L170.0,743.5 L170.2,743.8 L170.5,743.6 L170.7,743.9 L171.0,743.6 L171.2,743.7 L171.5,743.7 L171.7,743.7 L172.0,743.6 L172.2,743.7 L172.5,743.9 L172.7,743.6 L173.0,743.6 L173.2,743.6 L173.5,743.8 L173.7,743.7 L174.0,743.8 L174.2,743.5 L174.5,743.7 L174.7,743.7 L175.0,743.7 L175.2,743.7 L175.5,743.4 L175.7,743.7 L176.0,743.7 L176.2,743.5 L176.5,743.7 L176.7,743.9 L177.0,743.7 L177.2,743.8 L177.5,743.7 L177.7,743.6 L178.0,743.6 L178.2,743.7 L178.5,743.9 L178.7,743.9 L179.0,743.6 L179.2,743.9 L179.5,743.7 L179.7,743.6 L180.0,743.8 L180.2,743.6 L180.5,743.5 L180.7,743.9 L181.0,743.5 L181.2,743.8 L181.5,743.5 L181.7,743.8 L182.0,743.7 L182.2,743.7 L182.5,743.4 L182.7,743.8 L183.0,743.8 L183.2,743.6 L183.5,743.8 L183.7,743.9 L184.0,743.7 L184.2,743.8 L184.5,743.6 L184.7,743.8 L185.0,743.9 L185.2,744.2 L185.5,743.9 L185.7,743.9 L186.0,744.0 L186.2,743.6 L186.5,744.0 L186.7,743.7 L187.0,743.7 L187.2,744.0 L187.5,743.8 L187.7,744.0 L187.9,743.6 L188.2,743.8 L188.4,743.7 L188.7,743.8 L188.9,743.5 L189.2,744.0 L189.4,743.8 L189.7,743.7 L189.9,743.6 L190.2,743.7 L190.4,744.0 L190.7,743.8 L190.9,743.8 L191.2,743.9 L191.4,743.8 L191.7,743.9 L191.9,743.9 L192.2,743.9 L192.4,744.0 L192.7,743.7 L192.9,743.9 L193.2,743.8 L193.4,743.9 L193.7,743.8 L193.9,743.8 L194.2,743.8 L194.4,744.0 L194.7,743.8 L194.9,743.7 L195.2,743.9 L195.4,744.0 L195.7,743.8 L195.9,743.9 L196.2,743.7 L196.4,743.8 L196.7,744.0 L196.9,744.0 L197.2,743.9 L197.4,743.8 L197.7,743.6 L197.9,743.9 L198.2,743.9 L198.4,744.0 L198.7,744.2 L198.9,743.9 L199.2,744.0 L199.4,743.7 L199.7,744.1 L199.9,744.0 L200.2,744.1 L200.4,744.0 L200.7,744.0 L200.9,744.1 L201.2,743.8 L201.4,744.0 L201.7,744.1 L201.9,743.8 L202.2,743.7 L202.4,744.0 L202.7,743.9 L202.9,744.0 L203.2,744.0 L203.4,743.8 L203.7,744.0 L203.9,744.1 L204.2,743.9 L204.4,743.9 L204.7,743.8 L204.9,744.0 L205.2,744.2 L205.4,743.7 L205.7,744.0 L205.9,744.1 L206.2,743.8 L206.4,743.9 L206.7,743.8 L206.9,743.8 L207.2,744.0 L207.4,744.0 L207.7,744.0 L207.9,744.1 L208.2,744.0 L208.4,743.8 L208.7,744.2 L208.9,744.1 L209.2,743.8 L209.4,744.2 L209.7,744.0 L209.9,744.0 L210.2,744.2 L210.4,743.6 L210.7,743.7 L210.9,744.1 L211.2,743.9 L211.4,743.8 L211.7,744.2 L211.9,744.0 L212.2,743.8 L212.4,743.9" stroke="#4d86c8" stroke-width="0.9" fill="none" stroke-linejoin="round"/>
<line x1="121" y1="643.7" x2="121" y2="666" stroke="#d04860" stroke-width="0.8" opacity="0.8"/>
<line x1="124.2" y1="665" x2="124.2" y2="687.8" stroke="#f8b890" stroke-width="1.0" opacity="0.9"/>
<line x1="125.9" y1="695.8" x2="125.9" y2="709" stroke="#a8c8e8" stroke-width="1.0"/>
<rect x="38.0" y="607.7" width="174.4" height="143.0999999999999" fill="none" stroke="#333" stroke-width="1.1"/>
<line x1="38.0" y1="750.8" x2="38.0" y2="753.8" stroke="#333" stroke-width="1.1"/>
<text x="38.0" y="762.3" font-size="10" text-anchor="middle" fill="#222" font-weight="normal">50</text>
<line x1="81.6" y1="750.8" x2="81.6" y2="753.8" stroke="#333" stroke-width="1.1"/>
<text x="81.6" y="762.3" font-size="10" text-anchor="middle" fill="#222" font-weight="normal">25</text>
<line x1="125.2" y1="750.8" x2="125.2" y2="753.8" stroke="#333" stroke-width="1.1"/>
<text x="125.2" y="762.3" font-size="10" text-anchor="middle" fill="#222" font-weight="normal">0</text>
<line x1="168.8" y1="750.8" x2="168.8" y2="753.8" stroke="#333" stroke-width="1.1"/>
<text x="168.8" y="762.3" font-size="10" text-anchor="middle" fill="#222" font-weight="normal">−25</text>
<line x1="212.4" y1="750.8" x2="212.4" y2="753.8" stroke="#333" stroke-width="1.1"/>
<text x="212.4" y="762.3" font-size="10" text-anchor="middle" fill="#222" font-weight="normal">−50</text>
<line x1="59.8" y1="750.8" x2="59.8" y2="752.8" stroke="#333" stroke-width="1"/>
<line x1="103.4" y1="750.8" x2="103.4" y2="752.8" stroke="#333" stroke-width="1"/>
<line x1="147.0" y1="750.8" x2="147.0" y2="752.8" stroke="#333" stroke-width="1"/>
<line x1="190.6" y1="750.8" x2="190.6" y2="752.8" stroke="#333" stroke-width="1"/>
<line x1="40.1" y1="613.3" x2="57.6" y2="613.3" stroke="#d04860" stroke-width="0.9"/>
<line x1="40.1" y1="624.4" x2="57.6" y2="624.4" stroke="#f8a878" stroke-width="0.9"/>
<line x1="40.1" y1="635.7" x2="57.6" y2="635.7" stroke="#88bce4" stroke-width="0.9"/>
<text x="59.6" y="616.7" font-size="7.7" text-anchor="start" fill="#222" font-weight="normal">Zw + 3 m Zn(ClO<tspan font-size="5.2" baseline-shift="-1.69">4</tspan>)<tspan font-size="5.2" baseline-shift="-1.69">2</tspan> 40% Maltose (CZHE)</text>
<text x="59.6" y="628.4" font-size="7.7" text-anchor="start" fill="#222" font-weight="normal">3 m Zn(ClO<tspan font-size="5.2" baseline-shift="-1.69">4</tspan>)<tspan font-size="5.2" baseline-shift="-1.69">2</tspan> 40% Maltose (LE)</text>
<text x="59.6" y="639.3" font-size="7.7" text-anchor="start" fill="#222" font-weight="normal">3 m Zn(ClO<tspan font-size="5.2" baseline-shift="-1.69">4</tspan>)<tspan font-size="5.2" baseline-shift="-1.69">2</tspan></text>
<text x="97.2" y="650.7" font-size="9.2" text-anchor="start" fill="#d03a55" font-weight="normal">2.65</text>
<text x="135" y="685.2" font-size="9.2" text-anchor="start" fill="#f8a060" font-weight="normal">0.58</text>
<text x="135.9" y="735.7" font-size="9.2" text-anchor="start" fill="#4d86c8" font-weight="normal">-0.52</text>
<text x="2.0" y="625.1" font-size="19" text-anchor="start" fill="#222" font-weight="normal">f</text>
<text x="125.0" y="779.1" font-size="11.65" text-anchor="middle" fill="#222" font-weight="normal">Chemical shift (ppm)</text>
<text x="31.2" y="678.6" font-size="11.65" text-anchor="middle" fill="#222" font-weight="normal" transform="rotate(-90 31.2 678.6)">Intensitiy (arb. units)</text>
<rect x="245.5" y="221.7" width="168.2" height="328.8" fill="url(#gbg)" stroke="none" stroke-width="1"/>
<line x1="245.5" y1="302" x2="413.7" y2="302" stroke="#f03a3a" stroke-width="0.8" stroke-dasharray="2.6 1.8"/>
<line x1="245.5" y1="377.4" x2="413.7" y2="377.4" stroke="#f03a3a" stroke-width="0.8" stroke-dasharray="2.6 1.8"/>
<line x1="245.5" y1="463.5" x2="413.7" y2="463.5" stroke="#f03a3a" stroke-width="0.8" stroke-dasharray="2.6 1.8"/>
<rect x="325.4" y="221.7" width="14.4" height="315.2" fill="url(#garr)" stroke="none" stroke-width="1"/>
<path d="M321.1,536.8 L343.5,536.8 L332.4,550.4 Z" stroke="none" stroke-width="1" fill="#f85656"/>
<text x="336.2" y="368.2" font-size="13.6" text-anchor="middle" fill="#111" font-weight="normal" transform="rotate(-90 336.2 368.2)">Maltose concentration</text>
<rect x="230" y="215" width="17.9" height="23.6" fill="#fff"/>
<text x="238.2" y="233" font-size="19" text-anchor="start" fill="#222" font-weight="normal">g</text>
<text x="281.3" y="236" font-size="9.2" text-anchor="middle" fill="#222" font-weight="normal">Liquid</text>
<text x="377.4" y="236" font-size="9.2" text-anchor="middle" fill="#222" font-weight="normal">Zw gel</text>
<circle cx="286.8" cy="267.5" r="14.5" fill="none" stroke="#f01c24" stroke-width="1.4" stroke-dasharray="3.4 2" opacity="1.0"/>
<circle cx="287.3" cy="259.1" r="4.0" fill="url(#gB)" stroke="#3c9ccf" stroke-width="0.5"/>
<circle cx="281.3" cy="272.8" r="4.0" fill="url(#gB)" stroke="#3c9ccf" stroke-width="0.5"/>
<circle cx="293.9" cy="271" r="4.0" fill="url(#gR)" stroke="#a43848" stroke-width="0.5"/>
<circle cx="376.1" cy="267.5" r="14.5" fill="none" stroke="#f01c24" stroke-width="1.4" stroke-dasharray="3.4 2" opacity="1.0"/>
<circle cx="368.7" cy="264.1" r="4.0" fill="url(#gB)" stroke="#3c9ccf" stroke-width="0.5"/>
<circle cx="384" cy="264.1" r="4.0" fill="url(#gB)" stroke="#3c9ccf" stroke-width="0.5"/>
<circle cx="375.3" cy="275.4" r="4.0" fill="url(#gR)" stroke="#a43848" stroke-width="0.5"/>
<path d="M346.5,243 Q362,268 345.6,294.5" stroke="#15295a" stroke-width="3.2" fill="none"/>
<path d="M405.5,243 Q391,268 405,294.5" stroke="#15295a" stroke-width="3.2" fill="none"/>
<line x1="345.6" y1="294" x2="346" y2="310" stroke="#eef0f4" stroke-width="3.2"/>
<line x1="405" y1="294" x2="405" y2="310" stroke="#eef0f4" stroke-width="3.2"/>
<circle cx="349.8" cy="251.8" r="4.9" fill="#ee1118" stroke="#fff" stroke-width="0.6"/>
<path d="M347.105,251.8 H352.495 M349.8,249.10500000000002 V254.495" stroke="#fff" stroke-width="1.2"/>
<circle cx="348.2" cy="283.8" r="4.9" fill="#111" stroke="#fff" stroke-width="0.6"/>
<path d="M345.505,283.8 H350.895" stroke="#fff" stroke-width="1.2"/>
<circle cx="402.9" cy="251.8" r="4.9" fill="#ee1118" stroke="#fff" stroke-width="0.6"/>
<path d="M400.205,251.8 H405.59499999999997 M402.9,249.10500000000002 V254.495" stroke="#fff" stroke-width="1.2"/>
<circle cx="402.9" cy="283.8" r="4.9" fill="#111" stroke="#fff" stroke-width="0.6"/>
<path d="M400.205,283.8 H405.59499999999997" stroke="#fff" stroke-width="1.2"/>
<circle cx="286.8" cy="340.2" r="14.5" fill="none" stroke="#f01c24" stroke-width="1.4" stroke-dasharray="3.4 2" opacity="1.0"/>
<circle cx="287.3" cy="331.8" r="4.0" fill="url(#gB)" stroke="#3c9ccf" stroke-width="0.5"/>
<circle cx="281.3" cy="346.2" r="4.0" fill="url(#gB)" stroke="#3c9ccf" stroke-width="0.5"/>
<circle cx="293.9" cy="344.4" r="4.0" fill="url(#gR)" stroke="#a43848" stroke-width="0.5"/>
<circle cx="312.3" cy="354.1" r="7.5" fill="url(#gM)" stroke="#f6ad92" stroke-width="0.5"/>
<circle cx="377.2" cy="339.7" r="15" fill="none" stroke="#f01c24" stroke-width="0.8" stroke-dasharray="3.4 2" opacity="0.7"/>
<circle cx="382.7" cy="328.6" r="4.0" fill="url(#gB)" stroke="#3c9ccf" stroke-width="0.5"/>
<circle cx="368" cy="337.8" r="4.0" fill="url(#gB)" stroke="#3c9ccf" stroke-width="0.5"/>
<circle cx="386.6" cy="347.5" r="4.0" fill="url(#gR)" stroke="#a43848" stroke-width="0.5"/>
<circle cx="372.7" cy="354.1" r="7.5" fill="url(#gM)" stroke="#f6ad92" stroke-width="0.5"/>
<path d="M346,310 Q361,340 344.5,372" stroke="#15295a" stroke-width="3.2" fill="none"/>
<path d="M405,310 Q393,340 407.5,372" stroke="#15295a" stroke-width="3.2" fill="none"/>
<line x1="344.5" y1="371.5" x2="346" y2="384" stroke="#eef0f4" stroke-width="3.2"/>
<line x1="407.5" y1="371.5" x2="409" y2="384" stroke="#eef0f4" stroke-width="3.2"/>
<circle cx="350.4" cy="322.1" r="4.9" fill="#ee1118" stroke="#fff" stroke-width="0.6"/>
<path d="M347.705,322.1 H353.09499999999997 M350.4,319.40500000000003 V324.795" stroke="#fff" stroke-width="1.2"/>
<circle cx="346.4" cy="352.3" r="4.9" fill="#111" stroke="#fff" stroke-width="0.6"/>
<path d="M343.705,352.3 H349.09499999999997" stroke="#fff" stroke-width="1.2"/>
<circle cx="402.4" cy="321.3" r="4.9" fill="#ee1118" stroke="#fff" stroke-width="0.6"/>
<path d="M399.705,321.3 H405.09499999999997 M402.4,318.605 V323.995" stroke="#fff" stroke-width="1.2"/>
<circle cx="406.3" cy="351" r="4.9" fill="#111" stroke="#fff" stroke-width="0.6"/>
<path d="M403.605,351 H408.995" stroke="#fff" stroke-width="1.2"/>
<circle cx="268.1" cy="393.6" r="7.5" fill="url(#gM)" stroke="#f6ad92" stroke-width="0.5"/>
<circle cx="315.7" cy="416.8" r="7.5" fill="url(#gM)" stroke="#f6ad92" stroke-width="0.5"/>
<circle cx="272.1" cy="437" r="7.5" fill="url(#gM)" stroke="#f6ad92" stroke-width="0.5"/>
<circle cx="287.3" cy="413.4" r="14.5" fill="none" stroke="#f01c24" stroke-width="1.4" stroke-dasharray="3.4 2" opacity="1.0"/>
<circle cx="287.8" cy="405" r="4.0" fill="url(#gB)" stroke="#3c9ccf" stroke-width="0.5"/>
<circle cx="282" cy="419.1" r="4.0" fill="url(#gB)" stroke="#3c9ccf" stroke-width="0.5"/>
<circle cx="294.4" cy="417.3" r="4.0" fill="url(#gR)" stroke="#a43848" stroke-width="0.5"/>
<circle cx="377.5" cy="415" r="19" fill="none" stroke="#f01c24" stroke-width="0.8" stroke-dasharray="3.4 2" opacity="0.45"/>
<circle cx="379.8" cy="396.3" r="7.5" fill="url(#gM)" stroke="#f6ad92" stroke-width="0.5"/>
<circle cx="368.2" cy="433" r="7.5" fill="url(#gM)" stroke="#f6ad92" stroke-width="0.5"/>
<circle cx="391.1" cy="447.5" r="7.5" fill="url(#gM)" stroke="#f6ad92" stroke-width="0.5"/>
<circle cx="362.2" cy="418.1" r="4.0" fill="url(#gB)" stroke="#3c9ccf" stroke-width="0.5"/>
<circle cx="388.4" cy="409.4" r="4.0" fill="url(#gB)" stroke="#3c9ccf" stroke-width="0.5"/>
<circle cx="385" cy="431" r="4.0" fill="url(#gR)" stroke="#a43848" stroke-width="0.5"/>
<path d="M346,384 C356,398 354,415 346,432 L345.5,454" stroke="#15295a" stroke-width="3.2" fill="none"/>
<path d="M409,384 C398,398 398,415 407.4,430.4 L410.5,454" stroke="#15295a" stroke-width="3.2" fill="none"/>
<line x1="345.5" y1="453.5" x2="352" y2="472" stroke="#eef0f4" stroke-width="3.2"/>
<line x1="410.5" y1="453.5" x2="402.5" y2="472" stroke="#eef0f4" stroke-width="3.2"/>
<circle cx="352.5" cy="401.5" r="4.9" fill="#ee1118" stroke="#fff" stroke-width="0.6"/>
<path d="M349.805,401.5 H355.195 M352.5,398.805 V404.195" stroke="#fff" stroke-width="1.2"/>
<circle cx="345.6" cy="432.3" r="4.9" fill="#111" stroke="#fff" stroke-width="0.6"/>
<path d="M342.90500000000003,432.3 H348.295" stroke="#fff" stroke-width="1.2"/>
<circle cx="401.6" cy="400.2" r="4.9" fill="#ee1118" stroke="#fff" stroke-width="0.6"/>
<path d="M398.90500000000003,400.2 H404.295 M401.6,397.505 V402.895" stroke="#fff" stroke-width="1.2"/>
<circle cx="407.4" cy="430.4" r="4.9" fill="#111" stroke="#fff" stroke-width="0.6"/>
<path d="M404.705,430.4 H410.09499999999997" stroke="#fff" stroke-width="1.2"/>
<circle cx="265" cy="492.3" r="7.5" fill="url(#gM)" stroke="#f6ad92" stroke-width="0.5"/>
<circle cx="297.8" cy="482.1" r="7.5" fill="url(#gM)" stroke="#f6ad92" stroke-width="0.5"/>
<circle cx="314.4" cy="505.4" r="7.5" fill="url(#gM)" stroke="#f6ad92" stroke-width="0.5"/>
<circle cx="268.4" cy="526.5" r="7.5" fill="url(#gM)" stroke="#f6ad92" stroke-width="0.5"/>
<circle cx="303.6" cy="529.9" r="7.5" fill="url(#gM)" stroke="#f6ad92" stroke-width="0.5"/>
<circle cx="286.8" cy="507.5" r="14.5" fill="none" stroke="#f01c24" stroke-width="1.4" stroke-dasharray="3.4 2" opacity="1.0"/>
<circle cx="287.3" cy="498.9" r="4.0" fill="url(#gB)" stroke="#3c9ccf" stroke-width="0.5"/>
<circle cx="281.3" cy="512.8" r="4.0" fill="url(#gB)" stroke="#3c9ccf" stroke-width="0.5"/>
<circle cx="293.9" cy="511" r="4.0" fill="url(#gR)" stroke="#a43848" stroke-width="0.5"/>
<circle cx="375.3" cy="483.9" r="7.5" fill="url(#gM)" stroke="#f6ad92" stroke-width="0.5"/>
<circle cx="370.8" cy="502.3" r="7.5" fill="url(#gM)" stroke="#f6ad92" stroke-width="0.5"/>
<circle cx="398.4" cy="508.9" r="7.5" fill="url(#gM)" stroke="#f6ad92" stroke-width="0.5"/>
<circle cx="380" cy="518.8" r="7.5" fill="url(#gM)" stroke="#f6ad92" stroke-width="0.5"/>
<circle cx="360.3" cy="526.5" r="7.5" fill="url(#gM)" stroke="#f6ad92" stroke-width="0.5"/>
<path d="M352,472 C351.6,474.4 351.1,481.7 349.8,486.5 C348.5,491.3 345.3,496.4 344.2,501.0 C343.1,505.6 343.0,509.8 343.2,514.0 C343.4,518.2 344.5,522.7 345.5,526.0 C346.5,529.3 347.9,531.1 349.2,533.8 C350.5,536.5 352.8,540.6 353.5,542.0" stroke="#15295a" stroke-width="3.2" fill="none" stroke-linecap="butt"/>
<path d="M402.5,472 C402.6,474.3 402.2,481.3 403.4,486.0 C404.6,490.7 408.1,495.5 409.5,500.0 C410.9,504.5 411.9,509.3 412.1,513.0 C412.3,516.7 411.3,519.3 410.5,522.0 C409.7,524.7 408.7,525.8 407.2,529.1 C405.7,532.4 402.4,539.9 401.5,542.0" stroke="#15295a" stroke-width="3.2" fill="none" stroke-linecap="butt"/>
<line x1="349.8" y1="489" x2="354" y2="501" stroke="#f01010" stroke-width="1.5" stroke-dasharray="1.4 1.4"/>
<circle cx="354.3" cy="504.9" r="4.0" fill="url(#gB)" stroke="#3c9ccf" stroke-width="0.5"/>
<line x1="401" y1="488" x2="393" y2="494" stroke="#f01010" stroke-width="1.5" stroke-dasharray="1.4 1.4"/>
<circle cx="390.3" cy="495" r="4.0" fill="url(#gB)" stroke="#3c9ccf" stroke-width="0.5"/>
<line x1="403" y1="529.1" x2="395" y2="529.1" stroke="#f01010" stroke-width="1.5" stroke-dasharray="1.4 1.4"/>
<circle cx="391.1" cy="529.1" r="4.0" fill="url(#gR)" stroke="#a43848" stroke-width="0.5"/>
<circle cx="349.8" cy="486.5" r="4.9" fill="#ee1118" stroke="#fff" stroke-width="0.6"/>
<path d="M347.105,486.5 H352.495 M349.8,483.805 V489.195" stroke="#fff" stroke-width="1.2"/>
<circle cx="349" cy="533.8" r="4.9" fill="#111" stroke="#fff" stroke-width="0.6"/>
<path d="M346.305,533.8 H351.695" stroke="#fff" stroke-width="1.2"/>
<circle cx="403.4" cy="486" r="4.9" fill="#ee1118" stroke="#fff" stroke-width="0.6"/>
<path d="M400.705,486 H406.09499999999997 M403.4,483.305 V488.695" stroke="#fff" stroke-width="1.2"/>
<circle cx="407.4" cy="529.1" r="4.9" fill="#111" stroke="#fff" stroke-width="0.6"/>
<path d="M404.705,529.1 H410.09499999999997" stroke="#fff" stroke-width="1.2"/>
<text x="251.8" y="548.3" font-size="8.6" text-anchor="start" fill="#555" font-weight="normal">limited interaction</text>
<circle cx="251.8" cy="563.9" r="8.7" fill="url(#gR)" stroke="#a43848" stroke-width="0.5"/>
<circle cx="302.3" cy="563.9" r="8.7" fill="url(#gB)" stroke="#3c9ccf" stroke-width="0.5"/>
<circle cx="358.2" cy="563.4" r="11.8" fill="url(#gM)" stroke="#f6ad92" stroke-width="0.5"/>
<text x="265" y="567.3" font-size="9" text-anchor="start" fill="#222" font-weight="normal">Zn<tspan font-size="6.1" baseline-shift="3.42">2+</tspan></text>
<text x="316.2" y="567.3" font-size="9" text-anchor="start" fill="#222" font-weight="normal">ClO<tspan font-size="6.1" baseline-shift="-1.98">4</tspan><tspan font-size="6.1" baseline-shift="3.42">-</tspan></text>
<text x="376.1" y="567.3" font-size="9.4" text-anchor="start" fill="#222" font-weight="normal">Maltose</text>
<path d="M259.7,581.8 C265,590 271,595.5 278.1,594.9 C287,594 295,585 303,584.4 C310,584 315,584.8 320.9,585.7 C329,587 335,591 341.2,594.9" stroke="#15295a" stroke-width="2.5" fill="none"/>
<circle cx="278.1" cy="594.9" r="4.6" fill="#ee1118" stroke="#fff" stroke-width="0.6"/>
<path d="M275.57000000000005,594.9 H280.63 M278.1,592.37 V597.43" stroke="#fff" stroke-width="1.2"/>
<circle cx="320.9" cy="585.7" r="4.6" fill="#111" stroke="#fff" stroke-width="0.6"/>
<path d="M318.37,585.7 H323.42999999999995" stroke="#fff" stroke-width="1.2"/>
<text x="352.5" y="594.9" font-size="9.5" text-anchor="start" fill="#222" font-weight="normal">Zw chains</text>
<path d="M259,607.5 L390.6,607.5 Q428.6,607.5 428.6,645.5 L428.6,738.2 Q428.6,776.2 390.6,776.2 L259,776.2 Q220.8,776.2 220.8,738.2 L220.8,645.5 Q220.8,607.5 259,607.5 Z" stroke="#1a2b5c" stroke-width="1.5" fill="none" stroke-dasharray="4.6 3.6"/>
<text x="242.0" y="627.7" font-size="19" text-anchor="start" fill="#222" font-weight="normal">h</text>
<path d="M252.89999999999998,637.8000000000001 C251.4,638.4 246.5,639.7 244.2,641.2 C241.8,642.8 240.0,644.2 238.8,647.1 C237.6,650.0 236.5,654.6 236.9,658.3 C237.3,662.0 240.0,666.0 241.2,669.2 C242.4,672.4 243.9,674.7 244.1,677.6 C244.3,680.5 243.7,683.0 242.5,686.4 C241.3,689.8 239.2,694.3 237.2,698.2 C235.2,702.1 231.5,707.8 230.4,709.7" stroke="#000" stroke-width="3.8" fill="none" stroke-linecap="butt" opacity="0.12"/>
<path d="M251.7,636.6 C250.2,637.2 245.3,638.5 243.0,640.0 C240.7,641.5 238.8,643.0 237.6,645.9 C236.4,648.8 235.3,653.4 235.7,657.1 C236.1,660.8 238.8,664.8 240.0,668.0 C241.2,671.2 242.7,673.5 242.9,676.4 C243.1,679.3 242.5,681.8 241.3,685.2 C240.2,688.6 238.0,693.1 236.0,697.0 C234.0,700.9 230.3,706.6 229.2,708.5" stroke="#15295a" stroke-width="2.8" fill="none" stroke-linecap="butt"/>
<path d="M306.4,637.4000000000001 C304.7,638.4 298.8,640.7 296.2,643.2 C293.6,645.7 291.9,649.1 291.1,652.4 C290.3,655.7 290.4,659.9 291.2,663.2 C292.0,666.5 294.7,669.5 295.7,672.2 C296.7,674.9 297.6,676.0 297.4,679.2 C297.2,682.4 296.1,687.7 294.7,691.2 C293.2,694.7 290.7,697.2 288.7,700.2 C286.7,703.2 283.6,707.5 282.6,708.9" stroke="#000" stroke-width="3.8" fill="none" stroke-linecap="butt" opacity="0.12"/>
<path d="M305.2,636.2 C303.5,637.2 297.6,639.5 295.0,642.0 C292.4,644.5 290.7,647.9 289.9,651.2 C289.1,654.5 289.2,658.7 290.0,662.0 C290.8,665.3 293.5,668.3 294.5,671.0 C295.5,673.7 296.4,674.8 296.2,678.0 C296.0,681.2 294.9,686.5 293.5,690.0 C292.1,693.5 289.5,696.0 287.5,699.0 C285.5,702.0 282.4,706.2 281.4,707.7" stroke="#15295a" stroke-width="2.8" fill="none" stroke-linecap="butt"/>
<circle cx="237.6" cy="645.9" r="4.8" fill="#ee1118" stroke="#fff" stroke-width="0.6"/>
<path d="M234.96,645.9 H240.23999999999998 M237.6,643.26 V648.54" stroke="#fff" stroke-width="1.2"/>
<circle cx="241.3" cy="685.2" r="4.8" fill="#111" stroke="#fff" stroke-width="0.6"/>
<path d="M238.66000000000003,685.2 H243.94" stroke="#fff" stroke-width="1.2"/>
<circle cx="289.9" cy="651.2" r="4.8" fill="#ee1118" stroke="#fff" stroke-width="0.6"/>
<path d="M287.26,651.2 H292.53999999999996 M289.9,648.5600000000001 V653.84" stroke="#fff" stroke-width="1.2"/>
<circle cx="293.5" cy="690" r="4.8" fill="#111" stroke="#fff" stroke-width="0.6"/>
<path d="M290.86,690 H296.14" stroke="#fff" stroke-width="1.2"/>
<circle cx="263" cy="667.6" r="12.5" fill="none" stroke="#f01c24" stroke-width="1.1" stroke-dasharray="3.4 2" opacity="1.0"/>
<circle cx="264.1" cy="660.3" r="3.8" fill="url(#gB)" stroke="#3c9ccf" stroke-width="0.5"/>
<circle cx="258.6" cy="672.9" r="3.8" fill="url(#gB)" stroke="#3c9ccf" stroke-width="0.5"/>
<circle cx="269.7" cy="671.3" r="3.8" fill="url(#gR)" stroke="#a43848" stroke-width="0.5"/>
<text x="230.8" y="726.5" font-size="9.5" text-anchor="start" fill="#222" font-weight="normal">limited movement</text>
<text x="300.7" y="647.7" font-size="8.3" text-anchor="start" fill="#222" font-weight="normal">Add maltose</text>
<circle cx="321.6" cy="657.9" r="6.1" fill="url(#gM)" stroke="#f6ad92" stroke-width="0.5"/>
<path d="M301.5,667 L336,663 L335,659.8 L348.8,667 L335,674.2 L336,671 Z" stroke="none" stroke-width="1" fill="url(#gblue)"/>
<text x="305.8" y="679.3" font-size="8.3" text-anchor="start" fill="#222" font-weight="normal">Induction</text>
<ellipse cx="350" cy="664" rx="12" ry="16" fill="url(#gglow)"/>
<ellipse cx="412" cy="664" rx="12" ry="16" fill="url(#gglow)"/>
<ellipse cx="381" cy="700" rx="12" ry="8" fill="url(#gglow)"/>
<ellipse cx="372" cy="699" rx="10" ry="7" fill="url(#gglow)"/>
<path d="M343,632 Q346,650 356,655.5 L355,651.5 L362,659 L352.5,662 L354,658.5 Q341,652 338,634 Z" stroke="none" stroke-width="1" fill="url(#gpkL)"/>
<path d="M343,688 Q347,672 358,668 L357,672 L364.5,666 L355,662 L355.5,665.5 Q341,669 338,686 Z" stroke="none" stroke-width="1" fill="url(#gpkL)"/>
<path d="M420,632 Q417,650 405,655.5 L406,651.5 L398.6,658 L408.5,662 L407,658.5 Q421,652 425,634 Z" stroke="none" stroke-width="1" fill="url(#gpkR)"/>
<path d="M420,688 Q416,672 404,668 L405,672 L397.5,666 L407,662 L406.5,665.5 Q421,669 425,686 Z" stroke="none" stroke-width="1" fill="url(#gpkR)"/>
<line x1="336" y1="705" x2="372" y2="697" stroke="#c8c8c8" stroke-width="0.6"/>
<line x1="340" y1="708" x2="372" y2="697" stroke="#c8c8c8" stroke-width="0.6"/>
<line x1="345" y1="707" x2="372" y2="697" stroke="#c8c8c8" stroke-width="0.6"/>
<path d="M378.2,630.0 C376.7,630.5 371.8,631.8 369.2,633.2 C366.6,634.7 363.5,636.5 362.6,638.7 C361.7,640.9 363.0,643.1 363.6,646.2 C364.2,649.3 365.1,653.3 366.2,657.2 C367.2,661.1 369.7,665.0 369.9,669.4 C370.1,673.8 368.8,679.9 367.4,683.7 C365.9,687.5 363.2,689.5 361.2,692.2 C359.2,694.9 356.3,698.7 355.3,700.0" stroke="#000" stroke-width="3.8" fill="none" stroke-linecap="butt" opacity="0.12"/>
<path d="M377,628.8 C375.5,629.3 370.6,630.5 368.0,632.0 C365.4,633.5 362.3,635.3 361.4,637.5 C360.5,639.7 361.8,641.9 362.4,645.0 C363.0,648.1 363.9,652.1 365.0,656.0 C366.1,659.9 368.5,663.8 368.7,668.2 C368.9,672.6 367.6,678.7 366.2,682.5 C364.8,686.3 362.0,688.3 360.0,691.0 C358.0,693.7 355.1,697.5 354.1,698.8" stroke="#15295a" stroke-width="2.8" fill="none" stroke-linecap="butt"/>
<path d="M407.4,630.0 C405.9,630.5 400.7,632.0 398.2,633.2 C395.7,634.4 393.5,635.0 392.5,637.2 C391.5,639.4 391.8,642.9 392.2,646.2 C392.6,649.5 394.1,653.3 395.2,657.2 C396.3,661.1 399.0,665.1 399.1,669.4 C399.2,673.7 397.5,679.4 395.9,683.2 C394.2,687.0 391.2,689.3 389.2,692.2 C387.2,695.1 384.7,699.4 383.8,700.8" stroke="#000" stroke-width="3.8" fill="none" stroke-linecap="butt" opacity="0.12"/>
<path d="M406.2,628.8 C404.7,629.3 399.5,630.8 397.0,632.0 C394.5,633.2 392.3,633.8 391.3,636.0 C390.3,638.2 390.6,641.7 391.0,645.0 C391.4,648.3 392.9,652.1 394.0,656.0 C395.1,659.9 397.8,663.9 397.9,668.2 C398.0,672.5 396.3,678.2 394.7,682.0 C393.1,685.8 390.0,688.1 388.0,691.0 C386.0,693.9 383.5,698.2 382.6,699.6" stroke="#15295a" stroke-width="2.8" fill="none" stroke-linecap="butt"/>
<circle cx="384" cy="636.8" r="3.5" fill="url(#gB)" stroke="#3c9ccf" stroke-width="0.5"/>
<circle cx="371.3" cy="649.2" r="3.5" fill="url(#gB)" stroke="#3c9ccf" stroke-width="0.5"/>
<circle cx="381.1" cy="662.3" r="9.5" fill="url(#gM)" stroke="#f6ad92" stroke-width="0.5"/>
<path d="M377,659 l2,1.2 l-2,1.2 M385.5,659 l-2,1.2 l2,1.2" stroke="#444" stroke-width="0.5" fill="none"/>
<ellipse cx="381.5" cy="665.5" rx="0.8" ry="1" fill="#555"/>
<path d="M366.5,658 L370,655 L373,662" stroke="#e81010" stroke-width="0.9" fill="none"/>
<path d="M396,658 L392.5,655 L389.5,662" stroke="#e81010" stroke-width="0.9" fill="none"/>
<circle cx="362.4" cy="643.4" r="4.6" fill="#ee1118" stroke="#fff" stroke-width="0.6"/>
<path d="M359.87,643.4 H364.92999999999995 M362.4,640.87 V645.93" stroke="#fff" stroke-width="1.2"/>
<circle cx="391" cy="643.1" r="4.6" fill="#ee1118" stroke="#fff" stroke-width="0.6"/>
<path d="M388.47,643.1 H393.53 M391,640.57 V645.63" stroke="#fff" stroke-width="1.2"/>
<circle cx="366.2" cy="682.5" r="4.6" fill="#111" stroke="#fff" stroke-width="0.6"/>
<path d="M363.67,682.5 H368.72999999999996" stroke="#fff" stroke-width="1.2"/>
<circle cx="394.7" cy="682" r="4.6" fill="#111" stroke="#fff" stroke-width="0.6"/>
<path d="M392.17,682 H397.22999999999996" stroke="#fff" stroke-width="1.2"/>
<path d="M335.8,696.6 Q365,685 401.5,690" stroke="#f01010" stroke-width="2.4" fill="none" stroke-dasharray="2.6 2.2"/>
<path d="M404.5,685.7 L417.6,693.7 L404.5,697 Z" stroke="none" stroke-width="1" fill="#f01010"/>
<circle cx="374.8" cy="698.8" r="3.6" fill="url(#gR)" stroke="#a43848" stroke-width="0.5"/>
<text x="352.4" y="725.3" font-size="9.5" text-anchor="start" fill="#f01010" font-weight="normal">Ion highway</text>
<text x="237.8" y="763.8" font-size="9.4" text-anchor="start" fill="#222" font-weight="normal">Covalent-like hydrogen bond bridging</text>
<g clip-path="url(#clipI)">
<path d="M477.0,359.8 L477.3,359.8 L477.6,359.8 L477.9,359.8 L478.2,359.8 L478.5,359.8 L478.8,359.8 L479.1,359.8 L479.3,359.8 L479.6,359.8 L479.9,359.8 L480.2,359.8 L480.5,359.8 L480.8,359.8 L481.1,359.8 L481.4,359.8 L481.7,359.8 L482.0,359.8 L482.3,359.8 L482.6,359.8 L482.9,359.8 L483.2,359.8 L483.5,359.8 L483.8,359.8 L484.0,359.8 L484.3,359.8 L484.6,359.8 L484.9,359.8 L485.2,359.8 L485.5,359.8 L485.8,359.8 L486.1,359.8 L486.4,359.8 L486.7,359.8 L487.0,359.8 L487.3,359.8 L487.6,359.8 L487.9,359.8 L488.2,359.8 L488.4,359.8 L488.7,359.8 L489.0,359.8 L489.3,359.8 L489.6,359.8 L489.9,359.8 L490.2,359.8 L490.5,359.8 L490.8,359.8 L491.1,359.8 L491.4,359.8 L491.7,359.8 L492.0,359.8 L492.3,359.8 L492.6,359.8 L492.8,359.8 L493.1,359.8 L493.4,359.8 L493.7,359.8 L494.0,359.8 L494.3,359.8 L494.6,359.8 L494.9,359.8 L495.2,359.8 L495.5,359.8 L495.8,359.8 L496.1,359.8 L496.4,359.8 L496.7,359.8 L497.0,359.8 L497.2,359.8 L497.5,359.8 L497.8,359.8 L498.1,359.8 L498.4,359.8 L498.7,359.8 L499.0,359.8 L499.3,359.8 L499.6,359.8 L499.9,359.8 L500.2,359.8 L500.5,359.8 L500.8,359.8 L501.1,359.8 L501.4,359.8 L501.7,359.8 L501.9,359.8 L502.2,359.8 L502.5,359.8 L502.8,359.8 L503.1,359.8 L503.4,359.8 L503.7,359.8 L504.0,359.8 L504.3,359.8 L504.6,359.8 L504.9,359.8 L505.2,359.8 L505.5,359.8 L505.8,359.8 L506.1,359.8 L506.3,359.8 L506.6,359.8 L506.9,359.8 L507.2,359.8 L507.5,359.8 L507.8,359.8 L508.1,359.4 L508.4,358.8 L508.7,357.8 L509.0,356.6 L509.3,355.3 L509.6,353.6 L509.9,350.5 L510.2,345.9 L510.5,340.6 L510.8,335.0 L511.0,329.8 L511.3,325.3 L511.6,320.6 L511.9,315.6 L512.2,311.0 L512.5,307.1 L512.8,304.5 L513.1,303.5 L513.4,302.9 L513.7,302.3 L514.0,301.8 L514.3,301.4 L514.6,301.1 L514.9,300.8 L515.2,300.6 L515.4,300.5 L515.7,300.5 L516.0,300.5 L516.3,300.5 L516.6,300.5 L516.9,300.5 L517.2,300.5 L517.5,300.5 L517.8,300.5 L518.1,300.5 L518.4,300.5 L518.7,300.5 L519.0,300.5 L519.3,300.5 L519.6,300.5 L519.8,300.5 L520.1,300.5 L520.4,300.5 L520.7,300.5 L521.0,300.5 L521.3,300.5 L521.6,300.5 L521.9,300.5 L522.2,300.5 L522.5,300.5 L522.8,300.5 L523.1,300.5 L523.4,300.5 L523.7,300.5 L524.0,300.5 L524.2,300.5 L524.5,300.5 L524.8,300.5 L525.1,300.5 L525.4,300.5 L525.7,300.5 L526.0,300.5 L526.3,300.5 L526.6,300.5 L526.9,300.5 L527.2,300.5 L527.5,300.5 L527.8,300.5 L528.1,300.5 L528.4,300.5 L528.7,300.5 L528.9,300.5 L529.2,300.5 L529.5,300.5 L529.8,300.5 L530.1,300.5 L530.4,300.5 L530.7,300.5 L531.0,300.5 L531.3,300.5 L531.6,300.5 L531.9,300.5 L532.2,300.5 L532.5,300.5 L532.8,300.5 L533.1,300.5 L533.3,300.5 L533.6,300.5 L533.9,300.5 L534.2,300.5 L534.5,300.5 L534.8,300.5 L535.1,300.5 L535.4,300.5 L535.7,300.5 L536.0,300.5 L536.3,300.5 L536.6,300.5 L536.9,300.5 L537.2,300.5 L537.5,300.5 L537.8,300.5 L538.0,300.5 L538.3,300.5 L538.6,300.5 L538.9,300.5 L539.2,300.4 L539.5,300.3 L539.8,300.1 L540.1,300.0 L540.4,299.8 L540.7,299.5 L541.0,299.3 L541.3,299.0 L541.6,298.7 L541.9,298.4 L542.2,298.0 L542.4,297.2 L542.7,296.1 L543.0,294.7 L543.3,293.1 L543.6,291.5 L543.9,289.7 L544.2,288.0 L544.5,286.3 L544.8,284.7 L545.1,283.3 L545.4,282.1 L545.7,280.9 L546.0,279.7 L546.3,278.6 L546.6,277.4 L546.8,276.3 L547.1,275.2 L547.4,274.1 L547.7,273.0 L548.0,271.9 L548.3,270.8 L548.6,269.6 L548.9,268.5 L549.2,267.3 L549.5,266.1 L549.8,265.0 L550.1,263.8 L550.4,262.6 L550.7,261.4 L551.0,260.3 L551.2,259.1 L551.5,257.9 L551.8,256.7 L552.1,255.5 L552.4,254.3 L552.7,253.1 L553.0,251.9 L553.3,250.7 L553.6,249.5 L553.9,248.2 L554.2,247.0 L554.5,245.7 L554.8,244.4 L555.1,243.2 L555.4,241.9 L555.7,240.6 L555.9,239.3 L556.2,238.0 L556.5,236.8 L556.8,235.5 L557.1,234.2 L557.4,232.9 L557.7,231.6 L558.0,230.3 L558.3,229.1 L558.6,227.8 L558.9,226.6 L559.2,225.3 L559.5,224.1 L559.8,222.9 L560.1,221.7 L560.3,220.4 L560.6,219.2 L560.9,218.0 L561.2,216.8 L561.5,215.6 L561.8,214.4 L562.1,213.2 L562.4,212.1 L562.7,210.9 L563.0,209.7 L563.3,208.5 L563.6,207.3 L563.9,206.2 L564.2,205.0 L564.5,203.9 L564.8,202.7" stroke="#1f3f80" stroke-width="1.2" fill="none" stroke-dasharray="2.4 1.6"/>
<path d="M477.0,359.8 L477.3,359.8 L477.7,359.8 L478.0,359.8 L478.4,359.8 L478.7,359.8 L479.0,359.8 L479.4,359.8 L479.7,359.8 L480.1,359.8 L480.4,359.8 L480.7,359.8 L481.1,359.8 L481.4,359.8 L481.8,359.8 L482.1,359.8 L482.4,359.8 L482.8,359.8 L483.1,359.8 L483.5,359.8 L483.8,359.8 L484.1,359.8 L484.5,359.8 L484.8,359.8 L485.2,359.8 L485.5,359.8 L485.9,359.8 L486.2,359.8 L486.5,359.8 L486.9,359.8 L487.2,359.8 L487.6,359.8 L487.9,359.8 L488.2,359.8 L488.6,359.8 L488.9,359.8 L489.3,359.8 L489.6,359.8 L489.9,359.8 L490.3,359.8 L490.6,359.8 L491.0,359.8 L491.3,359.8 L491.6,359.8 L492.0,359.8 L492.3,359.8 L492.7,359.8 L493.0,359.8 L493.3,359.8 L493.7,359.8 L494.0,359.8 L494.4,359.8 L494.7,359.8 L495.0,359.8 L495.4,359.8 L495.7,359.8 L496.1,359.8 L496.4,359.8 L496.7,359.8 L497.1,359.8 L497.4,359.8 L497.8,359.8 L498.1,359.8 L498.4,359.8 L498.8,359.8 L499.1,359.8 L499.5,359.8 L499.8,359.8 L500.1,359.8 L500.5,359.8 L500.8,359.8 L501.2,359.8 L501.5,359.8 L501.9,359.8 L502.2,359.8 L502.5,359.8 L502.9,359.8 L503.2,359.8 L503.6,359.8 L503.9,359.8 L504.2,359.8 L504.6,359.8 L504.9,359.8 L505.3,359.8 L505.6,359.8 L505.9,359.8 L506.3,359.8 L506.6,359.8 L507.0,359.8 L507.3,359.8 L507.6,359.8 L508.0,359.8 L508.3,359.8 L508.7,359.8 L509.0,359.2 L509.3,358.1 L509.7,356.5 L510.0,354.7 L510.4,352.8 L510.7,351.0 L511.0,349.5 L511.4,348.4 L511.7,347.3 L512.1,346.3 L512.4,345.3 L512.7,344.5 L513.1,343.7 L513.4,343.2 L513.8,342.9 L514.1,342.8 L514.4,342.7 L514.8,342.7 L515.1,342.6 L515.5,342.6 L515.8,342.5 L516.1,342.5 L516.5,342.5 L516.8,342.5 L517.2,342.5 L517.5,342.5 L517.9,342.5 L518.2,342.5 L518.5,342.5 L518.9,342.5 L519.2,342.5 L519.6,342.5 L519.9,342.5 L520.2,342.5 L520.6,342.5 L520.9,342.5 L521.3,342.5 L521.6,342.5 L521.9,342.5 L522.3,342.5 L522.6,342.5 L523.0,342.5 L523.3,342.5 L523.6,342.5 L524.0,342.5 L524.3,342.5 L524.7,342.5 L525.0,342.5 L525.3,342.5 L525.7,342.5 L526.0,342.5 L526.4,342.5 L526.7,342.5 L527.0,342.5 L527.4,342.5 L527.7,342.5 L528.1,342.5 L528.4,342.5 L528.7,342.5 L529.1,342.5 L529.4,342.5 L529.8,342.5 L530.1,342.5 L530.4,342.5 L530.8,342.5 L531.1,342.5 L531.5,342.5 L531.8,342.5 L532.2,342.5 L532.5,342.5 L532.8,342.5 L533.2,342.5 L533.5,342.5 L533.9,342.5 L534.2,342.5 L534.5,342.5 L534.9,342.5 L535.2,342.5 L535.6,342.5 L535.9,342.5 L536.2,342.5 L536.6,342.5 L536.9,342.5 L537.3,342.5 L537.6,342.5 L537.9,342.5 L538.3,342.5 L538.6,342.4 L539.0,342.3 L539.3,342.0 L539.6,341.6 L540.0,341.1 L540.3,340.6 L540.7,340.0 L541.0,339.4 L541.3,338.7 L541.7,337.7 L542.0,336.4 L542.4,335.0 L542.7,333.4 L543.0,331.6 L543.4,329.7 L543.7,327.8 L544.1,325.9 L544.4,323.9 L544.7,322.0 L545.1,320.2 L545.4,318.5 L545.8,316.7 L546.1,314.8 L546.4,313.0 L546.8,311.1 L547.1,309.3 L547.5,307.3 L547.8,305.4 L548.2,303.4 L548.5,301.5 L548.8,299.5 L549.2,297.4 L549.5,295.4 L549.9,293.3 L550.2,291.2 L550.5,289.0 L550.9,286.7 L551.2,284.2 L551.6,281.5 L551.9,278.8 L552.2,276.1 L552.6,273.3 L552.9,270.6 L553.3,268.0 L553.6,265.6 L553.9,263.3 L554.3,261.2 L554.6,259.4 L555.0,257.9 L555.3,256.6 L555.6,255.5 L556.0,254.4 L556.3,253.4 L556.7,252.5 L557.0,251.6 L557.3,250.7 L557.7,249.9 L558.0,249.1 L558.4,248.4 L558.7,247.7 L559.0,247.0 L559.4,246.3 L559.7,245.7 L560.1,245.1 L560.4,244.4 L560.7,243.8 L561.1,243.2 L561.4,242.6 L561.8,242.0 L562.1,241.3 L562.4,240.7 L562.8,240.0 L563.1,239.3 L563.5,238.6 L563.8,238.0 L564.2,237.3 L564.5,236.6 L564.8,236.0 L565.2,235.3 L565.5,234.7 L565.9,234.0 L566.2,233.4 L566.5,232.8 L566.9,232.2 L567.2,231.6 L567.6,230.9 L567.9,230.3 L568.2,229.7 L568.6,229.1 L568.9,228.5 L569.3,227.9 L569.6,227.2 L569.9,226.6 L570.3,226.0 L570.6,225.4 L571.0,224.7 L571.3,224.1 L571.6,223.4 L572.0,222.8 L572.3,222.1 L572.7,221.5 L573.0,220.8 L573.3,220.2 L573.7,219.5 L574.0,218.9 L574.4,218.2 L574.7,217.6 L575.0,216.9 L575.4,216.2 L575.7,215.6 L576.1,214.9 L576.4,214.2 L576.7,213.6 L577.1,212.9 L577.4,212.2 L577.8,211.6 L578.1,210.9 L578.4,210.2 L578.8,209.5" stroke="#5aaae2" stroke-width="1.2" fill="none" stroke-dasharray="2.4 1.6"/>
<path d="M477.0,359.8 L477.4,359.8 L477.8,359.8 L478.3,359.8 L478.7,359.8 L479.1,359.8 L479.5,359.8 L480.0,359.8 L480.4,359.8 L480.8,359.8 L481.2,359.8 L481.6,359.8 L482.1,359.8 L482.5,359.8 L482.9,359.8 L483.3,359.8 L483.8,359.8 L484.2,359.8 L484.6,359.8 L485.0,359.8 L485.5,359.8 L485.9,359.8 L486.3,359.8 L486.7,359.8 L487.1,359.8 L487.6,359.8 L488.0,359.8 L488.4,359.8 L488.8,359.8 L489.3,359.8 L489.7,359.8 L490.1,359.8 L490.5,359.8 L490.9,359.8 L491.4,359.8 L491.8,359.8 L492.2,359.8 L492.6,359.8 L493.1,359.8 L493.5,359.8 L493.9,359.8 L494.3,359.8 L494.7,359.8 L495.2,359.8 L495.6,359.8 L496.0,359.8 L496.4,359.8 L496.9,359.8 L497.3,359.8 L497.7,359.8 L498.1,359.8 L498.6,359.8 L499.0,359.8 L499.4,359.8 L499.8,359.8 L500.2,359.8 L500.7,359.8 L501.1,359.8 L501.5,359.8 L501.9,359.8 L502.4,359.8 L502.8,359.8 L503.2,359.8 L503.6,359.8 L504.0,359.8 L504.5,359.8 L504.9,359.8 L505.3,359.8 L505.7,359.8 L506.2,359.8 L506.6,359.8 L507.0,359.8 L507.4,359.8 L507.9,359.8 L508.3,359.8 L508.7,359.8 L509.1,359.6 L509.5,359.2 L510.0,358.7 L510.4,358.1 L510.8,357.5 L511.2,357.1 L511.7,356.6 L512.1,356.1 L512.5,355.7 L512.9,355.3 L513.3,354.9 L513.8,354.8 L514.2,354.7 L514.6,354.6 L515.0,354.6 L515.5,354.6 L515.9,354.5 L516.3,354.5 L516.7,354.5 L517.1,354.5 L517.6,354.5 L518.0,354.5 L518.4,354.5 L518.8,354.5 L519.3,354.5 L519.7,354.5 L520.1,354.5 L520.5,354.5 L521.0,354.5 L521.4,354.5 L521.8,354.5 L522.2,354.5 L522.6,354.5 L523.1,354.5 L523.5,354.5 L523.9,354.5 L524.3,354.5 L524.8,354.5 L525.2,354.5 L525.6,354.5 L526.0,354.5 L526.4,354.5 L526.9,354.5 L527.3,354.5 L527.7,354.5 L528.1,354.5 L528.6,354.5 L529.0,354.5 L529.4,354.5 L529.8,354.5 L530.2,354.5 L530.7,354.5 L531.1,354.5 L531.5,354.5 L531.9,354.5 L532.4,354.5 L532.8,354.5 L533.2,354.5 L533.6,354.5 L534.1,354.5 L534.5,354.5 L534.9,354.5 L535.3,354.5 L535.7,354.5 L536.2,354.5 L536.6,354.5 L537.0,354.5 L537.4,354.4 L537.9,354.3 L538.3,354.2 L538.7,354.1 L539.1,353.9 L539.5,353.7 L540.0,353.5 L540.4,353.3 L540.8,353.0 L541.2,352.7 L541.7,352.4 L542.1,352.1 L542.5,351.8 L542.9,351.4 L543.3,351.1 L543.8,350.7 L544.2,350.3 L544.6,349.9 L545.0,349.5 L545.5,349.2 L545.9,348.8 L546.3,348.4 L546.7,347.9 L547.2,347.6 L547.6,347.1 L548.0,346.7 L548.4,346.2 L548.8,345.7 L549.3,345.1 L549.7,344.5 L550.1,343.9 L550.5,343.2 L551.0,342.6 L551.4,341.9 L551.8,341.2 L552.2,340.4 L552.6,339.7 L553.1,339.0 L553.5,338.2 L553.9,337.5 L554.3,336.7 L554.8,336.0 L555.2,335.2 L555.6,334.5 L556.0,333.8 L556.5,333.0 L556.9,332.3 L557.3,331.6 L557.7,330.9 L558.1,330.1 L558.6,329.4 L559.0,328.7 L559.4,327.9 L559.8,327.2 L560.3,326.4 L560.7,325.7 L561.1,324.9 L561.5,324.1 L561.9,323.3 L562.4,322.6 L562.8,321.8 L563.2,321.0 L563.6,320.2 L564.1,319.4 L564.5,318.5 L564.9,317.7 L565.3,316.9 L565.7,316.0 L566.2,315.1 L566.6,314.2 L567.0,313.4 L567.4,312.5 L567.9,311.5 L568.3,310.6 L568.7,309.7 L569.1,308.7 L569.6,307.7 L570.0,306.8 L570.4,305.7 L570.8,304.7 L571.2,303.6 L571.7,302.6 L572.1,301.5 L572.5,300.3 L572.9,299.2 L573.4,298.0 L573.8,296.9 L574.2,295.7 L574.6,294.5 L575.0,293.3 L575.5,292.0 L575.9,290.8 L576.3,289.5 L576.7,288.3 L577.2,287.0 L577.6,285.7 L578.0,284.4 L578.4,283.1 L578.8,281.8 L579.3,280.5 L579.7,279.2 L580.1,277.9 L580.5,276.5 L581.0,275.2 L581.4,273.9 L581.8,272.6 L582.2,271.2 L582.7,269.9 L583.1,268.5 L583.5,267.2 L583.9,265.8 L584.3,264.3 L584.8,262.9 L585.2,261.4 L585.6,260.0 L586.0,258.5 L586.5,257.0 L586.9,255.5 L587.3,254.0 L587.7,252.5 L588.1,251.0 L588.6,249.4 L589.0,247.9 L589.4,246.4 L589.8,244.8 L590.3,243.3 L590.7,241.8 L591.1,240.3 L591.5,238.8 L591.9,237.3 L592.4,235.8 L592.8,234.3 L593.2,232.9 L593.6,231.4 L594.1,230.0 L594.5,228.6 L594.9,227.2 L595.3,225.8 L595.8,224.5 L596.2,223.2 L596.6,221.9 L597.0,220.6 L597.4,219.3 L597.9,218.1 L598.3,216.8 L598.7,215.6 L599.1,214.4 L599.6,213.1 L600.0,211.9 L600.4,210.8 L600.8,209.6 L601.2,208.4 L601.7,207.2 L602.1,206.1 L602.5,205.0 L602.9,203.8 L603.4,202.7" stroke="#f8906e" stroke-width="1.2" fill="none" stroke-dasharray="2.4 1.6"/>
<path d="M477.0,359.8 L477.2,359.8 L477.4,359.8 L477.6,359.8 L477.8,359.8 L478.0,359.8 L478.2,359.8 L478.4,359.8 L478.6,359.8 L478.8,359.8 L479.0,359.8 L479.1,359.8 L479.3,359.8 L479.5,359.8 L479.7,359.8 L479.9,359.8 L480.1,359.8 L480.3,359.8 L480.5,359.8 L480.7,359.8 L480.9,359.8 L481.1,359.8 L481.3,359.8 L481.5,359.8 L481.7,359.8 L481.9,359.8 L482.1,359.8 L482.3,359.8 L482.5,359.8 L482.7,359.8 L482.9,359.8 L483.1,359.8 L483.2,359.8 L483.4,359.8 L483.6,359.8 L483.8,359.8 L484.0,359.8 L484.2,359.8 L484.4,359.8 L484.6,359.8 L484.8,359.8 L485.0,359.8 L485.2,359.8 L485.4,359.8 L485.6,359.8 L485.8,359.8 L486.0,359.8 L486.2,359.8 L486.4,359.8 L486.6,359.8 L486.8,359.8 L487.0,359.8 L487.2,359.8 L487.3,359.8 L487.5,359.8 L487.7,359.8 L487.9,359.8 L488.1,359.8 L488.3,359.8 L488.5,359.8 L488.7,359.8 L488.9,359.8 L489.1,359.8 L489.3,359.8 L489.5,359.8 L489.7,359.8 L489.9,359.8 L490.1,359.8 L490.3,359.8 L490.5,359.8 L490.7,359.8 L490.9,359.8 L491.1,359.8 L491.3,359.8 L491.4,359.8 L491.6,359.8 L491.8,359.8 L492.0,359.8 L492.2,359.8 L492.4,359.8 L492.6,359.8 L492.8,359.8 L493.0,359.8 L493.2,359.8 L493.4,359.8 L493.6,359.8 L493.8,359.8 L494.0,359.8 L494.2,359.8 L494.4,359.8 L494.6,359.8 L494.8,359.8 L495.0,359.8 L495.2,359.8 L495.4,359.8 L495.5,359.8 L495.7,359.8 L495.9,359.8 L496.1,359.8 L496.3,359.8 L496.5,359.8 L496.7,359.8 L496.9,359.8 L497.1,359.8 L497.3,359.8 L497.5,359.8 L497.7,359.8 L497.9,359.8 L498.1,359.8 L498.3,359.8 L498.5,359.8 L498.7,359.8 L498.9,359.8 L499.1,359.8 L499.3,359.8 L499.4,359.8 L499.6,359.8 L499.8,359.8 L500.0,359.8 L500.2,359.8 L500.4,359.8 L500.6,359.8 L500.8,359.8 L501.0,359.8 L501.2,359.8 L501.4,359.8 L501.6,359.8 L501.8,359.8 L502.0,359.8 L502.2,359.8 L502.4,359.8 L502.6,359.8 L502.8,359.8 L503.0,359.8 L503.2,359.8 L503.4,359.8 L503.5,359.8 L503.7,359.8 L503.9,359.8 L504.1,359.8 L504.3,359.8 L504.5,359.8 L504.7,359.8 L504.9,359.8 L505.1,359.8 L505.3,359.8 L505.5,359.8 L505.7,359.8 L505.9,359.8 L506.1,359.8 L506.3,359.8 L506.5,359.8 L506.7,359.7 L506.9,359.7 L507.1,359.7 L507.3,359.7 L507.5,359.7 L507.6,359.6 L507.8,359.5 L508.0,359.4 L508.2,359.3 L508.4,359.1 L508.6,358.9 L508.8,358.5 L509.0,358.1 L509.2,357.6 L509.4,356.9 L509.6,356.0 L509.8,355.1 L510.0,353.9 L510.2,352.6 L510.4,351.2 L510.6,349.7 L510.8,348.1 L511.0,346.4 L511.2,344.6 L511.4,342.8 L511.6,340.9 L511.7,342.4 L511.9,344.3 L512.1,346.0 L512.3,347.7 L512.5,349.3 L512.7,350.9 L512.9,352.3 L513.1,353.7 L513.3,354.8 L513.5,355.8 L513.7,356.7 L513.9,357.4 L514.1,358.0 L514.3,358.5 L514.5,358.8 L514.7,359.1 L514.9,359.3 L515.1,359.4 L515.3,359.5 L515.5,359.6 L515.7,359.6 L515.8,359.7 L516.0,359.7 L516.2,359.7 L516.4,359.7 L516.6,359.8 L516.8,359.8 L517.0,359.8 L517.2,359.8 L517.4,359.8 L517.6,359.8 L517.8,359.8 L518.0,359.8 L518.2,359.8 L518.4,359.8 L518.6,359.8 L518.8,359.8 L519.0,359.8 L519.2,359.8 L519.4,359.8 L519.6,359.8 L519.8,359.8 L519.9,359.8 L520.1,359.8 L520.3,359.8 L520.5,359.8 L520.7,359.8 L520.9,359.8 L521.1,359.8 L521.3,359.8 L521.5,359.8 L521.7,359.8 L521.9,359.8 L522.1,359.8 L522.3,359.8 L522.5,359.8 L522.7,359.8 L522.9,359.8 L523.1,359.8 L523.3,359.8 L523.5,359.8 L523.7,359.8 L523.9,359.8 L524.0,359.8 L524.2,359.8 L524.4,359.8 L524.6,359.8 L524.8,359.8 L525.0,359.8 L525.2,359.8 L525.4,359.8 L525.6,359.8 L525.8,359.8 L526.0,359.8 L526.2,359.8 L526.4,359.8 L526.6,359.8 L526.8,359.8 L527.0,359.8 L527.2,359.8 L527.4,359.8 L527.6,359.8 L527.8,359.8 L528.0,359.8 L528.1,359.8 L528.3,359.8 L528.5,359.8 L528.7,359.8 L528.9,359.8 L529.1,359.8 L529.3,359.8 L529.5,359.8 L529.7,359.8 L529.9,359.8 L530.1,359.8 L530.3,359.8 L530.5,359.8 L530.7,359.8 L530.9,359.8 L531.1,359.8 L531.3,359.8 L531.5,359.8 L531.7,359.8 L531.9,359.8 L532.1,359.8 L532.2,359.8 L532.4,359.8 L532.6,359.8 L532.8,359.8 L533.0,359.8 L533.2,359.8 L533.4,359.8 L533.6,359.8 L533.8,359.8 L534.0,359.7 L534.2,359.7 L534.4,359.7 L534.6,359.7 L534.8,359.7 L535.0,359.7 L535.2,359.7 L535.4,359.7 L535.6,359.7 L535.8,359.7 L536.0,359.7 L536.2,359.6 L536.3,359.6 L536.5,359.6 L536.7,359.6 L536.9,359.6 L537.1,359.5 L537.3,359.5 L537.5,359.5 L537.7,359.5 L537.9,359.5 L538.1,359.4 L538.3,359.4 L538.5,359.4 L538.7,359.3 L538.9,359.3 L539.1,359.2 L539.3,359.2 L539.5,359.2 L539.7,359.1 L539.9,359.1 L540.1,359.0 L540.3,359.0 L540.4,358.8 L540.6,358.7 L540.8,358.6 L541.0,358.5 L541.2,358.4 L541.4,358.3 L541.6,358.2 L541.8,358.0 L542.0,357.9 L542.2,357.8 L542.4,357.6 L542.6,357.5 L542.8,357.4 L543.0,357.3 L543.2,357.1 L543.4,357.0 L543.6,356.9 L543.8,356.7 L544.0,356.6 L544.2,356.4 L544.3,356.3 L544.5,356.2 L544.7,356.0 L544.9,355.9 L545.1,355.8 L545.3,355.6 L545.5,355.5 L545.7,355.4 L545.9,355.3 L546.1,355.1 L546.3,355.0 L546.5,354.9 L546.7,354.8 L546.9,354.7 L547.1,354.6 L547.3,354.5 L547.5,354.4 L547.7,354.3 L547.9,354.2 L548.1,354.1 L548.3,354.0 L548.4,353.9 L548.6,353.9 L548.8,353.8 L549.0,353.7 L549.2,353.7 L549.4,353.6 L549.6,353.6 L549.8,353.5 L550.0,353.5 L550.2,353.4 L550.4,353.4 L550.6,353.4 L550.8,353.4 L551.0,353.4 L551.2,353.3 L551.4,353.3 L551.6,353.3 L551.8,353.3 L552.0,353.3 L552.2,353.4 L552.4,353.4 L552.5,353.4 L552.7,353.4 L552.9,353.4 L553.1,353.4 L553.3,353.5 L553.5,353.5 L553.7,353.5 L553.9,353.5 L554.1,353.6 L554.3,353.6 L554.5,353.7 L554.7,353.8 L554.9,353.9 L555.1,353.9 L555.3,354.0 L555.5,354.1 L555.7,354.2 L555.9,354.3 L556.1,354.3 L556.3,354.4 L556.5,354.5 L556.6,354.6 L556.8,354.6 L557.0,354.7 L557.2,354.8 L557.4,354.8 L557.6,354.9 L557.8,354.9 L558.0,355.0 L558.2,355.1 L558.4,355.1 L558.6,355.2 L558.8,355.2 L559.0,355.3 L559.2,355.3 L559.4,355.3 L559.6,355.4 L559.8,355.4 L560.0,355.5 L560.2,355.5 L560.4,355.5 L560.6,355.6 L560.7,355.6 L560.9,355.6 L561.1,355.6 L561.3,355.7 L561.5,355.7 L561.7,355.7 L561.9,355.7 L562.1,355.7 L562.3,355.8 L562.5,355.8 L562.7,355.8 L562.9,355.8 L563.1,355.8 L563.3,355.8 L563.5,355.8 L563.7,355.8 L563.9,355.8 L564.1,355.9 L564.3,355.9 L564.5,355.9 L564.7,355.9 L564.8,355.9 L565.0,355.9 L565.2,355.9 L565.4,355.9 L565.6,355.9 L565.8,355.9 L566.0,355.9 L566.2,355.9 L566.4,355.9 L566.6,355.9 L566.8,355.9 L567.0,355.9 L567.2,355.9 L567.4,355.9 L567.6,355.9 L567.8,355.9 L568.0,355.9 L568.2,355.9 L568.4,355.9 L568.6,355.9 L568.8,355.9 L568.9,355.9 L569.1,355.9 L569.3,355.9 L569.5,355.9 L569.7,355.9 L569.9,355.9 L570.1,355.9 L570.3,355.9 L570.5,355.9 L570.7,355.9 L570.9,355.9 L571.1,355.9 L571.3,355.9 L571.5,355.9 L571.7,355.9 L571.9,355.9 L572.1,355.9 L572.3,355.9 L572.5,355.9 L572.7,355.9 L572.9,355.9 L573.0,355.9 L573.2,355.9 L573.4,355.9 L573.6,355.9 L573.8,355.9 L574.0,355.9 L574.2,355.9 L574.4,355.9 L574.6,355.9 L574.8,355.9 L575.0,355.9 L575.2,355.9 L575.4,355.9 L575.6,355.9 L575.8,355.9 L576.0,355.9 L576.2,355.8 L576.4,355.8 L576.6,355.8 L576.8,355.8 L577.0,355.8 L577.1,355.8 L577.3,355.8 L577.5,355.8 L577.7,355.8 L577.9,355.8 L578.1,355.8 L578.3,355.8 L578.5,355.8 L578.7,355.8 L578.9,355.8 L579.1,355.8 L579.3,355.8 L579.5,355.7 L579.7,355.7 L579.9,355.7 L580.1,355.7 L580.3,355.7 L580.5,355.7 L580.7,355.7 L580.9,355.7 L581.1,355.7 L581.2,355.7 L581.4,355.7 L581.6,355.7 L581.8,355.6 L582.0,355.6 L582.2,355.6 L582.4,355.6 L582.6,355.6 L582.8,355.6 L583.0,355.6 L583.2,355.6 L583.4,355.5 L583.6,355.5 L583.8,355.5 L584.0,355.5 L584.2,355.5 L584.4,355.5 L584.6,355.5 L584.8,355.5 L585.0,355.4 L585.2,355.4 L585.3,355.4 L585.5,355.4 L585.7,355.4 L585.9,355.4 L586.1,355.4 L586.3,355.3 L586.5,355.3 L586.7,355.3 L586.9,355.3 L587.1,355.3 L587.3,355.3 L587.5,355.2 L587.7,355.2 L587.9,355.2 L588.1,355.2 L588.3,355.2 L588.5,355.2 L588.7,355.2 L588.9,355.1 L589.1,355.1 L589.2,355.1 L589.4,355.1 L589.6,355.1 L589.8,355.1 L590.0,355.1 L590.2,355.0 L590.4,355.0 L590.6,355.0 L590.8,355.0 L591.0,355.0 L591.2,355.0 L591.4,355.0 L591.6,354.9 L591.8,354.9 L592.0,354.9 L592.2,354.9 L592.4,354.9 L592.6,354.9 L592.8,354.9 L593.0,354.9 L593.2,354.9 L593.3,354.9 L593.5,354.8 L593.7,354.8 L593.9,354.8 L594.1,354.8 L594.3,354.8 L594.5,354.8 L594.7,354.8 L594.9,354.8 L595.1,354.8 L595.3,354.8 L595.5,354.8 L595.7,354.8 L595.9,354.8 L596.1,354.8 L596.3,354.8 L596.5,354.8 L596.7,354.8 L596.9,354.8 L597.1,354.8 L597.3,354.8 L597.4,354.8 L597.6,354.8 L597.8,354.8 L598.0,354.8 L598.2,354.8 L598.4,354.8 L598.6,354.8 L598.8,354.8 L599.0,354.8 L599.2,354.9 L599.4,354.9 L599.6,354.9 L599.8,354.9 L600.0,354.9 L600.2,354.9 L600.4,354.9 L600.6,354.9 L600.8,354.9 L601.0,354.9 L601.2,355.0 L601.4,355.0 L601.5,355.0 L601.7,355.0 L601.9,355.0 L602.1,355.0 L602.3,355.0 L602.5,355.0 L602.7,355.1 L602.9,355.1 L603.1,355.1 L603.3,355.1 L603.5,355.1 L603.7,355.1 L603.9,355.1 L604.1,355.2 L604.3,355.2 L604.5,355.2 L604.7,355.2 L604.9,355.2 L605.1,355.2 L605.3,355.3 L605.5,355.3 L605.6,355.3 L605.8,355.3 L606.0,355.3 L606.2,355.3 L606.4,355.3 L606.6,355.4 L606.8,355.4 L607.0,355.4 L607.2,355.4 L607.4,355.4 L607.6,355.4 L607.8,355.4 L608.0,355.5 L608.2,355.5 L608.4,355.5 L608.6,355.5 L608.8,355.5 L609.0,355.5 L609.2,355.5 L609.4,355.6 L609.6,355.6 L609.7,355.6 L609.9,355.6 L610.1,355.6 L610.3,355.6 L610.5,355.6 L610.7,355.6 L610.9,355.6 L611.1,355.7 L611.3,355.7 L611.5,355.7 L611.7,355.7 L611.9,355.7 L612.1,355.7 L612.3,355.7 L612.5,355.7 L612.7,355.7 L612.9,355.7 L613.1,355.7 L613.3,355.8 L613.5,355.8 L613.7,355.8 L613.8,355.8 L614.0,355.8 L614.2,355.8 L614.4,355.8 L614.6,355.8 L614.8,355.8 L615.0,355.8 L615.2,355.8 L615.4,355.8 L615.6,355.8 L615.8,355.8 L616.0,355.8 L616.2,355.8 L616.4,355.8 L616.6,355.9 L616.8,355.9 L617.0,355.9 L617.2,355.9 L617.4,355.9 L617.6,355.9 L617.8,355.9 L617.9,355.9 L618.1,355.9 L618.3,355.9 L618.5,355.9 L618.7,355.9 L618.9,355.9 L619.1,355.9 L619.3,355.9 L619.5,355.9 L619.7,355.9 L619.9,355.9 L620.1,355.9 L620.3,355.9 L620.5,355.9 L620.7,355.9 L620.9,355.9 L621.1,355.9 L621.3,355.9 L621.5,355.9 L621.7,355.9 L621.9,355.9 L622.0,355.9 L622.2,355.9 L622.4,355.9 L622.6,355.9 L622.8,355.9 L623.0,355.9 L623.2,355.9 L623.4,355.9 L623.6,355.9 L623.8,355.9 L624.0,355.9 L624.2,355.9 L624.4,355.9 L624.6,355.9 L624.8,355.9 L625.0,355.9 L625.2,355.9 L625.4,355.9 L625.6,355.9 L625.8,355.9 L626.0,355.9 L626.1,355.9 L626.3,355.9 L626.5,355.9 L626.7,355.9 L626.9,355.9 L627.1,355.9 L627.3,355.9 L627.5,355.9 L627.7,355.9 L627.9,355.9 L628.1,355.9 L628.3,355.9 L628.5,355.9 L628.7,355.9 L628.9,355.9 L629.1,355.9 L629.3,355.9 L629.5,355.9 L629.7,355.9 L629.9,355.9 L630.1,355.9 L630.2,355.9 L630.4,355.9 L630.6,355.9 L630.8,355.9 L631.0,355.9 L631.2,355.9 L631.4,355.9 L631.6,355.9 L631.8,355.9 L632.0,355.9 L632.2,355.9 L632.4,355.9 L632.6,355.9 L632.8,355.9 L633.0,355.9 L633.2,355.9 L633.4,355.9 L633.6,355.9 L633.8,355.9 L634.0,355.9 L634.1,355.9 L634.3,355.9 L634.5,355.9 L634.7,355.9 L634.9,355.9 L635.1,355.9 L635.3,355.9 L635.5,355.9 L635.7,355.9 L635.9,355.9 L636.1,355.9 L636.3,355.9 L636.5,355.9 L636.7,355.9 L636.9,355.9 L637.1,355.9 L637.3,355.9 L637.5,355.9 L637.7,355.9 L637.9,355.9 L638.1,355.9 L638.2,355.9 L638.4,355.9 L638.6,355.9 L638.8,355.9 L639.0,355.9 L639.2,355.9 L639.4,355.9 L639.6,355.9 L639.8,355.9 L640.0,355.9 L640.2,355.9 L640.4,355.9 L640.6,355.9 L640.8,355.9 L641.0,355.9 L641.2,355.9 L641.4,355.9 L641.6,355.9 L641.8,355.9 L642.0,355.9 L642.2,355.9 L642.3,355.9 L642.5,355.9 L642.7,355.9 L642.9,355.9 L643.1,355.9 L643.3,355.9 L643.5,355.9 L643.7,355.9 L643.9,355.9 L644.1,355.9 L644.3,355.9 L644.5,355.9 L644.7,355.9 L644.9,355.9 L645.1,355.9 L645.3,355.9 L645.5,355.9 L645.7,355.9 L645.9,355.9 L646.1,355.9 L646.3,355.9 L646.4,355.9 L646.6,355.9 L646.8,355.9 L647.0,355.9 L647.2,355.9 L647.4,355.9 L647.6,355.9 L647.8,355.9 L648.0,355.9 L648.2,355.9 L648.4,355.9 L648.6,355.9 L648.8,355.9 L649.0,355.9 L649.2,355.9 L649.4,355.9 L649.6,355.9 L649.8,355.9 L650.0,355.9 L650.2,355.9 L650.4,355.9 L650.5,355.9 L650.7,355.9 L650.9,355.9 L651.1,355.9 L651.3,355.9 L651.5,355.9 L651.7,355.9 L651.9,355.9 L652.1,355.9 L652.3,355.9 L652.5,355.9" stroke="#f6a088" stroke-width="1.2" fill="none" stroke-linejoin="round"/>
<path d="M477.0,359.8 L477.2,359.8 L477.4,359.8 L477.6,359.8 L477.8,359.8 L478.0,359.8 L478.2,359.8 L478.4,359.8 L478.6,359.8 L478.8,359.8 L479.0,359.8 L479.1,359.8 L479.3,359.8 L479.5,359.8 L479.7,359.8 L479.9,359.8 L480.1,359.8 L480.3,359.8 L480.5,359.8 L480.7,359.8 L480.9,359.8 L481.1,359.8 L481.3,359.8 L481.5,359.8 L481.7,359.8 L481.9,359.8 L482.1,359.8 L482.3,359.8 L482.5,359.8 L482.7,359.8 L482.9,359.8 L483.1,359.8 L483.2,359.8 L483.4,359.8 L483.6,359.8 L483.8,359.8 L484.0,359.8 L484.2,359.8 L484.4,359.8 L484.6,359.8 L484.8,359.8 L485.0,359.8 L485.2,359.8 L485.4,359.8 L485.6,359.8 L485.8,359.8 L486.0,359.8 L486.2,359.8 L486.4,359.8 L486.6,359.8 L486.8,359.8 L487.0,359.8 L487.2,359.8 L487.3,359.8 L487.5,359.8 L487.7,359.8 L487.9,359.8 L488.1,359.8 L488.3,359.8 L488.5,359.8 L488.7,359.8 L488.9,359.8 L489.1,359.8 L489.3,359.8 L489.5,359.8 L489.7,359.8 L489.9,359.8 L490.1,359.8 L490.3,359.8 L490.5,359.8 L490.7,359.8 L490.9,359.8 L491.1,359.8 L491.3,359.8 L491.4,359.8 L491.6,359.8 L491.8,359.8 L492.0,359.8 L492.2,359.8 L492.4,359.8 L492.6,359.8 L492.8,359.8 L493.0,359.8 L493.2,359.8 L493.4,359.8 L493.6,359.8 L493.8,359.8 L494.0,359.8 L494.2,359.8 L494.4,359.8 L494.6,359.8 L494.8,359.8 L495.0,359.8 L495.2,359.8 L495.4,359.8 L495.5,359.8 L495.7,359.8 L495.9,359.8 L496.1,359.8 L496.3,359.8 L496.5,359.8 L496.7,359.8 L496.9,359.8 L497.1,359.8 L497.3,359.8 L497.5,359.8 L497.7,359.8 L497.9,359.8 L498.1,359.8 L498.3,359.8 L498.5,359.8 L498.7,359.8 L498.9,359.8 L499.1,359.8 L499.3,359.8 L499.4,359.8 L499.6,359.8 L499.8,359.8 L500.0,359.8 L500.2,359.8 L500.4,359.8 L500.6,359.8 L500.8,359.8 L501.0,359.8 L501.2,359.8 L501.4,359.8 L501.6,359.8 L501.8,359.8 L502.0,359.8 L502.2,359.8 L502.4,359.8 L502.6,359.8 L502.8,359.8 L503.0,359.8 L503.2,359.8 L503.4,359.8 L503.5,359.8 L503.7,359.8 L503.9,359.8 L504.1,359.8 L504.3,359.8 L504.5,359.8 L504.7,359.8 L504.9,359.8 L505.1,359.8 L505.3,359.8 L505.5,359.8 L505.7,359.8 L505.9,359.8 L506.1,359.8 L506.3,359.8 L506.5,359.7 L506.7,359.7 L506.9,359.7 L507.1,359.7 L507.3,359.6 L507.5,359.6 L507.6,359.5 L507.8,359.4 L508.0,359.3 L508.2,359.0 L508.4,358.7 L508.6,358.2 L508.8,357.5 L509.0,356.5 L509.2,355.0 L509.4,353.1 L509.6,350.5 L509.8,347.2 L510.0,343.1 L510.2,338.2 L510.4,332.5 L510.6,326.2 L510.8,319.3 L511.0,312.0 L511.2,304.4 L511.4,296.4 L511.6,287.9 L511.7,294.7 L511.9,302.8 L512.1,310.5 L512.3,317.8 L512.5,324.8 L512.7,331.3 L512.9,337.1 L513.1,342.2 L513.3,346.4 L513.5,349.9 L513.7,352.6 L513.9,354.7 L514.1,356.2 L514.3,357.3 L514.5,358.1 L514.7,358.6 L514.9,359.0 L515.1,359.2 L515.3,359.4 L515.5,359.5 L515.7,359.6 L515.8,359.6 L516.0,359.7 L516.2,359.7 L516.4,359.7 L516.6,359.7 L516.8,359.8 L517.0,359.8 L517.2,359.8 L517.4,359.8 L517.6,359.8 L517.8,359.8 L518.0,359.8 L518.2,359.8 L518.4,359.8 L518.6,359.8 L518.8,359.8 L519.0,359.8 L519.2,359.8 L519.4,359.8 L519.6,359.8 L519.8,359.8 L519.9,359.8 L520.1,359.8 L520.3,359.8 L520.5,359.8 L520.7,359.8 L520.9,359.8 L521.1,359.8 L521.3,359.8 L521.5,359.8 L521.7,359.8 L521.9,359.8 L522.1,359.8 L522.3,359.8 L522.5,359.8 L522.7,359.8 L522.9,359.8 L523.1,359.8 L523.3,359.8 L523.5,359.8 L523.7,359.8 L523.9,359.8 L524.0,359.8 L524.2,359.8 L524.4,359.8 L524.6,359.8 L524.8,359.8 L525.0,359.8 L525.2,359.8 L525.4,359.8 L525.6,359.8 L525.8,359.8 L526.0,359.8 L526.2,359.8 L526.4,359.8 L526.6,359.8 L526.8,359.8 L527.0,359.8 L527.2,359.8 L527.4,359.8 L527.6,359.8 L527.8,359.8 L528.0,359.8 L528.1,359.8 L528.3,359.8 L528.5,359.8 L528.7,359.8 L528.9,359.8 L529.1,359.8 L529.3,359.8 L529.5,359.8 L529.7,359.8 L529.9,359.8 L530.1,359.8 L530.3,359.8 L530.5,359.8 L530.7,359.8 L530.9,359.8 L531.1,359.8 L531.3,359.8 L531.5,359.8 L531.7,359.8 L531.9,359.8 L532.1,359.8 L532.2,359.8 L532.4,359.8 L532.6,359.8 L532.8,359.8 L533.0,359.8 L533.2,359.8 L533.4,359.8 L533.6,359.8 L533.8,359.8 L534.0,359.8 L534.2,359.8 L534.4,359.8 L534.6,359.8 L534.8,359.8 L535.0,359.8 L535.2,359.8 L535.4,359.8 L535.6,359.8 L535.8,359.8 L536.0,359.8 L536.2,359.8 L536.3,359.8 L536.5,359.8 L536.7,359.8 L536.9,359.8 L537.1,359.8 L537.3,359.8 L537.5,359.8 L537.7,359.8 L537.9,359.8 L538.1,359.8 L538.3,359.8 L538.5,359.8 L538.7,359.7 L538.9,359.7 L539.1,359.7 L539.3,359.7 L539.5,359.7 L539.7,359.6 L539.9,359.6 L540.1,359.5 L540.3,359.5 L540.4,359.4 L540.6,359.3 L540.8,359.2 L541.0,359.1 L541.2,359.0 L541.4,358.9 L541.6,358.7 L541.8,358.5 L542.0,358.3 L542.2,358.1 L542.4,357.8 L542.6,357.5 L542.8,357.2 L543.0,356.8 L543.2,356.4 L543.4,355.9 L543.6,355.4 L543.8,354.9 L544.0,354.2 L544.2,353.5 L544.3,352.8 L544.5,352.0 L544.7,351.2 L544.9,350.4 L545.1,349.5 L545.3,348.6 L545.5,347.7 L545.7,346.8 L545.9,345.8 L546.1,344.9 L546.3,343.9 L546.5,343.0 L546.7,342.1 L546.9,341.2 L547.1,340.4 L547.3,339.6 L547.5,338.9 L547.7,338.2 L547.9,337.6 L548.1,337.1 L548.3,336.6 L548.4,336.3 L548.6,336.0 L548.8,335.8 L549.0,335.8 L549.2,335.8 L549.4,335.9 L549.6,336.1 L549.8,336.4 L550.0,336.8 L550.2,337.3 L550.4,337.8 L550.6,338.4 L550.8,339.0 L551.0,339.7 L551.2,340.5 L551.4,341.3 L551.6,342.1 L551.8,342.9 L552.0,343.7 L552.2,344.5 L552.4,345.3 L552.5,346.1 L552.7,346.9 L552.9,347.7 L553.1,348.4 L553.3,349.1 L553.5,349.7 L553.7,350.3 L553.9,350.9 L554.1,351.4 L554.3,351.9 L554.5,352.4 L554.7,352.9 L554.9,353.3 L555.1,353.7 L555.3,354.0 L555.5,354.3 L555.7,354.6 L555.9,354.9 L556.1,355.1 L556.3,355.3 L556.5,355.4 L556.6,355.6 L556.8,355.7 L557.0,355.8 L557.2,355.9 L557.4,356.0 L557.6,356.1 L557.8,356.1 L558.0,356.2 L558.2,356.2 L558.4,356.2 L558.6,356.3 L558.8,356.3 L559.0,356.3 L559.2,356.3 L559.4,356.3 L559.6,356.3 L559.8,356.4 L560.0,356.4 L560.2,356.4 L560.4,356.4 L560.6,356.4 L560.7,356.4 L560.9,356.4 L561.1,356.4 L561.3,356.4 L561.5,356.4 L561.7,356.4 L561.9,356.4 L562.1,356.4 L562.3,356.4 L562.5,356.4 L562.7,356.4 L562.9,356.4 L563.1,356.4 L563.3,356.4 L563.5,356.4 L563.7,356.4 L563.9,356.4 L564.1,356.4 L564.3,356.4 L564.5,356.4 L564.7,356.4 L564.8,356.4 L565.0,356.4 L565.2,356.4 L565.4,356.4 L565.6,356.4 L565.8,356.4 L566.0,356.4 L566.2,356.4 L566.4,356.4 L566.6,356.4 L566.8,356.4 L567.0,356.4 L567.2,356.4 L567.4,356.4 L567.6,356.4 L567.8,356.4 L568.0,356.3 L568.2,356.3 L568.4,356.3 L568.6,356.3 L568.8,356.3 L568.9,356.3 L569.1,356.3 L569.3,356.3 L569.5,356.3 L569.7,356.3 L569.9,356.3 L570.1,356.3 L570.3,356.3 L570.5,356.2 L570.7,356.2 L570.9,356.2 L571.1,356.2 L571.3,356.2 L571.5,356.2 L571.7,356.2 L571.9,356.1 L572.1,356.1 L572.3,356.1 L572.5,356.1 L572.7,356.0 L572.9,356.0 L573.0,356.0 L573.2,356.0 L573.4,355.9 L573.6,355.9 L573.8,355.9 L574.0,355.8 L574.2,355.8 L574.4,355.8 L574.6,355.7 L574.8,355.7 L575.0,355.6 L575.2,355.6 L575.4,355.5 L575.6,355.5 L575.8,355.5 L576.0,355.4 L576.2,355.4 L576.4,355.3 L576.6,355.2 L576.8,355.2 L577.0,355.1 L577.1,355.1 L577.3,355.0 L577.5,355.0 L577.7,354.9 L577.9,354.9 L578.1,354.8 L578.3,354.8 L578.5,354.7 L578.7,354.6 L578.9,354.6 L579.1,354.5 L579.3,354.5 L579.5,354.4 L579.7,354.4 L579.9,354.3 L580.1,354.3 L580.3,354.2 L580.5,354.2 L580.7,354.2 L580.9,354.1 L581.1,354.1 L581.2,354.1 L581.4,354.0 L581.6,354.0 L581.8,354.0 L582.0,354.0 L582.2,353.9 L582.4,353.9 L582.6,353.9 L582.8,353.9 L583.0,353.9 L583.2,353.9 L583.4,353.9 L583.6,353.9 L583.8,353.9 L584.0,353.9 L584.2,354.0 L584.4,354.0 L584.6,354.0 L584.8,354.0 L585.0,354.1 L585.2,354.1 L585.3,354.1 L585.5,354.2 L585.7,354.2 L585.9,354.3 L586.1,354.3 L586.3,354.4 L586.5,354.4 L586.7,354.5 L586.9,354.5 L587.1,354.6 L587.3,354.7 L587.5,354.7 L587.7,354.8 L587.9,354.8 L588.1,354.9 L588.3,355.0 L588.5,355.0 L588.7,355.1 L588.9,355.2 L589.1,355.2 L589.2,355.3 L589.4,355.4 L589.6,355.4 L589.8,355.5 L590.0,355.5 L590.2,355.6 L590.4,355.7 L590.6,355.7 L590.8,355.8 L591.0,355.8 L591.2,355.9 L591.4,356.0 L591.6,356.0 L591.8,356.1 L592.0,356.1 L592.2,356.2 L592.4,356.2 L592.6,356.3 L592.8,356.3 L593.0,356.4 L593.2,356.4 L593.3,356.5 L593.5,356.5 L593.7,356.5 L593.9,356.6 L594.1,356.6 L594.3,356.7 L594.5,356.7 L594.7,356.7 L594.9,356.8 L595.1,356.8 L595.3,356.8 L595.5,356.8 L595.7,356.9 L595.9,356.9 L596.1,356.9 L596.3,357.0 L596.5,357.0 L596.7,357.0 L596.9,357.0 L597.1,357.0 L597.3,357.1 L597.4,357.1 L597.6,357.1 L597.8,357.1 L598.0,357.1 L598.2,357.2 L598.4,357.2 L598.6,357.2 L598.8,357.2 L599.0,357.2 L599.2,357.2 L599.4,357.2 L599.6,357.2 L599.8,357.2 L600.0,357.3 L600.2,357.3 L600.4,357.3 L600.6,357.3 L600.8,357.3 L601.0,357.3 L601.2,357.3 L601.4,357.3 L601.5,357.3 L601.7,357.3 L601.9,357.3 L602.1,357.3 L602.3,357.3 L602.5,357.3 L602.7,357.3 L602.9,357.3 L603.1,357.3 L603.3,357.3 L603.5,357.3 L603.7,357.3 L603.9,357.2 L604.1,357.2 L604.3,357.2 L604.5,357.2 L604.7,357.2 L604.9,357.2 L605.1,357.2 L605.3,357.2 L605.5,357.2 L605.6,357.2 L605.8,357.1 L606.0,357.1 L606.2,357.1 L606.4,357.1 L606.6,357.1 L606.8,357.1 L607.0,357.1 L607.2,357.0 L607.4,357.0 L607.6,357.0 L607.8,357.0 L608.0,357.0 L608.2,357.0 L608.4,357.0 L608.6,356.9 L608.8,356.9 L609.0,356.9 L609.2,356.9 L609.4,356.9 L609.6,356.9 L609.7,356.8 L609.9,356.8 L610.1,356.8 L610.3,356.8 L610.5,356.8 L610.7,356.8 L610.9,356.8 L611.1,356.7 L611.3,356.7 L611.5,356.7 L611.7,356.7 L611.9,356.7 L612.1,356.7 L612.3,356.7 L612.5,356.7 L612.7,356.6 L612.9,356.6 L613.1,356.6 L613.3,356.6 L613.5,356.6 L613.7,356.6 L613.8,356.6 L614.0,356.6 L614.2,356.6 L614.4,356.6 L614.6,356.5 L614.8,356.5 L615.0,356.5 L615.2,356.5 L615.4,356.5 L615.6,356.5 L615.8,356.5 L616.0,356.5 L616.2,356.5 L616.4,356.5 L616.6,356.5 L616.8,356.5 L617.0,356.5 L617.2,356.5 L617.4,356.5 L617.6,356.5 L617.8,356.4 L617.9,356.4 L618.1,356.4 L618.3,356.4 L618.5,356.4 L618.7,356.4 L618.9,356.4 L619.1,356.4 L619.3,356.4 L619.5,356.4 L619.7,356.4 L619.9,356.4 L620.1,356.4 L620.3,356.4 L620.5,356.4 L620.7,356.4 L620.9,356.4 L621.1,356.4 L621.3,356.4 L621.5,356.4 L621.7,356.4 L621.9,356.4 L622.0,356.4 L622.2,356.4 L622.4,356.4 L622.6,356.4 L622.8,356.4 L623.0,356.4 L623.2,356.4 L623.4,356.4 L623.6,356.4 L623.8,356.4 L624.0,356.4 L624.2,356.4 L624.4,356.4 L624.6,356.4 L624.8,356.4 L625.0,356.4 L625.2,356.4 L625.4,356.4 L625.6,356.4 L625.8,356.4 L626.0,356.4 L626.1,356.4 L626.3,356.4 L626.5,356.4 L626.7,356.4 L626.9,356.4 L627.1,356.4 L627.3,356.4 L627.5,356.4 L627.7,356.4 L627.9,356.4 L628.1,356.4 L628.3,356.4 L628.5,356.4 L628.7,356.4 L628.9,356.4 L629.1,356.4 L629.3,356.4 L629.5,356.4 L629.7,356.4 L629.9,356.4 L630.1,356.4 L630.2,356.4 L630.4,356.4 L630.6,356.4 L630.8,356.4 L631.0,356.4 L631.2,356.4 L631.4,356.4 L631.6,356.4 L631.8,356.4 L632.0,356.4 L632.2,356.4 L632.4,356.4 L632.6,356.4 L632.8,356.4 L633.0,356.4 L633.2,356.4 L633.4,356.4 L633.6,356.4 L633.8,356.4 L634.0,356.4 L634.1,356.4 L634.3,356.4 L634.5,356.4 L634.7,356.4 L634.9,356.4 L635.1,356.4 L635.3,356.4 L635.5,356.4 L635.7,356.4 L635.9,356.4 L636.1,356.4 L636.3,356.4 L636.5,356.4 L636.7,356.4 L636.9,356.4 L637.1,356.4 L637.3,356.4 L637.5,356.4 L637.7,356.4 L637.9,356.4 L638.1,356.4 L638.2,356.4 L638.4,356.4 L638.6,356.4 L638.8,356.4 L639.0,356.4 L639.2,356.4 L639.4,356.4 L639.6,356.4 L639.8,356.4 L640.0,356.4 L640.2,356.4 L640.4,356.4 L640.6,356.4 L640.8,356.4 L641.0,356.4 L641.2,356.4 L641.4,356.4 L641.6,356.4 L641.8,356.4 L642.0,356.4 L642.2,356.4 L642.3,356.4 L642.5,356.4 L642.7,356.4 L642.9,356.4 L643.1,356.4 L643.3,356.4 L643.5,356.4 L643.7,356.4 L643.9,356.4 L644.1,356.4 L644.3,356.4 L644.5,356.4 L644.7,356.4 L644.9,356.4 L645.1,356.4 L645.3,356.4 L645.5,356.4 L645.7,356.4 L645.9,356.4 L646.1,356.4 L646.3,356.4 L646.4,356.4 L646.6,356.4 L646.8,356.4 L647.0,356.4 L647.2,356.4 L647.4,356.4 L647.6,356.4 L647.8,356.4 L648.0,356.4 L648.2,356.4 L648.4,356.4 L648.6,356.4 L648.8,356.4 L649.0,356.4 L649.2,356.4 L649.4,356.4 L649.6,356.4 L649.8,356.4 L650.0,356.4 L650.2,356.4 L650.4,356.4 L650.5,356.4 L650.7,356.4 L650.9,356.4 L651.1,356.4 L651.3,356.4 L651.5,356.4 L651.7,356.4 L651.9,356.4 L652.1,356.4 L652.3,356.4 L652.5,356.4" stroke="#62aee4" stroke-width="1.2" fill="none" stroke-linejoin="round"/>
<path d="M477.0,359.8 L477.2,359.8 L477.4,359.8 L477.6,359.8 L477.8,359.8 L478.0,359.8 L478.2,359.8 L478.4,359.8 L478.6,359.8 L478.8,359.8 L479.0,359.8 L479.1,359.8 L479.3,359.8 L479.5,359.8 L479.7,359.8 L479.9,359.8 L480.1,359.8 L480.3,359.8 L480.5,359.8 L480.7,359.8 L480.9,359.8 L481.1,359.8 L481.3,359.8 L481.5,359.8 L481.7,359.8 L481.9,359.8 L482.1,359.8 L482.3,359.8 L482.5,359.8 L482.7,359.8 L482.9,359.8 L483.1,359.8 L483.2,359.8 L483.4,359.8 L483.6,359.8 L483.8,359.8 L484.0,359.8 L484.2,359.8 L484.4,359.8 L484.6,359.8 L484.8,359.8 L485.0,359.8 L485.2,359.8 L485.4,359.8 L485.6,359.8 L485.8,359.8 L486.0,359.8 L486.2,359.8 L486.4,359.8 L486.6,359.8 L486.8,359.8 L487.0,359.8 L487.2,359.8 L487.3,359.8 L487.5,359.8 L487.7,359.8 L487.9,359.8 L488.1,359.8 L488.3,359.8 L488.5,359.8 L488.7,359.8 L488.9,359.8 L489.1,359.8 L489.3,359.8 L489.5,359.8 L489.7,359.8 L489.9,359.8 L490.1,359.8 L490.3,359.8 L490.5,359.8 L490.7,359.8 L490.9,359.8 L491.1,359.8 L491.3,359.8 L491.4,359.8 L491.6,359.8 L491.8,359.8 L492.0,359.8 L492.2,359.8 L492.4,359.8 L492.6,359.8 L492.8,359.8 L493.0,359.8 L493.2,359.8 L493.4,359.8 L493.6,359.8 L493.8,359.8 L494.0,359.8 L494.2,359.8 L494.4,359.8 L494.6,359.8 L494.8,359.8 L495.0,359.8 L495.2,359.8 L495.4,359.8 L495.5,359.8 L495.7,359.8 L495.9,359.8 L496.1,359.8 L496.3,359.8 L496.5,359.8 L496.7,359.8 L496.9,359.8 L497.1,359.8 L497.3,359.8 L497.5,359.8 L497.7,359.8 L497.9,359.8 L498.1,359.8 L498.3,359.8 L498.5,359.8 L498.7,359.8 L498.9,359.8 L499.1,359.8 L499.3,359.8 L499.4,359.8 L499.6,359.8 L499.8,359.8 L500.0,359.8 L500.2,359.8 L500.4,359.8 L500.6,359.8 L500.8,359.8 L501.0,359.8 L501.2,359.8 L501.4,359.8 L501.6,359.8 L501.8,359.8 L502.0,359.8 L502.2,359.8 L502.4,359.8 L502.6,359.8 L502.8,359.8 L503.0,359.8 L503.2,359.8 L503.4,359.8 L503.5,359.8 L503.7,359.8 L503.9,359.8 L504.1,359.8 L504.3,359.8 L504.5,359.8 L504.7,359.8 L504.9,359.8 L505.1,359.7 L505.3,359.7 L505.5,359.7 L505.7,359.7 L505.9,359.7 L506.1,359.6 L506.3,359.6 L506.5,359.5 L506.7,359.4 L506.9,359.3 L507.1,359.2 L507.3,359.0 L507.5,358.7 L507.6,358.3 L507.8,357.8 L508.0,357.0 L508.2,355.9 L508.4,354.5 L508.6,352.6 L508.8,350.1 L509.0,347.0 L509.2,343.0 L509.4,338.2 L509.6,332.5 L509.8,325.9 L510.0,318.4 L510.2,310.1 L510.4,301.2 L510.6,291.7 L510.8,281.9 L511.0,271.7 L511.2,261.0 L511.4,249.7 L511.6,256.5 L511.7,267.4 L511.9,277.8 L512.1,287.8 L512.3,297.4 L512.5,306.5 L512.7,315.1 L512.9,322.9 L513.1,329.9 L513.3,336.0 L513.5,341.2 L513.7,345.5 L513.9,348.9 L514.1,351.7 L514.3,353.8 L514.5,355.4 L514.7,356.6 L514.9,357.5 L515.1,358.1 L515.3,358.6 L515.5,358.9 L515.7,359.1 L515.8,359.3 L516.0,359.4 L516.2,359.5 L516.4,359.5 L516.6,359.6 L516.8,359.6 L517.0,359.7 L517.2,359.7 L517.4,359.7 L517.6,359.7 L517.8,359.7 L518.0,359.8 L518.2,359.8 L518.4,359.8 L518.6,359.8 L518.8,359.8 L519.0,359.8 L519.2,359.8 L519.4,359.8 L519.6,359.8 L519.8,359.8 L519.9,359.8 L520.1,359.8 L520.3,359.8 L520.5,359.8 L520.7,359.8 L520.9,359.8 L521.1,359.8 L521.3,359.8 L521.5,359.8 L521.7,359.8 L521.9,359.8 L522.1,359.8 L522.3,359.8 L522.5,359.8 L522.7,359.8 L522.9,359.8 L523.1,359.8 L523.3,359.8 L523.5,359.8 L523.7,359.8 L523.9,359.8 L524.0,359.8 L524.2,359.8 L524.4,359.8 L524.6,359.8 L524.8,359.8 L525.0,359.8 L525.2,359.8 L525.4,359.8 L525.6,359.8 L525.8,359.8 L526.0,359.8 L526.2,359.8 L526.4,359.8 L526.6,359.8 L526.8,359.8 L527.0,359.8 L527.2,359.8 L527.4,359.8 L527.6,359.8 L527.8,359.8 L528.0,359.8 L528.1,359.8 L528.3,359.8 L528.5,359.8 L528.7,359.8 L528.9,359.8 L529.1,359.8 L529.3,359.8 L529.5,359.8 L529.7,359.8 L529.9,359.8 L530.1,359.8 L530.3,359.8 L530.5,359.8 L530.7,359.8 L530.9,359.8 L531.1,359.8 L531.3,359.8 L531.5,359.8 L531.7,359.8 L531.9,359.8 L532.1,359.8 L532.2,359.8 L532.4,359.8 L532.6,359.8 L532.8,359.8 L533.0,359.8 L533.2,359.8 L533.4,359.8 L533.6,359.8 L533.8,359.8 L534.0,359.8 L534.2,359.8 L534.4,359.8 L534.6,359.8 L534.8,359.7 L535.0,359.7 L535.2,359.7 L535.4,359.7 L535.6,359.7 L535.8,359.7 L536.0,359.7 L536.2,359.7 L536.3,359.7 L536.5,359.7 L536.7,359.6 L536.9,359.6 L537.1,359.6 L537.3,359.6 L537.5,359.6 L537.7,359.5 L537.9,359.5 L538.1,359.5 L538.3,359.5 L538.5,359.4 L538.7,359.4 L538.9,359.4 L539.1,359.3 L539.3,359.3 L539.5,359.2 L539.7,359.2 L539.9,359.2 L540.1,359.1 L540.3,359.0 L540.4,358.9 L540.6,358.8 L540.8,358.7 L541.0,358.5 L541.2,358.4 L541.4,358.3 L541.6,358.1 L541.8,358.0 L542.0,357.8 L542.2,357.7 L542.4,357.5 L542.6,357.4 L542.8,357.2 L543.0,357.1 L543.2,356.9 L543.4,356.8 L543.6,356.6 L543.8,356.4 L544.0,356.3 L544.2,356.1 L544.3,356.0 L544.5,355.8 L544.7,355.6 L544.9,355.5 L545.1,355.3 L545.3,355.2 L545.5,355.0 L545.7,354.8 L545.9,354.7 L546.1,354.5 L546.3,354.4 L546.5,354.2 L546.7,354.1 L546.9,354.0 L547.1,353.8 L547.3,353.7 L547.5,353.6 L547.7,353.5 L547.9,353.4 L548.1,353.3 L548.3,353.2 L548.4,353.1 L548.6,353.0 L548.8,352.9 L549.0,352.8 L549.2,352.8 L549.4,352.7 L549.6,352.7 L549.8,352.6 L550.0,352.6 L550.2,352.6 L550.4,352.5 L550.6,352.5 L550.8,352.5 L551.0,352.5 L551.2,352.5 L551.4,352.5 L551.6,352.5 L551.8,352.5 L552.0,352.5 L552.2,352.6 L552.4,352.6 L552.5,352.6 L552.7,352.7 L552.9,352.8 L553.1,352.9 L553.3,353.0 L553.5,353.1 L553.7,353.2 L553.9,353.3 L554.1,353.5 L554.3,353.6 L554.5,353.7 L554.7,353.8 L554.9,353.9 L555.1,354.0 L555.3,354.1 L555.5,354.2 L555.7,354.3 L555.9,354.4 L556.1,354.5 L556.3,354.6 L556.5,354.7 L556.6,354.8 L556.8,354.8 L557.0,354.9 L557.2,355.0 L557.4,355.1 L557.6,355.2 L557.8,355.2 L558.0,355.3 L558.2,355.4 L558.4,355.4 L558.6,355.5 L558.8,355.6 L559.0,355.6 L559.2,355.7 L559.4,355.7 L559.6,355.8 L559.8,355.8 L560.0,355.8 L560.2,355.9 L560.4,355.9 L560.6,356.0 L560.7,356.0 L560.9,356.0 L561.1,356.0 L561.3,356.1 L561.5,356.1 L561.7,356.1 L561.9,356.1 L562.1,356.2 L562.3,356.2 L562.5,356.2 L562.7,356.2 L562.9,356.2 L563.1,356.2 L563.3,356.2 L563.5,356.2 L563.7,356.3 L563.9,356.3 L564.1,356.3 L564.3,356.3 L564.5,356.3 L564.7,356.3 L564.8,356.3 L565.0,356.3 L565.2,356.3 L565.4,356.3 L565.6,356.3 L565.8,356.3 L566.0,356.3 L566.2,356.3 L566.4,356.3 L566.6,356.3 L566.8,356.3 L567.0,356.3 L567.2,356.3 L567.4,356.3 L567.6,356.3 L567.8,356.3 L568.0,356.3 L568.2,356.3 L568.4,356.3 L568.6,356.3 L568.8,356.3 L568.9,356.2 L569.1,356.2 L569.3,356.2 L569.5,356.2 L569.7,356.2 L569.9,356.2 L570.1,356.2 L570.3,356.2 L570.5,356.2 L570.7,356.2 L570.9,356.2 L571.1,356.2 L571.3,356.2 L571.5,356.2 L571.7,356.2 L571.9,356.1 L572.1,356.1 L572.3,356.1 L572.5,356.1 L572.7,356.1 L572.9,356.1 L573.0,356.1 L573.2,356.1 L573.4,356.1 L573.6,356.1 L573.8,356.1 L574.0,356.1 L574.2,356.0 L574.4,356.0 L574.6,356.0 L574.8,356.0 L575.0,356.0 L575.2,356.0 L575.4,356.0 L575.6,356.0 L575.8,356.0 L576.0,356.0 L576.2,356.0 L576.4,356.0 L576.6,356.0 L576.8,355.9 L577.0,355.9 L577.1,355.9 L577.3,355.9 L577.5,355.9 L577.7,355.9 L577.9,355.9 L578.1,355.9 L578.3,355.9 L578.5,355.9 L578.7,355.9 L578.9,355.9 L579.1,355.9 L579.3,355.9 L579.5,355.9 L579.7,355.8 L579.9,355.8 L580.1,355.8 L580.3,355.8 L580.5,355.8 L580.7,355.8 L580.9,355.8 L581.1,355.8 L581.2,355.8 L581.4,355.8 L581.6,355.8 L581.8,355.8 L582.0,355.8 L582.2,355.8 L582.4,355.8 L582.6,355.8 L582.8,355.8 L583.0,355.8 L583.2,355.8 L583.4,355.8 L583.6,355.8 L583.8,355.8 L584.0,355.8 L584.2,355.8 L584.4,355.8 L584.6,355.8 L584.8,355.7 L585.0,355.7 L585.2,355.7 L585.3,355.7 L585.5,355.7 L585.7,355.7 L585.9,355.7 L586.1,355.7 L586.3,355.7 L586.5,355.7 L586.7,355.7 L586.9,355.7 L587.1,355.7 L587.3,355.7 L587.5,355.7 L587.7,355.7 L587.9,355.7 L588.1,355.7 L588.3,355.7 L588.5,355.7 L588.7,355.7 L588.9,355.7 L589.1,355.7 L589.2,355.7 L589.4,355.7 L589.6,355.7 L589.8,355.7 L590.0,355.7 L590.2,355.7 L590.4,355.7 L590.6,355.7 L590.8,355.7 L591.0,355.7 L591.2,355.7 L591.4,355.7 L591.6,355.7 L591.8,355.7 L592.0,355.7 L592.2,355.7 L592.4,355.7 L592.6,355.7 L592.8,355.7 L593.0,355.7 L593.2,355.7 L593.3,355.7 L593.5,355.7 L593.7,355.7 L593.9,355.7 L594.1,355.7 L594.3,355.7 L594.5,355.7 L594.7,355.7 L594.9,355.7 L595.1,355.7 L595.3,355.7 L595.5,355.7 L595.7,355.7 L595.9,355.7 L596.1,355.7 L596.3,355.7 L596.5,355.7 L596.7,355.7 L596.9,355.7 L597.1,355.7 L597.3,355.7 L597.4,355.7 L597.6,355.7 L597.8,355.7 L598.0,355.7 L598.2,355.7 L598.4,355.7 L598.6,355.7 L598.8,355.7 L599.0,355.7 L599.2,355.7 L599.4,355.7 L599.6,355.7 L599.8,355.7 L600.0,355.7 L600.2,355.7 L600.4,355.7 L600.6,355.7 L600.8,355.7 L601.0,355.7 L601.2,355.7 L601.4,355.7 L601.5,355.7 L601.7,355.7 L601.9,355.7 L602.1,355.7 L602.3,355.7 L602.5,355.7 L602.7,355.7 L602.9,355.7 L603.1,355.7 L603.3,355.7 L603.5,355.7 L603.7,355.7 L603.9,355.7 L604.1,355.7 L604.3,355.7 L604.5,355.7 L604.7,355.7 L604.9,355.7 L605.1,355.7 L605.3,355.7 L605.5,355.7 L605.6,355.7 L605.8,355.7 L606.0,355.7 L606.2,355.7 L606.4,355.7 L606.6,355.7 L606.8,355.7 L607.0,355.7 L607.2,355.7 L607.4,355.7 L607.6,355.7 L607.8,355.7 L608.0,355.7 L608.2,355.7 L608.4,355.7 L608.6,355.7 L608.8,355.7 L609.0,355.7 L609.2,355.7 L609.4,355.7 L609.6,355.7 L609.7,355.7 L609.9,355.7 L610.1,355.7 L610.3,355.7 L610.5,355.7 L610.7,355.7 L610.9,355.7 L611.1,355.7 L611.3,355.7 L611.5,355.7 L611.7,355.7 L611.9,355.7 L612.1,355.7 L612.3,355.7 L612.5,355.7 L612.7,355.7 L612.9,355.7 L613.1,355.7 L613.3,355.7 L613.5,355.7 L613.7,355.7 L613.8,355.7 L614.0,355.7 L614.2,355.7 L614.4,355.7 L614.6,355.7 L614.8,355.7 L615.0,355.7 L615.2,355.7 L615.4,355.7 L615.6,355.7 L615.8,355.7 L616.0,355.7 L616.2,355.7 L616.4,355.7 L616.6,355.7 L616.8,355.7 L617.0,355.7 L617.2,355.7 L617.4,355.7 L617.6,355.7 L617.8,355.7 L617.9,355.7 L618.1,355.7 L618.3,355.7 L618.5,355.7 L618.7,355.7 L618.9,355.7 L619.1,355.7 L619.3,355.7 L619.5,355.7 L619.7,355.7 L619.9,355.7 L620.1,355.7 L620.3,355.7 L620.5,355.7 L620.7,355.7 L620.9,355.7 L621.1,355.7 L621.3,355.7 L621.5,355.7 L621.7,355.7 L621.9,355.7 L622.0,355.7 L622.2,355.7 L622.4,355.7 L622.6,355.7 L622.8,355.7 L623.0,355.7 L623.2,355.7 L623.4,355.7 L623.6,355.7 L623.8,355.7 L624.0,355.7 L624.2,355.7 L624.4,355.7 L624.6,355.7 L624.8,355.7 L625.0,355.7 L625.2,355.7 L625.4,355.7 L625.6,355.7 L625.8,355.7 L626.0,355.7 L626.1,355.7 L626.3,355.7 L626.5,355.7 L626.7,355.7 L626.9,355.7 L627.1,355.7 L627.3,355.7 L627.5,355.7 L627.7,355.7 L627.9,355.7 L628.1,355.7 L628.3,355.7 L628.5,355.7 L628.7,355.7 L628.9,355.7 L629.1,355.7 L629.3,355.7 L629.5,355.7 L629.7,355.7 L629.9,355.7 L630.1,355.7 L630.2,355.7 L630.4,355.7 L630.6,355.7 L630.8,355.7 L631.0,355.7 L631.2,355.7 L631.4,355.7 L631.6,355.7 L631.8,355.7 L632.0,355.7 L632.2,355.7 L632.4,355.7 L632.6,355.7 L632.8,355.7 L633.0,355.7 L633.2,355.7 L633.4,355.7 L633.6,355.7 L633.8,355.7 L634.0,355.7 L634.1,355.7 L634.3,355.7 L634.5,355.7 L634.7,355.7 L634.9,355.7 L635.1,355.7 L635.3,355.7 L635.5,355.7 L635.7,355.7 L635.9,355.7 L636.1,355.7 L636.3,355.7 L636.5,355.7 L636.7,355.7 L636.9,355.7 L637.1,355.7 L637.3,355.7 L637.5,355.7 L637.7,355.7 L637.9,355.7 L638.1,355.7 L638.2,355.7 L638.4,355.7 L638.6,355.7 L638.8,355.7 L639.0,355.7 L639.2,355.7 L639.4,355.7 L639.6,355.7 L639.8,355.7 L640.0,355.7 L640.2,355.7 L640.4,355.7 L640.6,355.7 L640.8,355.7 L641.0,355.7 L641.2,355.7 L641.4,355.7 L641.6,355.7 L641.8,355.7 L642.0,355.7 L642.2,355.7 L642.3,355.7 L642.5,355.7 L642.7,355.7 L642.9,355.7 L643.1,355.7 L643.3,355.7 L643.5,355.7 L643.7,355.7 L643.9,355.7 L644.1,355.7 L644.3,355.7 L644.5,355.7 L644.7,355.7 L644.9,355.7 L645.1,355.7 L645.3,355.7 L645.5,355.7 L645.7,355.7 L645.9,355.7 L646.1,355.7 L646.3,355.7 L646.4,355.7 L646.6,355.7 L646.8,355.7 L647.0,355.7 L647.2,355.7 L647.4,355.7 L647.6,355.7 L647.8,355.7 L648.0,355.7 L648.2,355.7 L648.4,355.7 L648.6,355.7 L648.8,355.7 L649.0,355.7 L649.2,355.7 L649.4,355.7 L649.6,355.7 L649.8,355.7 L650.0,355.7 L650.2,355.7 L650.4,355.7 L650.5,355.7 L650.7,355.7 L650.9,355.7 L651.1,355.7 L651.3,355.7 L651.5,355.7 L651.7,355.7 L651.9,355.7 L652.1,355.7 L652.3,355.7 L652.5,355.7" stroke="#1a3a78" stroke-width="1.4" fill="none" stroke-linejoin="round"/>
</g>
<rect x="477.0" y="223.2" width="175.5" height="143.2" fill="none" stroke="#333" stroke-width="1.1"/>
<line x1="474.0" y1="359.8" x2="477.0" y2="359.8" stroke="#333" stroke-width="1.1"/>
<text x="473.4" y="363.1" font-size="9.2" text-anchor="end" fill="#222" font-weight="normal">0</text>
<line x1="474.0" y1="337.03333333333336" x2="477.0" y2="337.03333333333336" stroke="#333" stroke-width="1.1"/>
<text x="473.4" y="340.33333333333337" font-size="9.2" text-anchor="end" fill="#222" font-weight="normal">5</text>
<line x1="474.0" y1="314.26666666666665" x2="477.0" y2="314.26666666666665" stroke="#333" stroke-width="1.1"/>
<text x="473.4" y="317.56666666666666" font-size="9.2" text-anchor="end" fill="#222" font-weight="normal">10</text>
<line x1="474.0" y1="291.5" x2="477.0" y2="291.5" stroke="#333" stroke-width="1.1"/>
<text x="473.4" y="294.8" font-size="9.2" text-anchor="end" fill="#222" font-weight="normal">15</text>
<line x1="474.0" y1="268.73333333333335" x2="477.0" y2="268.73333333333335" stroke="#333" stroke-width="1.1"/>
<text x="473.4" y="272.03333333333336" font-size="9.2" text-anchor="end" fill="#222" font-weight="normal">20</text>
<line x1="474.0" y1="245.96666666666667" x2="477.0" y2="245.96666666666667" stroke="#333" stroke-width="1.1"/>
<text x="473.4" y="249.26666666666668" font-size="9.2" text-anchor="end" fill="#222" font-weight="normal">25</text>
<line x1="474.0" y1="223.2" x2="477.0" y2="223.2" stroke="#333" stroke-width="1.1"/>
<text x="473.4" y="226.5" font-size="9.2" text-anchor="end" fill="#222" font-weight="normal">30</text>
<line x1="475.0" y1="348.4166666666667" x2="477.0" y2="348.4166666666667" stroke="#333" stroke-width="1"/>
<line x1="475.0" y1="325.65" x2="477.0" y2="325.65" stroke="#333" stroke-width="1"/>
<line x1="475.0" y1="302.8833333333333" x2="477.0" y2="302.8833333333333" stroke="#333" stroke-width="1"/>
<line x1="475.0" y1="280.1166666666667" x2="477.0" y2="280.1166666666667" stroke="#333" stroke-width="1"/>
<line x1="475.0" y1="257.35" x2="477.0" y2="257.35" stroke="#333" stroke-width="1"/>
<line x1="475.0" y1="234.58333333333331" x2="477.0" y2="234.58333333333331" stroke="#333" stroke-width="1"/>
<line x1="652.5" y1="359.8" x2="655.5" y2="359.8" stroke="#333" stroke-width="1.1"/>
<text x="656.5" y="363.1" font-size="9.2" text-anchor="start" fill="#222" font-weight="normal">0</text>
<line x1="652.5" y1="332.48" x2="655.5" y2="332.48" stroke="#333" stroke-width="1.1"/>
<text x="656.5" y="335.78000000000003" font-size="9.2" text-anchor="start" fill="#222" font-weight="normal">2</text>
<line x1="652.5" y1="305.16" x2="655.5" y2="305.16" stroke="#333" stroke-width="1.1"/>
<text x="656.5" y="308.46000000000004" font-size="9.2" text-anchor="start" fill="#222" font-weight="normal">4</text>
<line x1="652.5" y1="277.84000000000003" x2="655.5" y2="277.84000000000003" stroke="#333" stroke-width="1.1"/>
<text x="656.5" y="281.14000000000004" font-size="9.2" text-anchor="start" fill="#222" font-weight="normal">6</text>
<line x1="652.5" y1="250.51999999999998" x2="655.5" y2="250.51999999999998" stroke="#333" stroke-width="1.1"/>
<text x="656.5" y="253.82" font-size="9.2" text-anchor="start" fill="#222" font-weight="normal">8</text>
<line x1="652.5" y1="223.2" x2="655.5" y2="223.2" stroke="#333" stroke-width="1.1"/>
<text x="656.5" y="226.5" font-size="9.2" text-anchor="start" fill="#222" font-weight="normal">10</text>
<line x1="652.5" y1="346.14" x2="654.5" y2="346.14" stroke="#333" stroke-width="1"/>
<line x1="652.5" y1="318.82" x2="654.5" y2="318.82" stroke="#333" stroke-width="1"/>
<line x1="652.5" y1="291.5" x2="654.5" y2="291.5" stroke="#333" stroke-width="1"/>
<line x1="652.5" y1="264.18" x2="654.5" y2="264.18" stroke="#333" stroke-width="1"/>
<line x1="652.5" y1="236.86" x2="654.5" y2="236.86" stroke="#333" stroke-width="1"/>
<line x1="477.0" y1="366.4" x2="477.0" y2="369.4" stroke="#333" stroke-width="1.1"/>
<text x="477.0" y="378.3" font-size="9.2" text-anchor="middle" fill="#222" font-weight="normal">0</text>
<line x1="512.1" y1="366.4" x2="512.1" y2="369.4" stroke="#333" stroke-width="1.1"/>
<text x="512.1" y="378.3" font-size="9.2" text-anchor="middle" fill="#222" font-weight="normal">2</text>
<line x1="547.2" y1="366.4" x2="547.2" y2="369.4" stroke="#333" stroke-width="1.1"/>
<text x="547.2" y="378.3" font-size="9.2" text-anchor="middle" fill="#222" font-weight="normal">4</text>
<line x1="582.3" y1="366.4" x2="582.3" y2="369.4" stroke="#333" stroke-width="1.1"/>
<text x="582.3" y="378.3" font-size="9.2" text-anchor="middle" fill="#222" font-weight="normal">6</text>
<line x1="617.4" y1="366.4" x2="617.4" y2="369.4" stroke="#333" stroke-width="1.1"/>
<text x="617.4" y="378.3" font-size="9.2" text-anchor="middle" fill="#222" font-weight="normal">8</text>
<line x1="652.5" y1="366.4" x2="652.5" y2="369.4" stroke="#333" stroke-width="1.1"/>
<text x="652.5" y="378.3" font-size="9.2" text-anchor="middle" fill="#222" font-weight="normal">10</text>
<line x1="494.55" y1="366.4" x2="494.55" y2="368.4" stroke="#333" stroke-width="1"/>
<line x1="529.65" y1="366.4" x2="529.65" y2="368.4" stroke="#333" stroke-width="1"/>
<line x1="564.75" y1="366.4" x2="564.75" y2="368.4" stroke="#333" stroke-width="1"/>
<line x1="599.85" y1="366.4" x2="599.85" y2="368.4" stroke="#333" stroke-width="1"/>
<line x1="634.95" y1="366.4" x2="634.95" y2="368.4" stroke="#333" stroke-width="1"/>
<text x="439.4" y="231.9" font-size="19" text-anchor="start" fill="#222" font-weight="normal">i</text>
<text x="518" y="297.1" font-size="9.5" text-anchor="start" fill="#1a3a78" font-weight="normal">4.34</text>
<text x="518.5" y="338.7" font-size="9.5" text-anchor="start" fill="#62aee4" font-weight="normal">1.27</text>
<text x="518.5" y="352.2" font-size="9.5" text-anchor="start" fill="#f6a088" font-weight="normal">0.39</text>
<text x="636" y="232.9" font-size="9" text-anchor="middle" fill="#222" font-weight="normal">LE</text>
<text x="638" y="245.2" font-size="9" text-anchor="middle" fill="#222" font-weight="normal">25 <tspan font-size="6.1" baseline-shift="3.42">o</tspan>C</text>
<line x1="574.6" y1="305.3" x2="592" y2="305.3" stroke="#1a3a78" stroke-width="1.4"/>
<text x="594" y="307.90000000000003" font-size="7.8" text-anchor="start" fill="#222" font-weight="normal">Zn-H<tspan font-size="5.3" baseline-shift="-1.72">2</tspan>O</text>
<line x1="574.6" y1="317" x2="592" y2="317" stroke="#62aee4" stroke-width="1.4"/>
<text x="594" y="319.6" font-size="7.8" text-anchor="start" fill="#222" font-weight="normal">Zn-ClO<tspan font-size="5.3" baseline-shift="-1.72">4</tspan><tspan font-size="5.3" baseline-shift="2.96">-</tspan></text>
<line x1="574.6" y1="328.4" x2="592" y2="328.4" stroke="#f6a088" stroke-width="1.4"/>
<text x="594" y="331.0" font-size="7.8" text-anchor="start" fill="#222" font-weight="normal">Zn-O (Maltose)</text>
<text x="565" y="396.3" font-size="12" text-anchor="middle" fill="#222" font-weight="normal">r (Å)</text>
<text x="457.5" y="295" font-size="12" text-anchor="middle" fill="#222" font-weight="normal" transform="rotate(-90 457.5 295)">g (r)</text>
<text x="678.8" y="294.8" font-size="11.6" text-anchor="middle" fill="#222" font-weight="normal" transform="rotate(-90 678.8 294.8)">Coordination number</text>
<g clip-path="url(#clipJ)">
<path d="M479.4,546.6 L479.7,546.6 L480.0,546.6 L480.3,546.6 L480.6,546.6 L480.9,546.6 L481.2,546.6 L481.5,546.6 L481.8,546.6 L482.1,546.6 L482.4,546.6 L482.7,546.6 L483.0,546.6 L483.3,546.6 L483.5,546.6 L483.8,546.6 L484.1,546.6 L484.4,546.6 L484.7,546.6 L485.0,546.6 L485.3,546.6 L485.6,546.6 L485.9,546.6 L486.2,546.6 L486.5,546.6 L486.8,546.6 L487.1,546.6 L487.4,546.6 L487.7,546.6 L488.0,546.6 L488.3,546.6 L488.6,546.6 L488.9,546.6 L489.2,546.6 L489.5,546.6 L489.8,546.6 L490.1,546.6 L490.4,546.6 L490.7,546.6 L491.0,546.6 L491.2,546.6 L491.5,546.6 L491.8,546.6 L492.1,546.6 L492.4,546.6 L492.7,546.6 L493.0,546.6 L493.3,546.6 L493.6,546.6 L493.9,546.6 L494.2,546.6 L494.5,546.6 L494.8,546.6 L495.1,546.3 L495.4,545.3 L495.7,543.8 L496.0,541.9 L496.3,539.8 L496.6,537.4 L496.9,534.8 L497.2,530.5 L497.5,525.0 L497.8,519.0 L498.1,513.2 L498.4,508.3 L498.7,505.1 L499.0,503.0 L499.2,501.0 L499.5,499.3 L499.8,497.9 L500.1,496.8 L500.4,496.2 L500.7,496.0 L501.0,495.9 L501.3,495.9 L501.6,495.8 L501.9,495.7 L502.2,495.7 L502.5,495.7 L502.8,495.6 L503.1,495.6 L503.4,495.6 L503.7,495.6 L504.0,495.5 L504.3,495.5 L504.6,495.5 L504.9,495.5 L505.2,495.5 L505.5,495.5 L505.8,495.5 L506.1,495.5 L506.4,495.5 L506.7,495.5 L507.0,495.5 L507.2,495.5 L507.5,495.5 L507.8,495.5 L508.1,495.5 L508.4,495.5 L508.7,495.5 L509.0,495.5 L509.3,495.5 L509.6,495.5 L509.9,495.5 L510.2,495.5 L510.5,495.5 L510.8,495.5 L511.1,495.5 L511.4,495.5 L511.7,495.5 L512.0,495.5 L512.3,495.5 L512.6,495.5 L512.9,495.5 L513.2,495.5 L513.5,495.5 L513.8,495.5 L514.1,495.5 L514.4,495.5 L514.7,495.5 L514.9,495.5 L515.2,495.5 L515.5,495.5 L515.8,495.5 L516.1,495.5 L516.4,495.5 L516.7,495.5 L517.0,495.5 L517.3,495.5 L517.6,495.5 L517.9,495.5 L518.2,495.5 L518.5,495.5 L518.8,495.5 L519.1,495.5 L519.4,495.5 L519.7,495.5 L520.0,495.5 L520.3,495.5 L520.6,495.5 L520.9,495.5 L521.2,495.5 L521.5,495.5 L521.8,495.5 L522.1,495.5 L522.4,495.5 L522.7,495.5 L522.9,495.5 L523.2,495.5 L523.5,495.5 L523.8,495.5 L524.1,495.5 L524.4,495.5 L524.7,495.5 L525.0,495.5 L525.3,495.5 L525.6,495.5 L525.9,495.5 L526.2,495.5 L526.5,495.5 L526.8,495.5 L527.1,495.5 L527.4,495.5 L527.7,495.5 L528.0,495.5 L528.3,495.4 L528.6,495.3 L528.9,495.2 L529.2,495.0 L529.5,494.8 L529.8,494.6 L530.1,494.4 L530.4,494.1 L530.6,493.9 L530.9,493.6 L531.2,493.3 L531.5,493.0 L531.8,492.7 L532.1,492.4 L532.4,492.1 L532.7,491.7 L533.0,491.4 L533.3,490.9 L533.6,490.5 L533.9,490.0 L534.2,489.4 L534.5,488.8 L534.8,488.2 L535.1,487.6 L535.4,486.9 L535.7,486.2 L536.0,485.5 L536.3,484.7 L536.6,483.9 L536.9,483.0 L537.2,482.0 L537.5,480.8 L537.8,479.6 L538.1,478.3 L538.4,477.0 L538.6,475.6 L538.9,474.2 L539.2,472.8 L539.5,471.4 L539.8,470.0 L540.1,468.7 L540.4,467.4 L540.7,466.1 L541.0,465.0 L541.3,463.8 L541.6,462.6 L541.9,461.5 L542.2,460.3 L542.5,459.1 L542.8,458.0 L543.1,456.9 L543.4,455.8 L543.7,454.8 L544.0,453.8 L544.3,452.9 L544.6,452.0 L544.9,451.3 L545.2,450.6 L545.5,450.0 L545.8,449.4 L546.1,448.9 L546.4,448.4 L546.6,447.9 L546.9,447.4 L547.2,447.0 L547.5,446.6 L547.8,446.2 L548.1,445.8 L548.4,445.4 L548.7,445.1 L549.0,444.7 L549.3,444.3 L549.6,443.9 L549.9,443.5 L550.2,443.2 L550.5,442.7 L550.8,442.3 L551.1,441.9 L551.4,441.4 L551.7,440.9 L552.0,440.4 L552.3,439.8 L552.6,439.2 L552.9,438.6 L553.2,438.0 L553.5,437.3 L553.8,436.7 L554.1,436.0 L554.3,435.3 L554.6,434.6 L554.9,433.8 L555.2,433.1 L555.5,432.4 L555.8,431.6 L556.1,430.8 L556.4,430.1 L556.7,429.3 L557.0,428.5 L557.3,427.7 L557.6,426.9 L557.9,426.2 L558.2,425.4 L558.5,424.6 L558.8,423.8 L559.1,423.1 L559.4,422.3 L559.7,421.5 L560.0,420.8 L560.3,420.0 L560.6,419.3 L560.9,418.6 L561.2,417.8 L561.5,417.1 L561.8,416.3 L562.1,415.5 L562.3,414.8 L562.6,414.0 L562.9,413.3 L563.2,412.5 L563.5,411.8 L563.8,411.0 L564.1,410.2 L564.4,409.5 L564.7,408.7 L565.0,407.9 L565.3,407.2 L565.6,406.4 L565.9,405.6 L566.2,404.8 L566.5,404.1 L566.8,403.3 L567.1,402.5 L567.4,401.7 L567.7,400.9 L568.0,400.2" stroke="#1f3f80" stroke-width="1.25" fill="none" stroke-dasharray="2.4 1.6"/>
<path d="M479.4,546.6 L479.8,546.6 L480.1,546.6 L480.5,546.6 L480.8,546.6 L481.2,546.6 L481.5,546.6 L481.9,546.6 L482.2,546.6 L482.6,546.6 L482.9,546.6 L483.3,546.6 L483.7,546.6 L484.0,546.6 L484.4,546.6 L484.7,546.6 L485.1,546.6 L485.4,546.6 L485.8,546.6 L486.1,546.6 L486.5,546.6 L486.8,546.6 L487.2,546.6 L487.5,546.6 L487.9,546.6 L488.3,546.6 L488.6,546.6 L489.0,546.6 L489.3,546.6 L489.7,546.6 L490.0,546.6 L490.4,546.6 L490.7,546.6 L491.1,546.6 L491.4,546.6 L491.8,546.6 L492.2,546.6 L492.5,546.6 L492.9,546.6 L493.2,546.6 L493.6,546.6 L493.9,546.6 L494.3,546.6 L494.6,546.6 L495.0,546.5 L495.3,546.0 L495.7,545.0 L496.0,543.7 L496.4,542.2 L496.8,540.7 L497.1,539.3 L497.5,538.1 L497.8,537.2 L498.2,536.4 L498.5,535.6 L498.9,534.8 L499.2,534.1 L499.6,533.5 L499.9,533.0 L500.3,532.7 L500.7,532.6 L501.0,532.5 L501.4,532.5 L501.7,532.5 L502.1,532.4 L502.4,532.4 L502.8,532.4 L503.1,532.4 L503.5,532.4 L503.8,532.4 L504.2,532.3 L504.5,532.3 L504.9,532.3 L505.3,532.3 L505.6,532.3 L506.0,532.3 L506.3,532.3 L506.7,532.3 L507.0,532.3 L507.4,532.3 L507.7,532.3 L508.1,532.3 L508.4,532.3 L508.8,532.3 L509.2,532.3 L509.5,532.3 L509.9,532.3 L510.2,532.3 L510.6,532.3 L510.9,532.3 L511.3,532.3 L511.6,532.3 L512.0,532.3 L512.3,532.3 L512.7,532.3 L513.0,532.3 L513.4,532.3 L513.8,532.3 L514.1,532.3 L514.5,532.3 L514.8,532.3 L515.2,532.3 L515.5,532.3 L515.9,532.3 L516.2,532.3 L516.6,532.3 L516.9,532.3 L517.3,532.3 L517.7,532.3 L518.0,532.3 L518.4,532.3 L518.7,532.3 L519.1,532.3 L519.4,532.3 L519.8,532.3 L520.1,532.3 L520.5,532.3 L520.8,532.3 L521.2,532.3 L521.5,532.3 L521.9,532.3 L522.3,532.3 L522.6,532.3 L523.0,532.3 L523.3,532.3 L523.7,532.3 L524.0,532.3 L524.4,532.3 L524.7,532.3 L525.1,532.3 L525.4,532.3 L525.8,532.3 L526.2,532.3 L526.5,532.3 L526.9,532.3 L527.2,532.3 L527.6,532.3 L527.9,532.3 L528.3,532.2 L528.6,532.0 L529.0,531.7 L529.3,531.4 L529.7,531.1 L530.1,530.6 L530.4,530.2 L530.8,529.7 L531.1,529.2 L531.5,528.6 L531.8,528.1 L532.2,527.5 L532.5,526.8 L532.9,526.0 L533.2,525.0 L533.6,523.9 L533.9,522.6 L534.3,521.2 L534.7,519.7 L535.0,518.1 L535.4,516.4 L535.7,514.7 L536.1,513.0 L536.4,511.2 L536.8,509.5 L537.1,507.9 L537.5,506.2 L537.8,504.3 L538.2,502.4 L538.6,500.4 L538.9,498.3 L539.3,496.2 L539.6,494.1 L540.0,492.0 L540.3,489.9 L540.7,488.0 L541.0,486.1 L541.4,484.4 L541.7,482.8 L542.1,481.4 L542.4,480.0 L542.8,478.7 L543.2,477.5 L543.5,476.3 L543.9,475.1 L544.2,474.0 L544.6,473.0 L544.9,472.0 L545.3,471.0 L545.6,470.2 L546.0,469.3 L546.3,468.6 L546.7,467.8 L547.1,467.1 L547.4,466.5 L547.8,465.8 L548.1,465.2 L548.5,464.5 L548.8,463.9 L549.2,463.3 L549.5,462.8 L549.9,462.2 L550.2,461.7 L550.6,461.2 L550.9,460.7 L551.3,460.2 L551.7,459.7 L552.0,459.2 L552.4,458.7 L552.7,458.3 L553.1,457.8 L553.4,457.3 L553.8,456.9 L554.1,456.4 L554.5,456.0 L554.8,455.6 L555.2,455.1 L555.6,454.7 L555.9,454.2 L556.3,453.8 L556.6,453.3 L557.0,452.9 L557.3,452.4 L557.7,451.9 L558.0,451.4 L558.4,450.9 L558.7,450.4 L559.1,449.9 L559.4,449.4 L559.8,448.8 L560.2,448.3 L560.5,447.7 L560.9,447.1 L561.2,446.6 L561.6,446.0 L561.9,445.4 L562.3,444.8 L562.6,444.2 L563.0,443.6 L563.3,442.9 L563.7,442.3 L564.1,441.7 L564.4,441.1 L564.8,440.4 L565.1,439.8 L565.5,439.2 L565.8,438.5 L566.2,437.9 L566.5,437.2 L566.9,436.6 L567.2,435.9 L567.6,435.3 L567.9,434.6 L568.3,434.0 L568.7,433.3 L569.0,432.7 L569.4,432.0 L569.7,431.3 L570.1,430.7 L570.4,430.0 L570.8,429.4 L571.1,428.7 L571.5,428.1 L571.8,427.4 L572.2,426.7 L572.6,426.1 L572.9,425.4 L573.3,424.8 L573.6,424.1 L574.0,423.5 L574.3,422.8 L574.7,422.2 L575.0,421.5 L575.4,420.9 L575.7,420.3 L576.1,419.6 L576.5,419.0 L576.8,418.4 L577.2,417.8 L577.5,417.2 L577.9,416.5 L578.2,415.9 L578.6,415.3 L578.9,414.7 L579.3,414.1 L579.6,413.5 L580.0,412.9 L580.3,412.3 L580.7,411.7 L581.1,411.1 L581.4,410.5 L581.8,409.9 L582.1,409.3 L582.5,408.7 L582.8,408.1 L583.2,407.6 L583.5,407.0 L583.9,406.4 L584.2,405.8 L584.6,405.2 L585.0,404.6 L585.3,404.0" stroke="#5aaae2" stroke-width="1.25" fill="none" stroke-dasharray="2.4 1.6"/>
<path d="M479.4,546.6 L479.9,546.6 L480.5,546.6 L481.0,546.6 L481.5,546.6 L482.1,546.6 L482.6,546.6 L483.1,546.6 L483.7,546.6 L484.2,546.6 L484.7,546.6 L485.3,546.6 L485.8,546.6 L486.3,546.6 L486.9,546.6 L487.4,546.6 L488.0,546.6 L488.5,546.6 L489.0,546.6 L489.6,546.6 L490.1,546.6 L490.6,546.6 L491.2,546.6 L491.7,546.6 L492.2,546.6 L492.8,546.6 L493.3,546.3 L493.8,545.1 L494.4,543.7 L494.9,542.5 L495.4,541.4 L496.0,540.3 L496.5,539.6 L497.0,539.4 L497.6,539.4 L498.1,539.3 L498.6,539.3 L499.2,539.2 L499.7,539.2 L500.2,539.2 L500.8,539.2 L501.3,539.2 L501.8,539.2 L502.4,539.2 L502.9,539.2 L503.5,539.2 L504.0,539.2 L504.5,539.2 L505.1,539.2 L505.6,539.2 L506.1,539.2 L506.7,539.2 L507.2,539.2 L507.7,539.2 L508.3,539.2 L508.8,539.2 L509.3,539.2 L509.9,539.2 L510.4,539.2 L510.9,539.2 L511.5,539.2 L512.0,539.2 L512.5,539.2 L513.1,539.2 L513.6,539.2 L514.1,539.2 L514.7,539.2 L515.2,539.2 L515.7,539.2 L516.3,539.2 L516.8,539.2 L517.4,539.2 L517.9,539.2 L518.4,539.2 L519.0,539.2 L519.5,539.2 L520.0,539.2 L520.6,539.2 L521.1,539.2 L521.6,539.2 L522.2,539.2 L522.7,539.2 L523.2,539.2 L523.8,539.2 L524.3,539.2 L524.8,539.2 L525.4,539.2 L525.9,539.2 L526.4,539.2 L527.0,539.2 L527.5,539.2 L528.0,539.2 L528.6,539.0 L529.1,538.8 L529.6,538.5 L530.2,538.1 L530.7,537.7 L531.2,537.2 L531.8,536.6 L532.3,536.1 L532.9,535.5 L533.4,534.9 L533.9,534.1 L534.5,533.0 L535.0,531.7 L535.5,530.3 L536.1,528.8 L536.6,527.2 L537.1,525.6 L537.7,524.1 L538.2,522.7 L538.7,521.4 L539.3,520.3 L539.8,519.3 L540.3,518.2 L540.9,517.2 L541.4,516.2 L541.9,515.2 L542.5,514.3 L543.0,513.5 L543.5,512.8 L544.1,512.2 L544.6,511.8 L545.1,511.5 L545.7,511.2 L546.2,511.0 L546.7,510.8 L547.3,510.6 L547.8,510.4 L548.4,510.3 L548.9,510.1 L549.4,510.0 L550.0,509.9 L550.5,509.7 L551.0,509.6 L551.6,509.5 L552.1,509.4 L552.6,509.3 L553.2,509.2 L553.7,509.2 L554.2,509.1 L554.8,509.0 L555.3,508.9 L555.8,508.7 L556.4,508.6 L556.9,508.5 L557.4,508.4 L558.0,508.2 L558.5,508.1 L559.0,507.9 L559.6,507.7 L560.1,507.5 L560.6,507.3 L561.2,507.0 L561.7,506.8 L562.3,506.5 L562.8,506.2 L563.3,506.0 L563.9,505.7 L564.4,505.4 L564.9,505.0 L565.5,504.7 L566.0,504.4 L566.5,504.0 L567.1,503.7 L567.6,503.3 L568.1,503.0 L568.7,502.6 L569.2,502.2 L569.7,501.8 L570.3,501.4 L570.8,501.1 L571.3,500.7 L571.9,500.3 L572.4,499.8 L572.9,499.4 L573.5,499.0 L574.0,498.6 L574.5,498.2 L575.1,497.8 L575.6,497.4 L576.1,496.9 L576.7,496.5 L577.2,496.1 L577.8,495.7 L578.3,495.3 L578.8,494.9 L579.4,494.4 L579.9,494.0 L580.4,493.6 L581.0,493.2 L581.5,492.8 L582.0,492.4 L582.6,492.0 L583.1,491.6 L583.6,491.2 L584.2,490.8 L584.7,490.3 L585.2,489.9 L585.8,489.5 L586.3,489.1 L586.8,488.7 L587.4,488.2 L587.9,487.8 L588.4,487.4 L589.0,486.9 L589.5,486.5 L590.0,486.1 L590.6,485.6 L591.1,485.2 L591.6,484.7 L592.2,484.3 L592.7,483.8 L593.3,483.3 L593.8,482.8 L594.3,482.4 L594.9,481.9 L595.4,481.4 L595.9,480.9 L596.5,480.4 L597.0,479.9 L597.5,479.3 L598.1,478.8 L598.6,478.3 L599.1,477.7 L599.7,477.2 L600.2,476.6 L600.7,476.1 L601.3,475.5 L601.8,474.9 L602.3,474.3 L602.9,473.7 L603.4,473.1 L603.9,472.5 L604.5,471.8 L605.0,471.2 L605.5,470.5 L606.1,469.8 L606.6,469.2 L607.1,468.5 L607.7,467.7 L608.2,467.0 L608.8,466.2 L609.3,465.3 L609.8,464.5 L610.4,463.6 L610.9,462.6 L611.4,461.7 L612.0,460.7 L612.5,459.6 L613.0,458.6 L613.6,457.5 L614.1,456.4 L614.6,455.3 L615.2,454.2 L615.7,453.1 L616.2,451.9 L616.8,450.7 L617.3,449.5 L617.8,448.3 L618.4,447.1 L618.9,445.9 L619.4,444.6 L620.0,443.4 L620.5,442.2 L621.0,440.9 L621.6,439.7 L622.1,438.4 L622.7,437.2 L623.2,435.9 L623.7,434.7 L624.3,433.4 L624.8,432.2 L625.3,430.9 L625.9,429.7 L626.4,428.5 L626.9,427.3 L627.5,426.1 L628.0,425.0 L628.5,423.8 L629.1,422.7 L629.6,421.6 L630.1,420.5 L630.7,419.4 L631.2,418.3 L631.7,417.3 L632.3,416.3 L632.8,415.3 L633.3,414.3 L633.9,413.4 L634.4,412.4 L634.9,411.4 L635.5,410.5 L636.0,409.6 L636.5,408.6 L637.1,407.7 L637.6,406.8 L638.2,405.9 L638.7,405.0 L639.2,404.0" stroke="#ee2a2a" stroke-width="1.25" fill="none" stroke-dasharray="2.4 1.6"/>
<path d="M479.4,546.6 L479.9,546.6 L480.3,546.6 L480.8,546.6 L481.2,546.6 L481.7,546.6 L482.1,546.6 L482.6,546.6 L483.0,546.6 L483.5,546.6 L483.9,546.6 L484.4,546.6 L484.8,546.6 L485.3,546.6 L485.7,546.6 L486.2,546.6 L486.6,546.6 L487.1,546.6 L487.5,546.6 L488.0,546.6 L488.4,546.6 L488.9,546.6 L489.3,546.6 L489.8,546.6 L490.2,546.6 L490.7,546.6 L491.1,546.6 L491.6,546.6 L492.0,546.6 L492.5,546.6 L492.9,546.6 L493.4,546.6 L493.8,546.6 L494.3,546.6 L494.7,546.6 L495.2,546.5 L495.6,546.1 L496.1,545.5 L496.5,544.8 L497.0,544.2 L497.4,543.6 L497.9,543.2 L498.3,542.9 L498.8,542.5 L499.2,542.2 L499.7,541.9 L500.1,541.8 L500.6,541.7 L501.0,541.6 L501.5,541.6 L501.9,541.6 L502.4,541.6 L502.8,541.6 L503.3,541.6 L503.7,541.5 L504.2,541.5 L504.6,541.5 L505.1,541.5 L505.5,541.5 L506.0,541.5 L506.4,541.5 L506.9,541.5 L507.3,541.5 L507.8,541.5 L508.3,541.5 L508.7,541.5 L509.2,541.5 L509.6,541.5 L510.1,541.5 L510.5,541.5 L511.0,541.5 L511.4,541.5 L511.9,541.5 L512.3,541.5 L512.8,541.5 L513.2,541.5 L513.7,541.5 L514.1,541.5 L514.6,541.5 L515.0,541.5 L515.5,541.5 L515.9,541.5 L516.4,541.5 L516.8,541.5 L517.3,541.5 L517.7,541.5 L518.2,541.5 L518.6,541.5 L519.1,541.5 L519.5,541.5 L520.0,541.5 L520.4,541.5 L520.9,541.5 L521.3,541.5 L521.8,541.5 L522.2,541.5 L522.7,541.5 L523.1,541.5 L523.6,541.5 L524.0,541.5 L524.5,541.5 L524.9,541.5 L525.4,541.5 L525.8,541.5 L526.3,541.5 L526.7,541.5 L527.2,541.4 L527.6,541.3 L528.1,541.2 L528.5,541.0 L529.0,540.9 L529.4,540.7 L529.9,540.5 L530.3,540.3 L530.8,540.1 L531.2,539.8 L531.7,539.6 L532.1,539.4 L532.6,539.1 L533.0,538.9 L533.5,538.6 L533.9,538.4 L534.4,538.2 L534.8,537.9 L535.3,537.7 L535.7,537.5 L536.2,537.3 L536.7,537.1 L537.1,536.9 L537.6,536.7 L538.0,536.6 L538.5,536.4 L538.9,536.3 L539.4,536.1 L539.8,536.0 L540.3,535.8 L540.7,535.7 L541.2,535.6 L541.6,535.4 L542.1,535.3 L542.5,535.1 L543.0,535.0 L543.4,534.8 L543.9,534.6 L544.3,534.5 L544.8,534.3 L545.2,534.0 L545.7,533.8 L546.1,533.6 L546.6,533.3 L547.0,533.0 L547.5,532.7 L547.9,532.3 L548.4,531.9 L548.8,531.5 L549.3,531.1 L549.7,530.6 L550.2,530.1 L550.6,529.6 L551.1,529.1 L551.5,528.6 L552.0,528.0 L552.4,527.4 L552.9,526.9 L553.3,526.3 L553.8,525.7 L554.2,525.0 L554.7,524.4 L555.1,523.8 L555.6,523.2 L556.0,522.5 L556.5,521.9 L556.9,521.3 L557.4,520.6 L557.8,520.0 L558.3,519.4 L558.7,518.8 L559.2,518.2 L559.6,517.6 L560.1,517.0 L560.5,516.5 L561.0,515.9 L561.4,515.3 L561.9,514.8 L562.3,514.2 L562.8,513.6 L563.2,513.1 L563.7,512.5 L564.2,512.0 L564.6,511.4 L565.1,510.8 L565.5,510.3 L566.0,509.7 L566.4,509.1 L566.9,508.5 L567.3,508.0 L567.8,507.4 L568.2,506.8 L568.7,506.2 L569.1,505.6 L569.6,505.0 L570.0,504.4 L570.5,503.8 L570.9,503.2 L571.4,502.6 L571.8,502.0 L572.3,501.3 L572.7,500.7 L573.2,500.0 L573.6,499.4 L574.1,498.7 L574.5,498.0 L575.0,497.4 L575.4,496.7 L575.9,496.0 L576.3,495.3 L576.8,494.5 L577.2,493.8 L577.7,493.1 L578.1,492.3 L578.6,491.6 L579.0,490.8 L579.5,490.1 L579.9,489.3 L580.4,488.5 L580.8,487.7 L581.3,486.9 L581.7,486.1 L582.2,485.3 L582.6,484.4 L583.1,483.6 L583.5,482.7 L584.0,481.9 L584.4,481.0 L584.9,480.1 L585.3,479.2 L585.8,478.3 L586.2,477.4 L586.7,476.5 L587.1,475.6 L587.6,474.6 L588.0,473.7 L588.5,472.7 L588.9,471.7 L589.4,470.7 L589.8,469.7 L590.3,468.7 L590.7,467.7 L591.2,466.6 L591.6,465.6 L592.1,464.5 L592.6,463.5 L593.0,462.4 L593.5,461.3 L593.9,460.1 L594.4,458.9 L594.8,457.7 L595.3,456.4 L595.7,455.1 L596.2,453.7 L596.6,452.4 L597.1,451.0 L597.5,449.6 L598.0,448.1 L598.4,446.7 L598.9,445.2 L599.3,443.7 L599.8,442.2 L600.2,440.7 L600.7,439.2 L601.1,437.7 L601.6,436.2 L602.0,434.6 L602.5,433.1 L602.9,431.6 L603.4,430.2 L603.8,428.7 L604.3,427.2 L604.7,425.8 L605.2,424.3 L605.6,422.9 L606.1,421.6 L606.5,420.2 L607.0,418.9 L607.4,417.6 L607.9,416.3 L608.3,415.1 L608.8,413.9 L609.2,412.7 L609.7,411.5 L610.1,410.3 L610.6,409.1 L611.0,408.0 L611.5,406.8 L611.9,405.7 L612.4,404.6 L612.8,403.4 L613.3,402.3 L613.7,401.2 L614.2,400.2" stroke="#f8906e" stroke-width="1.25" fill="none" stroke-dasharray="2.4 1.6"/>
<path d="M479.4,546.6 L479.6,546.6 L479.8,546.6 L480.0,546.6 L480.2,546.6 L480.4,546.6 L480.6,546.6 L480.7,546.6 L480.9,546.6 L481.1,546.6 L481.3,546.6 L481.5,546.6 L481.7,546.6 L481.9,546.6 L482.1,546.6 L482.3,546.6 L482.5,546.6 L482.7,546.6 L482.9,546.6 L483.1,546.6 L483.3,546.6 L483.4,546.6 L483.6,546.6 L483.8,546.6 L484.0,546.6 L484.2,546.6 L484.4,546.6 L484.6,546.6 L484.8,546.6 L485.0,546.6 L485.2,546.6 L485.4,546.6 L485.6,546.6 L485.8,546.6 L486.0,546.6 L486.1,546.6 L486.3,546.6 L486.5,546.6 L486.7,546.6 L486.9,546.6 L487.1,546.6 L487.3,546.6 L487.5,546.6 L487.7,546.6 L487.9,546.6 L488.1,546.6 L488.3,546.6 L488.5,546.6 L488.7,546.6 L488.8,546.6 L489.0,546.6 L489.2,546.6 L489.4,546.6 L489.6,546.6 L489.8,546.6 L490.0,546.6 L490.2,546.6 L490.4,546.6 L490.6,546.6 L490.8,546.6 L491.0,546.6 L491.2,546.6 L491.4,546.6 L491.5,546.6 L491.7,546.6 L491.9,546.6 L492.1,546.6 L492.3,546.6 L492.5,546.6 L492.7,546.5 L492.9,546.5 L493.1,546.5 L493.3,546.5 L493.5,546.5 L493.7,546.4 L493.9,546.4 L494.1,546.3 L494.2,546.2 L494.4,546.1 L494.6,545.9 L494.8,545.7 L495.0,545.4 L495.2,545.0 L495.4,544.5 L495.6,543.9 L495.8,543.2 L496.0,542.4 L496.2,541.4 L496.4,540.3 L496.6,539.1 L496.7,537.7 L496.9,536.3 L497.1,534.8 L497.3,533.2 L497.5,531.6 L497.7,529.9 L497.9,528.2 L498.1,526.7 L498.3,528.5 L498.5,530.3 L498.7,531.9 L498.9,533.6 L499.1,535.1 L499.3,536.6 L499.4,538.0 L499.6,539.3 L499.8,540.5 L500.0,541.6 L500.2,542.5 L500.4,543.4 L500.6,544.0 L500.8,544.6 L501.0,545.1 L501.2,545.4 L501.4,545.7 L501.6,545.9 L501.8,546.1 L502.0,546.2 L502.1,546.3 L502.3,546.4 L502.5,546.4 L502.7,546.5 L502.9,546.5 L503.1,546.5 L503.3,546.5 L503.5,546.5 L503.7,546.6 L503.9,546.6 L504.1,546.6 L504.3,546.6 L504.5,546.6 L504.7,546.6 L504.8,546.6 L505.0,546.6 L505.2,546.6 L505.4,546.6 L505.6,546.6 L505.8,546.6 L506.0,546.6 L506.2,546.6 L506.4,546.6 L506.6,546.6 L506.8,546.6 L507.0,546.6 L507.2,546.6 L507.4,546.6 L507.5,546.6 L507.7,546.6 L507.9,546.6 L508.1,546.6 L508.3,546.6 L508.5,546.6 L508.7,546.6 L508.9,546.6 L509.1,546.6 L509.3,546.6 L509.5,546.6 L509.7,546.6 L509.9,546.6 L510.1,546.6 L510.2,546.6 L510.4,546.6 L510.6,546.6 L510.8,546.6 L511.0,546.6 L511.2,546.6 L511.4,546.6 L511.6,546.6 L511.8,546.6 L512.0,546.6 L512.2,546.6 L512.4,546.6 L512.6,546.6 L512.7,546.6 L512.9,546.6 L513.1,546.6 L513.3,546.6 L513.5,546.6 L513.7,546.6 L513.9,546.6 L514.1,546.6 L514.3,546.6 L514.5,546.6 L514.7,546.6 L514.9,546.6 L515.1,546.6 L515.3,546.6 L515.4,546.6 L515.6,546.6 L515.8,546.6 L516.0,546.6 L516.2,546.6 L516.4,546.6 L516.6,546.6 L516.8,546.6 L517.0,546.6 L517.2,546.6 L517.4,546.6 L517.6,546.6 L517.8,546.6 L518.0,546.6 L518.1,546.6 L518.3,546.6 L518.5,546.6 L518.7,546.6 L518.9,546.6 L519.1,546.6 L519.3,546.6 L519.5,546.6 L519.7,546.6 L519.9,546.6 L520.1,546.6 L520.3,546.6 L520.5,546.6 L520.7,546.6 L520.8,546.6 L521.0,546.6 L521.2,546.6 L521.4,546.6 L521.6,546.6 L521.8,546.6 L522.0,546.6 L522.2,546.6 L522.4,546.6 L522.6,546.5 L522.8,546.5 L523.0,546.5 L523.2,546.5 L523.4,546.5 L523.5,546.5 L523.7,546.5 L523.9,546.5 L524.1,546.5 L524.3,546.5 L524.5,546.5 L524.7,546.5 L524.9,546.4 L525.1,546.4 L525.3,546.4 L525.5,546.4 L525.7,546.4 L525.9,546.4 L526.1,546.3 L526.2,546.3 L526.4,546.3 L526.6,546.3 L526.8,546.3 L527.0,546.2 L527.2,546.2 L527.4,546.2 L527.6,546.2 L527.8,546.1 L528.0,546.1 L528.2,546.1 L528.4,546.0 L528.6,546.0 L528.7,545.9 L528.9,545.9 L529.1,545.9 L529.3,545.8 L529.5,545.8 L529.7,545.7 L529.9,545.6 L530.1,545.5 L530.3,545.4 L530.5,545.4 L530.7,545.3 L530.9,545.2 L531.1,545.1 L531.3,545.0 L531.4,544.9 L531.6,544.8 L531.8,544.7 L532.0,544.6 L532.2,544.5 L532.4,544.4 L532.6,544.3 L532.8,544.2 L533.0,544.2 L533.2,544.1 L533.4,544.0 L533.6,543.9 L533.8,543.8 L534.0,543.7 L534.1,543.6 L534.3,543.5 L534.5,543.4 L534.7,543.3 L534.9,543.2 L535.1,543.1 L535.3,543.0 L535.5,542.9 L535.7,542.8 L535.9,542.7 L536.1,542.7 L536.3,542.6 L536.5,542.5 L536.7,542.4 L536.8,542.4 L537.0,542.3 L537.2,542.2 L537.4,542.2 L537.6,542.1 L537.8,542.0 L538.0,542.0 L538.2,541.9 L538.4,541.9 L538.6,541.8 L538.8,541.8 L539.0,541.8 L539.2,541.7 L539.4,541.7 L539.5,541.7 L539.7,541.7 L539.9,541.6 L540.1,541.6 L540.3,541.6 L540.5,541.6 L540.7,541.6 L540.9,541.6 L541.1,541.6 L541.3,541.6 L541.5,541.6 L541.7,541.6 L541.9,541.6 L542.1,541.6 L542.2,541.7 L542.4,541.7 L542.6,541.7 L542.8,541.7 L543.0,541.7 L543.2,541.8 L543.4,541.8 L543.6,541.8 L543.8,541.9 L544.0,541.9 L544.2,541.9 L544.4,542.0 L544.6,542.0 L544.7,542.0 L544.9,542.1 L545.1,542.1 L545.3,542.2 L545.5,542.3 L545.7,542.3 L545.9,542.4 L546.1,542.5 L546.3,542.5 L546.5,542.6 L546.7,542.6 L546.9,542.7 L547.1,542.8 L547.3,542.8 L547.4,542.9 L547.6,542.9 L547.8,543.0 L548.0,543.0 L548.2,543.1 L548.4,543.1 L548.6,543.2 L548.8,543.2 L549.0,543.3 L549.2,543.3 L549.4,543.3 L549.6,543.4 L549.8,543.4 L550.0,543.5 L550.1,543.5 L550.3,543.5 L550.5,543.6 L550.7,543.6 L550.9,543.6 L551.1,543.6 L551.3,543.7 L551.5,543.7 L551.7,543.7 L551.9,543.7 L552.1,543.7 L552.3,543.8 L552.5,543.8 L552.7,543.8 L552.8,543.8 L553.0,543.8 L553.2,543.8 L553.4,543.9 L553.6,543.9 L553.8,543.9 L554.0,543.9 L554.2,543.9 L554.4,543.9 L554.6,543.9 L554.8,543.9 L555.0,543.9 L555.2,543.9 L555.4,543.9 L555.5,544.0 L555.7,544.0 L555.9,544.0 L556.1,544.0 L556.3,544.0 L556.5,544.0 L556.7,544.0 L556.9,544.0 L557.1,544.0 L557.3,544.0 L557.5,544.0 L557.7,544.0 L557.9,544.0 L558.1,544.0 L558.2,544.0 L558.4,544.0 L558.6,544.0 L558.8,544.0 L559.0,544.0 L559.2,544.0 L559.4,544.0 L559.6,544.0 L559.8,544.0 L560.0,544.0 L560.2,544.0 L560.4,544.0 L560.6,544.0 L560.7,544.0 L560.9,544.0 L561.1,544.0 L561.3,544.0 L561.5,544.0 L561.7,544.0 L561.9,544.0 L562.1,544.0 L562.3,544.0 L562.5,544.0 L562.7,544.0 L562.9,544.0 L563.1,544.0 L563.3,544.0 L563.4,544.0 L563.6,544.0 L563.8,544.0 L564.0,544.0 L564.2,544.0 L564.4,544.0 L564.6,544.0 L564.8,544.0 L565.0,544.0 L565.2,544.0 L565.4,544.0 L565.6,544.0 L565.8,544.0 L566.0,544.0 L566.1,544.0 L566.3,544.0 L566.5,544.0 L566.7,544.0 L566.9,544.0 L567.1,544.0 L567.3,544.0 L567.5,544.0 L567.7,544.0 L567.9,544.0 L568.1,544.0 L568.3,544.0 L568.5,544.0 L568.7,544.0 L568.8,544.0 L569.0,543.9 L569.2,543.9 L569.4,543.9 L569.6,543.9 L569.8,543.9 L570.0,543.9 L570.2,543.9 L570.4,543.9 L570.6,543.9 L570.8,543.9 L571.0,543.9 L571.2,543.9 L571.4,543.9 L571.5,543.9 L571.7,543.9 L571.9,543.9 L572.1,543.9 L572.3,543.9 L572.5,543.9 L572.7,543.9 L572.9,543.9 L573.1,543.9 L573.3,543.9 L573.5,543.9 L573.7,543.9 L573.9,543.8 L574.0,543.8 L574.2,543.8 L574.4,543.8 L574.6,543.8 L574.8,543.8 L575.0,543.8 L575.2,543.8 L575.4,543.8 L575.6,543.8 L575.8,543.8 L576.0,543.8 L576.2,543.8 L576.4,543.8 L576.6,543.7 L576.7,543.7 L576.9,543.7 L577.1,543.7 L577.3,543.7 L577.5,543.7 L577.7,543.7 L577.9,543.7 L578.1,543.7 L578.3,543.7 L578.5,543.7 L578.7,543.7 L578.9,543.6 L579.1,543.6 L579.3,543.6 L579.4,543.6 L579.6,543.6 L579.8,543.6 L580.0,543.6 L580.2,543.6 L580.4,543.6 L580.6,543.6 L580.8,543.6 L581.0,543.5 L581.2,543.5 L581.4,543.5 L581.6,543.5 L581.8,543.5 L582.0,543.5 L582.1,543.5 L582.3,543.5 L582.5,543.5 L582.7,543.5 L582.9,543.4 L583.1,543.4 L583.3,543.4 L583.5,543.4 L583.7,543.4 L583.9,543.4 L584.1,543.4 L584.3,543.4 L584.5,543.4 L584.7,543.4 L584.8,543.4 L585.0,543.3 L585.2,543.3 L585.4,543.3 L585.6,543.3 L585.8,543.3 L586.0,543.3 L586.2,543.3 L586.4,543.3 L586.6,543.3 L586.8,543.3 L587.0,543.3 L587.2,543.3 L587.4,543.3 L587.5,543.3 L587.7,543.2 L587.9,543.2 L588.1,543.2 L588.3,543.2 L588.5,543.2 L588.7,543.2 L588.9,543.2 L589.1,543.2 L589.3,543.2 L589.5,543.2 L589.7,543.2 L589.9,543.2 L590.0,543.2 L590.2,543.2 L590.4,543.2 L590.6,543.2 L590.8,543.2 L591.0,543.2 L591.2,543.2 L591.4,543.2 L591.6,543.2 L591.8,543.2 L592.0,543.2 L592.2,543.2 L592.4,543.2 L592.6,543.2 L592.7,543.2 L592.9,543.2 L593.1,543.2 L593.3,543.2 L593.5,543.2 L593.7,543.2 L593.9,543.2 L594.1,543.2 L594.3,543.2 L594.5,543.2 L594.7,543.3 L594.9,543.3 L595.1,543.3 L595.3,543.3 L595.4,543.3 L595.6,543.3 L595.8,543.3 L596.0,543.3 L596.2,543.3 L596.4,543.3 L596.6,543.3 L596.8,543.3 L597.0,543.3 L597.2,543.3 L597.4,543.4 L597.6,543.4 L597.8,543.4 L598.0,543.4 L598.1,543.4 L598.3,543.4 L598.5,543.4 L598.7,543.4 L598.9,543.4 L599.1,543.4 L599.3,543.4 L599.5,543.5 L599.7,543.5 L599.9,543.5 L600.1,543.5 L600.3,543.5 L600.5,543.5 L600.7,543.5 L600.8,543.5 L601.0,543.5 L601.2,543.5 L601.4,543.6 L601.6,543.6 L601.8,543.6 L602.0,543.6 L602.2,543.6 L602.4,543.6 L602.6,543.6 L602.8,543.6 L603.0,543.6 L603.2,543.6 L603.4,543.6 L603.5,543.7 L603.7,543.7 L603.9,543.7 L604.1,543.7 L604.3,543.7 L604.5,543.7 L604.7,543.7 L604.9,543.7 L605.1,543.7 L605.3,543.7 L605.5,543.7 L605.7,543.8 L605.9,543.8 L606.0,543.8 L606.2,543.8 L606.4,543.8 L606.6,543.8 L606.8,543.8 L607.0,543.8 L607.2,543.8 L607.4,543.8 L607.6,543.8 L607.8,543.8 L608.0,543.8 L608.2,543.8 L608.4,543.8 L608.6,543.9 L608.7,543.9 L608.9,543.9 L609.1,543.9 L609.3,543.9 L609.5,543.9 L609.7,543.9 L609.9,543.9 L610.1,543.9 L610.3,543.9 L610.5,543.9 L610.7,543.9 L610.9,543.9 L611.1,543.9 L611.3,543.9 L611.4,543.9 L611.6,543.9 L611.8,543.9 L612.0,543.9 L612.2,543.9 L612.4,543.9 L612.6,543.9 L612.8,543.9 L613.0,543.9 L613.2,543.9 L613.4,544.0 L613.6,544.0 L613.8,544.0 L614.0,544.0 L614.1,544.0 L614.3,544.0 L614.5,544.0 L614.7,544.0 L614.9,544.0 L615.1,544.0 L615.3,544.0 L615.5,544.0 L615.7,544.0 L615.9,544.0 L616.1,544.0 L616.3,544.0 L616.5,544.0 L616.7,544.0 L616.8,544.0 L617.0,544.0 L617.2,544.0 L617.4,544.0 L617.6,544.0 L617.8,544.0 L618.0,544.0 L618.2,544.0 L618.4,544.0 L618.6,544.0 L618.8,544.0 L619.0,544.0 L619.2,544.0 L619.4,544.0 L619.5,544.0 L619.7,544.0 L619.9,544.0 L620.1,544.0 L620.3,544.0 L620.5,544.0 L620.7,544.0 L620.9,544.0 L621.1,544.0 L621.3,544.0 L621.5,544.0 L621.7,544.0 L621.9,544.0 L622.0,544.0 L622.2,544.0 L622.4,544.0 L622.6,544.0 L622.8,544.0 L623.0,544.0 L623.2,544.0 L623.4,544.0 L623.6,544.0 L623.8,544.0 L624.0,544.0 L624.2,544.0 L624.4,544.0 L624.6,544.0 L624.7,544.0 L624.9,544.0 L625.1,544.0 L625.3,544.0 L625.5,544.0 L625.7,544.0 L625.9,544.0 L626.1,544.0 L626.3,544.0 L626.5,544.0 L626.7,544.0 L626.9,544.0 L627.1,544.0 L627.3,544.0 L627.4,544.0 L627.6,544.0 L627.8,544.0 L628.0,544.0 L628.2,544.0 L628.4,544.0 L628.6,544.0 L628.8,544.0 L629.0,544.0 L629.2,544.0 L629.4,544.0 L629.6,544.0 L629.8,544.0 L630.0,544.0 L630.1,544.0 L630.3,544.0 L630.5,544.0 L630.7,544.0 L630.9,544.0 L631.1,544.0 L631.3,544.0 L631.5,544.0 L631.7,544.0 L631.9,544.0 L632.1,544.0 L632.3,544.0 L632.5,544.0 L632.7,544.0 L632.8,544.0 L633.0,544.0 L633.2,544.0 L633.4,544.0 L633.6,544.0 L633.8,544.0 L634.0,544.0 L634.2,544.0 L634.4,544.0 L634.6,544.0 L634.8,544.0 L635.0,544.0 L635.2,544.0 L635.4,544.0 L635.5,544.0 L635.7,544.0 L635.9,544.0 L636.1,544.0 L636.3,544.0 L636.5,544.0 L636.7,544.0 L636.9,544.0 L637.1,544.0 L637.3,544.0 L637.5,544.0 L637.7,544.0 L637.9,544.0 L638.0,544.0 L638.2,544.0 L638.4,544.0 L638.6,544.0 L638.8,544.0 L639.0,544.0 L639.2,544.0 L639.4,544.0 L639.6,544.0 L639.8,544.0 L640.0,544.0 L640.2,544.0 L640.4,544.0 L640.6,544.0 L640.7,544.0 L640.9,544.0 L641.1,544.0 L641.3,544.0 L641.5,544.0 L641.7,544.0 L641.9,544.0 L642.1,544.0 L642.3,544.0 L642.5,544.0 L642.7,544.0 L642.9,544.0 L643.1,544.0 L643.3,544.0 L643.4,544.0 L643.6,544.0 L643.8,544.0 L644.0,544.0 L644.2,544.0 L644.4,544.0 L644.6,544.0 L644.8,544.0 L645.0,544.0 L645.2,544.0 L645.4,544.0 L645.6,544.0 L645.8,544.0 L646.0,544.0 L646.1,544.0 L646.3,544.0 L646.5,544.0 L646.7,544.0 L646.9,544.0 L647.1,544.0 L647.3,544.0 L647.5,544.0 L647.7,544.0 L647.9,544.0 L648.1,544.0 L648.3,544.0 L648.5,544.0 L648.7,544.0 L648.8,544.0 L649.0,544.0 L649.2,544.0 L649.4,544.0 L649.6,544.0 L649.8,544.0 L650.0,544.0 L650.2,544.0 L650.4,544.0 L650.6,544.0 L650.8,544.0 L651.0,544.0 L651.2,544.0 L651.4,544.0 L651.5,544.0 L651.7,544.0 L651.9,544.0 L652.1,544.0 L652.3,544.0 L652.5,544.0 L652.7,544.0" stroke="#f6a088" stroke-width="1.2" fill="none" stroke-linejoin="round"/>
<path d="M479.4,546.6 L479.6,546.6 L479.8,546.6 L480.0,546.6 L480.2,546.6 L480.4,546.6 L480.6,546.6 L480.7,546.6 L480.9,546.6 L481.1,546.6 L481.3,546.6 L481.5,546.6 L481.7,546.6 L481.9,546.6 L482.1,546.6 L482.3,546.6 L482.5,546.6 L482.7,546.6 L482.9,546.6 L483.1,546.6 L483.3,546.6 L483.4,546.6 L483.6,546.6 L483.8,546.6 L484.0,546.6 L484.2,546.6 L484.4,546.6 L484.6,546.6 L484.8,546.6 L485.0,546.6 L485.2,546.6 L485.4,546.6 L485.6,546.6 L485.8,546.6 L486.0,546.6 L486.1,546.6 L486.3,546.6 L486.5,546.6 L486.7,546.6 L486.9,546.6 L487.1,546.6 L487.3,546.6 L487.5,546.6 L487.7,546.6 L487.9,546.6 L488.1,546.6 L488.3,546.6 L488.5,546.6 L488.7,546.6 L488.8,546.6 L489.0,546.6 L489.2,546.6 L489.4,546.6 L489.6,546.6 L489.8,546.6 L490.0,546.6 L490.2,546.6 L490.4,546.6 L490.6,546.6 L490.8,546.6 L491.0,546.6 L491.2,546.6 L491.4,546.6 L491.5,546.6 L491.7,546.6 L491.9,546.6 L492.1,546.5 L492.3,546.5 L492.5,546.5 L492.7,546.5 L492.9,546.5 L493.1,546.4 L493.3,546.4 L493.5,546.3 L493.7,546.2 L493.9,546.0 L494.1,545.8 L494.2,545.5 L494.4,545.1 L494.6,544.5 L494.8,543.7 L495.0,542.6 L495.2,541.1 L495.4,539.1 L495.6,536.6 L495.8,533.5 L496.0,529.8 L496.2,525.5 L496.4,520.5 L496.6,515.0 L496.7,509.1 L496.9,502.8 L497.1,496.2 L497.3,489.3 L497.5,482.1 L497.7,476.2 L497.9,483.7 L498.1,490.8 L498.3,497.6 L498.5,504.1 L498.7,510.4 L498.9,516.2 L499.1,521.6 L499.3,526.4 L499.4,530.7 L499.6,534.2 L499.8,537.2 L500.0,539.6 L500.2,541.4 L500.4,542.8 L500.6,543.9 L500.8,544.6 L501.0,545.2 L501.2,545.6 L501.4,545.9 L501.6,546.1 L501.8,546.2 L502.0,546.3 L502.1,546.4 L502.3,546.4 L502.5,546.5 L502.7,546.5 L502.9,546.5 L503.1,546.5 L503.3,546.5 L503.5,546.6 L503.7,546.6 L503.9,546.6 L504.1,546.6 L504.3,546.6 L504.5,546.6 L504.7,546.6 L504.8,546.6 L505.0,546.6 L505.2,546.6 L505.4,546.6 L505.6,546.6 L505.8,546.6 L506.0,546.6 L506.2,546.6 L506.4,546.6 L506.6,546.6 L506.8,546.6 L507.0,546.6 L507.2,546.6 L507.4,546.6 L507.5,546.6 L507.7,546.6 L507.9,546.6 L508.1,546.6 L508.3,546.6 L508.5,546.6 L508.7,546.6 L508.9,546.6 L509.1,546.6 L509.3,546.6 L509.5,546.6 L509.7,546.6 L509.9,546.6 L510.1,546.6 L510.2,546.6 L510.4,546.6 L510.6,546.6 L510.8,546.6 L511.0,546.6 L511.2,546.6 L511.4,546.6 L511.6,546.6 L511.8,546.6 L512.0,546.6 L512.2,546.6 L512.4,546.6 L512.6,546.6 L512.7,546.6 L512.9,546.6 L513.1,546.6 L513.3,546.6 L513.5,546.6 L513.7,546.6 L513.9,546.6 L514.1,546.6 L514.3,546.6 L514.5,546.6 L514.7,546.6 L514.9,546.6 L515.1,546.6 L515.3,546.6 L515.4,546.6 L515.6,546.6 L515.8,546.6 L516.0,546.6 L516.2,546.6 L516.4,546.6 L516.6,546.6 L516.8,546.6 L517.0,546.6 L517.2,546.6 L517.4,546.6 L517.6,546.6 L517.8,546.6 L518.0,546.6 L518.1,546.6 L518.3,546.6 L518.5,546.6 L518.7,546.6 L518.9,546.6 L519.1,546.6 L519.3,546.6 L519.5,546.6 L519.7,546.6 L519.9,546.6 L520.1,546.6 L520.3,546.6 L520.5,546.6 L520.7,546.6 L520.8,546.6 L521.0,546.6 L521.2,546.6 L521.4,546.6 L521.6,546.6 L521.8,546.6 L522.0,546.6 L522.2,546.6 L522.4,546.6 L522.6,546.6 L522.8,546.6 L523.0,546.6 L523.2,546.6 L523.4,546.6 L523.5,546.6 L523.7,546.6 L523.9,546.6 L524.1,546.6 L524.3,546.6 L524.5,546.6 L524.7,546.6 L524.9,546.6 L525.1,546.6 L525.3,546.6 L525.5,546.6 L525.7,546.6 L525.9,546.6 L526.1,546.6 L526.2,546.6 L526.4,546.6 L526.6,546.6 L526.8,546.6 L527.0,546.6 L527.2,546.6 L527.4,546.6 L527.6,546.6 L527.8,546.6 L528.0,546.6 L528.2,546.5 L528.4,546.5 L528.6,546.5 L528.7,546.5 L528.9,546.5 L529.1,546.5 L529.3,546.4 L529.5,546.4 L529.7,546.4 L529.9,546.3 L530.1,546.3 L530.3,546.2 L530.5,546.1 L530.7,546.1 L530.9,546.0 L531.1,545.9 L531.3,545.7 L531.4,545.6 L531.6,545.5 L531.8,545.3 L532.0,545.1 L532.2,544.9 L532.4,544.7 L532.6,544.5 L532.8,544.2 L533.0,543.9 L533.2,543.6 L533.4,543.2 L533.6,542.8 L533.8,542.4 L534.0,541.9 L534.1,541.4 L534.3,540.9 L534.5,540.3 L534.7,539.7 L534.9,539.1 L535.1,538.5 L535.3,537.8 L535.5,537.1 L535.7,536.4 L535.9,535.7 L536.1,534.9 L536.3,534.2 L536.5,533.4 L536.7,532.6 L536.8,531.9 L537.0,531.1 L537.2,530.4 L537.4,529.6 L537.6,528.9 L537.8,528.3 L538.0,527.6 L538.2,527.0 L538.4,526.4 L538.6,525.9 L538.8,525.4 L539.0,525.0 L539.2,524.6 L539.4,524.3 L539.5,524.0 L539.7,523.9 L539.9,523.7 L540.1,523.7 L540.3,523.7 L540.5,523.8 L540.7,523.9 L540.9,524.1 L541.1,524.4 L541.3,524.7 L541.5,525.1 L541.7,525.5 L541.9,526.0 L542.1,526.5 L542.2,527.1 L542.4,527.7 L542.6,528.3 L542.8,528.9 L543.0,529.6 L543.2,530.2 L543.4,530.9 L543.6,531.6 L543.8,532.3 L544.0,532.9 L544.2,533.6 L544.4,534.2 L544.6,534.9 L544.7,535.5 L544.9,536.1 L545.1,536.7 L545.3,537.3 L545.5,537.8 L545.7,538.4 L545.9,538.9 L546.1,539.3 L546.3,539.8 L546.5,540.2 L546.7,540.6 L546.9,540.9 L547.1,541.2 L547.3,541.5 L547.4,541.8 L547.6,542.1 L547.8,542.3 L548.0,542.5 L548.2,542.7 L548.4,542.8 L548.6,543.0 L548.8,543.1 L549.0,543.2 L549.2,543.3 L549.4,543.4 L549.6,543.5 L549.8,543.6 L550.0,543.6 L550.1,543.7 L550.3,543.7 L550.5,543.8 L550.7,543.8 L550.9,543.8 L551.1,543.9 L551.3,543.9 L551.5,543.9 L551.7,543.9 L551.9,543.9 L552.1,544.0 L552.3,544.0 L552.5,544.0 L552.7,544.0 L552.8,544.0 L553.0,544.0 L553.2,544.0 L553.4,544.0 L553.6,544.0 L553.8,544.0 L554.0,544.0 L554.2,544.0 L554.4,544.0 L554.6,544.0 L554.8,544.0 L555.0,544.0 L555.2,544.0 L555.4,544.0 L555.5,544.0 L555.7,544.0 L555.9,544.0 L556.1,544.0 L556.3,544.0 L556.5,544.0 L556.7,544.0 L556.9,544.0 L557.1,544.0 L557.3,544.0 L557.5,544.0 L557.7,544.0 L557.9,544.0 L558.1,544.0 L558.2,544.0 L558.4,543.9 L558.6,543.9 L558.8,543.9 L559.0,543.9 L559.2,543.9 L559.4,543.9 L559.6,543.9 L559.8,543.9 L560.0,543.9 L560.2,543.9 L560.4,543.9 L560.6,543.9 L560.7,543.9 L560.9,543.9 L561.1,543.9 L561.3,543.8 L561.5,543.8 L561.7,543.8 L561.9,543.8 L562.1,543.8 L562.3,543.8 L562.5,543.8 L562.7,543.8 L562.9,543.7 L563.1,543.7 L563.3,543.7 L563.4,543.7 L563.6,543.7 L563.8,543.7 L564.0,543.6 L564.2,543.6 L564.4,543.6 L564.6,543.6 L564.8,543.6 L565.0,543.5 L565.2,543.5 L565.4,543.5 L565.6,543.5 L565.8,543.5 L566.0,543.4 L566.1,543.4 L566.3,543.4 L566.5,543.4 L566.7,543.3 L566.9,543.3 L567.1,543.3 L567.3,543.3 L567.5,543.2 L567.7,543.2 L567.9,543.2 L568.1,543.2 L568.3,543.1 L568.5,543.1 L568.7,543.1 L568.8,543.0 L569.0,543.0 L569.2,543.0 L569.4,543.0 L569.6,542.9 L569.8,542.9 L570.0,542.9 L570.2,542.8 L570.4,542.8 L570.6,542.8 L570.8,542.8 L571.0,542.7 L571.2,542.7 L571.4,542.7 L571.5,542.7 L571.7,542.6 L571.9,542.6 L572.1,542.6 L572.3,542.6 L572.5,542.6 L572.7,542.5 L572.9,542.5 L573.1,542.5 L573.3,542.5 L573.5,542.5 L573.7,542.5 L573.9,542.4 L574.0,542.4 L574.2,542.4 L574.4,542.4 L574.6,542.4 L574.8,542.4 L575.0,542.4 L575.2,542.4 L575.4,542.4 L575.6,542.4 L575.8,542.4 L576.0,542.4 L576.2,542.4 L576.4,542.4 L576.6,542.4 L576.7,542.4 L576.9,542.4 L577.1,542.4 L577.3,542.4 L577.5,542.4 L577.7,542.5 L577.9,542.5 L578.1,542.5 L578.3,542.5 L578.5,542.5 L578.7,542.5 L578.9,542.6 L579.1,542.6 L579.3,542.6 L579.4,542.6 L579.6,542.6 L579.8,542.7 L580.0,542.7 L580.2,542.7 L580.4,542.7 L580.6,542.8 L580.8,542.8 L581.0,542.8 L581.2,542.8 L581.4,542.9 L581.6,542.9 L581.8,542.9 L582.0,543.0 L582.1,543.0 L582.3,543.0 L582.5,543.0 L582.7,543.1 L582.9,543.1 L583.1,543.1 L583.3,543.2 L583.5,543.2 L583.7,543.2 L583.9,543.2 L584.1,543.3 L584.3,543.3 L584.5,543.3 L584.7,543.3 L584.8,543.4 L585.0,543.4 L585.2,543.4 L585.4,543.4 L585.6,543.5 L585.8,543.5 L586.0,543.5 L586.2,543.5 L586.4,543.5 L586.6,543.6 L586.8,543.6 L587.0,543.6 L587.2,543.6 L587.4,543.6 L587.5,543.7 L587.7,543.7 L587.9,543.7 L588.1,543.7 L588.3,543.7 L588.5,543.7 L588.7,543.8 L588.9,543.8 L589.1,543.8 L589.3,543.8 L589.5,543.8 L589.7,543.8 L589.9,543.8 L590.0,543.8 L590.2,543.9 L590.4,543.9 L590.6,543.9 L590.8,543.9 L591.0,543.9 L591.2,543.9 L591.4,543.9 L591.6,543.9 L591.8,543.9 L592.0,543.9 L592.2,543.9 L592.4,543.9 L592.6,543.9 L592.7,543.9 L592.9,543.9 L593.1,544.0 L593.3,544.0 L593.5,544.0 L593.7,544.0 L593.9,544.0 L594.1,544.0 L594.3,544.0 L594.5,544.0 L594.7,544.0 L594.9,544.0 L595.1,544.0 L595.3,544.0 L595.4,544.0 L595.6,544.0 L595.8,544.0 L596.0,544.0 L596.2,544.0 L596.4,544.0 L596.6,544.0 L596.8,544.0 L597.0,544.0 L597.2,544.0 L597.4,544.0 L597.6,544.0 L597.8,544.0 L598.0,544.0 L598.1,544.0 L598.3,544.0 L598.5,544.0 L598.7,544.0 L598.9,544.0 L599.1,544.0 L599.3,544.0 L599.5,544.0 L599.7,544.0 L599.9,544.0 L600.1,544.0 L600.3,544.0 L600.5,544.0 L600.7,544.0 L600.8,544.0 L601.0,544.0 L601.2,544.0 L601.4,544.0 L601.6,544.0 L601.8,544.0 L602.0,544.0 L602.2,544.0 L602.4,544.0 L602.6,544.0 L602.8,544.0 L603.0,544.0 L603.2,544.0 L603.4,544.0 L603.5,544.0 L603.7,544.0 L603.9,544.0 L604.1,544.0 L604.3,544.0 L604.5,544.0 L604.7,544.0 L604.9,544.0 L605.1,544.0 L605.3,544.0 L605.5,544.0 L605.7,544.0 L605.9,544.0 L606.0,544.0 L606.2,544.0 L606.4,544.0 L606.6,544.0 L606.8,544.0 L607.0,544.0 L607.2,544.0 L607.4,544.0 L607.6,544.0 L607.8,544.0 L608.0,544.0 L608.2,544.0 L608.4,544.0 L608.6,544.0 L608.7,544.0 L608.9,544.0 L609.1,544.0 L609.3,544.0 L609.5,544.0 L609.7,544.0 L609.9,544.0 L610.1,544.0 L610.3,544.0 L610.5,544.0 L610.7,544.0 L610.9,544.0 L611.1,544.0 L611.3,544.0 L611.4,544.0 L611.6,544.0 L611.8,544.0 L612.0,544.0 L612.2,544.0 L612.4,544.0 L612.6,544.0 L612.8,544.0 L613.0,544.0 L613.2,544.0 L613.4,544.0 L613.6,544.0 L613.8,544.0 L614.0,544.0 L614.1,544.0 L614.3,544.0 L614.5,544.0 L614.7,544.0 L614.9,544.0 L615.1,544.0 L615.3,544.0 L615.5,544.0 L615.7,544.0 L615.9,544.0 L616.1,544.0 L616.3,544.0 L616.5,544.0 L616.7,544.0 L616.8,544.0 L617.0,544.0 L617.2,544.0 L617.4,544.0 L617.6,544.0 L617.8,544.0 L618.0,544.0 L618.2,544.0 L618.4,544.0 L618.6,544.0 L618.8,544.0 L619.0,544.0 L619.2,544.0 L619.4,544.0 L619.5,544.0 L619.7,544.0 L619.9,544.0 L620.1,544.0 L620.3,544.0 L620.5,544.0 L620.7,544.0 L620.9,544.0 L621.1,544.0 L621.3,544.0 L621.5,544.0 L621.7,544.0 L621.9,544.0 L622.0,544.0 L622.2,544.0 L622.4,544.0 L622.6,544.0 L622.8,544.0 L623.0,544.0 L623.2,544.0 L623.4,544.0 L623.6,544.0 L623.8,544.0 L624.0,544.0 L624.2,544.0 L624.4,544.0 L624.6,544.0 L624.7,544.0 L624.9,544.0 L625.1,544.0 L625.3,544.0 L625.5,544.0 L625.7,544.0 L625.9,544.0 L626.1,544.0 L626.3,544.0 L626.5,544.0 L626.7,544.0 L626.9,544.0 L627.1,544.0 L627.3,544.0 L627.4,544.0 L627.6,544.0 L627.8,544.0 L628.0,544.0 L628.2,544.0 L628.4,544.0 L628.6,544.0 L628.8,544.0 L629.0,544.0 L629.2,544.0 L629.4,544.0 L629.6,544.0 L629.8,544.0 L630.0,544.0 L630.1,544.0 L630.3,544.0 L630.5,544.0 L630.7,544.0 L630.9,544.0 L631.1,544.0 L631.3,544.0 L631.5,544.0 L631.7,544.0 L631.9,544.0 L632.1,544.0 L632.3,544.0 L632.5,544.0 L632.7,544.0 L632.8,544.0 L633.0,544.0 L633.2,544.0 L633.4,544.0 L633.6,544.0 L633.8,544.0 L634.0,544.0 L634.2,544.0 L634.4,544.0 L634.6,544.0 L634.8,544.0 L635.0,544.0 L635.2,544.0 L635.4,544.0 L635.5,544.0 L635.7,544.0 L635.9,544.0 L636.1,544.0 L636.3,544.0 L636.5,544.0 L636.7,544.0 L636.9,544.0 L637.1,544.0 L637.3,544.0 L637.5,544.0 L637.7,544.0 L637.9,544.0 L638.0,544.0 L638.2,544.0 L638.4,544.0 L638.6,544.0 L638.8,544.0 L639.0,544.0 L639.2,544.0 L639.4,544.0 L639.6,544.0 L639.8,544.0 L640.0,544.0 L640.2,544.0 L640.4,544.0 L640.6,544.0 L640.7,544.0 L640.9,544.0 L641.1,544.0 L641.3,544.0 L641.5,544.0 L641.7,544.0 L641.9,544.0 L642.1,544.0 L642.3,544.0 L642.5,544.0 L642.7,544.0 L642.9,544.0 L643.1,544.0 L643.3,544.0 L643.4,544.0 L643.6,544.0 L643.8,544.0 L644.0,544.0 L644.2,544.0 L644.4,544.0 L644.6,544.0 L644.8,544.0 L645.0,544.0 L645.2,544.0 L645.4,544.0 L645.6,544.0 L645.8,544.0 L646.0,544.0 L646.1,544.0 L646.3,544.0 L646.5,544.0 L646.7,544.0 L646.9,544.0 L647.1,544.0 L647.3,544.0 L647.5,544.0 L647.7,544.0 L647.9,544.0 L648.1,544.0 L648.3,544.0 L648.5,544.0 L648.7,544.0 L648.8,544.0 L649.0,544.0 L649.2,544.0 L649.4,544.0 L649.6,544.0 L649.8,544.0 L650.0,544.0 L650.2,544.0 L650.4,544.0 L650.6,544.0 L650.8,544.0 L651.0,544.0 L651.2,544.0 L651.4,544.0 L651.5,544.0 L651.7,544.0 L651.9,544.0 L652.1,544.0 L652.3,544.0 L652.5,544.0 L652.7,544.0" stroke="#62aee4" stroke-width="1.3" fill="none" stroke-linejoin="round"/>
<path d="M479.4,546.6 L479.6,546.6 L479.8,546.6 L480.0,546.6 L480.2,546.6 L480.4,546.6 L480.6,546.6 L480.7,546.6 L480.9,546.6 L481.1,546.6 L481.3,546.6 L481.5,546.6 L481.7,546.6 L481.9,546.6 L482.1,546.6 L482.3,546.6 L482.5,546.6 L482.7,546.6 L482.9,546.6 L483.1,546.6 L483.3,546.6 L483.4,546.6 L483.6,546.6 L483.8,546.6 L484.0,546.6 L484.2,546.6 L484.4,546.6 L484.6,546.6 L484.8,546.6 L485.0,546.6 L485.2,546.6 L485.4,546.6 L485.6,546.6 L485.8,546.6 L486.0,546.6 L486.1,546.6 L486.3,546.6 L486.5,546.6 L486.7,546.6 L486.9,546.6 L487.1,546.6 L487.3,546.6 L487.5,546.6 L487.7,546.6 L487.9,546.6 L488.1,546.6 L488.3,546.6 L488.5,546.6 L488.7,546.6 L488.8,546.6 L489.0,546.6 L489.2,546.6 L489.4,546.6 L489.6,546.6 L489.8,546.6 L490.0,546.6 L490.2,546.6 L490.4,546.6 L490.6,546.6 L490.8,546.6 L491.0,546.6 L491.2,546.6 L491.4,546.6 L491.5,546.5 L491.7,546.5 L491.9,546.5 L492.1,546.5 L492.3,546.5 L492.5,546.4 L492.7,546.4 L492.9,546.4 L493.1,546.3 L493.3,546.2 L493.5,546.1 L493.7,546.0 L493.9,545.7 L494.1,545.5 L494.2,545.1 L494.4,544.5 L494.6,543.8 L494.8,542.8 L495.0,541.4 L495.2,539.6 L495.4,537.3 L495.6,534.3 L495.8,530.5 L496.0,526.0 L496.2,520.5 L496.4,514.2 L496.6,507.0 L496.7,499.0 L496.9,490.3 L497.1,481.0 L497.3,471.2 L497.5,461.1 L497.7,450.6 L497.9,439.7 L498.1,430.6 L498.3,442.1 L498.5,452.9 L498.7,463.3 L498.9,473.4 L499.1,483.0 L499.3,492.2 L499.4,500.8 L499.6,508.6 L499.8,515.6 L500.0,521.8 L500.2,527.0 L500.4,531.4 L500.6,535.0 L500.8,537.8 L501.0,540.1 L501.2,541.8 L501.4,543.0 L501.6,544.0 L501.8,544.7 L502.0,545.2 L502.1,545.5 L502.3,545.8 L502.5,546.0 L502.7,546.1 L502.9,546.2 L503.1,546.3 L503.3,546.4 L503.5,546.4 L503.7,546.4 L503.9,546.5 L504.1,546.5 L504.3,546.5 L504.5,546.5 L504.7,546.5 L504.8,546.6 L505.0,546.6 L505.2,546.6 L505.4,546.6 L505.6,546.6 L505.8,546.6 L506.0,546.6 L506.2,546.6 L506.4,546.6 L506.6,546.6 L506.8,546.6 L507.0,546.6 L507.2,546.6 L507.4,546.6 L507.5,546.6 L507.7,546.6 L507.9,546.6 L508.1,546.6 L508.3,546.6 L508.5,546.6 L508.7,546.6 L508.9,546.6 L509.1,546.6 L509.3,546.6 L509.5,546.6 L509.7,546.6 L509.9,546.6 L510.1,546.6 L510.2,546.6 L510.4,546.6 L510.6,546.6 L510.8,546.6 L511.0,546.6 L511.2,546.6 L511.4,546.6 L511.6,546.6 L511.8,546.6 L512.0,546.6 L512.2,546.6 L512.4,546.6 L512.6,546.6 L512.7,546.6 L512.9,546.6 L513.1,546.6 L513.3,546.6 L513.5,546.6 L513.7,546.6 L513.9,546.6 L514.1,546.6 L514.3,546.6 L514.5,546.6 L514.7,546.6 L514.9,546.6 L515.1,546.6 L515.3,546.6 L515.4,546.6 L515.6,546.6 L515.8,546.6 L516.0,546.6 L516.2,546.6 L516.4,546.6 L516.6,546.6 L516.8,546.6 L517.0,546.6 L517.2,546.6 L517.4,546.6 L517.6,546.6 L517.8,546.6 L518.0,546.6 L518.1,546.6 L518.3,546.6 L518.5,546.6 L518.7,546.6 L518.9,546.6 L519.1,546.6 L519.3,546.6 L519.5,546.6 L519.7,546.6 L519.9,546.6 L520.1,546.6 L520.3,546.6 L520.5,546.6 L520.7,546.6 L520.8,546.6 L521.0,546.6 L521.2,546.6 L521.4,546.6 L521.6,546.6 L521.8,546.6 L522.0,546.6 L522.2,546.6 L522.4,546.6 L522.6,546.6 L522.8,546.6 L523.0,546.6 L523.2,546.6 L523.4,546.6 L523.5,546.6 L523.7,546.6 L523.9,546.6 L524.1,546.6 L524.3,546.6 L524.5,546.5 L524.7,546.5 L524.9,546.5 L525.1,546.5 L525.3,546.5 L525.5,546.5 L525.7,546.5 L525.9,546.5 L526.1,546.5 L526.2,546.5 L526.4,546.4 L526.6,546.4 L526.8,546.4 L527.0,546.4 L527.2,546.4 L527.4,546.3 L527.6,546.3 L527.8,546.3 L528.0,546.2 L528.2,546.2 L528.4,546.2 L528.6,546.1 L528.7,546.1 L528.9,546.0 L529.1,546.0 L529.3,545.9 L529.5,545.9 L529.7,545.8 L529.9,545.7 L530.1,545.6 L530.3,545.5 L530.5,545.4 L530.7,545.3 L530.9,545.1 L531.1,545.0 L531.3,544.9 L531.4,544.8 L531.6,544.6 L531.8,544.5 L532.0,544.4 L532.2,544.2 L532.4,544.1 L532.6,543.9 L532.8,543.8 L533.0,543.6 L533.2,543.5 L533.4,543.3 L533.6,543.2 L533.8,543.0 L534.0,542.9 L534.1,542.7 L534.3,542.5 L534.5,542.4 L534.7,542.2 L534.9,542.1 L535.1,541.9 L535.3,541.8 L535.5,541.6 L535.7,541.4 L535.9,541.3 L536.1,541.2 L536.3,541.0 L536.5,540.9 L536.7,540.8 L536.8,540.6 L537.0,540.5 L537.2,540.4 L537.4,540.3 L537.6,540.2 L537.8,540.1 L538.0,540.0 L538.2,539.9 L538.4,539.9 L538.6,539.8 L538.8,539.8 L539.0,539.7 L539.2,539.7 L539.4,539.7 L539.5,539.6 L539.7,539.6 L539.9,539.6 L540.1,539.6 L540.3,539.6 L540.5,539.7 L540.7,539.7 L540.9,539.7 L541.1,539.8 L541.3,539.8 L541.5,539.9 L541.7,539.9 L541.9,540.0 L542.1,540.1 L542.2,540.1 L542.4,540.2 L542.6,540.3 L542.8,540.4 L543.0,540.5 L543.2,540.5 L543.4,540.6 L543.6,540.7 L543.8,540.8 L544.0,540.9 L544.2,541.0 L544.4,541.1 L544.6,541.2 L544.7,541.3 L544.9,541.4 L545.1,541.5 L545.3,541.6 L545.5,541.7 L545.7,541.8 L545.9,541.9 L546.1,542.0 L546.3,542.2 L546.5,542.3 L546.7,542.3 L546.9,542.4 L547.1,542.5 L547.3,542.6 L547.4,542.7 L547.6,542.8 L547.8,542.8 L548.0,542.9 L548.2,543.0 L548.4,543.0 L548.6,543.1 L548.8,543.2 L549.0,543.2 L549.2,543.3 L549.4,543.3 L549.6,543.4 L549.8,543.4 L550.0,543.4 L550.1,543.5 L550.3,543.5 L550.5,543.5 L550.7,543.6 L550.9,543.6 L551.1,543.6 L551.3,543.6 L551.5,543.7 L551.7,543.7 L551.9,543.7 L552.1,543.7 L552.3,543.7 L552.5,543.7 L552.7,543.7 L552.8,543.8 L553.0,543.8 L553.2,543.8 L553.4,543.8 L553.6,543.8 L553.8,543.8 L554.0,543.8 L554.2,543.8 L554.4,543.8 L554.6,543.8 L554.8,543.8 L555.0,543.8 L555.2,543.8 L555.4,543.8 L555.5,543.8 L555.7,543.8 L555.9,543.8 L556.1,543.8 L556.3,543.8 L556.5,543.8 L556.7,543.8 L556.9,543.8 L557.1,543.8 L557.3,543.8 L557.5,543.8 L557.7,543.8 L557.9,543.8 L558.1,543.8 L558.2,543.8 L558.4,543.8 L558.6,543.8 L558.8,543.8 L559.0,543.8 L559.2,543.8 L559.4,543.8 L559.6,543.8 L559.8,543.8 L560.0,543.8 L560.2,543.8 L560.4,543.8 L560.6,543.8 L560.7,543.8 L560.9,543.8 L561.1,543.8 L561.3,543.8 L561.5,543.8 L561.7,543.8 L561.9,543.8 L562.1,543.8 L562.3,543.8 L562.5,543.8 L562.7,543.7 L562.9,543.7 L563.1,543.7 L563.3,543.7 L563.4,543.7 L563.6,543.7 L563.8,543.7 L564.0,543.7 L564.2,543.7 L564.4,543.7 L564.6,543.7 L564.8,543.7 L565.0,543.7 L565.2,543.7 L565.4,543.7 L565.6,543.7 L565.8,543.6 L566.0,543.6 L566.1,543.6 L566.3,543.6 L566.5,543.6 L566.7,543.6 L566.9,543.6 L567.1,543.6 L567.3,543.6 L567.5,543.6 L567.7,543.6 L567.9,543.6 L568.1,543.5 L568.3,543.5 L568.5,543.5 L568.7,543.5 L568.8,543.5 L569.0,543.5 L569.2,543.5 L569.4,543.5 L569.6,543.5 L569.8,543.5 L570.0,543.4 L570.2,543.4 L570.4,543.4 L570.6,543.4 L570.8,543.4 L571.0,543.4 L571.2,543.4 L571.4,543.4 L571.5,543.4 L571.7,543.4 L571.9,543.4 L572.1,543.3 L572.3,543.3 L572.5,543.3 L572.7,543.3 L572.9,543.3 L573.1,543.3 L573.3,543.3 L573.5,543.3 L573.7,543.3 L573.9,543.3 L574.0,543.3 L574.2,543.3 L574.4,543.3 L574.6,543.2 L574.8,543.2 L575.0,543.2 L575.2,543.2 L575.4,543.2 L575.6,543.2 L575.8,543.2 L576.0,543.2 L576.2,543.2 L576.4,543.2 L576.6,543.2 L576.7,543.2 L576.9,543.2 L577.1,543.2 L577.3,543.2 L577.5,543.2 L577.7,543.2 L577.9,543.2 L578.1,543.2 L578.3,543.2 L578.5,543.2 L578.7,543.2 L578.9,543.2 L579.1,543.2 L579.3,543.2 L579.4,543.2 L579.6,543.2 L579.8,543.2 L580.0,543.2 L580.2,543.2 L580.4,543.2 L580.6,543.2 L580.8,543.3 L581.0,543.3 L581.2,543.3 L581.4,543.3 L581.6,543.3 L581.8,543.3 L582.0,543.3 L582.1,543.3 L582.3,543.3 L582.5,543.3 L582.7,543.3 L582.9,543.3 L583.1,543.3 L583.3,543.4 L583.5,543.4 L583.7,543.4 L583.9,543.4 L584.1,543.4 L584.3,543.4 L584.5,543.4 L584.7,543.4 L584.8,543.4 L585.0,543.4 L585.2,543.4 L585.4,543.5 L585.6,543.5 L585.8,543.5 L586.0,543.5 L586.2,543.5 L586.4,543.5 L586.6,543.5 L586.8,543.5 L587.0,543.5 L587.2,543.5 L587.4,543.6 L587.5,543.6 L587.7,543.6 L587.9,543.6 L588.1,543.6 L588.3,543.6 L588.5,543.6 L588.7,543.6 L588.9,543.6 L589.1,543.6 L589.3,543.6 L589.5,543.6 L589.7,543.7 L589.9,543.7 L590.0,543.7 L590.2,543.7 L590.4,543.7 L590.6,543.7 L590.8,543.7 L591.0,543.7 L591.2,543.7 L591.4,543.7 L591.6,543.7 L591.8,543.7 L592.0,543.7 L592.2,543.7 L592.4,543.7 L592.6,543.7 L592.7,543.8 L592.9,543.8 L593.1,543.8 L593.3,543.8 L593.5,543.8 L593.7,543.8 L593.9,543.8 L594.1,543.8 L594.3,543.8 L594.5,543.8 L594.7,543.8 L594.9,543.8 L595.1,543.8 L595.3,543.8 L595.4,543.8 L595.6,543.8 L595.8,543.8 L596.0,543.8 L596.2,543.8 L596.4,543.8 L596.6,543.8 L596.8,543.8 L597.0,543.8 L597.2,543.8 L597.4,543.8 L597.6,543.8 L597.8,543.8 L598.0,543.8 L598.1,543.8 L598.3,543.8 L598.5,543.8 L598.7,543.8 L598.9,543.8 L599.1,543.8 L599.3,543.8 L599.5,543.8 L599.7,543.8 L599.9,543.8 L600.1,543.8 L600.3,543.8 L600.5,543.8 L600.7,543.8 L600.8,543.8 L601.0,543.8 L601.2,543.8 L601.4,543.8 L601.6,543.8 L601.8,543.8 L602.0,543.8 L602.2,543.8 L602.4,543.8 L602.6,543.8 L602.8,543.8 L603.0,543.8 L603.2,543.8 L603.4,543.8 L603.5,543.8 L603.7,543.8 L603.9,543.8 L604.1,543.8 L604.3,543.8 L604.5,543.8 L604.7,543.8 L604.9,543.8 L605.1,543.8 L605.3,543.8 L605.5,543.8 L605.7,543.8 L605.9,543.8 L606.0,543.8 L606.2,543.8 L606.4,543.8 L606.6,543.8 L606.8,543.8 L607.0,543.8 L607.2,543.8 L607.4,543.8 L607.6,543.8 L607.8,543.8 L608.0,543.8 L608.2,543.8 L608.4,543.8 L608.6,543.8 L608.7,543.8 L608.9,543.8 L609.1,543.8 L609.3,543.8 L609.5,543.8 L609.7,543.8 L609.9,543.8 L610.1,543.8 L610.3,543.8 L610.5,543.8 L610.7,543.8 L610.9,543.8 L611.1,543.8 L611.3,543.8 L611.4,543.8 L611.6,543.8 L611.8,543.8 L612.0,543.8 L612.2,543.8 L612.4,543.8 L612.6,543.8 L612.8,543.8 L613.0,543.8 L613.2,543.8 L613.4,543.8 L613.6,543.8 L613.8,543.8 L614.0,543.8 L614.1,543.8 L614.3,543.8 L614.5,543.8 L614.7,543.8 L614.9,543.8 L615.1,543.8 L615.3,543.8 L615.5,543.8 L615.7,543.8 L615.9,543.8 L616.1,543.8 L616.3,543.8 L616.5,543.8 L616.7,543.8 L616.8,543.8 L617.0,543.8 L617.2,543.8 L617.4,543.8 L617.6,543.8 L617.8,543.8 L618.0,543.8 L618.2,543.8 L618.4,543.8 L618.6,543.8 L618.8,543.8 L619.0,543.8 L619.2,543.8 L619.4,543.8 L619.5,543.8 L619.7,543.8 L619.9,543.8 L620.1,543.8 L620.3,543.8 L620.5,543.8 L620.7,543.8 L620.9,543.8 L621.1,543.8 L621.3,543.8 L621.5,543.8 L621.7,543.8 L621.9,543.8 L622.0,543.8 L622.2,543.8 L622.4,543.8 L622.6,543.8 L622.8,543.8 L623.0,543.8 L623.2,543.8 L623.4,543.8 L623.6,543.8 L623.8,543.8 L624.0,543.8 L624.2,543.8 L624.4,543.8 L624.6,543.8 L624.7,543.8 L624.9,543.8 L625.1,543.8 L625.3,543.8 L625.5,543.8 L625.7,543.8 L625.9,543.8 L626.1,543.8 L626.3,543.8 L626.5,543.8 L626.7,543.8 L626.9,543.8 L627.1,543.8 L627.3,543.8 L627.4,543.8 L627.6,543.8 L627.8,543.8 L628.0,543.8 L628.2,543.8 L628.4,543.8 L628.6,543.8 L628.8,543.8 L629.0,543.8 L629.2,543.8 L629.4,543.8 L629.6,543.8 L629.8,543.8 L630.0,543.8 L630.1,543.8 L630.3,543.8 L630.5,543.8 L630.7,543.8 L630.9,543.8 L631.1,543.8 L631.3,543.8 L631.5,543.8 L631.7,543.8 L631.9,543.8 L632.1,543.8 L632.3,543.8 L632.5,543.8 L632.7,543.8 L632.8,543.8 L633.0,543.8 L633.2,543.8 L633.4,543.8 L633.6,543.8 L633.8,543.8 L634.0,543.8 L634.2,543.8 L634.4,543.8 L634.6,543.8 L634.8,543.8 L635.0,543.8 L635.2,543.8 L635.4,543.8 L635.5,543.8 L635.7,543.8 L635.9,543.8 L636.1,543.8 L636.3,543.8 L636.5,543.8 L636.7,543.8 L636.9,543.8 L637.1,543.8 L637.3,543.8 L637.5,543.8 L637.7,543.8 L637.9,543.8 L638.0,543.8 L638.2,543.8 L638.4,543.8 L638.6,543.8 L638.8,543.8 L639.0,543.8 L639.2,543.8 L639.4,543.8 L639.6,543.8 L639.8,543.8 L640.0,543.8 L640.2,543.8 L640.4,543.8 L640.6,543.8 L640.7,543.8 L640.9,543.8 L641.1,543.8 L641.3,543.8 L641.5,543.8 L641.7,543.8 L641.9,543.8 L642.1,543.8 L642.3,543.8 L642.5,543.8 L642.7,543.8 L642.9,543.8 L643.1,543.8 L643.3,543.8 L643.4,543.8 L643.6,543.8 L643.8,543.8 L644.0,543.8 L644.2,543.8 L644.4,543.8 L644.6,543.8 L644.8,543.8 L645.0,543.8 L645.2,543.8 L645.4,543.8 L645.6,543.8 L645.8,543.8 L646.0,543.8 L646.1,543.8 L646.3,543.8 L646.5,543.8 L646.7,543.8 L646.9,543.8 L647.1,543.8 L647.3,543.8 L647.5,543.8 L647.7,543.8 L647.9,543.8 L648.1,543.8 L648.3,543.8 L648.5,543.8 L648.7,543.8 L648.8,543.8 L649.0,543.8 L649.2,543.8 L649.4,543.8 L649.6,543.8 L649.8,543.8 L650.0,543.8 L650.2,543.8 L650.4,543.8 L650.6,543.8 L650.8,543.8 L651.0,543.8 L651.2,543.8 L651.4,543.8 L651.5,543.8 L651.7,543.8 L651.9,543.8 L652.1,543.8 L652.3,543.8 L652.5,543.8 L652.7,543.8" stroke="#1a3a78" stroke-width="1.4" fill="none" stroke-linejoin="round"/>
<path d="M479.4,546.6 L479.6,546.6 L479.8,546.6 L480.0,546.6 L480.2,546.6 L480.4,546.6 L480.6,546.6 L480.7,546.6 L480.9,546.6 L481.1,546.6 L481.3,546.6 L481.5,546.6 L481.7,546.6 L481.9,546.6 L482.1,546.6 L482.3,546.6 L482.5,546.6 L482.7,546.6 L482.9,546.6 L483.1,546.6 L483.3,546.6 L483.4,546.6 L483.6,546.6 L483.8,546.6 L484.0,546.6 L484.2,546.6 L484.4,546.6 L484.6,546.6 L484.8,546.6 L485.0,546.6 L485.2,546.6 L485.4,546.6 L485.6,546.6 L485.8,546.6 L486.0,546.6 L486.1,546.6 L486.3,546.6 L486.5,546.6 L486.7,546.6 L486.9,546.6 L487.1,546.6 L487.3,546.6 L487.5,546.6 L487.7,546.6 L487.9,546.6 L488.1,546.6 L488.3,546.6 L488.5,546.6 L488.7,546.6 L488.8,546.5 L489.0,546.5 L489.2,546.5 L489.4,546.5 L489.6,546.5 L489.8,546.4 L490.0,546.4 L490.2,546.3 L490.4,546.3 L490.6,546.2 L490.8,546.0 L491.0,545.8 L491.2,545.6 L491.4,545.3 L491.5,544.8 L491.7,544.1 L491.9,543.2 L492.1,542.0 L492.3,540.4 L492.5,538.3 L492.7,535.7 L492.9,532.4 L493.1,528.3 L493.3,523.5 L493.5,517.9 L493.7,511.5 L493.9,504.4 L494.1,496.6 L494.2,488.4 L494.4,479.7 L494.6,470.7 L494.8,461.4 L495.0,451.7 L495.2,443.2 L495.4,453.5 L495.6,463.1 L495.8,472.4 L496.0,481.3 L496.2,489.9 L496.4,498.1 L496.6,505.7 L496.7,512.7 L496.9,519.0 L497.1,524.4 L497.3,529.1 L497.5,533.0 L497.7,536.2 L497.9,538.8 L498.1,540.7 L498.3,542.3 L498.5,543.4 L498.7,544.3 L498.9,544.9 L499.1,545.3 L499.3,545.6 L499.4,545.9 L499.6,546.1 L499.8,546.2 L500.0,546.3 L500.2,546.3 L500.4,546.4 L500.6,546.4 L500.8,546.5 L501.0,546.5 L501.2,546.5 L501.4,546.5 L501.6,546.5 L501.8,546.6 L502.0,546.6 L502.1,546.6 L502.3,546.6 L502.5,546.6 L502.7,546.6 L502.9,546.6 L503.1,546.6 L503.3,546.6 L503.5,546.6 L503.7,546.6 L503.9,546.6 L504.1,546.6 L504.3,546.6 L504.5,546.6 L504.7,546.6 L504.8,546.6 L505.0,546.6 L505.2,546.6 L505.4,546.6 L505.6,546.6 L505.8,546.6 L506.0,546.6 L506.2,546.6 L506.4,546.6 L506.6,546.6 L506.8,546.6 L507.0,546.6 L507.2,546.6 L507.4,546.6 L507.5,546.6 L507.7,546.6 L507.9,546.6 L508.1,546.6 L508.3,546.6 L508.5,546.6 L508.7,546.6 L508.9,546.6 L509.1,546.6 L509.3,546.6 L509.5,546.6 L509.7,546.6 L509.9,546.6 L510.1,546.6 L510.2,546.6 L510.4,546.6 L510.6,546.6 L510.8,546.6 L511.0,546.6 L511.2,546.6 L511.4,546.6 L511.6,546.6 L511.8,546.6 L512.0,546.6 L512.2,546.6 L512.4,546.6 L512.6,546.6 L512.7,546.6 L512.9,546.6 L513.1,546.6 L513.3,546.6 L513.5,546.6 L513.7,546.6 L513.9,546.6 L514.1,546.6 L514.3,546.6 L514.5,546.6 L514.7,546.6 L514.9,546.6 L515.1,546.6 L515.3,546.6 L515.4,546.6 L515.6,546.6 L515.8,546.6 L516.0,546.6 L516.2,546.6 L516.4,546.6 L516.6,546.6 L516.8,546.6 L517.0,546.6 L517.2,546.6 L517.4,546.6 L517.6,546.6 L517.8,546.6 L518.0,546.6 L518.1,546.6 L518.3,546.6 L518.5,546.6 L518.7,546.6 L518.9,546.6 L519.1,546.6 L519.3,546.6 L519.5,546.6 L519.7,546.6 L519.9,546.6 L520.1,546.6 L520.3,546.6 L520.5,546.6 L520.7,546.6 L520.8,546.6 L521.0,546.6 L521.2,546.6 L521.4,546.6 L521.6,546.6 L521.8,546.6 L522.0,546.6 L522.2,546.6 L522.4,546.6 L522.6,546.6 L522.8,546.6 L523.0,546.6 L523.2,546.6 L523.4,546.6 L523.5,546.6 L523.7,546.6 L523.9,546.6 L524.1,546.6 L524.3,546.5 L524.5,546.5 L524.7,546.5 L524.9,546.5 L525.1,546.5 L525.3,546.5 L525.5,546.5 L525.7,546.4 L525.9,546.4 L526.1,546.4 L526.2,546.3 L526.4,546.3 L526.6,546.3 L526.8,546.2 L527.0,546.1 L527.2,546.1 L527.4,546.0 L527.6,545.9 L527.8,545.8 L528.0,545.7 L528.2,545.6 L528.4,545.5 L528.6,545.3 L528.7,545.2 L528.9,545.0 L529.1,544.8 L529.3,544.6 L529.5,544.4 L529.7,544.2 L529.9,543.9 L530.1,543.6 L530.3,543.3 L530.5,543.0 L530.7,542.7 L530.9,542.3 L531.1,541.9 L531.3,541.5 L531.4,541.1 L531.6,540.6 L531.8,540.0 L532.0,539.5 L532.2,539.0 L532.4,538.4 L532.6,537.8 L532.8,537.2 L533.0,536.6 L533.2,536.0 L533.4,535.3 L533.6,534.7 L533.8,534.1 L534.0,533.4 L534.1,532.8 L534.3,532.2 L534.5,531.6 L534.7,531.0 L534.9,530.4 L535.1,529.8 L535.3,529.3 L535.5,528.8 L535.7,528.3 L535.9,527.9 L536.1,527.4 L536.3,527.1 L536.5,526.7 L536.7,526.5 L536.8,526.2 L537.0,526.0 L537.2,525.9 L537.4,525.8 L537.6,525.7 L537.8,525.7 L538.0,525.8 L538.2,525.9 L538.4,526.0 L538.6,526.2 L538.8,526.4 L539.0,526.7 L539.2,527.0 L539.4,527.4 L539.5,527.8 L539.7,528.2 L539.9,528.6 L540.1,529.1 L540.3,529.6 L540.5,530.1 L540.7,530.6 L540.9,531.1 L541.1,531.7 L541.3,532.2 L541.5,532.8 L541.7,533.4 L541.9,533.9 L542.1,534.4 L542.2,535.0 L542.4,535.5 L542.6,536.0 L542.8,536.5 L543.0,537.0 L543.2,537.5 L543.4,538.0 L543.6,538.5 L543.8,538.9 L544.0,539.3 L544.2,539.8 L544.4,540.1 L544.6,540.5 L544.7,540.8 L544.9,541.2 L545.1,541.5 L545.3,541.7 L545.5,542.0 L545.7,542.2 L545.9,542.5 L546.1,542.7 L546.3,542.9 L546.5,543.0 L546.7,543.2 L546.9,543.3 L547.1,543.5 L547.3,543.6 L547.4,543.7 L547.6,543.8 L547.8,543.9 L548.0,543.9 L548.2,544.0 L548.4,544.1 L548.6,544.1 L548.8,544.2 L549.0,544.2 L549.2,544.3 L549.4,544.3 L549.6,544.3 L549.8,544.4 L550.0,544.4 L550.1,544.4 L550.3,544.4 L550.5,544.4 L550.7,544.4 L550.9,544.4 L551.1,544.5 L551.3,544.5 L551.5,544.5 L551.7,544.5 L551.9,544.5 L552.1,544.5 L552.3,544.5 L552.5,544.5 L552.7,544.4 L552.8,544.4 L553.0,544.4 L553.2,544.4 L553.4,544.4 L553.6,544.4 L553.8,544.4 L554.0,544.4 L554.2,544.4 L554.4,544.4 L554.6,544.4 L554.8,544.3 L555.0,544.3 L555.2,544.3 L555.4,544.3 L555.5,544.3 L555.7,544.3 L555.9,544.3 L556.1,544.3 L556.3,544.2 L556.5,544.2 L556.7,544.2 L556.9,544.2 L557.1,544.2 L557.3,544.2 L557.5,544.2 L557.7,544.1 L557.9,544.1 L558.1,544.1 L558.2,544.1 L558.4,544.1 L558.6,544.1 L558.8,544.1 L559.0,544.1 L559.2,544.0 L559.4,544.0 L559.6,544.0 L559.8,544.0 L560.0,544.0 L560.2,544.0 L560.4,544.0 L560.6,544.0 L560.7,544.0 L560.9,544.0 L561.1,543.9 L561.3,543.9 L561.5,543.9 L561.7,543.9 L561.9,543.9 L562.1,543.9 L562.3,543.9 L562.5,543.9 L562.7,543.9 L562.9,543.9 L563.1,543.9 L563.3,543.9 L563.4,543.8 L563.6,543.8 L563.8,543.8 L564.0,543.8 L564.2,543.8 L564.4,543.8 L564.6,543.8 L564.8,543.8 L565.0,543.8 L565.2,543.8 L565.4,543.8 L565.6,543.8 L565.8,543.8 L566.0,543.8 L566.1,543.8 L566.3,543.8 L566.5,543.7 L566.7,543.7 L566.9,543.7 L567.1,543.7 L567.3,543.7 L567.5,543.7 L567.7,543.7 L567.9,543.7 L568.1,543.7 L568.3,543.7 L568.5,543.7 L568.7,543.7 L568.8,543.7 L569.0,543.7 L569.2,543.7 L569.4,543.6 L569.6,543.6 L569.8,543.6 L570.0,543.6 L570.2,543.6 L570.4,543.6 L570.6,543.6 L570.8,543.6 L571.0,543.6 L571.2,543.6 L571.4,543.6 L571.5,543.6 L571.7,543.6 L571.9,543.5 L572.1,543.5 L572.3,543.5 L572.5,543.5 L572.7,543.5 L572.9,543.5 L573.1,543.5 L573.3,543.5 L573.5,543.5 L573.7,543.5 L573.9,543.5 L574.0,543.5 L574.2,543.5 L574.4,543.5 L574.6,543.4 L574.8,543.4 L575.0,543.4 L575.2,543.4 L575.4,543.4 L575.6,543.4 L575.8,543.4 L576.0,543.4 L576.2,543.4 L576.4,543.4 L576.6,543.4 L576.7,543.4 L576.9,543.4 L577.1,543.4 L577.3,543.4 L577.5,543.4 L577.7,543.4 L577.9,543.4 L578.1,543.4 L578.3,543.4 L578.5,543.4 L578.7,543.4 L578.9,543.4 L579.1,543.4 L579.3,543.4 L579.4,543.4 L579.6,543.4 L579.8,543.4 L580.0,543.4 L580.2,543.4 L580.4,543.4 L580.6,543.4 L580.8,543.4 L581.0,543.4 L581.2,543.4 L581.4,543.4 L581.6,543.4 L581.8,543.4 L582.0,543.4 L582.1,543.4 L582.3,543.4 L582.5,543.4 L582.7,543.4 L582.9,543.4 L583.1,543.4 L583.3,543.4 L583.5,543.4 L583.7,543.4 L583.9,543.4 L584.1,543.4 L584.3,543.4 L584.5,543.5 L584.7,543.5 L584.8,543.5 L585.0,543.5 L585.2,543.5 L585.4,543.5 L585.6,543.5 L585.8,543.5 L586.0,543.5 L586.2,543.5 L586.4,543.5 L586.6,543.5 L586.8,543.5 L587.0,543.5 L587.2,543.5 L587.4,543.6 L587.5,543.6 L587.7,543.6 L587.9,543.6 L588.1,543.6 L588.3,543.6 L588.5,543.6 L588.7,543.6 L588.9,543.6 L589.1,543.6 L589.3,543.6 L589.5,543.6 L589.7,543.6 L589.9,543.6 L590.0,543.7 L590.2,543.7 L590.4,543.7 L590.6,543.7 L590.8,543.7 L591.0,543.7 L591.2,543.7 L591.4,543.7 L591.6,543.7 L591.8,543.7 L592.0,543.7 L592.2,543.7 L592.4,543.7 L592.6,543.7 L592.7,543.7 L592.9,543.7 L593.1,543.7 L593.3,543.7 L593.5,543.8 L593.7,543.8 L593.9,543.8 L594.1,543.8 L594.3,543.8 L594.5,543.8 L594.7,543.8 L594.9,543.8 L595.1,543.8 L595.3,543.8 L595.4,543.8 L595.6,543.8 L595.8,543.8 L596.0,543.8 L596.2,543.8 L596.4,543.8 L596.6,543.8 L596.8,543.8 L597.0,543.8 L597.2,543.8 L597.4,543.8 L597.6,543.8 L597.8,543.8 L598.0,543.8 L598.1,543.8 L598.3,543.8 L598.5,543.8 L598.7,543.8 L598.9,543.8 L599.1,543.8 L599.3,543.8 L599.5,543.8 L599.7,543.8 L599.9,543.8 L600.1,543.8 L600.3,543.8 L600.5,543.8 L600.7,543.8 L600.8,543.8 L601.0,543.8 L601.2,543.8 L601.4,543.8 L601.6,543.8 L601.8,543.8 L602.0,543.8 L602.2,543.8 L602.4,543.8 L602.6,543.8 L602.8,543.8 L603.0,543.8 L603.2,543.8 L603.4,543.8 L603.5,543.8 L603.7,543.8 L603.9,543.8 L604.1,543.8 L604.3,543.8 L604.5,543.8 L604.7,543.8 L604.9,543.8 L605.1,543.8 L605.3,543.8 L605.5,543.8 L605.7,543.8 L605.9,543.8 L606.0,543.8 L606.2,543.8 L606.4,543.8 L606.6,543.8 L606.8,543.8 L607.0,543.8 L607.2,543.8 L607.4,543.8 L607.6,543.8 L607.8,543.8 L608.0,543.8 L608.2,543.8 L608.4,543.8 L608.6,543.8 L608.7,543.8 L608.9,543.8 L609.1,543.8 L609.3,543.8 L609.5,543.8 L609.7,543.8 L609.9,543.8 L610.1,543.8 L610.3,543.8 L610.5,543.8 L610.7,543.8 L610.9,543.8 L611.1,543.8 L611.3,543.8 L611.4,543.8 L611.6,543.8 L611.8,543.8 L612.0,543.8 L612.2,543.8 L612.4,543.8 L612.6,543.8 L612.8,543.8 L613.0,543.8 L613.2,543.8 L613.4,543.8 L613.6,543.8 L613.8,543.8 L614.0,543.8 L614.1,543.8 L614.3,543.8 L614.5,543.8 L614.7,543.8 L614.9,543.8 L615.1,543.8 L615.3,543.8 L615.5,543.8 L615.7,543.8 L615.9,543.8 L616.1,543.8 L616.3,543.8 L616.5,543.8 L616.7,543.8 L616.8,543.8 L617.0,543.8 L617.2,543.8 L617.4,543.8 L617.6,543.8 L617.8,543.8 L618.0,543.8 L618.2,543.8 L618.4,543.8 L618.6,543.8 L618.8,543.8 L619.0,543.8 L619.2,543.8 L619.4,543.8 L619.5,543.8 L619.7,543.8 L619.9,543.8 L620.1,543.8 L620.3,543.8 L620.5,543.8 L620.7,543.8 L620.9,543.8 L621.1,543.8 L621.3,543.8 L621.5,543.8 L621.7,543.8 L621.9,543.8 L622.0,543.8 L622.2,543.8 L622.4,543.8 L622.6,543.8 L622.8,543.8 L623.0,543.8 L623.2,543.8 L623.4,543.8 L623.6,543.8 L623.8,543.8 L624.0,543.8 L624.2,543.8 L624.4,543.8 L624.6,543.8 L624.7,543.8 L624.9,543.8 L625.1,543.8 L625.3,543.8 L625.5,543.8 L625.7,543.8 L625.9,543.8 L626.1,543.8 L626.3,543.8 L626.5,543.8 L626.7,543.8 L626.9,543.8 L627.1,543.8 L627.3,543.8 L627.4,543.8 L627.6,543.8 L627.8,543.8 L628.0,543.8 L628.2,543.8 L628.4,543.8 L628.6,543.8 L628.8,543.8 L629.0,543.8 L629.2,543.8 L629.4,543.8 L629.6,543.8 L629.8,543.8 L630.0,543.8 L630.1,543.8 L630.3,543.8 L630.5,543.8 L630.7,543.8 L630.9,543.8 L631.1,543.8 L631.3,543.8 L631.5,543.8 L631.7,543.8 L631.9,543.8 L632.1,543.8 L632.3,543.8 L632.5,543.8 L632.7,543.8 L632.8,543.8 L633.0,543.8 L633.2,543.8 L633.4,543.8 L633.6,543.8 L633.8,543.8 L634.0,543.8 L634.2,543.8 L634.4,543.8 L634.6,543.8 L634.8,543.8 L635.0,543.8 L635.2,543.8 L635.4,543.8 L635.5,543.8 L635.7,543.8 L635.9,543.8 L636.1,543.8 L636.3,543.8 L636.5,543.8 L636.7,543.8 L636.9,543.8 L637.1,543.8 L637.3,543.8 L637.5,543.8 L637.7,543.8 L637.9,543.8 L638.0,543.8 L638.2,543.8 L638.4,543.8 L638.6,543.8 L638.8,543.8 L639.0,543.8 L639.2,543.8 L639.4,543.8 L639.6,543.8 L639.8,543.8 L640.0,543.8 L640.2,543.8 L640.4,543.8 L640.6,543.8 L640.7,543.8 L640.9,543.8 L641.1,543.8 L641.3,543.8 L641.5,543.8 L641.7,543.8 L641.9,543.8 L642.1,543.8 L642.3,543.8 L642.5,543.8 L642.7,543.8 L642.9,543.8 L643.1,543.8 L643.3,543.8 L643.4,543.8 L643.6,543.8 L643.8,543.8 L644.0,543.8 L644.2,543.8 L644.4,543.8 L644.6,543.8 L644.8,543.8 L645.0,543.8 L645.2,543.8 L645.4,543.8 L645.6,543.8 L645.8,543.8 L646.0,543.8 L646.1,543.8 L646.3,543.8 L646.5,543.8 L646.7,543.8 L646.9,543.8 L647.1,543.8 L647.3,543.8 L647.5,543.8 L647.7,543.8 L647.9,543.8 L648.1,543.8 L648.3,543.8 L648.5,543.8 L648.7,543.8 L648.8,543.8 L649.0,543.8 L649.2,543.8 L649.4,543.8 L649.6,543.8 L649.8,543.8 L650.0,543.8 L650.2,543.8 L650.4,543.8 L650.6,543.8 L650.8,543.8 L651.0,543.8 L651.2,543.8 L651.4,543.8 L651.5,543.8 L651.7,543.8 L651.9,543.8 L652.1,543.8 L652.3,543.8 L652.5,543.8 L652.7,543.8" stroke="#ee1c24" stroke-width="1.4" fill="none" stroke-linejoin="round"/>
</g>
<rect x="479.4" y="417.0" width="173.30000000000007" height="141.89999999999998" fill="none" stroke="#333" stroke-width="1.1"/>
<line x1="476.4" y1="546.6" x2="479.4" y2="546.6" stroke="#333" stroke-width="1.1"/>
<text x="475.79999999999995" y="549.9" font-size="9.2" text-anchor="end" fill="#222" font-weight="normal">0</text>
<line x1="476.4" y1="514.2" x2="479.4" y2="514.2" stroke="#333" stroke-width="1.1"/>
<text x="475.79999999999995" y="517.5" font-size="9.2" text-anchor="end" fill="#222" font-weight="normal">10</text>
<line x1="476.4" y1="481.8" x2="479.4" y2="481.8" stroke="#333" stroke-width="1.1"/>
<text x="475.79999999999995" y="485.1" font-size="9.2" text-anchor="end" fill="#222" font-weight="normal">20</text>
<line x1="476.4" y1="449.4" x2="479.4" y2="449.4" stroke="#333" stroke-width="1.1"/>
<text x="475.79999999999995" y="452.7" font-size="9.2" text-anchor="end" fill="#222" font-weight="normal">30</text>
<line x1="476.4" y1="417.0" x2="479.4" y2="417.0" stroke="#333" stroke-width="1.1"/>
<text x="475.79999999999995" y="420.3" font-size="9.2" text-anchor="end" fill="#222" font-weight="normal">40</text>
<line x1="477.4" y1="530.4" x2="479.4" y2="530.4" stroke="#333" stroke-width="1"/>
<line x1="477.4" y1="498.0" x2="479.4" y2="498.0" stroke="#333" stroke-width="1"/>
<line x1="477.4" y1="465.6" x2="479.4" y2="465.6" stroke="#333" stroke-width="1"/>
<line x1="477.4" y1="433.2" x2="479.4" y2="433.2" stroke="#333" stroke-width="1"/>
<line x1="652.7" y1="546.6" x2="655.7" y2="546.6" stroke="#333" stroke-width="1.1"/>
<text x="656.7" y="549.9" font-size="9.2" text-anchor="start" fill="#222" font-weight="normal">0</text>
<line x1="652.7" y1="520.6800000000001" x2="655.7" y2="520.6800000000001" stroke="#333" stroke-width="1.1"/>
<text x="656.7" y="523.98" font-size="9.2" text-anchor="start" fill="#222" font-weight="normal">2</text>
<line x1="652.7" y1="494.76" x2="655.7" y2="494.76" stroke="#333" stroke-width="1.1"/>
<text x="656.7" y="498.06" font-size="9.2" text-anchor="start" fill="#222" font-weight="normal">4</text>
<line x1="652.7" y1="468.84000000000003" x2="655.7" y2="468.84000000000003" stroke="#333" stroke-width="1.1"/>
<text x="656.7" y="472.14000000000004" font-size="9.2" text-anchor="start" fill="#222" font-weight="normal">6</text>
<line x1="652.7" y1="442.92" x2="655.7" y2="442.92" stroke="#333" stroke-width="1.1"/>
<text x="656.7" y="446.22" font-size="9.2" text-anchor="start" fill="#222" font-weight="normal">8</text>
<line x1="652.7" y1="417.0" x2="655.7" y2="417.0" stroke="#333" stroke-width="1.1"/>
<text x="656.7" y="420.3" font-size="9.2" text-anchor="start" fill="#222" font-weight="normal">10</text>
<line x1="652.7" y1="533.64" x2="654.7" y2="533.64" stroke="#333" stroke-width="1"/>
<line x1="652.7" y1="507.72" x2="654.7" y2="507.72" stroke="#333" stroke-width="1"/>
<line x1="652.7" y1="481.8" x2="654.7" y2="481.8" stroke="#333" stroke-width="1"/>
<line x1="652.7" y1="455.88" x2="654.7" y2="455.88" stroke="#333" stroke-width="1"/>
<line x1="652.7" y1="429.96000000000004" x2="654.7" y2="429.96000000000004" stroke="#333" stroke-width="1"/>
<line x1="498.65555555555557" y1="558.9" x2="498.65555555555557" y2="561.9" stroke="#333" stroke-width="1.1"/>
<text x="498.65555555555557" y="569.7" font-size="9.2" text-anchor="middle" fill="#222" font-weight="normal">2</text>
<line x1="537.1666666666666" y1="558.9" x2="537.1666666666666" y2="561.9" stroke="#333" stroke-width="1.1"/>
<text x="537.1666666666666" y="569.7" font-size="9.2" text-anchor="middle" fill="#222" font-weight="normal">4</text>
<line x1="575.6777777777778" y1="558.9" x2="575.6777777777778" y2="561.9" stroke="#333" stroke-width="1.1"/>
<text x="575.6777777777778" y="569.7" font-size="9.2" text-anchor="middle" fill="#222" font-weight="normal">6</text>
<line x1="614.1888888888889" y1="558.9" x2="614.1888888888889" y2="561.9" stroke="#333" stroke-width="1.1"/>
<text x="614.1888888888889" y="569.7" font-size="9.2" text-anchor="middle" fill="#222" font-weight="normal">8</text>
<line x1="652.7" y1="558.9" x2="652.7" y2="561.9" stroke="#333" stroke-width="1.1"/>
<text x="652.7" y="569.7" font-size="9.2" text-anchor="middle" fill="#222" font-weight="normal">10</text>
<line x1="479.4" y1="558.9" x2="479.4" y2="560.9" stroke="#333" stroke-width="1"/>
<line x1="517.9111111111112" y1="558.9" x2="517.9111111111112" y2="560.9" stroke="#333" stroke-width="1"/>
<line x1="556.4222222222222" y1="558.9" x2="556.4222222222222" y2="560.9" stroke="#333" stroke-width="1"/>
<line x1="594.9333333333334" y1="558.9" x2="594.9333333333334" y2="560.9" stroke="#333" stroke-width="1"/>
<line x1="633.4444444444445" y1="558.9" x2="633.4444444444445" y2="560.9" stroke="#333" stroke-width="1"/>
<text x="439.6" y="426.4" font-size="19" text-anchor="start" fill="#222" font-weight="normal">j</text>
<text x="481.7" y="426.6" font-size="9.5" text-anchor="start" fill="#222" font-weight="normal">CZHE 25 <tspan font-size="6.5" baseline-shift="3.61">o</tspan>C</text>
<text x="506.6" y="491.5" font-size="9.5" text-anchor="start" fill="#1a3a78" font-weight="normal">3.94</text>
<text x="507.4" y="529.6" font-size="9.5" text-anchor="start" fill="#62aee4" font-weight="normal">1.1</text>
<text x="554.2" y="526.9" font-size="9.5" text-anchor="start" fill="#ee1c24" font-weight="bold">0.57</text>
<text x="548.6" y="537.3" font-size="9.5" text-anchor="start" fill="#f6a088" font-weight="normal">0.39</text>
<line x1="577.8" y1="501.6" x2="594.8" y2="501.6" stroke="#1a3a78" stroke-width="1.6"/>
<text x="596.5" y="504.20000000000005" font-size="7.8" text-anchor="start" fill="#222" font-weight="normal">Zn-H<tspan font-size="5.3" baseline-shift="-1.72">2</tspan>O</text>
<line x1="577.8" y1="513" x2="594.8" y2="513" stroke="#62aee4" stroke-width="1.6"/>
<text x="596.5" y="515.6" font-size="7.8" text-anchor="start" fill="#222" font-weight="normal">Zn-ClO<tspan font-size="5.3" baseline-shift="-1.72">4</tspan><tspan font-size="5.3" baseline-shift="2.96">-</tspan></text>
<line x1="577.8" y1="525.2" x2="594.8" y2="525.2" stroke="#ee1c24" stroke-width="1.6"/>
<text x="596.5" y="527.8000000000001" font-size="7.8" text-anchor="start" fill="#222" font-weight="normal">Zn-O=S (Zw)</text>
<line x1="577.8" y1="534.2" x2="594.8" y2="534.2" stroke="#f6a088" stroke-width="1.0"/>
<text x="596.5" y="536.8000000000001" font-size="7.8" text-anchor="start" fill="#222" font-weight="normal">Zn-O (Maltose)</text>
<text x="566" y="587.2" font-size="12" text-anchor="middle" fill="#222" font-weight="normal">r (Å)</text>
<text x="457.5" y="481.8" font-size="12" text-anchor="middle" fill="#222" font-weight="normal" transform="rotate(-90 457.5 481.8)">g (r)</text>
<text x="679.0" y="488.1" font-size="11.4" text-anchor="middle" fill="#222" font-weight="normal" transform="rotate(-90 679.0 488.1)">Coordination number</text>
<path d="M479.4,751.4 L480.0,751.4 L480.6,751.4 L481.1,751.4 L481.7,751.4 L482.3,751.4 L482.9,751.3 L483.5,751.3 L484.1,751.3 L484.6,751.3 L485.2,751.3 L485.8,751.2 L486.4,751.2 L487.0,751.2 L487.5,751.2 L488.1,751.1 L488.7,751.1 L489.3,751.1 L489.9,751.0 L490.5,751.0 L491.0,751.0 L491.6,750.9 L492.2,750.9 L492.8,750.9 L493.4,750.8 L493.9,750.8 L494.5,750.8 L495.1,750.7 L495.7,750.7 L496.3,750.7 L496.9,750.6 L497.4,750.6 L498.0,750.5 L498.6,750.5 L499.2,750.4 L499.8,750.4 L500.3,750.3 L500.9,750.3 L501.5,750.2 L502.1,750.2 L502.7,750.1 L503.3,750.0 L503.8,750.0 L504.4,749.9 L505.0,749.8 L505.6,749.8 L506.2,749.7 L506.8,749.6 L507.3,749.5 L507.9,749.4 L508.5,749.4 L509.1,749.3 L509.7,749.2 L510.2,749.1 L510.8,749.0 L511.4,749.0 L512.0,748.9 L512.6,748.8 L513.2,748.7 L513.7,748.6 L514.3,748.5 L514.9,748.5 L515.5,748.4 L516.1,748.3 L516.6,748.2 L517.2,748.1 L517.8,748.0 L518.4,747.9 L519.0,747.8 L519.6,747.7 L520.1,747.6 L520.7,747.6 L521.3,747.5 L521.9,747.4 L522.5,747.3 L523.0,747.2 L523.6,747.1 L524.2,747.0 L524.8,746.9 L525.4,746.8 L526.0,746.7 L526.5,746.5 L527.1,746.4 L527.7,746.3 L528.3,746.2 L528.9,746.1 L529.4,746.0 L530.0,745.9 L530.6,745.8 L531.2,745.7 L531.8,745.6 L532.4,745.4 L532.9,745.3 L533.5,745.2 L534.1,745.1 L534.7,745.0 L535.3,744.9 L535.8,744.7 L536.4,744.6 L537.0,744.5 L537.6,744.4 L538.2,744.3 L538.8,744.1 L539.3,744.0 L539.9,743.9 L540.5,743.8 L541.1,743.6 L541.7,743.5 L542.2,743.4 L542.8,743.2 L543.4,743.1 L544.0,743.0 L544.6,742.9 L545.2,742.7 L545.7,742.6 L546.3,742.5 L546.9,742.3 L547.5,742.2 L548.1,742.1 L548.7,741.9 L549.2,741.8 L549.8,741.6 L550.4,741.5 L551.0,741.4 L551.6,741.2 L552.1,741.1 L552.7,740.9 L553.3,740.8 L553.9,740.6 L554.5,740.5 L555.1,740.3 L555.6,740.2 L556.2,740.0 L556.8,739.9 L557.4,739.7 L558.0,739.6 L558.5,739.4 L559.1,739.2 L559.7,739.1 L560.3,738.9 L560.9,738.7 L561.5,738.6 L562.0,738.4 L562.6,738.2 L563.2,738.1 L563.8,737.9 L564.4,737.7 L564.9,737.5 L565.5,737.4 L566.1,737.2 L566.7,737.0 L567.3,736.8 L567.9,736.7 L568.4,736.5 L569.0,736.3 L569.6,736.1 L570.2,735.9 L570.8,735.8 L571.3,735.6 L571.9,735.4 L572.5,735.2 L573.1,735.0 L573.7,734.8 L574.3,734.6 L574.8,734.5 L575.4,734.3 L576.0,734.1 L576.6,733.9 L577.2,733.7 L577.7,733.5 L578.3,733.3 L578.9,733.1 L579.5,732.9 L580.1,732.7 L580.7,732.5 L581.2,732.4 L581.8,732.2 L582.4,732.0 L583.0,731.8 L583.6,731.6 L584.1,731.4 L584.7,731.2 L585.3,731.0 L585.9,730.8 L586.5,730.6 L587.1,730.4 L587.6,730.2 L588.2,730.0 L588.8,729.8 L589.4,729.6 L590.0,729.4 L590.6,729.2 L591.1,729.0 L591.7,728.8 L592.3,728.6 L592.9,728.4 L593.5,728.2 L594.0,728.0 L594.6,727.8 L595.2,727.5 L595.8,727.3 L596.4,727.1 L597.0,726.9 L597.5,726.7 L598.1,726.5 L598.7,726.3 L599.3,726.0 L599.9,725.8 L600.4,725.6 L601.0,725.4 L601.6,725.2 L602.2,724.9 L602.8,724.7 L603.4,724.5 L603.9,724.3 L604.5,724.1 L605.1,723.8 L605.7,723.6 L606.3,723.4 L606.8,723.1 L607.4,722.9 L608.0,722.7 L608.6,722.5 L609.2,722.2 L609.8,722.0 L610.3,721.8 L610.9,721.5 L611.5,721.3 L612.1,721.0 L612.7,720.8 L613.2,720.6 L613.8,720.3 L614.4,720.1 L615.0,719.8 L615.6,719.6 L616.2,719.4 L616.7,719.1 L617.3,718.9 L617.9,718.6 L618.5,718.4 L619.1,718.1 L619.6,717.9 L620.2,717.6 L620.8,717.3 L621.4,717.1 L622.0,716.8 L622.6,716.5 L623.1,716.2 L623.7,716.0 L624.3,715.7 L624.9,715.4 L625.5,715.1 L626.0,714.8 L626.6,714.5 L627.2,714.2 L627.8,713.9 L628.4,713.7 L629.0,713.4 L629.5,713.1 L630.1,712.8 L630.7,712.5 L631.3,712.2 L631.9,711.9 L632.5,711.7 L633.0,711.4 L633.6,711.1 L634.2,710.9 L634.8,710.6 L635.4,710.3 L635.9,710.1 L636.5,709.8 L637.1,709.6 L637.7,709.3 L638.3,709.0 L638.9,708.7 L639.4,708.5 L640.0,708.2 L640.6,707.9 L641.2,707.7 L641.8,707.4 L642.3,707.2 L642.9,706.9 L643.5,706.7 L644.1,706.5 L644.7,706.3 L645.3,706.2 L645.8,706.0 L646.4,705.9 L647.0,705.8 L647.6,705.7 L648.2,705.6 L648.7,705.6 L649.3,705.5 L649.9,705.4 L650.5,705.3 L651.1,705.3 L651.7,705.2 L652.2,705.2 L652.8,705.2 L653.4,705.1" stroke="#4a88c8" stroke-width="1.1" fill="none" stroke-linejoin="round"/>
<path d="M479.4,751.4 L480.0,751.4 L480.6,751.4 L481.1,751.4 L481.7,751.4 L482.3,751.3 L482.9,751.3 L483.5,751.3 L484.1,751.3 L484.6,751.2 L485.2,751.2 L485.8,751.2 L486.4,751.1 L487.0,751.1 L487.5,751.0 L488.1,751.0 L488.7,750.9 L489.3,750.9 L489.9,750.8 L490.5,750.8 L491.0,750.7 L491.6,750.7 L492.2,750.6 L492.8,750.6 L493.4,750.5 L493.9,750.4 L494.5,750.4 L495.1,750.3 L495.7,750.2 L496.3,750.2 L496.9,750.1 L497.4,750.0 L498.0,750.0 L498.6,749.9 L499.2,749.8 L499.8,749.7 L500.3,749.6 L500.9,749.5 L501.5,749.4 L502.1,749.2 L502.7,749.1 L503.3,749.0 L503.8,748.8 L504.4,748.7 L505.0,748.6 L505.6,748.4 L506.2,748.3 L506.8,748.1 L507.3,748.0 L507.9,747.8 L508.5,747.6 L509.1,747.5 L509.7,747.3 L510.2,747.1 L510.8,747.0 L511.4,746.8 L512.0,746.6 L512.6,746.5 L513.2,746.3 L513.7,746.1 L514.3,745.9 L514.9,745.8 L515.5,745.6 L516.1,745.4 L516.6,745.2 L517.2,745.0 L517.8,744.9 L518.4,744.7 L519.0,744.5 L519.6,744.3 L520.1,744.1 L520.7,743.9 L521.3,743.7 L521.9,743.5 L522.5,743.2 L523.0,743.0 L523.6,742.8 L524.2,742.6 L524.8,742.4 L525.4,742.2 L526.0,741.9 L526.5,741.7 L527.1,741.5 L527.7,741.2 L528.3,741.0 L528.9,740.8 L529.4,740.5 L530.0,740.3 L530.6,740.0 L531.2,739.8 L531.8,739.5 L532.4,739.3 L532.9,739.0 L533.5,738.8 L534.1,738.5 L534.7,738.3 L535.3,738.0 L535.8,737.8 L536.4,737.5 L537.0,737.2 L537.6,737.0 L538.2,736.7 L538.8,736.4 L539.3,736.2 L539.9,735.9 L540.5,735.6 L541.1,735.3 L541.7,735.1 L542.2,734.8 L542.8,734.5 L543.4,734.2 L544.0,734.0 L544.6,733.7 L545.2,733.4 L545.7,733.1 L546.3,732.8 L546.9,732.5 L547.5,732.3 L548.1,732.0 L548.7,731.7 L549.2,731.4 L549.8,731.1 L550.4,730.8 L551.0,730.5 L551.6,730.2 L552.1,729.9 L552.7,729.6 L553.3,729.3 L553.9,729.0 L554.5,728.7 L555.1,728.4 L555.6,728.1 L556.2,727.8 L556.8,727.4 L557.4,727.1 L558.0,726.8 L558.5,726.5 L559.1,726.2 L559.7,725.8 L560.3,725.5 L560.9,725.2 L561.5,724.8 L562.0,724.5 L562.6,724.2 L563.2,723.8 L563.8,723.5 L564.4,723.1 L564.9,722.8 L565.5,722.4 L566.1,722.1 L566.7,721.7 L567.3,721.4 L567.9,721.0 L568.4,720.6 L569.0,720.3 L569.6,719.9 L570.2,719.5 L570.8,719.1 L571.3,718.8 L571.9,718.4 L572.5,718.0 L573.1,717.6 L573.7,717.2 L574.3,716.8 L574.8,716.5 L575.4,716.1 L576.0,715.7 L576.6,715.3 L577.2,714.9 L577.7,714.5 L578.3,714.0 L578.9,713.6 L579.5,713.2 L580.1,712.8 L580.7,712.4 L581.2,712.0 L581.8,711.5 L582.4,711.1 L583.0,710.7 L583.6,710.2 L584.1,709.8 L584.7,709.3 L585.3,708.9 L585.9,708.4 L586.5,708.0 L587.1,707.5 L587.6,707.0 L588.2,706.6 L588.8,706.1 L589.4,705.6 L590.0,705.1 L590.6,704.6 L591.1,704.1 L591.7,703.6 L592.3,703.1 L592.9,702.6 L593.5,702.1 L594.0,701.5 L594.6,701.0 L595.2,700.5 L595.8,699.9 L596.4,699.4 L597.0,698.9 L597.5,698.3 L598.1,697.8 L598.7,697.2 L599.3,696.6 L599.9,696.1 L600.4,695.5 L601.0,694.9 L601.6,694.4 L602.2,693.8 L602.8,693.2 L603.4,692.6 L603.9,692.0 L604.5,691.5 L605.1,690.9 L605.7,690.3 L606.3,689.7 L606.8,689.1 L607.4,688.5 L608.0,687.9 L608.6,687.2 L609.2,686.6 L609.8,686.0 L610.3,685.4 L610.9,684.8 L611.5,684.2 L612.1,683.5 L612.7,682.9 L613.2,682.3 L613.8,681.7 L614.4,681.0 L615.0,680.4 L615.6,679.8 L616.2,679.1 L616.7,678.5 L617.3,677.9 L617.9,677.2 L618.5,676.6 L619.1,676.0 L619.6,675.3 L620.2,674.7 L620.8,674.0 L621.4,673.3 L622.0,672.7 L622.6,672.0 L623.1,671.4 L623.7,670.7 L624.3,670.0 L624.9,669.3 L625.5,668.6 L626.0,668.0 L626.6,667.3 L627.2,666.6 L627.8,665.9 L628.4,665.2 L629.0,664.5 L629.5,663.8 L630.1,663.1 L630.7,662.3 L631.3,661.6 L631.9,660.9 L632.5,660.2 L633.0,659.5 L633.6,658.7 L634.2,658.0 L634.8,657.3 L635.4,656.5 L635.9,655.8 L636.5,655.0 L637.1,654.3 L637.7,653.5 L638.3,652.8 L638.9,652.0 L639.4,651.2 L640.0,650.5 L640.6,649.7 L641.2,648.9 L641.8,648.1 L642.3,647.4 L642.9,646.6 L643.5,645.8 L644.1,645.0 L644.7,644.2 L645.3,643.4 L645.8,642.6 L646.4,641.8 L647.0,641.0 L647.6,640.2 L648.2,639.4 L648.7,638.6 L649.3,637.8 L649.9,637.0 L650.5,636.2 L651.1,635.3 L651.7,634.5 L652.2,633.7 L652.8,632.9 L653.4,632.0" stroke="#d8405a" stroke-width="1.1" fill="none" stroke-linejoin="round"/>
<rect x="479.4" y="608.5" width="174.0" height="142.89999999999998" fill="none" stroke="#333" stroke-width="1.1"/>
<line x1="476.4" y1="751.4" x2="479.4" y2="751.4" stroke="#333" stroke-width="1.1"/>
<text x="475.59999999999997" y="754.6" font-size="10" text-anchor="end" fill="#222" font-weight="normal">0</text>
<line x1="476.4" y1="725.56" x2="479.4" y2="725.56" stroke="#333" stroke-width="1.1"/>
<text x="475.59999999999997" y="728.76" font-size="8.6" text-anchor="end" fill="#222" font-weight="normal">1×10<tspan font-size="5.8" baseline-shift="3.27">5</tspan></text>
<line x1="476.4" y1="699.72" x2="479.4" y2="699.72" stroke="#333" stroke-width="1.1"/>
<text x="475.59999999999997" y="702.9200000000001" font-size="8.6" text-anchor="end" fill="#222" font-weight="normal">2×10<tspan font-size="5.8" baseline-shift="3.27">5</tspan></text>
<line x1="476.4" y1="673.88" x2="479.4" y2="673.88" stroke="#333" stroke-width="1.1"/>
<text x="475.59999999999997" y="677.08" font-size="8.6" text-anchor="end" fill="#222" font-weight="normal">3×10<tspan font-size="5.8" baseline-shift="3.27">5</tspan></text>
<line x1="476.4" y1="648.04" x2="479.4" y2="648.04" stroke="#333" stroke-width="1.1"/>
<text x="475.59999999999997" y="651.24" font-size="8.6" text-anchor="end" fill="#222" font-weight="normal">4×10<tspan font-size="5.8" baseline-shift="3.27">5</tspan></text>
<line x1="476.4" y1="622.2" x2="479.4" y2="622.2" stroke="#333" stroke-width="1.1"/>
<text x="475.59999999999997" y="625.4000000000001" font-size="8.6" text-anchor="end" fill="#222" font-weight="normal">5×10<tspan font-size="5.8" baseline-shift="3.27">5</tspan></text>
<line x1="477.4" y1="738.48" x2="479.4" y2="738.48" stroke="#333" stroke-width="1"/>
<line x1="477.4" y1="712.64" x2="479.4" y2="712.64" stroke="#333" stroke-width="1"/>
<line x1="477.4" y1="686.8" x2="479.4" y2="686.8" stroke="#333" stroke-width="1"/>
<line x1="477.4" y1="660.96" x2="479.4" y2="660.96" stroke="#333" stroke-width="1"/>
<line x1="477.4" y1="635.12" x2="479.4" y2="635.12" stroke="#333" stroke-width="1"/>
<line x1="479.4" y1="751.4" x2="479.4" y2="754.4" stroke="#333" stroke-width="1.1"/>
<text x="479.4" y="762.9" font-size="9.2" text-anchor="middle" fill="#222" font-weight="normal">0</text>
<line x1="514.1999999999999" y1="751.4" x2="514.1999999999999" y2="754.4" stroke="#333" stroke-width="1.1"/>
<text x="514.1999999999999" y="762.9" font-size="9.2" text-anchor="middle" fill="#222" font-weight="normal">20</text>
<line x1="549.0" y1="751.4" x2="549.0" y2="754.4" stroke="#333" stroke-width="1.1"/>
<text x="549.0" y="762.9" font-size="9.2" text-anchor="middle" fill="#222" font-weight="normal">40</text>
<line x1="583.8" y1="751.4" x2="583.8" y2="754.4" stroke="#333" stroke-width="1.1"/>
<text x="583.8" y="762.9" font-size="9.2" text-anchor="middle" fill="#222" font-weight="normal">60</text>
<line x1="618.5999999999999" y1="751.4" x2="618.5999999999999" y2="754.4" stroke="#333" stroke-width="1.1"/>
<text x="618.5999999999999" y="762.9" font-size="9.2" text-anchor="middle" fill="#222" font-weight="normal">80</text>
<line x1="653.4" y1="751.4" x2="653.4" y2="754.4" stroke="#333" stroke-width="1.1"/>
<text x="653.4" y="762.9" font-size="9.2" text-anchor="middle" fill="#222" font-weight="normal">100</text>
<line x1="496.79999999999995" y1="751.4" x2="496.79999999999995" y2="753.4" stroke="#333" stroke-width="1"/>
<line x1="531.6" y1="751.4" x2="531.6" y2="753.4" stroke="#333" stroke-width="1"/>
<line x1="566.4" y1="751.4" x2="566.4" y2="753.4" stroke="#333" stroke-width="1"/>
<line x1="601.1999999999999" y1="751.4" x2="601.1999999999999" y2="753.4" stroke="#333" stroke-width="1"/>
<line x1="636.0" y1="751.4" x2="636.0" y2="753.4" stroke="#333" stroke-width="1"/>
<line x1="481.2" y1="615.5" x2="499.7" y2="615.5" stroke="#d8405a" stroke-width="1.1"/>
<line x1="481.2" y1="626.9" x2="499.7" y2="626.9" stroke="#4a88c8" stroke-width="1.1"/>
<text x="502.2" y="618.7" font-size="8.6" text-anchor="start" fill="#222" font-weight="normal">CZHE(Zn<tspan font-size="5.8" baseline-shift="3.27">2+</tspan>)</text>
<text x="502.2" y="630.1" font-size="8.6" text-anchor="start" fill="#222" font-weight="normal">LE(Zn<tspan font-size="5.8" baseline-shift="3.27">2+</tspan>)</text>
<text x="437.4" y="623.9" font-size="19" text-anchor="start" fill="#222" font-weight="normal">k</text>
<text x="566.3" y="778" font-size="12" text-anchor="middle" fill="#222" font-weight="normal">Time (ns)</text>
<text x="447.8" y="682" font-size="12" text-anchor="middle" fill="#222" font-weight="normal" transform="rotate(-90 447.8 682)">MSD (nm<tspan font-size="8.2" baseline-shift="4.56">2</tspan>)</text></svg></body></html>
